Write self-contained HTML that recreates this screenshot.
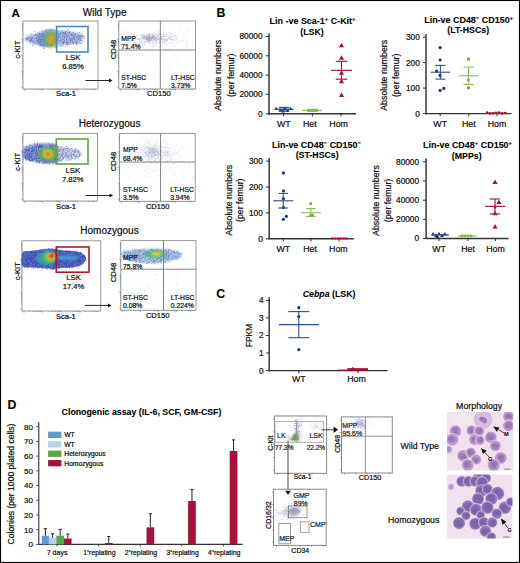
<!DOCTYPE html>
<html><head><meta charset="utf-8"><style>
html,body{margin:0;padding:0;background:#fff;width:520px;height:563px;overflow:hidden;}
svg{display:block;}
text{font-family:"Liberation Sans",sans-serif;}
</style></head><body>
<svg width="520" height="563" viewBox="0 0 520 563" font-family="Liberation Sans, sans-serif">
<defs>
<filter id="b4" x="-50%" y="-50%" width="200%" height="200%"><feGaussianBlur stdDeviation="0.4"/></filter>
<filter id="b6" x="-50%" y="-50%" width="200%" height="200%"><feGaussianBlur stdDeviation="0.6"/></filter>
<filter id="b8" x="-50%" y="-50%" width="200%" height="200%"><feGaussianBlur stdDeviation="0.8"/></filter>
<filter id="b10" x="-50%" y="-50%" width="200%" height="200%"><feGaussianBlur stdDeviation="1.0"/></filter>
<filter id="b12" x="-50%" y="-50%" width="200%" height="200%"><feGaussianBlur stdDeviation="1.2"/></filter>
<filter id="b13" x="-50%" y="-50%" width="200%" height="200%"><feGaussianBlur stdDeviation="1.3"/></filter>
<filter id="b15" x="-50%" y="-50%" width="200%" height="200%"><feGaussianBlur stdDeviation="1.5"/></filter>
<filter id="b18" x="-50%" y="-50%" width="200%" height="200%"><feGaussianBlur stdDeviation="1.8"/></filter>
<clipPath id="cwt"><rect x="447" y="412" width="66" height="58.5"/></clipPath>
<clipPath id="cho"><rect x="447" y="474.6" width="65.5" height="64"/></clipPath>
</defs>
<rect x="0" y="0" width="520" height="563" fill="#fff"/>
<rect x="23" y="21" width="75" height="68" fill="none" stroke="#999" stroke-width="1"/>
<path d="M21.2 87.0H23M25.0 89V90.8M22.1 82.2H23M30.3 89V89.9M22.1 79.4H23M33.5 89V89.9M22.1 77.4H23M35.7 89V89.9M22.1 75.8H23M37.4 89V89.9M22.1 74.5H23M38.8 89V89.9M22.1 73.5H23M40.0 89V89.9M22.1 72.6H23M41.0 89V89.9M22.1 71.7H23M41.9 89V89.9M21.2 71.0H23M42.8 89V90.8M22.1 66.2H23M48.1 89V89.9M22.1 63.4H23M51.2 89V89.9M22.1 61.4H23M53.4 89V89.9M22.1 59.8H23M55.2 89V89.9M22.1 58.5H23M56.6 89V89.9M22.1 57.5H23M57.8 89V89.9M22.1 56.6H23M58.8 89V89.9M22.1 55.7H23M59.7 89V89.9M21.2 55.0H23M60.5 89V90.8M22.1 50.2H23M65.8 89V89.9M22.1 47.4H23M69.0 89V89.9M22.1 45.4H23M71.2 89V89.9M22.1 43.8H23M72.9 89V89.9M22.1 42.5H23M74.3 89V89.9M22.1 41.5H23M75.5 89V89.9M22.1 40.6H23M76.5 89V89.9M22.1 39.7H23M77.4 89V89.9M21.2 39.0H23M78.2 89V90.8M22.1 34.2H23M83.6 89V89.9M22.1 31.4H23M86.7 89V89.9M22.1 29.4H23M88.9 89V89.9M22.1 27.8H23M90.7 89V89.9M22.1 26.5H23M92.1 89V89.9M22.1 25.5H23M93.3 89V89.9M22.1 24.6H23M94.3 89V89.9M22.1 23.7H23M95.2 89V89.9" stroke="#666" stroke-width="0.5" fill="none"/>
<path d="M25.5,37.5 C27.08,36.33 31.75,34.75 35,33.5 C38.25,32.25 42.17,30.75 45,30 C47.83,29.25 49.83,28.92 52,29 C54.17,29.08 55.00,30.08 58,30.5 C61.00,30.92 66.33,31.00 70,31.5 C73.67,32.00 77.67,32.50 80,33.5 C82.33,34.50 84.00,36.00 84,37.5 C84.00,39.00 82.33,41.42 80,42.5 C77.67,43.58 73.67,43.50 70,44 C66.33,44.50 61.33,44.92 58,45.5 C54.67,46.08 52.67,47.33 50,47.5 C47.33,47.67 44.83,47.17 42,46.5 C39.17,45.83 35.75,44.50 33,43.5 C30.25,42.50 26.75,41.50 25.5,40.5 C24.25,39.50 23.92,38.67 25.5,37.5Z" fill="#6a80c4" opacity="0.5" filter="url(#b12)"/>
<path d="M44.0 31.0h0.8v0.8h-0.8zM48.8 33.6h0.8v0.8h-0.8zM56.9 40.5h0.8v0.8h-0.8zM53.4 42.3h0.8v0.8h-0.8zM46.6 31.3h0.8v0.8h-0.8zM79.0 41.6h0.8v0.8h-0.8zM53.1 43.0h0.8v0.8h-0.8zM39.4 33.6h0.8v0.8h-0.8zM55.2 44.7h0.8v0.8h-0.8zM62.5 43.1h0.8v0.8h-0.8zM32.9 38.8h0.8v0.8h-0.8zM70.1 41.3h0.8v0.8h-0.8zM41.3 34.4h0.8v0.8h-0.8zM73.4 36.1h0.8v0.8h-0.8zM58.1 39.9h0.8v0.8h-0.8zM78.7 40.2h0.8v0.8h-0.8zM69.0 33.0h0.8v0.8h-0.8zM67.6 33.4h0.8v0.8h-0.8zM44.3 32.8h0.8v0.8h-0.8zM30.5 39.8h0.8v0.8h-0.8zM69.5 37.3h0.8v0.8h-0.8zM71.6 35.0h0.8v0.8h-0.8zM80.7 40.1h0.8v0.8h-0.8zM73.4 33.9h0.8v0.8h-0.8zM45.1 30.7h0.8v0.8h-0.8zM77.0 40.8h0.8v0.8h-0.8zM45.5 31.3h0.8v0.8h-0.8zM49.9 31.1h0.8v0.8h-0.8zM36.3 38.2h0.8v0.8h-0.8zM54.1 31.8h0.8v0.8h-0.8zM40.2 39.2h0.8v0.8h-0.8zM48.4 30.8h0.8v0.8h-0.8zM65.4 39.7h0.8v0.8h-0.8zM30.1 38.9h0.8v0.8h-0.8zM66.5 37.2h0.8v0.8h-0.8zM40.9 38.3h0.8v0.8h-0.8zM69.3 38.4h0.8v0.8h-0.8zM75.4 34.5h0.8v0.8h-0.8zM37.6 36.2h0.8v0.8h-0.8zM66.6 37.2h0.8v0.8h-0.8zM62.2 38.7h0.8v0.8h-0.8zM36.5 39.7h0.8v0.8h-0.8zM33.2 34.8h0.8v0.8h-0.8zM67.4 42.8h0.8v0.8h-0.8zM29.4 39.9h0.8v0.8h-0.8zM63.1 44.1h0.8v0.8h-0.8zM37.6 37.4h0.8v0.8h-0.8zM59.5 42.7h0.8v0.8h-0.8zM74.3 38.3h0.8v0.8h-0.8zM74.6 34.4h0.8v0.8h-0.8zM31.7 37.4h0.8v0.8h-0.8zM68.7 39.0h0.8v0.8h-0.8zM58.5 33.5h0.8v0.8h-0.8zM66.4 33.1h0.8v0.8h-0.8zM44.3 38.3h0.8v0.8h-0.8zM75.5 37.4h0.8v0.8h-0.8zM52.4 31.9h0.8v0.8h-0.8zM69.6 41.9h0.8v0.8h-0.8zM68.0 36.8h0.8v0.8h-0.8zM53.1 33.6h0.8v0.8h-0.8zM61.8 44.7h0.8v0.8h-0.8zM54.6 42.2h0.8v0.8h-0.8zM70.4 33.3h0.8v0.8h-0.8zM32.3 41.1h0.8v0.8h-0.8zM53.6 38.9h0.8v0.8h-0.8zM51.2 47.7h0.8v0.8h-0.8zM45.9 39.5h0.8v0.8h-0.8zM51.5 35.6h0.8v0.8h-0.8zM37.7 35.9h0.8v0.8h-0.8zM81.5 32.4h0.8v0.8h-0.8zM45.7 34.4h0.8v0.8h-0.8zM48.2 34.3h0.8v0.8h-0.8zM48.4 38.3h0.8v0.8h-0.8zM61.6 32.1h0.8v0.8h-0.8zM63.9 34.1h0.8v0.8h-0.8zM73.0 32.8h0.8v0.8h-0.8z" fill="#8a98d8" opacity="0.75"/><path d="M30.0 40.0h0.8v0.8h-0.8zM30.6 39.7h0.8v0.8h-0.8zM54.5 35.0h0.8v0.8h-0.8zM53.5 41.4h0.8v0.8h-0.8zM72.9 42.7h0.8v0.8h-0.8zM62.1 30.6h0.8v0.8h-0.8zM49.0 43.0h0.8v0.8h-0.8zM49.0 32.8h0.8v0.8h-0.8zM62.5 38.8h0.8v0.8h-0.8zM48.3 46.6h0.8v0.8h-0.8zM34.8 35.1h0.8v0.8h-0.8zM52.6 43.3h0.8v0.8h-0.8zM71.0 38.0h0.8v0.8h-0.8zM62.5 35.2h0.8v0.8h-0.8zM56.1 31.2h0.8v0.8h-0.8zM72.7 43.1h0.8v0.8h-0.8zM54.4 32.3h0.8v0.8h-0.8zM62.5 36.7h0.8v0.8h-0.8zM71.4 42.7h0.8v0.8h-0.8zM59.1 34.0h0.8v0.8h-0.8zM60.8 39.8h0.8v0.8h-0.8zM51.1 29.1h0.8v0.8h-0.8zM78.7 36.4h0.8v0.8h-0.8zM71.6 32.6h0.8v0.8h-0.8zM58.5 35.4h0.8v0.8h-0.8zM66.2 31.2h0.8v0.8h-0.8zM76.9 39.3h0.8v0.8h-0.8zM52.3 30.3h0.8v0.8h-0.8zM36.1 37.1h0.8v0.8h-0.8zM51.4 39.7h0.8v0.8h-0.8zM46.0 44.0h0.8v0.8h-0.8zM41.0 34.6h0.8v0.8h-0.8zM68.6 32.1h0.8v0.8h-0.8zM50.5 42.0h0.8v0.8h-0.8zM64.3 32.2h0.8v0.8h-0.8zM42.0 35.1h0.8v0.8h-0.8zM36.5 33.7h0.8v0.8h-0.8zM47.1 41.7h0.8v0.8h-0.8zM50.1 40.8h0.8v0.8h-0.8zM39.3 39.6h0.8v0.8h-0.8zM42.0 39.2h0.8v0.8h-0.8zM46.3 34.5h0.8v0.8h-0.8zM48.2 42.8h0.8v0.8h-0.8zM42.9 40.4h0.8v0.8h-0.8zM37.3 32.5h0.8v0.8h-0.8zM40.6 35.6h0.8v0.8h-0.8zM62.5 39.6h0.8v0.8h-0.8zM72.7 37.8h0.8v0.8h-0.8zM63.9 32.1h0.8v0.8h-0.8zM57.6 35.2h0.8v0.8h-0.8zM54.4 39.8h0.8v0.8h-0.8zM64.3 40.3h0.8v0.8h-0.8zM49.2 42.2h0.8v0.8h-0.8zM65.1 33.6h0.8v0.8h-0.8zM31.4 37.4h0.8v0.8h-0.8zM46.8 45.6h0.8v0.8h-0.8zM43.5 42.9h0.8v0.8h-0.8zM77.3 42.1h0.8v0.8h-0.8zM32.2 37.5h0.8v0.8h-0.8zM37.0 35.4h0.8v0.8h-0.8zM36.0 43.4h0.8v0.8h-0.8zM36.3 35.3h0.8v0.8h-0.8zM79.0 37.6h0.8v0.8h-0.8zM58.0 43.7h0.8v0.8h-0.8zM34.5 41.8h0.8v0.8h-0.8zM38.9 37.6h0.8v0.8h-0.8zM48.2 31.7h0.8v0.8h-0.8zM36.9 39.9h0.8v0.8h-0.8zM52.4 32.2h0.8v0.8h-0.8zM80.3 35.1h0.8v0.8h-0.8zM26.9 39.2h0.8v0.8h-0.8zM50.9 41.9h0.8v0.8h-0.8zM56.0 32.6h0.8v0.8h-0.8zM60.0 34.1h0.8v0.8h-0.8zM60.4 37.5h0.8v0.8h-0.8zM70.6 34.4h0.8v0.8h-0.8zM76.6 38.0h0.8v0.8h-0.8z" fill="#9098c8" opacity="0.75"/><path d="M50.7 29.3h0.8v0.8h-0.8zM53.2 41.7h0.8v0.8h-0.8zM64.8 35.8h0.8v0.8h-0.8zM38.5 40.0h0.8v0.8h-0.8zM48.0 34.6h0.8v0.8h-0.8zM70.1 39.7h0.8v0.8h-0.8zM42.0 35.6h0.8v0.8h-0.8zM51.1 31.7h0.8v0.8h-0.8zM36.5 40.5h0.8v0.8h-0.8zM62.9 42.4h0.8v0.8h-0.8zM63.4 42.4h0.8v0.8h-0.8zM75.8 41.8h0.8v0.8h-0.8zM61.4 41.6h0.8v0.8h-0.8zM44.5 40.5h0.8v0.8h-0.8zM78.2 39.1h0.8v0.8h-0.8zM51.1 38.5h0.8v0.8h-0.8zM50.0 36.2h0.8v0.8h-0.8zM45.8 31.3h0.8v0.8h-0.8zM43.5 46.6h0.8v0.8h-0.8zM76.2 43.2h0.8v0.8h-0.8zM54.6 38.7h0.8v0.8h-0.8zM35.0 42.9h0.8v0.8h-0.8zM37.8 43.3h0.8v0.8h-0.8zM47.0 39.9h0.8v0.8h-0.8zM52.2 39.1h0.8v0.8h-0.8zM28.9 34.7h0.8v0.8h-0.8zM59.6 34.8h0.8v0.8h-0.8zM63.4 34.0h0.8v0.8h-0.8zM34.1 42.1h0.8v0.8h-0.8zM63.0 32.8h0.8v0.8h-0.8zM40.8 39.1h0.8v0.8h-0.8zM26.6 38.8h0.8v0.8h-0.8zM82.6 35.4h0.8v0.8h-0.8zM67.5 42.2h0.8v0.8h-0.8zM40.1 43.9h0.8v0.8h-0.8zM76.2 41.8h0.8v0.8h-0.8zM67.7 43.9h0.8v0.8h-0.8zM56.7 41.5h0.8v0.8h-0.8zM66.4 37.7h0.8v0.8h-0.8zM67.8 36.8h0.8v0.8h-0.8zM72.5 32.6h0.8v0.8h-0.8zM76.9 39.8h0.8v0.8h-0.8zM43.7 46.2h0.8v0.8h-0.8zM53.3 35.7h0.8v0.8h-0.8zM67.2 45.4h0.8v0.8h-0.8zM55.3 42.7h0.8v0.8h-0.8zM62.5 42.0h0.8v0.8h-0.8zM43.6 35.7h0.8v0.8h-0.8zM33.4 43.7h0.8v0.8h-0.8zM43.4 39.7h0.8v0.8h-0.8zM60.2 45.5h0.8v0.8h-0.8zM41.0 34.1h0.8v0.8h-0.8zM63.5 36.9h0.8v0.8h-0.8zM39.7 44.8h0.8v0.8h-0.8zM75.7 41.8h0.8v0.8h-0.8zM43.0 32.7h0.8v0.8h-0.8zM73.0 41.6h0.8v0.8h-0.8z" fill="#4060b0" opacity="0.75"/><path d="M59.4 36.1h0.8v0.8h-0.8zM41.9 30.8h0.8v0.8h-0.8zM83.5 36.1h0.8v0.8h-0.8zM71.6 40.5h0.8v0.8h-0.8zM62.6 38.9h0.8v0.8h-0.8zM39.4 44.0h0.8v0.8h-0.8zM50.6 34.3h0.8v0.8h-0.8zM46.3 44.1h0.8v0.8h-0.8zM48.1 36.3h0.8v0.8h-0.8zM37.8 36.3h0.8v0.8h-0.8zM52.6 37.1h0.8v0.8h-0.8zM29.9 37.0h0.8v0.8h-0.8zM55.1 34.5h0.8v0.8h-0.8zM59.5 35.3h0.8v0.8h-0.8zM60.2 32.1h0.8v0.8h-0.8zM34.3 41.6h0.8v0.8h-0.8zM36.1 41.2h0.8v0.8h-0.8zM50.0 29.9h0.8v0.8h-0.8zM71.2 39.3h0.8v0.8h-0.8zM53.3 40.1h0.8v0.8h-0.8zM44.0 33.2h0.8v0.8h-0.8zM59.1 30.7h0.8v0.8h-0.8zM79.7 37.8h0.8v0.8h-0.8zM68.8 37.1h0.8v0.8h-0.8zM55.6 30.8h0.8v0.8h-0.8zM62.1 33.0h0.8v0.8h-0.8zM77.6 37.9h0.8v0.8h-0.8zM67.3 29.7h0.8v0.8h-0.8zM42.4 37.7h0.8v0.8h-0.8zM41.5 36.2h0.8v0.8h-0.8zM55.3 41.9h0.8v0.8h-0.8zM32.4 41.2h0.8v0.8h-0.8zM58.8 45.6h0.8v0.8h-0.8zM72.5 38.0h0.8v0.8h-0.8zM58.1 33.9h0.8v0.8h-0.8zM54.9 46.0h0.8v0.8h-0.8zM62.1 41.3h0.8v0.8h-0.8zM55.0 46.5h0.8v0.8h-0.8zM43.4 36.5h0.8v0.8h-0.8zM51.9 33.6h0.8v0.8h-0.8zM72.5 37.8h0.8v0.8h-0.8zM46.5 32.1h0.8v0.8h-0.8zM61.3 33.2h0.8v0.8h-0.8zM37.9 39.2h0.8v0.8h-0.8zM44.6 37.2h0.8v0.8h-0.8zM44.5 45.4h0.8v0.8h-0.8zM73.9 34.9h0.8v0.8h-0.8zM77.7 44.3h0.8v0.8h-0.8zM75.1 42.7h0.8v0.8h-0.8zM54.7 34.8h0.8v0.8h-0.8zM56.7 38.7h0.8v0.8h-0.8zM68.7 44.2h0.8v0.8h-0.8zM73.3 37.3h0.8v0.8h-0.8zM70.7 39.7h0.8v0.8h-0.8zM63.3 40.7h0.8v0.8h-0.8zM33.9 41.6h0.8v0.8h-0.8zM46.6 38.7h0.8v0.8h-0.8zM69.1 35.3h0.8v0.8h-0.8zM76.2 41.6h0.8v0.8h-0.8zM34.3 38.9h0.8v0.8h-0.8zM39.7 41.5h0.8v0.8h-0.8zM38.9 42.7h0.8v0.8h-0.8zM44.8 43.8h0.8v0.8h-0.8zM42.5 39.4h0.8v0.8h-0.8zM67.4 41.0h0.8v0.8h-0.8zM44.6 37.8h0.8v0.8h-0.8zM55.2 42.5h0.8v0.8h-0.8zM65.9 39.4h0.8v0.8h-0.8zM52.5 43.5h0.8v0.8h-0.8zM51.9 38.3h0.8v0.8h-0.8zM44.0 46.8h0.8v0.8h-0.8zM60.1 38.2h0.8v0.8h-0.8zM38.9 32.4h0.8v0.8h-0.8zM73.3 32.6h0.8v0.8h-0.8zM54.0 35.5h0.8v0.8h-0.8zM50.0 34.4h0.8v0.8h-0.8zM75.7 35.5h0.8v0.8h-0.8zM63.6 42.3h0.8v0.8h-0.8zM57.8 30.6h0.8v0.8h-0.8zM75.1 41.8h0.8v0.8h-0.8zM43.5 44.7h0.8v0.8h-0.8zM57.9 40.4h0.8v0.8h-0.8zM41.8 44.3h0.8v0.8h-0.8zM78.6 37.4h0.8v0.8h-0.8zM56.6 37.8h0.8v0.8h-0.8zM39.4 42.1h0.8v0.8h-0.8zM69.6 38.3h0.8v0.8h-0.8zM67.5 42.5h0.8v0.8h-0.8zM70.0 38.0h0.8v0.8h-0.8zM39.6 39.1h0.8v0.8h-0.8z" fill="#6f78b0" opacity="0.75"/><path d="M58.7 40.7h0.8v0.8h-0.8zM53.1 31.8h0.8v0.8h-0.8zM44.2 39.2h0.8v0.8h-0.8zM55.7 34.9h0.8v0.8h-0.8zM49.0 39.0h0.8v0.8h-0.8zM44.5 31.3h0.8v0.8h-0.8zM67.3 31.9h0.8v0.8h-0.8zM30.5 37.7h0.8v0.8h-0.8zM30.7 40.3h0.8v0.8h-0.8zM42.7 45.3h0.8v0.8h-0.8zM26.8 39.6h0.8v0.8h-0.8zM63.8 34.2h0.8v0.8h-0.8zM73.7 36.2h0.8v0.8h-0.8zM62.7 36.0h0.8v0.8h-0.8zM43.2 48.0h0.8v0.8h-0.8zM38.1 41.4h0.8v0.8h-0.8zM76.2 42.0h0.8v0.8h-0.8zM37.6 42.8h0.8v0.8h-0.8zM54.6 39.1h0.8v0.8h-0.8zM52.8 39.6h0.8v0.8h-0.8zM46.2 41.3h0.8v0.8h-0.8zM54.4 34.8h0.8v0.8h-0.8zM59.0 37.2h0.8v0.8h-0.8zM77.1 35.6h0.8v0.8h-0.8zM53.4 33.8h0.8v0.8h-0.8zM81.2 33.0h0.8v0.8h-0.8zM61.4 39.7h0.8v0.8h-0.8zM42.3 43.9h0.8v0.8h-0.8zM59.3 40.0h0.8v0.8h-0.8zM45.2 38.9h0.8v0.8h-0.8zM48.9 29.2h0.8v0.8h-0.8zM58.1 37.6h0.8v0.8h-0.8zM56.4 35.1h0.8v0.8h-0.8zM36.3 42.5h0.8v0.8h-0.8zM74.6 34.5h0.8v0.8h-0.8zM62.1 46.0h0.8v0.8h-0.8zM44.5 37.6h0.8v0.8h-0.8zM38.8 44.5h0.8v0.8h-0.8zM69.9 41.4h0.8v0.8h-0.8zM60.1 39.4h0.8v0.8h-0.8zM39.7 39.5h0.8v0.8h-0.8zM59.3 42.4h0.8v0.8h-0.8zM66.6 34.6h0.8v0.8h-0.8zM76.4 41.4h0.8v0.8h-0.8zM61.9 35.6h0.8v0.8h-0.8zM70.2 39.6h0.8v0.8h-0.8zM52.6 38.0h0.8v0.8h-0.8zM43.4 38.9h0.8v0.8h-0.8zM75.2 33.9h0.8v0.8h-0.8zM64.7 36.1h0.8v0.8h-0.8zM74.6 36.3h0.8v0.8h-0.8zM29.4 36.0h0.8v0.8h-0.8zM46.2 42.4h0.8v0.8h-0.8zM76.9 42.9h0.8v0.8h-0.8zM46.5 46.3h0.8v0.8h-0.8zM53.8 41.2h0.8v0.8h-0.8zM51.2 42.6h0.8v0.8h-0.8zM82.0 41.5h0.8v0.8h-0.8zM57.3 31.5h0.8v0.8h-0.8zM28.8 37.3h0.8v0.8h-0.8zM64.8 30.7h0.8v0.8h-0.8zM37.2 34.7h0.8v0.8h-0.8zM65.6 42.6h0.8v0.8h-0.8zM57.3 36.2h0.8v0.8h-0.8zM81.4 36.5h0.8v0.8h-0.8zM79.7 41.8h0.8v0.8h-0.8zM53.0 46.6h0.8v0.8h-0.8zM79.7 39.3h0.8v0.8h-0.8zM83.2 36.2h0.8v0.8h-0.8zM41.6 41.0h0.8v0.8h-0.8zM36.3 38.6h0.8v0.8h-0.8zM76.8 42.6h0.8v0.8h-0.8zM63.0 42.3h0.8v0.8h-0.8zM60.0 39.8h0.8v0.8h-0.8zM58.6 33.7h0.8v0.8h-0.8zM44.3 45.5h0.8v0.8h-0.8zM66.2 38.9h0.8v0.8h-0.8zM39.4 39.7h0.8v0.8h-0.8zM64.3 41.5h0.8v0.8h-0.8zM30.0 38.6h0.8v0.8h-0.8zM48.4 36.0h0.8v0.8h-0.8zM44.8 36.9h0.8v0.8h-0.8zM47.4 34.0h0.8v0.8h-0.8zM56.8 42.5h0.8v0.8h-0.8zM48.5 39.2h0.8v0.8h-0.8zM77.5 36.4h0.8v0.8h-0.8z" fill="#5a78c8" opacity="0.75"/><path d="M31.5 36.5h0.8v0.8h-0.8zM39.4 36.0h0.8v0.8h-0.8zM68.9 39.3h0.8v0.8h-0.8zM39.1 33.9h0.8v0.8h-0.8zM54.9 39.0h0.8v0.8h-0.8zM66.5 41.9h0.8v0.8h-0.8zM77.7 36.0h0.8v0.8h-0.8zM34.5 31.2h0.8v0.8h-0.8zM81.6 42.9h0.8v0.8h-0.8zM54.5 32.0h0.8v0.8h-0.8zM81.0 34.7h0.8v0.8h-0.8zM66.4 31.0h0.8v0.8h-0.8zM62.3 32.2h0.8v0.8h-0.8zM50.1 44.9h0.8v0.8h-0.8zM51.5 37.0h0.8v0.8h-0.8zM31.3 38.9h0.8v0.8h-0.8zM62.4 36.5h0.8v0.8h-0.8zM34.9 34.3h0.8v0.8h-0.8zM77.2 37.2h0.8v0.8h-0.8zM51.0 44.0h0.8v0.8h-0.8zM67.7 41.0h0.8v0.8h-0.8zM45.8 41.2h0.8v0.8h-0.8zM73.0 35.3h0.8v0.8h-0.8zM58.1 33.3h0.8v0.8h-0.8zM47.9 40.2h0.8v0.8h-0.8zM63.6 41.0h0.8v0.8h-0.8zM71.6 38.2h0.8v0.8h-0.8zM69.9 40.1h0.8v0.8h-0.8zM51.2 44.7h0.8v0.8h-0.8zM69.1 31.6h0.8v0.8h-0.8zM45.7 29.8h0.8v0.8h-0.8zM65.1 32.5h0.8v0.8h-0.8zM41.9 32.9h0.8v0.8h-0.8zM74.3 38.6h0.8v0.8h-0.8zM56.3 40.2h0.8v0.8h-0.8zM66.4 43.2h0.8v0.8h-0.8zM29.9 41.1h0.8v0.8h-0.8zM65.1 32.8h0.8v0.8h-0.8zM66.1 39.2h0.8v0.8h-0.8zM67.9 34.8h0.8v0.8h-0.8zM80.6 40.0h0.8v0.8h-0.8zM61.6 44.0h0.8v0.8h-0.8zM71.7 38.8h0.8v0.8h-0.8zM62.9 39.2h0.8v0.8h-0.8zM52.0 39.9h0.8v0.8h-0.8zM56.1 37.3h0.8v0.8h-0.8zM47.0 41.7h0.8v0.8h-0.8zM49.6 37.7h0.8v0.8h-0.8zM66.1 42.6h0.8v0.8h-0.8zM32.5 45.1h0.8v0.8h-0.8zM42.6 40.4h0.8v0.8h-0.8zM43.2 38.5h0.8v0.8h-0.8zM71.6 35.3h0.8v0.8h-0.8zM32.4 37.3h0.8v0.8h-0.8zM36.5 37.3h0.8v0.8h-0.8zM48.7 41.9h0.8v0.8h-0.8zM47.3 35.5h0.8v0.8h-0.8zM38.9 34.9h0.8v0.8h-0.8zM55.3 40.9h0.8v0.8h-0.8zM81.5 36.2h0.8v0.8h-0.8zM38.5 37.8h0.8v0.8h-0.8zM65.3 32.2h0.8v0.8h-0.8zM40.0 45.0h0.8v0.8h-0.8zM55.4 46.3h0.8v0.8h-0.8zM30.0 40.1h0.8v0.8h-0.8zM39.7 41.8h0.8v0.8h-0.8zM76.1 42.7h0.8v0.8h-0.8zM35.5 37.8h0.8v0.8h-0.8zM78.8 35.1h0.8v0.8h-0.8zM64.2 37.1h0.8v0.8h-0.8zM30.6 33.6h0.8v0.8h-0.8zM56.8 45.7h0.8v0.8h-0.8zM73.4 42.1h0.8v0.8h-0.8zM54.9 38.0h0.8v0.8h-0.8zM58.6 37.2h0.8v0.8h-0.8zM66.7 35.5h0.8v0.8h-0.8zM74.2 37.9h0.8v0.8h-0.8zM52.4 40.3h0.8v0.8h-0.8zM56.7 35.3h0.8v0.8h-0.8zM42.6 43.2h0.8v0.8h-0.8zM51.1 44.3h0.8v0.8h-0.8zM42.1 45.8h0.8v0.8h-0.8zM38.2 39.8h0.8v0.8h-0.8zM69.9 41.9h0.8v0.8h-0.8zM79.1 36.8h0.8v0.8h-0.8zM65.6 33.8h0.8v0.8h-0.8zM37.0 41.7h0.8v0.8h-0.8zM27.8 37.1h0.8v0.8h-0.8zM71.8 40.1h0.8v0.8h-0.8zM50.6 38.3h0.8v0.8h-0.8zM71.0 34.2h0.8v0.8h-0.8zM36.5 40.1h0.8v0.8h-0.8zM49.8 33.9h0.8v0.8h-0.8z" fill="#2c48a8" opacity="0.75"/><path d="M54.5 44.5h0.8v0.8h-0.8zM53.8 29.6h0.8v0.8h-0.8zM46.3 42.2h0.8v0.8h-0.8zM36.5 38.1h0.8v0.8h-0.8zM51.2 29.3h0.8v0.8h-0.8zM71.7 33.5h0.8v0.8h-0.8zM51.9 34.9h0.8v0.8h-0.8zM62.8 31.9h0.8v0.8h-0.8zM52.7 43.8h0.8v0.8h-0.8zM32.1 37.7h0.8v0.8h-0.8zM56.2 35.7h0.8v0.8h-0.8zM38.6 33.0h0.8v0.8h-0.8zM40.0 43.4h0.8v0.8h-0.8zM44.1 48.3h0.8v0.8h-0.8zM38.6 39.1h0.8v0.8h-0.8zM31.5 40.3h0.8v0.8h-0.8zM63.1 33.6h0.8v0.8h-0.8zM42.8 38.7h0.8v0.8h-0.8zM40.2 41.3h0.8v0.8h-0.8zM75.9 44.8h0.8v0.8h-0.8zM42.2 34.8h0.8v0.8h-0.8zM57.1 32.3h0.8v0.8h-0.8zM76.3 36.9h0.8v0.8h-0.8zM49.8 36.6h0.8v0.8h-0.8zM52.9 44.2h0.8v0.8h-0.8zM50.4 41.1h0.8v0.8h-0.8zM42.2 39.5h0.8v0.8h-0.8zM78.1 42.2h0.8v0.8h-0.8zM66.0 40.4h0.8v0.8h-0.8zM27.9 39.4h0.8v0.8h-0.8zM77.3 33.4h0.8v0.8h-0.8zM41.7 35.3h0.8v0.8h-0.8zM52.4 39.3h0.8v0.8h-0.8zM44.8 35.2h0.8v0.8h-0.8zM46.6 29.4h0.8v0.8h-0.8zM36.4 34.1h0.8v0.8h-0.8zM66.6 36.0h0.8v0.8h-0.8zM52.4 43.8h0.8v0.8h-0.8zM25.1 38.0h0.8v0.8h-0.8zM46.2 29.7h0.8v0.8h-0.8zM60.1 33.0h0.8v0.8h-0.8zM44.4 36.4h0.8v0.8h-0.8zM56.3 38.1h0.8v0.8h-0.8zM41.0 33.3h0.8v0.8h-0.8zM58.1 38.5h0.8v0.8h-0.8zM39.4 35.7h0.8v0.8h-0.8zM55.6 34.7h0.8v0.8h-0.8zM26.4 34.6h0.8v0.8h-0.8zM36.3 34.5h0.8v0.8h-0.8zM52.9 39.5h0.8v0.8h-0.8zM33.5 41.8h0.8v0.8h-0.8zM79.0 43.3h0.8v0.8h-0.8zM32.3 42.5h0.8v0.8h-0.8zM72.4 43.3h0.8v0.8h-0.8zM31.2 38.1h0.8v0.8h-0.8zM27.1 37.9h0.8v0.8h-0.8zM39.7 39.7h0.8v0.8h-0.8zM65.5 44.1h0.8v0.8h-0.8zM73.3 43.5h0.8v0.8h-0.8zM79.2 32.1h0.8v0.8h-0.8zM48.3 29.8h0.8v0.8h-0.8zM47.5 42.6h0.8v0.8h-0.8zM73.2 36.7h0.8v0.8h-0.8zM68.2 43.5h0.8v0.8h-0.8zM51.4 30.8h0.8v0.8h-0.8zM73.7 40.9h0.8v0.8h-0.8zM62.6 42.6h0.8v0.8h-0.8zM55.2 38.3h0.8v0.8h-0.8zM53.1 30.3h0.8v0.8h-0.8zM37.4 40.4h0.8v0.8h-0.8zM64.8 31.5h0.8v0.8h-0.8zM69.0 32.1h0.8v0.8h-0.8zM49.2 36.9h0.8v0.8h-0.8zM57.7 35.9h0.8v0.8h-0.8zM70.5 43.4h0.8v0.8h-0.8zM67.1 43.9h0.8v0.8h-0.8zM62.3 30.3h0.8v0.8h-0.8zM73.9 39.4h0.8v0.8h-0.8zM69.5 42.7h0.8v0.8h-0.8zM68.0 32.5h0.8v0.8h-0.8zM27.2 38.3h0.8v0.8h-0.8zM60.0 39.9h0.8v0.8h-0.8zM39.1 42.4h0.8v0.8h-0.8zM56.7 42.4h0.8v0.8h-0.8z" fill="#3b5bb8" opacity="0.75"/><path d="M41.3 36.5h0.8v0.8h-0.8zM48.5 36.0h0.8v0.8h-0.8zM76.2 44.6h0.8v0.8h-0.8zM82.5 35.4h0.8v0.8h-0.8zM44.5 40.8h0.8v0.8h-0.8zM75.1 36.0h0.8v0.8h-0.8zM35.4 34.8h0.8v0.8h-0.8zM75.2 39.5h0.8v0.8h-0.8zM70.7 36.2h0.8v0.8h-0.8zM59.3 35.3h0.8v0.8h-0.8zM28.6 38.8h0.8v0.8h-0.8zM36.4 44.5h0.8v0.8h-0.8zM60.6 44.6h0.8v0.8h-0.8zM42.2 39.6h0.8v0.8h-0.8zM49.7 45.9h0.8v0.8h-0.8zM30.9 38.1h0.8v0.8h-0.8zM46.2 30.9h0.8v0.8h-0.8zM73.7 44.4h0.8v0.8h-0.8zM29.5 38.4h0.8v0.8h-0.8zM75.0 33.2h0.8v0.8h-0.8zM79.2 38.3h0.8v0.8h-0.8zM52.5 30.8h0.8v0.8h-0.8zM65.0 46.5h0.8v0.8h-0.8zM58.2 37.9h0.8v0.8h-0.8zM38.6 40.5h0.8v0.8h-0.8zM68.0 31.9h0.8v0.8h-0.8zM54.5 33.5h0.8v0.8h-0.8zM82.3 34.6h0.8v0.8h-0.8zM63.9 42.1h0.8v0.8h-0.8zM45.8 42.9h0.8v0.8h-0.8zM42.5 35.0h0.8v0.8h-0.8zM51.2 33.3h0.8v0.8h-0.8zM38.7 35.6h0.8v0.8h-0.8zM74.4 33.7h0.8v0.8h-0.8zM72.5 42.2h0.8v0.8h-0.8zM33.4 42.0h0.8v0.8h-0.8zM32.5 43.5h0.8v0.8h-0.8zM54.6 41.9h0.8v0.8h-0.8zM36.6 37.6h0.8v0.8h-0.8zM54.0 44.3h0.8v0.8h-0.8zM33.5 35.0h0.8v0.8h-0.8zM49.8 40.4h0.8v0.8h-0.8zM34.9 40.1h0.8v0.8h-0.8zM62.6 34.9h0.8v0.8h-0.8zM59.9 36.2h0.8v0.8h-0.8zM35.9 40.7h0.8v0.8h-0.8zM56.0 37.3h0.8v0.8h-0.8zM41.0 33.0h0.8v0.8h-0.8zM57.4 35.3h0.8v0.8h-0.8zM39.4 33.2h0.8v0.8h-0.8zM41.7 35.8h0.8v0.8h-0.8zM52.0 39.5h0.8v0.8h-0.8zM72.1 32.7h0.8v0.8h-0.8zM75.2 41.2h0.8v0.8h-0.8zM60.9 45.6h0.8v0.8h-0.8zM56.8 42.9h0.8v0.8h-0.8zM55.5 32.2h0.8v0.8h-0.8zM42.2 34.6h0.8v0.8h-0.8zM47.9 44.7h0.8v0.8h-0.8zM52.6 42.8h0.8v0.8h-0.8zM80.1 38.1h0.8v0.8h-0.8zM55.9 37.9h0.8v0.8h-0.8zM72.0 39.1h0.8v0.8h-0.8zM77.2 35.3h0.8v0.8h-0.8zM83.9 36.9h0.8v0.8h-0.8zM44.8 31.2h0.8v0.8h-0.8zM56.7 31.6h0.8v0.8h-0.8zM70.7 34.8h0.8v0.8h-0.8zM55.4 38.1h0.8v0.8h-0.8zM66.9 37.5h0.8v0.8h-0.8zM39.4 42.3h0.8v0.8h-0.8zM63.0 37.9h0.8v0.8h-0.8zM63.6 38.0h0.8v0.8h-0.8zM30.9 42.4h0.8v0.8h-0.8zM41.0 45.1h0.8v0.8h-0.8zM64.5 39.5h0.8v0.8h-0.8zM52.6 38.0h0.8v0.8h-0.8zM79.9 38.5h0.8v0.8h-0.8zM33.7 39.1h0.8v0.8h-0.8z" fill="#a0a8d0" opacity="0.75"/><path d="M53.8 40.1h0.8v0.8h-0.8zM45.2 45.2h0.8v0.8h-0.8zM36.8 43.3h0.8v0.8h-0.8zM57.8 37.3h0.8v0.8h-0.8zM54.3 42.3h0.8v0.8h-0.8zM49.9 46.3h0.8v0.8h-0.8zM46.5 46.5h0.8v0.8h-0.8zM72.7 39.3h0.8v0.8h-0.8zM48.5 33.5h0.8v0.8h-0.8zM30.7 40.6h0.8v0.8h-0.8zM52.9 45.3h0.8v0.8h-0.8zM64.7 46.2h0.8v0.8h-0.8zM61.0 37.8h0.8v0.8h-0.8zM50.0 41.3h0.8v0.8h-0.8zM79.6 36.8h0.8v0.8h-0.8zM40.1 42.4h0.8v0.8h-0.8zM48.6 39.4h0.8v0.8h-0.8zM72.2 39.5h0.8v0.8h-0.8zM80.0 38.2h0.8v0.8h-0.8zM75.0 40.0h0.8v0.8h-0.8zM50.6 33.3h0.8v0.8h-0.8zM59.8 32.0h0.8v0.8h-0.8zM41.5 41.2h0.8v0.8h-0.8zM54.4 38.3h0.8v0.8h-0.8zM52.4 36.1h0.8v0.8h-0.8zM71.6 34.9h0.8v0.8h-0.8zM75.6 39.6h0.8v0.8h-0.8zM56.0 48.5h0.8v0.8h-0.8zM40.7 41.0h0.8v0.8h-0.8zM51.8 37.4h0.8v0.8h-0.8zM47.5 34.1h0.8v0.8h-0.8zM43.3 40.8h0.8v0.8h-0.8zM65.5 38.8h0.8v0.8h-0.8zM65.5 41.9h0.8v0.8h-0.8zM34.6 35.7h0.8v0.8h-0.8zM58.0 35.9h0.8v0.8h-0.8zM68.1 29.6h0.8v0.8h-0.8zM37.6 42.0h0.8v0.8h-0.8zM60.1 32.8h0.8v0.8h-0.8zM75.3 33.1h0.8v0.8h-0.8zM55.4 30.8h0.8v0.8h-0.8zM84.1 38.2h0.8v0.8h-0.8zM40.3 36.9h0.8v0.8h-0.8zM54.9 35.2h0.8v0.8h-0.8zM48.6 34.5h0.8v0.8h-0.8zM29.6 40.8h0.8v0.8h-0.8zM55.4 40.2h0.8v0.8h-0.8zM30.9 39.6h0.8v0.8h-0.8zM49.6 41.6h0.8v0.8h-0.8zM52.0 43.4h0.8v0.8h-0.8zM56.9 38.4h0.8v0.8h-0.8zM54.3 46.8h0.8v0.8h-0.8zM33.1 40.1h0.8v0.8h-0.8zM56.0 42.0h0.8v0.8h-0.8zM83.2 41.0h0.8v0.8h-0.8zM55.9 44.0h0.8v0.8h-0.8zM34.2 38.5h0.8v0.8h-0.8zM51.0 42.2h0.8v0.8h-0.8zM80.4 37.2h0.8v0.8h-0.8zM76.8 37.4h0.8v0.8h-0.8zM69.6 39.6h0.8v0.8h-0.8zM70.2 31.5h0.8v0.8h-0.8zM67.2 42.0h0.8v0.8h-0.8zM52.2 39.3h0.8v0.8h-0.8zM45.8 35.7h0.8v0.8h-0.8zM51.3 29.6h0.8v0.8h-0.8zM65.5 34.9h0.8v0.8h-0.8zM72.9 36.5h0.8v0.8h-0.8zM34.0 38.3h0.8v0.8h-0.8zM71.7 37.1h0.8v0.8h-0.8zM27.2 38.7h0.8v0.8h-0.8zM44.7 33.4h0.8v0.8h-0.8zM71.6 37.8h0.8v0.8h-0.8zM64.6 37.9h0.8v0.8h-0.8zM46.0 32.2h0.8v0.8h-0.8zM51.4 46.4h0.8v0.8h-0.8zM42.6 37.4h0.8v0.8h-0.8zM42.6 42.7h0.8v0.8h-0.8zM47.4 32.0h0.8v0.8h-0.8zM64.0 33.3h0.8v0.8h-0.8zM70.8 33.6h0.8v0.8h-0.8zM55.3 38.3h0.8v0.8h-0.8zM66.2 28.7h0.8v0.8h-0.8zM42.7 33.4h0.8v0.8h-0.8zM67.6 44.7h0.8v0.8h-0.8zM73.4 39.1h0.8v0.8h-0.8zM41.5 45.9h0.8v0.8h-0.8z" fill="#7088d0" opacity="0.75"/><path d="M44.9 37.9h0.8v0.8h-0.8zM64.3 35.1h0.8v0.8h-0.8zM56.6 37.9h0.8v0.8h-0.8zM40.8 44.6h0.8v0.8h-0.8zM54.5 31.7h0.8v0.8h-0.8zM46.0 45.0h0.8v0.8h-0.8zM56.4 41.4h0.8v0.8h-0.8zM77.0 37.2h0.8v0.8h-0.8zM49.2 35.6h0.8v0.8h-0.8zM29.3 43.1h0.8v0.8h-0.8zM48.1 40.0h0.8v0.8h-0.8zM26.2 38.6h0.8v0.8h-0.8zM43.6 34.1h0.8v0.8h-0.8zM66.2 34.5h0.8v0.8h-0.8zM60.7 35.0h0.8v0.8h-0.8zM51.5 40.2h0.8v0.8h-0.8zM72.2 42.6h0.8v0.8h-0.8zM66.6 40.3h0.8v0.8h-0.8zM62.9 44.7h0.8v0.8h-0.8zM48.0 35.3h0.8v0.8h-0.8zM49.4 44.3h0.8v0.8h-0.8zM80.1 36.1h0.8v0.8h-0.8zM34.7 38.7h0.8v0.8h-0.8zM37.7 36.1h0.8v0.8h-0.8zM51.4 39.7h0.8v0.8h-0.8zM54.1 36.9h0.8v0.8h-0.8zM45.1 30.7h0.8v0.8h-0.8zM38.3 40.7h0.8v0.8h-0.8zM52.3 34.6h0.8v0.8h-0.8zM47.4 38.8h0.8v0.8h-0.8zM55.7 37.5h0.8v0.8h-0.8zM59.5 34.1h0.8v0.8h-0.8zM56.9 32.8h0.8v0.8h-0.8zM64.6 41.0h0.8v0.8h-0.8zM79.5 38.2h0.8v0.8h-0.8zM37.3 42.1h0.8v0.8h-0.8zM56.5 33.1h0.8v0.8h-0.8zM47.5 42.4h0.8v0.8h-0.8zM48.2 44.3h0.8v0.8h-0.8zM52.7 36.2h0.8v0.8h-0.8zM80.1 43.1h0.8v0.8h-0.8zM71.6 41.0h0.8v0.8h-0.8zM64.0 39.7h0.8v0.8h-0.8zM67.2 36.9h0.8v0.8h-0.8zM78.9 40.2h0.8v0.8h-0.8zM43.8 36.5h0.8v0.8h-0.8zM76.0 42.1h0.8v0.8h-0.8zM70.4 43.9h0.8v0.8h-0.8zM64.2 39.7h0.8v0.8h-0.8zM72.3 35.3h0.8v0.8h-0.8zM47.3 45.2h0.8v0.8h-0.8zM75.2 36.7h0.8v0.8h-0.8zM63.9 33.8h0.8v0.8h-0.8zM54.1 33.5h0.8v0.8h-0.8zM26.3 37.8h0.8v0.8h-0.8zM55.7 34.6h0.8v0.8h-0.8zM69.7 33.5h0.8v0.8h-0.8zM44.7 43.8h0.8v0.8h-0.8zM49.7 45.5h0.8v0.8h-0.8zM68.0 30.2h0.8v0.8h-0.8zM57.3 39.2h0.8v0.8h-0.8zM40.8 38.5h0.8v0.8h-0.8zM38.8 37.0h0.8v0.8h-0.8zM70.2 35.4h0.8v0.8h-0.8zM61.0 30.6h0.8v0.8h-0.8zM48.2 43.6h0.8v0.8h-0.8zM74.3 36.5h0.8v0.8h-0.8zM37.7 37.5h0.8v0.8h-0.8zM39.3 33.8h0.8v0.8h-0.8zM56.4 44.4h0.8v0.8h-0.8zM29.9 41.8h0.8v0.8h-0.8z" fill="#8088c0" opacity="0.75"/>
<ellipse cx="46" cy="39" rx="9" ry="7" fill="#4a84a8" opacity="0.5" filter="url(#b12)"/>
<ellipse cx="50.5" cy="39" rx="6.2" ry="7.8" fill="#7cb040" opacity="0.9" filter="url(#b12)"/>
<ellipse cx="51" cy="39.5" rx="3.2" ry="4.6" fill="#d4a230" opacity="0.95" filter="url(#b8)"/>
<rect x="56.6" y="26.5" width="31.4" height="25.5" fill="none" stroke="#4a88c8" stroke-width="1.6"/>
<rect x="23" y="133.4" width="74.5" height="67.6" fill="none" stroke="#999" stroke-width="1"/>
<path d="M21.2 199.0H23M25.0 201V202.8M22.1 194.2H23M30.3 201V201.9M22.1 191.4H23M33.4 201V201.9M22.1 189.4H23M35.6 201V201.9M22.1 187.9H23M37.3 201V201.9M22.1 186.6H23M38.7 201V201.9M22.1 185.6H23M39.9 201V201.9M22.1 184.6H23M40.9 201V201.9M22.1 183.8H23M41.8 201V201.9M21.2 183.1H23M42.6 201V202.8M22.1 178.3H23M47.9 201V201.9M22.1 175.5H23M51.0 201V201.9M22.1 173.5H23M53.2 201V201.9M22.1 172.0H23M54.9 201V201.9M22.1 170.7H23M56.3 201V201.9M22.1 169.7H23M57.5 201V201.9M22.1 168.7H23M58.5 201V201.9M22.1 167.9H23M59.4 201V201.9M21.2 167.2H23M60.2 201V202.8M22.1 162.4H23M65.6 201V201.9M22.1 159.6H23M68.7 201V201.9M22.1 157.6H23M70.9 201V201.9M22.1 156.1H23M72.6 201V201.9M22.1 154.8H23M74.0 201V201.9M22.1 153.8H23M75.1 201V201.9M22.1 152.8H23M76.2 201V201.9M22.1 152.0H23M77.1 201V201.9M21.2 151.3H23M77.9 201V202.8M22.1 146.5H23M83.2 201V201.9M22.1 143.7H23M86.3 201V201.9M22.1 141.7H23M88.5 201V201.9M22.1 140.2H23M90.2 201V201.9M22.1 138.9H23M91.6 201V201.9M22.1 137.9H23M92.8 201V201.9M22.1 136.9H23M93.8 201V201.9M22.1 136.1H23M94.7 201V201.9" stroke="#666" stroke-width="0.5" fill="none"/>
<path d="M23.5,148 C24.58,145.83 27.25,145.75 30,145 C32.75,144.25 36.67,143.75 40,143.5 C43.33,143.25 47.17,143.17 50,143.5 C52.83,143.83 55.83,142.42 57,145.5 C58.17,148.58 58.50,159.00 57,162 C55.50,165.00 51.17,163.42 48,163.5 C44.83,163.58 41.00,163.00 38,162.5 C35.00,162.00 32.42,161.25 30,160.5 C27.58,159.75 24.58,160.08 23.5,158 C22.42,155.92 22.42,150.17 23.5,148Z" fill="#3850b8" opacity="0.55" filter="url(#b10)"/>
<path d="M57,146.5 C58.50,144.25 62.83,147.08 66,147.5 C69.17,147.92 73.50,148.08 76,149 C78.50,149.92 80.83,151.42 81,153 C81.17,154.58 79.50,157.42 77,158.5 C74.50,159.58 69.33,159.08 66,159.5 C62.67,159.92 58.50,163.17 57,161 C55.50,158.83 55.50,148.75 57,146.5Z" fill="#8090cc" opacity="0.35" filter="url(#b10)"/>
<path d="M44.5 144.6h0.8v0.8h-0.8zM45.9 149.3h0.8v0.8h-0.8zM33.6 147.1h0.8v0.8h-0.8zM41.8 151.9h0.8v0.8h-0.8zM43.4 157.7h0.8v0.8h-0.8zM30.0 159.6h0.8v0.8h-0.8zM24.3 150.1h0.8v0.8h-0.8zM30.0 159.4h0.8v0.8h-0.8zM29.7 154.5h0.8v0.8h-0.8zM52.2 158.5h0.8v0.8h-0.8zM49.0 156.4h0.8v0.8h-0.8zM38.4 160.5h0.8v0.8h-0.8zM26.7 155.5h0.8v0.8h-0.8zM25.4 156.3h0.8v0.8h-0.8zM36.9 160.0h0.8v0.8h-0.8zM47.0 150.7h0.8v0.8h-0.8zM41.6 145.6h0.8v0.8h-0.8zM43.7 157.0h0.8v0.8h-0.8zM55.4 155.2h0.8v0.8h-0.8zM34.9 145.8h0.8v0.8h-0.8zM41.7 161.2h0.8v0.8h-0.8zM35.9 145.7h0.8v0.8h-0.8zM31.4 157.6h0.8v0.8h-0.8zM34.7 150.2h0.8v0.8h-0.8zM41.0 159.3h0.8v0.8h-0.8zM27.7 159.5h0.8v0.8h-0.8zM56.8 159.1h0.8v0.8h-0.8zM40.9 148.8h0.8v0.8h-0.8zM32.1 159.4h0.8v0.8h-0.8zM36.3 161.2h0.8v0.8h-0.8zM41.9 160.4h0.8v0.8h-0.8zM49.6 154.4h0.8v0.8h-0.8zM45.0 143.4h0.8v0.8h-0.8zM56.3 153.3h0.8v0.8h-0.8zM39.0 143.6h0.8v0.8h-0.8zM50.1 152.3h0.8v0.8h-0.8zM29.1 158.9h0.8v0.8h-0.8zM29.3 149.9h0.8v0.8h-0.8zM30.5 153.1h0.8v0.8h-0.8zM49.5 148.7h0.8v0.8h-0.8zM44.9 154.5h0.8v0.8h-0.8zM40.5 154.7h0.8v0.8h-0.8zM42.8 158.6h0.8v0.8h-0.8zM51.0 152.2h0.8v0.8h-0.8zM34.1 145.5h0.8v0.8h-0.8zM31.5 153.6h0.8v0.8h-0.8zM26.0 156.7h0.8v0.8h-0.8zM30.0 153.7h0.8v0.8h-0.8zM37.1 148.9h0.8v0.8h-0.8zM24.7 149.5h0.8v0.8h-0.8zM32.0 159.5h0.8v0.8h-0.8zM31.6 160.4h0.8v0.8h-0.8zM53.4 154.9h0.8v0.8h-0.8zM41.3 145.9h0.8v0.8h-0.8zM43.2 144.7h0.8v0.8h-0.8zM35.2 146.0h0.8v0.8h-0.8zM44.4 158.9h0.8v0.8h-0.8zM31.5 148.6h0.8v0.8h-0.8zM50.5 147.0h0.8v0.8h-0.8zM39.5 154.8h0.8v0.8h-0.8zM30.2 150.5h0.8v0.8h-0.8zM44.0 152.7h0.8v0.8h-0.8zM45.5 149.8h0.8v0.8h-0.8zM33.3 149.5h0.8v0.8h-0.8zM55.4 161.5h0.8v0.8h-0.8zM36.5 152.6h0.8v0.8h-0.8zM44.6 162.7h0.8v0.8h-0.8zM26.8 149.8h0.8v0.8h-0.8zM37.0 155.5h0.8v0.8h-0.8zM40.5 151.5h0.8v0.8h-0.8zM40.7 152.0h0.8v0.8h-0.8zM34.0 158.3h0.8v0.8h-0.8zM53.3 151.9h0.8v0.8h-0.8zM45.2 157.2h0.8v0.8h-0.8zM43.5 151.5h0.8v0.8h-0.8zM31.1 149.3h0.8v0.8h-0.8zM40.5 152.5h0.8v0.8h-0.8zM37.1 145.2h0.8v0.8h-0.8zM44.8 149.0h0.8v0.8h-0.8zM51.9 157.3h0.8v0.8h-0.8zM51.3 159.9h0.8v0.8h-0.8zM52.0 156.8h0.8v0.8h-0.8zM28.6 144.7h0.8v0.8h-0.8zM40.4 153.9h0.8v0.8h-0.8zM27.9 150.6h0.8v0.8h-0.8zM29.2 160.0h0.8v0.8h-0.8z" fill="#7088d0" opacity="0.85"/><path d="M53.0 148.2h0.8v0.8h-0.8zM44.9 150.6h0.8v0.8h-0.8zM42.7 156.4h0.8v0.8h-0.8zM31.0 159.6h0.8v0.8h-0.8zM51.0 152.7h0.8v0.8h-0.8zM41.3 161.0h0.8v0.8h-0.8zM48.1 158.8h0.8v0.8h-0.8zM34.3 156.3h0.8v0.8h-0.8zM27.3 157.7h0.8v0.8h-0.8zM42.4 146.4h0.8v0.8h-0.8zM45.8 155.1h0.8v0.8h-0.8zM55.4 148.1h0.8v0.8h-0.8zM40.5 146.1h0.8v0.8h-0.8zM38.9 160.2h0.8v0.8h-0.8zM26.3 149.5h0.8v0.8h-0.8zM47.1 156.9h0.8v0.8h-0.8zM31.9 152.4h0.8v0.8h-0.8zM36.8 144.8h0.8v0.8h-0.8zM31.6 150.6h0.8v0.8h-0.8zM39.2 146.1h0.8v0.8h-0.8zM36.9 155.2h0.8v0.8h-0.8zM32.1 151.1h0.8v0.8h-0.8zM43.2 159.7h0.8v0.8h-0.8zM29.9 160.4h0.8v0.8h-0.8zM41.7 146.8h0.8v0.8h-0.8zM38.4 150.4h0.8v0.8h-0.8zM35.2 158.2h0.8v0.8h-0.8zM54.5 159.3h0.8v0.8h-0.8zM50.4 160.7h0.8v0.8h-0.8zM55.6 162.2h0.8v0.8h-0.8zM51.7 159.8h0.8v0.8h-0.8zM39.1 161.5h0.8v0.8h-0.8zM26.5 152.7h0.8v0.8h-0.8zM52.7 144.0h0.8v0.8h-0.8zM35.3 153.8h0.8v0.8h-0.8zM38.7 151.2h0.8v0.8h-0.8zM37.1 155.6h0.8v0.8h-0.8zM55.2 144.7h0.8v0.8h-0.8zM34.1 157.0h0.8v0.8h-0.8zM39.2 150.2h0.8v0.8h-0.8zM48.1 151.6h0.8v0.8h-0.8zM55.0 145.4h0.8v0.8h-0.8zM36.1 160.1h0.8v0.8h-0.8zM35.4 153.9h0.8v0.8h-0.8zM50.7 147.4h0.8v0.8h-0.8zM54.2 155.5h0.8v0.8h-0.8zM42.7 159.6h0.8v0.8h-0.8zM52.8 151.4h0.8v0.8h-0.8zM39.8 151.8h0.8v0.8h-0.8zM37.9 148.6h0.8v0.8h-0.8zM47.4 160.6h0.8v0.8h-0.8zM29.9 157.1h0.8v0.8h-0.8zM54.4 159.7h0.8v0.8h-0.8zM49.0 150.8h0.8v0.8h-0.8zM32.8 150.8h0.8v0.8h-0.8zM55.3 159.8h0.8v0.8h-0.8zM32.7 159.1h0.8v0.8h-0.8zM49.4 146.9h0.8v0.8h-0.8zM42.7 163.1h0.8v0.8h-0.8zM51.1 151.1h0.8v0.8h-0.8zM35.1 153.2h0.8v0.8h-0.8zM44.9 155.7h0.8v0.8h-0.8zM47.8 154.5h0.8v0.8h-0.8zM31.3 154.9h0.8v0.8h-0.8zM55.2 146.1h0.8v0.8h-0.8zM51.1 154.1h0.8v0.8h-0.8zM49.0 145.6h0.8v0.8h-0.8zM30.8 152.5h0.8v0.8h-0.8zM31.0 157.1h0.8v0.8h-0.8zM29.0 159.1h0.8v0.8h-0.8zM39.9 157.9h0.8v0.8h-0.8z" fill="#2c48a8" opacity="0.85"/><path d="M47.3 156.5h0.8v0.8h-0.8zM45.2 161.5h0.8v0.8h-0.8zM48.4 143.5h0.8v0.8h-0.8zM42.2 151.0h0.8v0.8h-0.8zM49.0 157.7h0.8v0.8h-0.8zM41.5 160.7h0.8v0.8h-0.8zM38.5 155.5h0.8v0.8h-0.8zM28.9 150.0h0.8v0.8h-0.8zM32.6 148.6h0.8v0.8h-0.8zM45.2 160.1h0.8v0.8h-0.8zM46.6 149.3h0.8v0.8h-0.8zM37.1 154.8h0.8v0.8h-0.8zM48.8 156.3h0.8v0.8h-0.8zM48.8 161.0h0.8v0.8h-0.8zM56.9 160.7h0.8v0.8h-0.8zM54.9 158.6h0.8v0.8h-0.8zM50.8 155.2h0.8v0.8h-0.8zM49.7 154.3h0.8v0.8h-0.8zM50.8 148.4h0.8v0.8h-0.8zM44.3 162.5h0.8v0.8h-0.8zM27.6 158.2h0.8v0.8h-0.8zM51.8 157.6h0.8v0.8h-0.8zM48.4 150.9h0.8v0.8h-0.8zM39.9 153.2h0.8v0.8h-0.8zM36.5 149.6h0.8v0.8h-0.8zM39.7 156.9h0.8v0.8h-0.8zM46.2 160.9h0.8v0.8h-0.8zM56.3 159.2h0.8v0.8h-0.8zM37.0 143.6h0.8v0.8h-0.8zM44.4 158.1h0.8v0.8h-0.8zM57.1 159.2h0.8v0.8h-0.8zM53.7 149.3h0.8v0.8h-0.8zM56.1 154.5h0.8v0.8h-0.8zM32.6 148.6h0.8v0.8h-0.8zM54.9 159.3h0.8v0.8h-0.8zM27.3 156.8h0.8v0.8h-0.8zM37.7 156.9h0.8v0.8h-0.8zM39.1 158.0h0.8v0.8h-0.8zM51.4 155.1h0.8v0.8h-0.8zM36.1 158.1h0.8v0.8h-0.8zM34.4 159.0h0.8v0.8h-0.8zM41.3 149.5h0.8v0.8h-0.8zM53.7 145.0h0.8v0.8h-0.8zM32.3 150.1h0.8v0.8h-0.8zM36.6 161.2h0.8v0.8h-0.8zM47.5 149.6h0.8v0.8h-0.8zM57.0 153.6h0.8v0.8h-0.8zM43.2 154.1h0.8v0.8h-0.8zM56.4 146.6h0.8v0.8h-0.8zM36.1 150.3h0.8v0.8h-0.8zM45.2 152.4h0.8v0.8h-0.8zM49.3 157.9h0.8v0.8h-0.8zM55.2 157.6h0.8v0.8h-0.8zM56.1 154.6h0.8v0.8h-0.8zM31.7 145.8h0.8v0.8h-0.8zM38.2 158.1h0.8v0.8h-0.8zM31.7 158.2h0.8v0.8h-0.8zM57.5 159.4h0.8v0.8h-0.8zM24.2 149.0h0.8v0.8h-0.8zM35.5 147.4h0.8v0.8h-0.8zM31.6 158.1h0.8v0.8h-0.8zM39.9 145.8h0.8v0.8h-0.8zM27.3 156.8h0.8v0.8h-0.8zM24.7 155.6h0.8v0.8h-0.8z" fill="#2838a8" opacity="0.85"/><path d="M39.6 151.0h0.8v0.8h-0.8zM45.2 154.7h0.8v0.8h-0.8zM42.4 153.0h0.8v0.8h-0.8zM49.5 152.9h0.8v0.8h-0.8zM37.1 158.9h0.8v0.8h-0.8zM27.3 151.6h0.8v0.8h-0.8zM45.8 149.6h0.8v0.8h-0.8zM34.0 151.5h0.8v0.8h-0.8zM30.6 158.3h0.8v0.8h-0.8zM42.1 154.6h0.8v0.8h-0.8zM44.1 160.2h0.8v0.8h-0.8zM47.4 161.9h0.8v0.8h-0.8zM34.9 147.0h0.8v0.8h-0.8zM32.5 147.0h0.8v0.8h-0.8zM39.9 151.9h0.8v0.8h-0.8zM56.8 148.8h0.8v0.8h-0.8zM46.5 152.7h0.8v0.8h-0.8zM42.6 153.7h0.8v0.8h-0.8zM32.9 152.6h0.8v0.8h-0.8zM46.1 153.4h0.8v0.8h-0.8zM47.6 161.6h0.8v0.8h-0.8zM26.7 154.8h0.8v0.8h-0.8zM37.3 160.6h0.8v0.8h-0.8zM29.0 153.9h0.8v0.8h-0.8zM33.8 154.4h0.8v0.8h-0.8zM40.7 155.7h0.8v0.8h-0.8zM50.9 149.6h0.8v0.8h-0.8zM38.1 150.5h0.8v0.8h-0.8zM27.1 153.8h0.8v0.8h-0.8zM34.7 147.2h0.8v0.8h-0.8zM27.7 150.3h0.8v0.8h-0.8zM42.5 144.6h0.8v0.8h-0.8zM47.6 147.7h0.8v0.8h-0.8zM32.1 151.7h0.8v0.8h-0.8zM37.4 158.0h0.8v0.8h-0.8zM54.1 154.0h0.8v0.8h-0.8zM35.4 151.8h0.8v0.8h-0.8zM40.5 154.7h0.8v0.8h-0.8zM47.2 151.7h0.8v0.8h-0.8zM43.2 153.7h0.8v0.8h-0.8zM41.1 155.2h0.8v0.8h-0.8zM50.4 155.6h0.8v0.8h-0.8zM26.8 149.7h0.8v0.8h-0.8zM42.2 145.2h0.8v0.8h-0.8zM52.2 149.5h0.8v0.8h-0.8zM47.7 151.4h0.8v0.8h-0.8zM32.7 150.4h0.8v0.8h-0.8zM47.0 149.1h0.8v0.8h-0.8zM25.1 150.4h0.8v0.8h-0.8zM43.6 152.8h0.8v0.8h-0.8zM56.9 152.0h0.8v0.8h-0.8zM42.8 147.5h0.8v0.8h-0.8zM49.0 161.5h0.8v0.8h-0.8zM42.6 154.3h0.8v0.8h-0.8zM56.6 161.3h0.8v0.8h-0.8zM37.8 147.3h0.8v0.8h-0.8zM42.5 150.6h0.8v0.8h-0.8zM29.2 158.2h0.8v0.8h-0.8zM54.3 160.7h0.8v0.8h-0.8z" fill="#5a78c8" opacity="0.85"/><path d="M51.8 148.9h0.8v0.8h-0.8zM43.0 146.4h0.8v0.8h-0.8zM40.9 160.4h0.8v0.8h-0.8zM40.8 145.9h0.8v0.8h-0.8zM47.2 153.6h0.8v0.8h-0.8zM35.4 151.1h0.8v0.8h-0.8zM48.1 152.3h0.8v0.8h-0.8zM34.2 155.8h0.8v0.8h-0.8zM48.2 149.0h0.8v0.8h-0.8zM53.0 162.6h0.8v0.8h-0.8zM41.3 159.3h0.8v0.8h-0.8zM35.5 161.7h0.8v0.8h-0.8zM50.4 151.1h0.8v0.8h-0.8zM34.3 149.3h0.8v0.8h-0.8zM35.4 155.2h0.8v0.8h-0.8zM56.3 151.2h0.8v0.8h-0.8zM48.4 156.0h0.8v0.8h-0.8zM30.4 147.6h0.8v0.8h-0.8zM54.5 147.6h0.8v0.8h-0.8zM38.1 155.1h0.8v0.8h-0.8zM40.6 155.9h0.8v0.8h-0.8zM29.2 148.7h0.8v0.8h-0.8zM54.2 154.8h0.8v0.8h-0.8zM26.8 153.8h0.8v0.8h-0.8zM36.4 150.8h0.8v0.8h-0.8zM40.3 143.5h0.8v0.8h-0.8zM56.1 152.0h0.8v0.8h-0.8zM52.7 148.8h0.8v0.8h-0.8zM31.6 151.6h0.8v0.8h-0.8zM54.1 149.8h0.8v0.8h-0.8zM37.5 149.1h0.8v0.8h-0.8zM50.8 160.7h0.8v0.8h-0.8zM49.2 144.5h0.8v0.8h-0.8zM36.6 162.0h0.8v0.8h-0.8zM34.6 160.5h0.8v0.8h-0.8zM44.5 147.4h0.8v0.8h-0.8zM35.1 144.8h0.8v0.8h-0.8zM30.9 155.6h0.8v0.8h-0.8zM25.8 154.5h0.8v0.8h-0.8zM52.3 146.4h0.8v0.8h-0.8zM44.9 147.9h0.8v0.8h-0.8zM52.4 157.8h0.8v0.8h-0.8zM27.5 157.8h0.8v0.8h-0.8zM30.8 153.0h0.8v0.8h-0.8zM24.2 156.5h0.8v0.8h-0.8zM50.7 159.9h0.8v0.8h-0.8zM41.6 150.4h0.8v0.8h-0.8zM50.0 145.9h0.8v0.8h-0.8zM37.4 160.4h0.8v0.8h-0.8zM39.7 147.4h0.8v0.8h-0.8zM52.1 157.2h0.8v0.8h-0.8zM45.9 163.2h0.8v0.8h-0.8zM55.8 145.9h0.8v0.8h-0.8zM42.7 157.4h0.8v0.8h-0.8zM49.2 148.8h0.8v0.8h-0.8zM54.5 162.0h0.8v0.8h-0.8zM45.3 147.0h0.8v0.8h-0.8zM37.3 146.0h0.8v0.8h-0.8zM51.0 148.4h0.8v0.8h-0.8zM31.9 158.0h0.8v0.8h-0.8zM53.7 149.6h0.8v0.8h-0.8zM45.8 150.2h0.8v0.8h-0.8zM34.8 154.6h0.8v0.8h-0.8zM55.4 157.7h0.8v0.8h-0.8zM35.4 158.2h0.8v0.8h-0.8zM49.0 153.8h0.8v0.8h-0.8z" fill="#8a98d8" opacity="0.85"/><path d="M32.3 154.3h0.8v0.8h-0.8zM47.2 157.4h0.8v0.8h-0.8zM51.2 143.9h0.8v0.8h-0.8zM43.6 156.8h0.8v0.8h-0.8zM45.0 152.3h0.8v0.8h-0.8zM36.7 143.2h0.8v0.8h-0.8zM31.3 148.3h0.8v0.8h-0.8zM29.5 156.2h0.8v0.8h-0.8zM46.3 162.4h0.8v0.8h-0.8zM30.1 160.5h0.8v0.8h-0.8zM29.0 149.2h0.8v0.8h-0.8zM36.7 153.0h0.8v0.8h-0.8zM37.2 153.7h0.8v0.8h-0.8zM34.8 151.5h0.8v0.8h-0.8zM28.3 150.7h0.8v0.8h-0.8zM36.1 147.1h0.8v0.8h-0.8zM39.2 157.7h0.8v0.8h-0.8zM40.0 159.9h0.8v0.8h-0.8zM37.3 153.3h0.8v0.8h-0.8zM50.5 145.2h0.8v0.8h-0.8zM39.1 145.0h0.8v0.8h-0.8zM49.1 162.4h0.8v0.8h-0.8zM57.2 156.8h0.8v0.8h-0.8zM48.0 155.7h0.8v0.8h-0.8zM29.0 150.0h0.8v0.8h-0.8zM29.1 157.0h0.8v0.8h-0.8zM49.7 143.9h0.8v0.8h-0.8zM35.9 153.8h0.8v0.8h-0.8zM46.1 146.1h0.8v0.8h-0.8zM31.8 155.4h0.8v0.8h-0.8zM28.7 150.0h0.8v0.8h-0.8zM42.9 149.7h0.8v0.8h-0.8zM41.1 151.7h0.8v0.8h-0.8zM40.9 146.3h0.8v0.8h-0.8zM57.0 149.2h0.8v0.8h-0.8zM32.1 156.5h0.8v0.8h-0.8zM37.5 145.2h0.8v0.8h-0.8zM39.8 151.1h0.8v0.8h-0.8zM34.1 148.4h0.8v0.8h-0.8zM56.5 150.1h0.8v0.8h-0.8zM44.6 156.6h0.8v0.8h-0.8zM32.7 158.6h0.8v0.8h-0.8zM24.5 157.2h0.8v0.8h-0.8zM52.5 150.9h0.8v0.8h-0.8zM49.4 156.1h0.8v0.8h-0.8zM26.9 157.9h0.8v0.8h-0.8zM26.0 154.7h0.8v0.8h-0.8zM26.0 149.1h0.8v0.8h-0.8zM39.9 151.1h0.8v0.8h-0.8zM36.1 158.7h0.8v0.8h-0.8zM41.1 158.4h0.8v0.8h-0.8zM28.3 153.5h0.8v0.8h-0.8zM44.3 150.9h0.8v0.8h-0.8zM47.8 159.7h0.8v0.8h-0.8zM32.3 151.7h0.8v0.8h-0.8zM37.9 146.0h0.8v0.8h-0.8z" fill="#4058b8" opacity="0.85"/><path d="M26.7 158.9h0.8v0.8h-0.8zM40.2 155.1h0.8v0.8h-0.8zM51.9 146.8h0.8v0.8h-0.8zM49.9 146.3h0.8v0.8h-0.8zM36.3 147.7h0.8v0.8h-0.8zM55.3 158.5h0.8v0.8h-0.8zM28.8 153.5h0.8v0.8h-0.8zM28.5 146.9h0.8v0.8h-0.8zM48.9 163.3h0.8v0.8h-0.8zM25.7 150.9h0.8v0.8h-0.8zM56.1 151.8h0.8v0.8h-0.8zM53.2 155.0h0.8v0.8h-0.8zM36.9 161.3h0.8v0.8h-0.8zM30.8 150.7h0.8v0.8h-0.8zM52.5 161.3h0.8v0.8h-0.8zM26.5 147.5h0.8v0.8h-0.8zM38.0 156.8h0.8v0.8h-0.8zM41.3 156.1h0.8v0.8h-0.8zM52.4 146.2h0.8v0.8h-0.8zM41.5 155.3h0.8v0.8h-0.8zM31.0 155.5h0.8v0.8h-0.8zM31.9 148.4h0.8v0.8h-0.8zM43.1 147.9h0.8v0.8h-0.8zM34.5 152.2h0.8v0.8h-0.8zM37.2 157.3h0.8v0.8h-0.8zM36.4 151.9h0.8v0.8h-0.8zM24.9 154.8h0.8v0.8h-0.8zM55.1 146.9h0.8v0.8h-0.8zM41.5 145.3h0.8v0.8h-0.8zM55.6 150.5h0.8v0.8h-0.8zM46.8 152.8h0.8v0.8h-0.8zM56.3 157.4h0.8v0.8h-0.8zM43.1 157.6h0.8v0.8h-0.8zM33.2 160.4h0.8v0.8h-0.8zM57.7 158.6h0.8v0.8h-0.8zM46.5 151.4h0.8v0.8h-0.8zM43.9 160.9h0.8v0.8h-0.8zM55.2 162.8h0.8v0.8h-0.8zM24.8 155.8h0.8v0.8h-0.8zM55.4 151.5h0.8v0.8h-0.8zM32.3 150.6h0.8v0.8h-0.8zM27.1 154.8h0.8v0.8h-0.8zM49.9 149.8h0.8v0.8h-0.8zM46.6 162.5h0.8v0.8h-0.8zM49.1 151.2h0.8v0.8h-0.8zM43.3 152.6h0.8v0.8h-0.8zM40.2 150.7h0.8v0.8h-0.8zM26.6 149.4h0.8v0.8h-0.8zM48.7 149.1h0.8v0.8h-0.8zM35.5 149.8h0.8v0.8h-0.8zM36.8 151.8h0.8v0.8h-0.8zM47.5 159.8h0.8v0.8h-0.8zM50.5 151.6h0.8v0.8h-0.8zM48.7 156.2h0.8v0.8h-0.8zM28.6 152.7h0.8v0.8h-0.8zM45.8 147.7h0.8v0.8h-0.8zM49.4 147.0h0.8v0.8h-0.8zM30.1 157.1h0.8v0.8h-0.8zM28.9 154.4h0.8v0.8h-0.8zM24.3 152.1h0.8v0.8h-0.8zM38.0 153.5h0.8v0.8h-0.8zM27.3 153.6h0.8v0.8h-0.8zM40.5 150.4h0.8v0.8h-0.8zM36.8 144.1h0.8v0.8h-0.8zM30.8 156.4h0.8v0.8h-0.8zM39.5 147.3h0.8v0.8h-0.8z" fill="#3b5bb8" opacity="0.85"/><path d="M35.4 145.8h0.8v0.8h-0.8zM33.4 150.5h0.8v0.8h-0.8zM27.9 154.1h0.8v0.8h-0.8zM26.3 159.6h0.8v0.8h-0.8zM46.5 151.9h0.8v0.8h-0.8zM52.4 158.4h0.8v0.8h-0.8zM46.3 158.8h0.8v0.8h-0.8zM45.6 150.4h0.8v0.8h-0.8zM43.8 159.6h0.8v0.8h-0.8zM38.5 145.7h0.8v0.8h-0.8zM56.9 163.4h0.8v0.8h-0.8zM33.9 144.0h0.8v0.8h-0.8zM26.3 156.2h0.8v0.8h-0.8zM48.2 160.2h0.8v0.8h-0.8zM42.8 151.5h0.8v0.8h-0.8zM26.4 154.4h0.8v0.8h-0.8zM41.5 146.4h0.8v0.8h-0.8zM54.6 152.0h0.8v0.8h-0.8zM34.6 156.1h0.8v0.8h-0.8zM40.5 152.9h0.8v0.8h-0.8zM29.6 151.8h0.8v0.8h-0.8zM40.6 153.0h0.8v0.8h-0.8zM29.1 157.7h0.8v0.8h-0.8zM46.8 153.3h0.8v0.8h-0.8zM29.8 144.8h0.8v0.8h-0.8zM55.9 150.8h0.8v0.8h-0.8zM26.6 151.7h0.8v0.8h-0.8zM29.1 159.5h0.8v0.8h-0.8zM54.7 154.8h0.8v0.8h-0.8zM32.1 159.0h0.8v0.8h-0.8zM52.0 162.2h0.8v0.8h-0.8zM26.9 157.5h0.8v0.8h-0.8zM32.8 150.7h0.8v0.8h-0.8zM42.5 159.2h0.8v0.8h-0.8zM28.3 156.3h0.8v0.8h-0.8zM29.0 147.9h0.8v0.8h-0.8zM25.8 146.0h0.8v0.8h-0.8zM35.9 157.6h0.8v0.8h-0.8zM38.6 162.5h0.8v0.8h-0.8zM51.2 145.8h0.8v0.8h-0.8zM25.3 151.7h0.8v0.8h-0.8zM51.2 159.9h0.8v0.8h-0.8zM41.0 144.9h0.8v0.8h-0.8zM34.0 149.6h0.8v0.8h-0.8zM33.6 158.4h0.8v0.8h-0.8zM50.0 150.8h0.8v0.8h-0.8zM39.6 147.3h0.8v0.8h-0.8zM40.0 150.5h0.8v0.8h-0.8zM38.4 146.1h0.8v0.8h-0.8zM55.0 157.5h0.8v0.8h-0.8zM36.7 160.7h0.8v0.8h-0.8zM39.3 160.5h0.8v0.8h-0.8zM57.7 151.5h0.8v0.8h-0.8zM35.6 155.4h0.8v0.8h-0.8zM41.6 149.4h0.8v0.8h-0.8zM34.5 149.2h0.8v0.8h-0.8zM52.4 152.2h0.8v0.8h-0.8zM48.4 144.9h0.8v0.8h-0.8zM40.6 146.3h0.8v0.8h-0.8zM25.3 149.8h0.8v0.8h-0.8zM38.1 146.8h0.8v0.8h-0.8zM36.6 152.7h0.8v0.8h-0.8z" fill="#3048b0" opacity="0.85"/><path d="M24.2 153.2h0.8v0.8h-0.8zM38.3 161.5h0.8v0.8h-0.8zM32.7 153.3h0.8v0.8h-0.8zM30.5 147.7h0.8v0.8h-0.8zM26.8 150.6h0.8v0.8h-0.8zM55.1 152.2h0.8v0.8h-0.8zM54.9 151.6h0.8v0.8h-0.8zM53.5 157.8h0.8v0.8h-0.8zM43.0 145.9h0.8v0.8h-0.8zM57.1 146.0h0.8v0.8h-0.8zM50.6 161.7h0.8v0.8h-0.8zM56.4 147.5h0.8v0.8h-0.8zM46.9 158.1h0.8v0.8h-0.8zM31.7 160.4h0.8v0.8h-0.8zM45.6 144.8h0.8v0.8h-0.8zM38.5 147.8h0.8v0.8h-0.8zM55.5 150.0h0.8v0.8h-0.8zM34.1 147.2h0.8v0.8h-0.8zM42.7 159.2h0.8v0.8h-0.8zM28.7 148.4h0.8v0.8h-0.8zM50.6 144.3h0.8v0.8h-0.8zM29.8 153.4h0.8v0.8h-0.8zM30.5 156.8h0.8v0.8h-0.8zM51.5 152.8h0.8v0.8h-0.8zM51.2 147.9h0.8v0.8h-0.8zM34.2 157.0h0.8v0.8h-0.8zM54.9 149.3h0.8v0.8h-0.8zM56.0 156.9h0.8v0.8h-0.8zM53.0 150.8h0.8v0.8h-0.8zM52.1 143.2h0.8v0.8h-0.8zM42.9 161.6h0.8v0.8h-0.8zM49.8 147.3h0.8v0.8h-0.8zM47.4 160.2h0.8v0.8h-0.8zM39.1 156.1h0.8v0.8h-0.8zM25.5 154.7h0.8v0.8h-0.8zM43.4 153.3h0.8v0.8h-0.8zM28.1 158.4h0.8v0.8h-0.8zM28.3 154.3h0.8v0.8h-0.8zM40.1 147.2h0.8v0.8h-0.8zM34.8 145.1h0.8v0.8h-0.8zM57.8 149.3h0.8v0.8h-0.8zM33.2 158.1h0.8v0.8h-0.8zM35.7 154.1h0.8v0.8h-0.8zM24.6 148.5h0.8v0.8h-0.8zM36.6 150.6h0.8v0.8h-0.8zM33.8 149.0h0.8v0.8h-0.8zM43.3 158.8h0.8v0.8h-0.8zM39.7 154.8h0.8v0.8h-0.8zM25.9 151.2h0.8v0.8h-0.8zM50.8 158.3h0.8v0.8h-0.8zM34.9 155.7h0.8v0.8h-0.8zM46.8 156.7h0.8v0.8h-0.8zM28.6 156.6h0.8v0.8h-0.8zM29.6 159.0h0.8v0.8h-0.8zM25.7 158.6h0.8v0.8h-0.8zM30.3 153.9h0.8v0.8h-0.8zM57.7 161.5h0.8v0.8h-0.8zM25.1 150.8h0.8v0.8h-0.8zM26.5 150.1h0.8v0.8h-0.8zM30.0 151.8h0.8v0.8h-0.8zM46.9 146.7h0.8v0.8h-0.8zM34.4 146.4h0.8v0.8h-0.8zM41.4 154.6h0.8v0.8h-0.8z" fill="#5068c0" opacity="0.85"/><path d="M28.3 159.2h0.8v0.8h-0.8zM50.0 157.7h0.8v0.8h-0.8zM50.5 154.8h0.8v0.8h-0.8zM49.9 158.9h0.8v0.8h-0.8zM49.8 146.5h0.8v0.8h-0.8zM52.6 154.3h0.8v0.8h-0.8zM43.4 153.4h0.8v0.8h-0.8zM57.7 160.4h0.8v0.8h-0.8zM40.6 146.6h0.8v0.8h-0.8zM53.6 161.1h0.8v0.8h-0.8zM31.7 160.1h0.8v0.8h-0.8zM52.0 149.9h0.8v0.8h-0.8zM50.5 145.4h0.8v0.8h-0.8zM52.8 145.6h0.8v0.8h-0.8zM30.9 150.9h0.8v0.8h-0.8zM35.8 158.5h0.8v0.8h-0.8zM52.0 149.2h0.8v0.8h-0.8zM52.0 147.8h0.8v0.8h-0.8zM39.3 162.0h0.8v0.8h-0.8zM52.6 148.1h0.8v0.8h-0.8zM38.5 148.2h0.8v0.8h-0.8zM28.6 149.5h0.8v0.8h-0.8zM39.7 144.1h0.8v0.8h-0.8zM29.1 155.3h0.8v0.8h-0.8zM27.9 150.1h0.8v0.8h-0.8zM44.4 161.6h0.8v0.8h-0.8zM36.0 150.5h0.8v0.8h-0.8zM31.0 150.8h0.8v0.8h-0.8zM44.3 156.1h0.8v0.8h-0.8zM31.1 153.4h0.8v0.8h-0.8zM56.4 147.2h0.8v0.8h-0.8zM25.3 158.0h0.8v0.8h-0.8zM31.9 147.6h0.8v0.8h-0.8zM40.8 154.8h0.8v0.8h-0.8zM40.9 154.3h0.8v0.8h-0.8zM29.9 152.8h0.8v0.8h-0.8zM30.3 160.1h0.8v0.8h-0.8zM53.5 149.0h0.8v0.8h-0.8zM44.4 156.6h0.8v0.8h-0.8zM46.0 159.0h0.8v0.8h-0.8zM42.0 145.5h0.8v0.8h-0.8zM39.9 146.9h0.8v0.8h-0.8zM45.5 158.3h0.8v0.8h-0.8zM25.1 156.9h0.8v0.8h-0.8zM39.0 158.0h0.8v0.8h-0.8zM39.3 146.0h0.8v0.8h-0.8zM37.8 153.2h0.8v0.8h-0.8zM28.3 155.7h0.8v0.8h-0.8zM38.8 155.4h0.8v0.8h-0.8zM34.3 143.2h0.8v0.8h-0.8zM49.0 148.2h0.8v0.8h-0.8zM47.7 162.4h0.8v0.8h-0.8zM36.8 154.2h0.8v0.8h-0.8zM41.1 153.1h0.8v0.8h-0.8zM51.6 146.7h0.8v0.8h-0.8zM30.4 155.8h0.8v0.8h-0.8zM28.8 159.7h0.8v0.8h-0.8z" fill="#2030a0" opacity="0.85"/>
<path d="M65.2 155.1h0.8v0.8h-0.8zM61.1 159.4h0.8v0.8h-0.8zM74.3 151.2h0.8v0.8h-0.8zM61.1 146.8h0.8v0.8h-0.8zM57.8 154.3h0.8v0.8h-0.8zM58.5 150.3h0.8v0.8h-0.8zM75.4 149.3h0.8v0.8h-0.8zM74.7 158.8h0.8v0.8h-0.8zM68.3 156.6h0.8v0.8h-0.8zM65.2 154.9h0.8v0.8h-0.8zM57.0 154.9h0.8v0.8h-0.8zM65.8 148.3h0.8v0.8h-0.8zM61.8 153.9h0.8v0.8h-0.8zM59.2 153.3h0.8v0.8h-0.8zM73.3 154.0h0.8v0.8h-0.8zM58.4 159.7h0.8v0.8h-0.8zM57.6 147.1h0.8v0.8h-0.8zM67.6 150.0h0.8v0.8h-0.8zM67.3 155.1h0.8v0.8h-0.8zM60.4 161.0h0.8v0.8h-0.8zM62.5 156.8h0.8v0.8h-0.8zM61.7 154.2h0.8v0.8h-0.8zM69.3 154.0h0.8v0.8h-0.8zM59.9 156.6h0.8v0.8h-0.8zM65.3 155.2h0.8v0.8h-0.8zM70.7 153.9h0.8v0.8h-0.8zM75.0 156.1h0.8v0.8h-0.8zM71.6 154.7h0.8v0.8h-0.8zM78.2 151.7h0.8v0.8h-0.8zM63.5 153.9h0.8v0.8h-0.8zM67.7 159.2h0.8v0.8h-0.8zM59.1 158.3h0.8v0.8h-0.8zM62.6 147.7h0.8v0.8h-0.8zM75.9 149.0h0.8v0.8h-0.8zM73.0 154.7h0.8v0.8h-0.8zM77.8 151.0h0.8v0.8h-0.8zM67.8 158.1h0.8v0.8h-0.8zM60.4 156.0h0.8v0.8h-0.8zM59.9 149.0h0.8v0.8h-0.8zM62.6 149.3h0.8v0.8h-0.8zM73.9 151.9h0.8v0.8h-0.8zM77.4 152.8h0.8v0.8h-0.8zM65.5 149.4h0.8v0.8h-0.8zM66.5 156.5h0.8v0.8h-0.8zM64.8 149.6h0.8v0.8h-0.8zM56.9 152.6h0.8v0.8h-0.8zM69.0 159.5h0.8v0.8h-0.8zM57.6 150.9h0.8v0.8h-0.8zM78.1 150.1h0.8v0.8h-0.8zM74.4 152.0h0.8v0.8h-0.8zM67.7 151.8h0.8v0.8h-0.8zM70.8 155.3h0.8v0.8h-0.8zM63.9 156.5h0.8v0.8h-0.8zM56.5 158.0h0.8v0.8h-0.8zM65.2 153.3h0.8v0.8h-0.8zM67.5 147.6h0.8v0.8h-0.8zM61.8 158.7h0.8v0.8h-0.8zM78.9 153.6h0.8v0.8h-0.8zM67.3 148.4h0.8v0.8h-0.8z" fill="#5a70c0" opacity="0.75"/><path d="M57.2 156.7h0.8v0.8h-0.8zM63.7 150.9h0.8v0.8h-0.8zM77.5 150.7h0.8v0.8h-0.8zM79.0 155.2h0.8v0.8h-0.8zM58.5 149.7h0.8v0.8h-0.8zM64.2 148.3h0.8v0.8h-0.8zM80.1 154.9h0.8v0.8h-0.8zM70.7 150.3h0.8v0.8h-0.8zM67.6 155.6h0.8v0.8h-0.8zM65.9 156.9h0.8v0.8h-0.8zM58.4 149.5h0.8v0.8h-0.8zM74.5 148.5h0.8v0.8h-0.8zM74.5 150.1h0.8v0.8h-0.8zM62.6 153.5h0.8v0.8h-0.8zM57.9 147.4h0.8v0.8h-0.8zM68.6 156.2h0.8v0.8h-0.8zM66.2 148.2h0.8v0.8h-0.8zM71.1 158.6h0.8v0.8h-0.8zM63.0 153.6h0.8v0.8h-0.8zM61.3 155.3h0.8v0.8h-0.8zM70.5 152.8h0.8v0.8h-0.8zM59.6 157.5h0.8v0.8h-0.8zM65.1 150.5h0.8v0.8h-0.8zM57.5 147.2h0.8v0.8h-0.8zM75.2 158.3h0.8v0.8h-0.8zM62.8 158.6h0.8v0.8h-0.8zM68.9 154.8h0.8v0.8h-0.8zM61.6 148.3h0.8v0.8h-0.8zM72.0 149.9h0.8v0.8h-0.8zM63.0 157.0h0.8v0.8h-0.8zM71.5 148.1h0.8v0.8h-0.8zM61.4 156.0h0.8v0.8h-0.8zM58.0 160.2h0.8v0.8h-0.8zM60.4 156.9h0.8v0.8h-0.8zM70.5 156.0h0.8v0.8h-0.8zM74.1 150.0h0.8v0.8h-0.8zM76.6 150.9h0.8v0.8h-0.8zM74.2 154.2h0.8v0.8h-0.8zM61.4 150.8h0.8v0.8h-0.8z" fill="#8088c0" opacity="0.75"/><path d="M65.9 159.4h0.8v0.8h-0.8zM70.3 152.7h0.8v0.8h-0.8zM62.7 150.5h0.8v0.8h-0.8zM56.6 156.0h0.8v0.8h-0.8zM64.9 156.2h0.8v0.8h-0.8zM71.2 156.4h0.8v0.8h-0.8zM62.8 153.4h0.8v0.8h-0.8zM66.2 146.1h0.8v0.8h-0.8zM59.4 150.2h0.8v0.8h-0.8zM75.4 151.0h0.8v0.8h-0.8zM77.6 160.4h0.8v0.8h-0.8zM66.4 152.7h0.8v0.8h-0.8zM78.6 151.8h0.8v0.8h-0.8zM57.5 155.0h0.8v0.8h-0.8zM67.7 160.0h0.8v0.8h-0.8zM68.0 155.8h0.8v0.8h-0.8zM79.4 155.6h0.8v0.8h-0.8zM62.1 151.7h0.8v0.8h-0.8zM77.9 156.3h0.8v0.8h-0.8zM72.6 151.0h0.8v0.8h-0.8zM62.8 151.4h0.8v0.8h-0.8zM62.2 154.8h0.8v0.8h-0.8zM57.7 157.7h0.8v0.8h-0.8zM70.5 148.3h0.8v0.8h-0.8zM76.2 155.4h0.8v0.8h-0.8zM60.6 149.1h0.8v0.8h-0.8zM61.6 152.8h0.8v0.8h-0.8zM60.1 159.9h0.8v0.8h-0.8zM78.8 154.5h0.8v0.8h-0.8zM63.2 149.5h0.8v0.8h-0.8zM62.6 158.3h0.8v0.8h-0.8zM60.4 147.2h0.8v0.8h-0.8zM70.8 158.5h0.8v0.8h-0.8zM66.0 153.6h0.8v0.8h-0.8zM66.4 154.7h0.8v0.8h-0.8zM57.1 158.4h0.8v0.8h-0.8zM58.8 151.1h0.8v0.8h-0.8zM70.3 148.4h0.8v0.8h-0.8zM59.0 159.3h0.8v0.8h-0.8zM61.1 154.7h0.8v0.8h-0.8zM74.6 152.1h0.8v0.8h-0.8zM68.9 149.8h0.8v0.8h-0.8zM67.7 148.1h0.8v0.8h-0.8zM73.3 154.5h0.8v0.8h-0.8zM61.0 154.2h0.8v0.8h-0.8zM63.4 156.7h0.8v0.8h-0.8zM59.3 156.9h0.8v0.8h-0.8zM71.2 155.4h0.8v0.8h-0.8zM57.5 155.3h0.8v0.8h-0.8zM65.8 157.2h0.8v0.8h-0.8zM65.5 154.1h0.8v0.8h-0.8zM78.5 151.0h0.8v0.8h-0.8zM67.7 155.9h0.8v0.8h-0.8z" fill="#4a60b8" opacity="0.75"/><path d="M79.9 152.5h0.8v0.8h-0.8zM65.2 152.1h0.8v0.8h-0.8zM70.3 156.3h0.8v0.8h-0.8zM57.7 155.4h0.8v0.8h-0.8zM65.6 160.3h0.8v0.8h-0.8zM58.8 154.6h0.8v0.8h-0.8zM75.5 156.4h0.8v0.8h-0.8zM67.3 156.7h0.8v0.8h-0.8zM71.8 157.5h0.8v0.8h-0.8zM72.7 158.0h0.8v0.8h-0.8zM61.9 152.5h0.8v0.8h-0.8zM62.1 152.2h0.8v0.8h-0.8zM71.1 152.4h0.8v0.8h-0.8zM73.3 152.9h0.8v0.8h-0.8zM76.6 154.3h0.8v0.8h-0.8zM64.6 155.6h0.8v0.8h-0.8zM65.6 154.4h0.8v0.8h-0.8zM70.8 156.9h0.8v0.8h-0.8zM62.0 157.1h0.8v0.8h-0.8zM75.7 151.6h0.8v0.8h-0.8zM81.1 153.0h0.8v0.8h-0.8zM74.6 149.6h0.8v0.8h-0.8zM71.0 155.0h0.8v0.8h-0.8zM67.2 148.5h0.8v0.8h-0.8zM71.6 153.7h0.8v0.8h-0.8zM74.4 155.0h0.8v0.8h-0.8zM60.8 160.2h0.8v0.8h-0.8zM63.2 157.9h0.8v0.8h-0.8zM64.8 155.8h0.8v0.8h-0.8zM74.8 154.8h0.8v0.8h-0.8zM77.3 156.6h0.8v0.8h-0.8zM67.2 150.6h0.8v0.8h-0.8zM77.0 156.2h0.8v0.8h-0.8zM74.9 149.8h0.8v0.8h-0.8zM59.6 154.0h0.8v0.8h-0.8zM60.2 153.4h0.8v0.8h-0.8zM63.2 148.6h0.8v0.8h-0.8zM71.3 148.0h0.8v0.8h-0.8zM79.1 155.9h0.8v0.8h-0.8zM59.2 151.2h0.8v0.8h-0.8zM69.4 151.1h0.8v0.8h-0.8zM77.9 158.4h0.8v0.8h-0.8zM58.5 149.3h0.8v0.8h-0.8zM59.8 149.0h0.8v0.8h-0.8zM68.3 157.9h0.8v0.8h-0.8zM65.0 147.6h0.8v0.8h-0.8zM72.4 149.9h0.8v0.8h-0.8zM62.3 150.5h0.8v0.8h-0.8zM59.1 155.2h0.8v0.8h-0.8zM62.9 149.5h0.8v0.8h-0.8zM80.3 154.8h0.8v0.8h-0.8z" fill="#6f78b0" opacity="0.75"/><path d="M66.9 149.7h0.8v0.8h-0.8zM63.1 151.7h0.8v0.8h-0.8zM70.1 158.7h0.8v0.8h-0.8zM70.1 152.4h0.8v0.8h-0.8zM72.9 155.5h0.8v0.8h-0.8zM63.8 156.1h0.8v0.8h-0.8zM76.4 158.0h0.8v0.8h-0.8zM73.3 150.5h0.8v0.8h-0.8zM72.8 150.4h0.8v0.8h-0.8zM75.3 156.8h0.8v0.8h-0.8zM76.9 156.0h0.8v0.8h-0.8zM72.2 151.2h0.8v0.8h-0.8zM72.9 155.1h0.8v0.8h-0.8zM63.2 150.4h0.8v0.8h-0.8zM61.8 155.3h0.8v0.8h-0.8zM62.0 149.8h0.8v0.8h-0.8zM79.2 153.5h0.8v0.8h-0.8zM60.6 150.1h0.8v0.8h-0.8zM68.1 150.7h0.8v0.8h-0.8zM58.4 153.8h0.8v0.8h-0.8zM69.8 148.6h0.8v0.8h-0.8zM69.2 158.0h0.8v0.8h-0.8zM68.6 153.8h0.8v0.8h-0.8zM79.0 155.3h0.8v0.8h-0.8zM66.7 153.7h0.8v0.8h-0.8zM77.7 155.3h0.8v0.8h-0.8zM61.1 155.2h0.8v0.8h-0.8zM58.5 146.3h0.8v0.8h-0.8zM61.9 153.8h0.8v0.8h-0.8zM59.7 148.6h0.8v0.8h-0.8zM67.3 152.4h0.8v0.8h-0.8zM57.5 151.8h0.8v0.8h-0.8zM59.2 160.1h0.8v0.8h-0.8zM70.1 155.2h0.8v0.8h-0.8zM60.3 151.5h0.8v0.8h-0.8zM68.0 157.5h0.8v0.8h-0.8zM75.2 148.6h0.8v0.8h-0.8zM61.4 156.2h0.8v0.8h-0.8zM59.9 149.8h0.8v0.8h-0.8zM73.8 152.8h0.8v0.8h-0.8zM70.4 159.8h0.8v0.8h-0.8zM63.6 153.0h0.8v0.8h-0.8zM62.7 158.8h0.8v0.8h-0.8zM76.6 149.6h0.8v0.8h-0.8zM76.2 155.9h0.8v0.8h-0.8zM67.6 151.0h0.8v0.8h-0.8zM57.0 147.8h0.8v0.8h-0.8zM64.9 149.4h0.8v0.8h-0.8zM63.7 151.6h0.8v0.8h-0.8zM60.5 159.8h0.8v0.8h-0.8z" fill="#9098c8" opacity="0.75"/><path d="M71.0 155.2h0.8v0.8h-0.8zM75.9 154.9h0.8v0.8h-0.8zM69.9 151.8h0.8v0.8h-0.8zM59.1 150.7h0.8v0.8h-0.8zM79.5 153.6h0.8v0.8h-0.8zM74.3 156.2h0.8v0.8h-0.8zM68.3 149.5h0.8v0.8h-0.8zM64.2 147.4h0.8v0.8h-0.8zM66.1 152.2h0.8v0.8h-0.8zM71.6 151.2h0.8v0.8h-0.8zM80.7 153.1h0.8v0.8h-0.8zM56.3 158.6h0.8v0.8h-0.8zM69.9 156.4h0.8v0.8h-0.8zM78.8 152.4h0.8v0.8h-0.8zM64.5 155.3h0.8v0.8h-0.8zM75.1 155.4h0.8v0.8h-0.8zM62.3 156.0h0.8v0.8h-0.8zM62.3 151.9h0.8v0.8h-0.8zM61.5 157.7h0.8v0.8h-0.8zM74.6 157.0h0.8v0.8h-0.8zM67.8 154.1h0.8v0.8h-0.8zM62.7 155.5h0.8v0.8h-0.8zM62.6 149.8h0.8v0.8h-0.8zM67.5 156.6h0.8v0.8h-0.8zM64.4 152.4h0.8v0.8h-0.8zM64.1 148.9h0.8v0.8h-0.8zM60.8 160.1h0.8v0.8h-0.8zM61.8 151.8h0.8v0.8h-0.8zM63.1 151.3h0.8v0.8h-0.8zM63.7 148.0h0.8v0.8h-0.8zM61.9 157.0h0.8v0.8h-0.8zM68.7 151.7h0.8v0.8h-0.8zM61.4 148.9h0.8v0.8h-0.8zM58.0 148.7h0.8v0.8h-0.8zM65.5 152.4h0.8v0.8h-0.8zM68.8 150.4h0.8v0.8h-0.8zM59.5 148.8h0.8v0.8h-0.8zM65.3 154.4h0.8v0.8h-0.8zM57.4 155.9h0.8v0.8h-0.8zM67.9 154.9h0.8v0.8h-0.8zM59.2 157.7h0.8v0.8h-0.8zM59.4 159.6h0.8v0.8h-0.8zM62.7 151.0h0.8v0.8h-0.8zM60.6 159.4h0.8v0.8h-0.8zM68.8 154.2h0.8v0.8h-0.8zM62.5 159.8h0.8v0.8h-0.8zM77.6 152.6h0.8v0.8h-0.8zM79.0 155.6h0.8v0.8h-0.8z" fill="#a0a8d0" opacity="0.75"/>
<ellipse cx="47.5" cy="154" rx="10" ry="7" fill="#60b050" opacity="0.9" filter="url(#b15)"/>
<ellipse cx="48" cy="154" rx="5.5" ry="4.8" fill="#b8cc38" opacity="0.95" filter="url(#b12)"/>
<ellipse cx="48" cy="154.2" rx="2.4" ry="2.4" fill="#e87830" opacity="0.95" filter="url(#b8)"/>
<rect x="56.3" y="139" width="31.700000000000003" height="25" fill="none" stroke="#6a9e40" stroke-width="1.6"/>
<rect x="22" y="240.8" width="78.7" height="70.19999999999999" fill="none" stroke="#999" stroke-width="1"/>
<path d="M20.2 309.0H22M24.0 311V312.8M21.1 304.0H22M29.6 311V311.9M21.1 301.1H22M32.9 311V311.9M21.1 299.0H22M35.2 311V311.9M21.1 297.4H22M37.1 311V311.9M21.1 296.1H22M38.5 311V311.9M21.1 295.0H22M39.8 311V311.9M21.1 294.1H22M40.9 311V311.9M21.1 293.2H22M41.8 311V311.9M20.2 292.4H22M42.7 311V312.8M21.1 287.5H22M48.3 311V311.9M21.1 284.6H22M51.6 311V311.9M21.1 282.5H22M53.9 311V311.9M21.1 280.9H22M55.7 311V311.9M21.1 279.6H22M57.2 311V311.9M21.1 278.5H22M58.5 311V311.9M21.1 277.5H22M59.5 311V311.9M21.1 276.7H22M60.5 311V311.9M20.2 275.9H22M61.4 311V312.8M21.1 270.9H22M67.0 311V311.9M21.1 268.0H22M70.3 311V311.9M21.1 265.9H22M72.6 311V311.9M21.1 264.3H22M74.4 311V311.9M21.1 263.0H22M75.9 311V311.9M21.1 261.9H22M77.1 311V311.9M21.1 261.0H22M78.2 311V311.9M21.1 260.1H22M79.2 311V311.9M20.2 259.4H22M80.0 311V312.8M21.1 254.4H22M85.6 311V311.9M21.1 251.5H22M88.9 311V311.9M21.1 249.4H22M91.3 311V311.9M21.1 247.8H22M93.1 311V311.9M21.1 246.5H22M94.6 311V311.9M21.1 245.4H22M95.8 311V311.9M21.1 244.4H22M96.9 311V311.9M21.1 243.6H22M97.8 311V311.9" stroke="#666" stroke-width="0.5" fill="none"/>
<path d="M22.5,252.5 C23.75,249.95 27.08,251.45 30,251 C32.92,250.55 36.67,250.20 40,249.8 C43.33,249.40 47.33,248.73 50,248.6 C52.67,248.47 54.00,248.72 56,249 C58.00,249.28 59.33,249.97 62,250.3 C64.67,250.63 69.00,250.67 72,251 C75.00,251.33 77.92,251.63 80,252.3 C82.08,252.97 83.50,253.97 84.5,255 C85.50,256.03 86.08,257.25 86,258.5 C85.92,259.75 85.17,261.25 84,262.5 C82.83,263.75 81.33,265.17 79,266 C76.67,266.83 73.17,267.17 70,267.5 C66.83,267.83 63.00,267.78 60,268 C57.00,268.22 55.00,268.80 52,268.8 C49.00,268.80 45.33,268.30 42,268 C38.67,267.70 35.25,267.28 32,267 C28.75,266.72 24.08,268.72 22.5,266.3 C20.92,263.88 21.25,255.05 22.5,252.5Z" fill="#2a3cb0" opacity="0.75" filter="url(#b6)"/>
<path d="M27.9 256.3h0.8v0.8h-0.8zM65.3 255.1h0.8v0.8h-0.8zM84.4 255.2h0.8v0.8h-0.8zM53.9 250.6h0.8v0.8h-0.8zM54.2 258.7h0.8v0.8h-0.8zM43.7 257.3h0.8v0.8h-0.8zM25.4 261.4h0.8v0.8h-0.8zM42.0 256.8h0.8v0.8h-0.8zM49.2 261.5h0.8v0.8h-0.8zM33.4 264.6h0.8v0.8h-0.8zM70.0 255.0h0.8v0.8h-0.8zM39.5 252.2h0.8v0.8h-0.8zM57.8 260.2h0.8v0.8h-0.8zM31.0 260.0h0.8v0.8h-0.8zM55.1 252.1h0.8v0.8h-0.8zM49.5 250.3h0.8v0.8h-0.8zM63.1 257.5h0.8v0.8h-0.8zM41.6 249.6h0.8v0.8h-0.8zM76.0 252.2h0.8v0.8h-0.8zM66.0 262.0h0.8v0.8h-0.8zM68.5 263.4h0.8v0.8h-0.8zM32.8 258.9h0.8v0.8h-0.8zM63.0 251.2h0.8v0.8h-0.8zM23.7 262.7h0.8v0.8h-0.8zM37.6 258.9h0.8v0.8h-0.8zM58.5 250.6h0.8v0.8h-0.8zM42.8 263.8h0.8v0.8h-0.8zM65.7 262.9h0.8v0.8h-0.8zM80.6 257.8h0.8v0.8h-0.8zM55.8 258.5h0.8v0.8h-0.8zM62.6 255.7h0.8v0.8h-0.8zM38.8 266.8h0.8v0.8h-0.8zM60.9 268.0h0.8v0.8h-0.8zM36.1 265.6h0.8v0.8h-0.8zM25.3 263.9h0.8v0.8h-0.8zM65.8 257.3h0.8v0.8h-0.8zM52.1 263.5h0.8v0.8h-0.8zM34.7 255.3h0.8v0.8h-0.8zM72.1 257.3h0.8v0.8h-0.8zM48.7 256.8h0.8v0.8h-0.8zM63.7 257.4h0.8v0.8h-0.8zM52.7 252.7h0.8v0.8h-0.8zM26.9 266.0h0.8v0.8h-0.8zM42.0 259.2h0.8v0.8h-0.8zM51.7 263.5h0.8v0.8h-0.8zM60.3 261.3h0.8v0.8h-0.8zM46.8 250.7h0.8v0.8h-0.8zM60.8 252.4h0.8v0.8h-0.8zM42.3 251.2h0.8v0.8h-0.8zM75.5 257.9h0.8v0.8h-0.8zM60.1 257.6h0.8v0.8h-0.8zM24.0 262.7h0.8v0.8h-0.8zM66.9 255.8h0.8v0.8h-0.8zM27.7 266.9h0.8v0.8h-0.8zM27.5 257.4h0.8v0.8h-0.8zM45.4 266.6h0.8v0.8h-0.8zM30.0 258.5h0.8v0.8h-0.8zM40.0 253.4h0.8v0.8h-0.8zM51.3 262.9h0.8v0.8h-0.8zM40.0 251.5h0.8v0.8h-0.8zM63.3 266.1h0.8v0.8h-0.8zM27.0 253.0h0.8v0.8h-0.8zM37.4 261.6h0.8v0.8h-0.8zM43.8 255.6h0.8v0.8h-0.8zM37.2 252.8h0.8v0.8h-0.8zM82.3 261.8h0.8v0.8h-0.8zM49.4 250.9h0.8v0.8h-0.8zM31.4 259.6h0.8v0.8h-0.8zM75.2 258.6h0.8v0.8h-0.8zM83.8 256.0h0.8v0.8h-0.8zM33.4 254.6h0.8v0.8h-0.8zM50.4 249.5h0.8v0.8h-0.8zM68.3 262.5h0.8v0.8h-0.8zM47.5 266.8h0.8v0.8h-0.8zM58.0 252.5h0.8v0.8h-0.8zM57.4 261.8h0.8v0.8h-0.8zM59.8 256.9h0.8v0.8h-0.8zM38.9 266.1h0.8v0.8h-0.8zM75.9 251.5h0.8v0.8h-0.8zM67.3 265.2h0.8v0.8h-0.8zM68.2 262.8h0.8v0.8h-0.8zM26.7 253.6h0.8v0.8h-0.8zM34.4 261.4h0.8v0.8h-0.8zM42.7 267.6h0.8v0.8h-0.8zM64.5 252.8h0.8v0.8h-0.8zM64.0 265.2h0.8v0.8h-0.8zM44.3 254.6h0.8v0.8h-0.8zM31.1 256.4h0.8v0.8h-0.8zM61.3 255.1h0.8v0.8h-0.8zM25.0 265.8h0.8v0.8h-0.8zM26.4 252.1h0.8v0.8h-0.8zM63.3 262.4h0.8v0.8h-0.8zM55.0 251.3h0.8v0.8h-0.8zM33.1 253.2h0.8v0.8h-0.8zM75.7 257.8h0.8v0.8h-0.8zM35.8 257.2h0.8v0.8h-0.8zM65.3 251.3h0.8v0.8h-0.8zM55.0 260.1h0.8v0.8h-0.8zM66.2 255.4h0.8v0.8h-0.8zM51.7 250.8h0.8v0.8h-0.8zM33.8 261.4h0.8v0.8h-0.8zM29.7 266.7h0.8v0.8h-0.8zM63.4 252.7h0.8v0.8h-0.8zM72.3 251.8h0.8v0.8h-0.8zM50.4 265.8h0.8v0.8h-0.8zM64.8 253.1h0.8v0.8h-0.8zM33.2 265.2h0.8v0.8h-0.8zM35.7 254.8h0.8v0.8h-0.8zM53.3 267.8h0.8v0.8h-0.8zM39.2 256.8h0.8v0.8h-0.8zM74.7 256.0h0.8v0.8h-0.8zM72.7 256.8h0.8v0.8h-0.8zM50.0 254.4h0.8v0.8h-0.8zM35.6 253.8h0.8v0.8h-0.8zM56.3 256.9h0.8v0.8h-0.8zM64.8 261.8h0.8v0.8h-0.8zM71.9 260.2h0.8v0.8h-0.8zM54.1 261.1h0.8v0.8h-0.8zM31.8 260.3h0.8v0.8h-0.8zM36.2 263.2h0.8v0.8h-0.8zM26.8 253.2h0.8v0.8h-0.8zM69.4 260.9h0.8v0.8h-0.8zM27.3 255.5h0.8v0.8h-0.8zM61.5 255.0h0.8v0.8h-0.8zM40.1 263.6h0.8v0.8h-0.8zM73.0 250.7h0.8v0.8h-0.8zM46.1 266.5h0.8v0.8h-0.8zM37.3 265.6h0.8v0.8h-0.8zM52.8 260.7h0.8v0.8h-0.8zM33.9 259.1h0.8v0.8h-0.8zM39.1 256.2h0.8v0.8h-0.8zM27.5 257.8h0.8v0.8h-0.8zM56.6 263.6h0.8v0.8h-0.8zM71.1 260.6h0.8v0.8h-0.8zM73.8 259.4h0.8v0.8h-0.8zM63.0 266.8h0.8v0.8h-0.8zM63.8 261.9h0.8v0.8h-0.8zM76.3 251.5h0.8v0.8h-0.8zM63.3 253.8h0.8v0.8h-0.8zM24.8 253.5h0.8v0.8h-0.8zM63.4 255.4h0.8v0.8h-0.8zM45.8 251.5h0.8v0.8h-0.8zM31.8 265.5h0.8v0.8h-0.8zM76.6 257.5h0.8v0.8h-0.8zM74.2 252.0h0.8v0.8h-0.8zM66.4 262.7h0.8v0.8h-0.8zM33.0 252.2h0.8v0.8h-0.8zM33.0 250.8h0.8v0.8h-0.8zM54.6 264.4h0.8v0.8h-0.8zM74.5 264.1h0.8v0.8h-0.8zM24.0 256.7h0.8v0.8h-0.8zM54.2 254.2h0.8v0.8h-0.8zM65.3 255.6h0.8v0.8h-0.8zM63.1 256.3h0.8v0.8h-0.8zM48.7 262.0h0.8v0.8h-0.8zM59.7 265.9h0.8v0.8h-0.8zM62.4 257.7h0.8v0.8h-0.8zM78.1 259.1h0.8v0.8h-0.8zM31.5 252.0h0.8v0.8h-0.8zM44.5 254.4h0.8v0.8h-0.8zM74.1 253.3h0.8v0.8h-0.8zM58.9 263.6h0.8v0.8h-0.8zM65.4 259.4h0.8v0.8h-0.8zM81.4 261.1h0.8v0.8h-0.8zM59.6 261.2h0.8v0.8h-0.8zM45.9 263.1h0.8v0.8h-0.8zM79.1 258.6h0.8v0.8h-0.8zM43.1 267.0h0.8v0.8h-0.8zM55.3 255.9h0.8v0.8h-0.8zM29.1 255.8h0.8v0.8h-0.8zM38.5 258.9h0.8v0.8h-0.8zM42.6 249.6h0.8v0.8h-0.8zM63.4 262.9h0.8v0.8h-0.8zM69.1 251.1h0.8v0.8h-0.8zM68.3 266.8h0.8v0.8h-0.8zM66.3 263.2h0.8v0.8h-0.8zM39.7 265.9h0.8v0.8h-0.8zM53.3 260.8h0.8v0.8h-0.8zM69.7 264.3h0.8v0.8h-0.8zM69.0 256.1h0.8v0.8h-0.8zM31.4 252.4h0.8v0.8h-0.8zM45.9 257.5h0.8v0.8h-0.8zM43.0 260.1h0.8v0.8h-0.8zM24.2 257.2h0.8v0.8h-0.8zM60.5 250.3h0.8v0.8h-0.8zM70.5 257.6h0.8v0.8h-0.8zM33.8 255.8h0.8v0.8h-0.8zM33.9 259.1h0.8v0.8h-0.8zM77.7 264.5h0.8v0.8h-0.8zM27.8 264.4h0.8v0.8h-0.8zM31.5 256.1h0.8v0.8h-0.8zM71.9 266.5h0.8v0.8h-0.8zM43.6 251.0h0.8v0.8h-0.8zM28.8 256.2h0.8v0.8h-0.8zM59.8 258.3h0.8v0.8h-0.8zM35.7 256.8h0.8v0.8h-0.8zM57.9 257.9h0.8v0.8h-0.8zM45.0 256.9h0.8v0.8h-0.8zM44.7 251.4h0.8v0.8h-0.8zM23.8 256.9h0.8v0.8h-0.8zM74.0 254.1h0.8v0.8h-0.8zM79.7 263.1h0.8v0.8h-0.8zM74.9 262.0h0.8v0.8h-0.8zM41.3 261.3h0.8v0.8h-0.8zM62.8 253.1h0.8v0.8h-0.8zM24.0 255.4h0.8v0.8h-0.8zM51.8 257.8h0.8v0.8h-0.8zM61.0 262.2h0.8v0.8h-0.8zM43.6 265.8h0.8v0.8h-0.8zM30.0 265.5h0.8v0.8h-0.8zM53.3 250.9h0.8v0.8h-0.8zM76.2 255.2h0.8v0.8h-0.8zM61.2 264.9h0.8v0.8h-0.8zM66.9 266.9h0.8v0.8h-0.8zM74.1 260.3h0.8v0.8h-0.8zM52.9 265.1h0.8v0.8h-0.8zM40.2 262.5h0.8v0.8h-0.8zM30.0 265.4h0.8v0.8h-0.8zM30.5 266.0h0.8v0.8h-0.8zM47.6 249.4h0.8v0.8h-0.8zM28.4 254.9h0.8v0.8h-0.8zM65.7 266.2h0.8v0.8h-0.8zM37.7 250.5h0.8v0.8h-0.8zM56.2 266.7h0.8v0.8h-0.8zM25.7 261.1h0.8v0.8h-0.8zM56.8 267.2h0.8v0.8h-0.8zM47.8 261.1h0.8v0.8h-0.8zM70.2 259.7h0.8v0.8h-0.8zM71.3 259.4h0.8v0.8h-0.8zM27.4 262.7h0.8v0.8h-0.8zM32.5 258.0h0.8v0.8h-0.8z" fill="#5068c0" opacity="0.85"/><path d="M61.7 261.9h0.8v0.8h-0.8zM31.6 264.4h0.8v0.8h-0.8zM70.1 263.5h0.8v0.8h-0.8zM40.9 249.2h0.8v0.8h-0.8zM64.5 259.4h0.8v0.8h-0.8zM66.8 255.9h0.8v0.8h-0.8zM31.7 258.5h0.8v0.8h-0.8zM55.4 257.2h0.8v0.8h-0.8zM34.9 265.0h0.8v0.8h-0.8zM68.4 264.1h0.8v0.8h-0.8zM43.4 256.2h0.8v0.8h-0.8zM52.0 256.9h0.8v0.8h-0.8zM81.3 259.2h0.8v0.8h-0.8zM52.7 257.2h0.8v0.8h-0.8zM85.5 259.0h0.8v0.8h-0.8zM44.8 257.7h0.8v0.8h-0.8zM75.7 256.2h0.8v0.8h-0.8zM49.0 262.8h0.8v0.8h-0.8zM50.5 262.1h0.8v0.8h-0.8zM56.5 266.5h0.8v0.8h-0.8zM26.9 264.4h0.8v0.8h-0.8zM42.8 254.9h0.8v0.8h-0.8zM25.6 253.1h0.8v0.8h-0.8zM45.6 258.4h0.8v0.8h-0.8zM36.9 263.0h0.8v0.8h-0.8zM76.9 256.0h0.8v0.8h-0.8zM41.9 265.1h0.8v0.8h-0.8zM77.3 260.6h0.8v0.8h-0.8zM73.4 252.8h0.8v0.8h-0.8zM43.5 262.9h0.8v0.8h-0.8zM26.2 257.8h0.8v0.8h-0.8zM62.1 264.9h0.8v0.8h-0.8zM46.1 266.2h0.8v0.8h-0.8zM41.3 267.4h0.8v0.8h-0.8zM30.3 258.0h0.8v0.8h-0.8zM69.8 254.6h0.8v0.8h-0.8zM49.4 250.6h0.8v0.8h-0.8zM49.9 253.5h0.8v0.8h-0.8zM29.8 251.1h0.8v0.8h-0.8zM43.1 250.8h0.8v0.8h-0.8zM40.9 267.1h0.8v0.8h-0.8zM47.3 260.2h0.8v0.8h-0.8zM63.4 257.6h0.8v0.8h-0.8zM62.9 262.9h0.8v0.8h-0.8zM26.6 263.0h0.8v0.8h-0.8zM49.1 267.1h0.8v0.8h-0.8zM48.7 260.4h0.8v0.8h-0.8zM85.3 257.9h0.8v0.8h-0.8zM42.7 257.8h0.8v0.8h-0.8zM58.1 268.3h0.8v0.8h-0.8zM61.9 262.0h0.8v0.8h-0.8zM72.0 256.0h0.8v0.8h-0.8zM66.0 261.1h0.8v0.8h-0.8zM56.5 257.2h0.8v0.8h-0.8zM30.8 259.4h0.8v0.8h-0.8zM53.9 264.4h0.8v0.8h-0.8zM68.4 251.4h0.8v0.8h-0.8zM65.6 253.2h0.8v0.8h-0.8zM74.3 252.3h0.8v0.8h-0.8zM27.4 257.9h0.8v0.8h-0.8zM46.7 268.6h0.8v0.8h-0.8zM50.7 264.2h0.8v0.8h-0.8zM59.4 266.4h0.8v0.8h-0.8zM71.1 258.3h0.8v0.8h-0.8zM73.4 257.2h0.8v0.8h-0.8zM52.4 265.7h0.8v0.8h-0.8zM60.2 251.4h0.8v0.8h-0.8zM47.6 264.9h0.8v0.8h-0.8zM69.0 254.8h0.8v0.8h-0.8zM59.9 258.4h0.8v0.8h-0.8zM38.3 256.7h0.8v0.8h-0.8zM54.7 260.4h0.8v0.8h-0.8zM42.9 262.1h0.8v0.8h-0.8zM33.6 259.7h0.8v0.8h-0.8zM30.3 251.1h0.8v0.8h-0.8zM49.0 259.1h0.8v0.8h-0.8zM45.3 253.6h0.8v0.8h-0.8zM38.8 267.4h0.8v0.8h-0.8zM75.2 265.2h0.8v0.8h-0.8zM46.7 258.7h0.8v0.8h-0.8zM58.5 267.8h0.8v0.8h-0.8zM73.2 257.1h0.8v0.8h-0.8zM81.5 256.9h0.8v0.8h-0.8zM61.3 260.4h0.8v0.8h-0.8zM39.1 261.1h0.8v0.8h-0.8zM79.8 253.9h0.8v0.8h-0.8zM41.6 258.0h0.8v0.8h-0.8zM76.6 260.7h0.8v0.8h-0.8zM39.5 258.8h0.8v0.8h-0.8zM74.5 254.6h0.8v0.8h-0.8zM67.1 252.9h0.8v0.8h-0.8zM59.4 252.3h0.8v0.8h-0.8zM54.9 252.3h0.8v0.8h-0.8zM38.8 257.3h0.8v0.8h-0.8zM39.1 259.9h0.8v0.8h-0.8zM79.7 260.5h0.8v0.8h-0.8zM56.4 259.8h0.8v0.8h-0.8zM38.6 256.2h0.8v0.8h-0.8zM82.6 257.4h0.8v0.8h-0.8zM26.4 259.6h0.8v0.8h-0.8zM61.6 259.7h0.8v0.8h-0.8zM23.1 263.0h0.8v0.8h-0.8zM34.4 252.8h0.8v0.8h-0.8zM65.7 265.0h0.8v0.8h-0.8zM42.7 261.9h0.8v0.8h-0.8zM48.8 264.7h0.8v0.8h-0.8zM49.8 261.3h0.8v0.8h-0.8zM49.1 266.9h0.8v0.8h-0.8zM38.6 259.3h0.8v0.8h-0.8zM53.5 259.4h0.8v0.8h-0.8zM50.0 251.4h0.8v0.8h-0.8zM40.5 264.7h0.8v0.8h-0.8zM75.0 254.5h0.8v0.8h-0.8zM71.8 263.0h0.8v0.8h-0.8zM55.4 262.2h0.8v0.8h-0.8zM73.1 261.6h0.8v0.8h-0.8zM28.5 254.9h0.8v0.8h-0.8zM76.1 258.3h0.8v0.8h-0.8zM68.3 256.6h0.8v0.8h-0.8zM43.6 258.9h0.8v0.8h-0.8zM55.9 261.9h0.8v0.8h-0.8zM24.8 262.2h0.8v0.8h-0.8zM45.2 261.7h0.8v0.8h-0.8zM46.4 256.9h0.8v0.8h-0.8zM36.8 254.3h0.8v0.8h-0.8zM75.2 253.5h0.8v0.8h-0.8zM57.9 260.3h0.8v0.8h-0.8zM42.4 253.1h0.8v0.8h-0.8zM57.2 261.2h0.8v0.8h-0.8zM70.1 257.0h0.8v0.8h-0.8zM78.6 256.8h0.8v0.8h-0.8zM34.6 265.9h0.8v0.8h-0.8zM56.9 259.5h0.8v0.8h-0.8zM74.7 252.0h0.8v0.8h-0.8zM51.6 255.4h0.8v0.8h-0.8zM69.1 256.6h0.8v0.8h-0.8zM36.0 260.0h0.8v0.8h-0.8zM30.9 252.0h0.8v0.8h-0.8zM33.0 262.9h0.8v0.8h-0.8zM39.6 258.7h0.8v0.8h-0.8zM55.3 257.1h0.8v0.8h-0.8zM35.5 251.9h0.8v0.8h-0.8zM64.8 263.6h0.8v0.8h-0.8zM76.9 253.2h0.8v0.8h-0.8zM62.4 250.4h0.8v0.8h-0.8zM74.4 253.7h0.8v0.8h-0.8zM55.3 262.5h0.8v0.8h-0.8zM76.3 261.1h0.8v0.8h-0.8zM66.9 255.4h0.8v0.8h-0.8zM72.3 252.6h0.8v0.8h-0.8zM67.3 252.3h0.8v0.8h-0.8zM70.0 251.8h0.8v0.8h-0.8zM69.1 267.3h0.8v0.8h-0.8zM82.1 256.0h0.8v0.8h-0.8zM52.8 268.6h0.8v0.8h-0.8zM34.8 266.6h0.8v0.8h-0.8zM35.3 255.2h0.8v0.8h-0.8zM39.6 262.9h0.8v0.8h-0.8zM32.4 255.3h0.8v0.8h-0.8zM27.4 255.8h0.8v0.8h-0.8zM47.1 266.5h0.8v0.8h-0.8zM59.4 261.4h0.8v0.8h-0.8zM32.5 260.8h0.8v0.8h-0.8zM82.7 257.9h0.8v0.8h-0.8zM48.4 258.1h0.8v0.8h-0.8zM65.4 266.9h0.8v0.8h-0.8zM31.5 256.8h0.8v0.8h-0.8zM60.2 251.4h0.8v0.8h-0.8zM27.4 261.7h0.8v0.8h-0.8zM35.7 264.1h0.8v0.8h-0.8zM70.3 265.8h0.8v0.8h-0.8zM38.8 252.8h0.8v0.8h-0.8zM72.4 262.5h0.8v0.8h-0.8zM81.4 263.0h0.8v0.8h-0.8zM43.3 263.3h0.8v0.8h-0.8zM24.2 264.0h0.8v0.8h-0.8zM79.6 266.3h0.8v0.8h-0.8zM49.9 250.8h0.8v0.8h-0.8zM71.3 256.1h0.8v0.8h-0.8zM79.7 261.1h0.8v0.8h-0.8zM49.8 261.6h0.8v0.8h-0.8zM29.3 264.0h0.8v0.8h-0.8zM79.7 262.6h0.8v0.8h-0.8zM46.6 265.4h0.8v0.8h-0.8zM73.9 255.4h0.8v0.8h-0.8zM63.3 257.9h0.8v0.8h-0.8zM42.5 264.7h0.8v0.8h-0.8zM53.8 262.6h0.8v0.8h-0.8zM22.4 254.7h0.8v0.8h-0.8zM56.9 262.4h0.8v0.8h-0.8zM73.2 263.1h0.8v0.8h-0.8zM55.6 264.4h0.8v0.8h-0.8zM66.2 255.4h0.8v0.8h-0.8zM57.5 266.7h0.8v0.8h-0.8zM25.3 260.8h0.8v0.8h-0.8zM66.8 258.8h0.8v0.8h-0.8zM58.5 259.5h0.8v0.8h-0.8zM41.2 262.6h0.8v0.8h-0.8zM43.4 259.0h0.8v0.8h-0.8zM32.6 260.7h0.8v0.8h-0.8zM30.5 253.7h0.8v0.8h-0.8zM43.8 253.9h0.8v0.8h-0.8zM66.1 264.6h0.8v0.8h-0.8zM26.6 261.1h0.8v0.8h-0.8zM29.9 251.8h0.8v0.8h-0.8zM35.3 260.1h0.8v0.8h-0.8zM39.3 264.4h0.8v0.8h-0.8z" fill="#3048b0" opacity="0.85"/><path d="M27.0 260.8h0.8v0.8h-0.8zM52.3 259.7h0.8v0.8h-0.8zM58.3 264.5h0.8v0.8h-0.8zM43.6 250.6h0.8v0.8h-0.8zM49.2 257.9h0.8v0.8h-0.8zM56.9 250.0h0.8v0.8h-0.8zM68.0 260.7h0.8v0.8h-0.8zM64.9 262.0h0.8v0.8h-0.8zM47.6 256.1h0.8v0.8h-0.8zM51.3 254.6h0.8v0.8h-0.8zM75.1 260.6h0.8v0.8h-0.8zM67.8 260.7h0.8v0.8h-0.8zM57.4 264.5h0.8v0.8h-0.8zM41.5 252.7h0.8v0.8h-0.8zM53.3 258.0h0.8v0.8h-0.8zM26.4 265.8h0.8v0.8h-0.8zM30.6 256.0h0.8v0.8h-0.8zM61.7 265.8h0.8v0.8h-0.8zM80.0 263.0h0.8v0.8h-0.8zM28.2 254.9h0.8v0.8h-0.8zM59.8 261.2h0.8v0.8h-0.8zM49.8 250.0h0.8v0.8h-0.8zM36.2 255.0h0.8v0.8h-0.8zM83.2 262.6h0.8v0.8h-0.8zM40.4 259.9h0.8v0.8h-0.8zM76.7 257.8h0.8v0.8h-0.8zM40.8 252.5h0.8v0.8h-0.8zM28.9 266.6h0.8v0.8h-0.8zM56.5 262.3h0.8v0.8h-0.8zM85.3 257.6h0.8v0.8h-0.8zM46.6 261.4h0.8v0.8h-0.8zM74.9 255.3h0.8v0.8h-0.8zM69.4 255.8h0.8v0.8h-0.8zM41.9 263.0h0.8v0.8h-0.8zM23.7 256.4h0.8v0.8h-0.8zM80.9 261.8h0.8v0.8h-0.8zM53.6 252.0h0.8v0.8h-0.8zM75.2 256.2h0.8v0.8h-0.8zM37.2 255.1h0.8v0.8h-0.8zM58.7 262.3h0.8v0.8h-0.8zM59.2 252.5h0.8v0.8h-0.8zM49.5 255.1h0.8v0.8h-0.8zM69.4 251.4h0.8v0.8h-0.8zM30.0 261.7h0.8v0.8h-0.8zM34.0 255.4h0.8v0.8h-0.8zM81.4 256.3h0.8v0.8h-0.8zM51.1 252.3h0.8v0.8h-0.8zM22.5 253.0h0.8v0.8h-0.8zM78.1 259.5h0.8v0.8h-0.8zM41.0 260.6h0.8v0.8h-0.8zM47.9 255.8h0.8v0.8h-0.8zM51.7 259.4h0.8v0.8h-0.8zM54.1 266.1h0.8v0.8h-0.8zM56.9 254.4h0.8v0.8h-0.8zM43.2 251.2h0.8v0.8h-0.8zM52.8 253.8h0.8v0.8h-0.8zM48.3 266.0h0.8v0.8h-0.8zM45.5 258.9h0.8v0.8h-0.8zM72.7 256.5h0.8v0.8h-0.8zM37.4 264.5h0.8v0.8h-0.8zM32.7 263.5h0.8v0.8h-0.8zM26.3 259.4h0.8v0.8h-0.8zM66.5 251.2h0.8v0.8h-0.8zM27.5 266.4h0.8v0.8h-0.8zM61.3 261.2h0.8v0.8h-0.8zM59.7 255.3h0.8v0.8h-0.8zM31.1 266.9h0.8v0.8h-0.8zM70.5 257.3h0.8v0.8h-0.8zM47.1 264.6h0.8v0.8h-0.8zM34.8 255.8h0.8v0.8h-0.8zM72.6 266.2h0.8v0.8h-0.8zM50.5 252.0h0.8v0.8h-0.8zM61.7 253.0h0.8v0.8h-0.8zM60.1 264.3h0.8v0.8h-0.8zM43.0 256.6h0.8v0.8h-0.8zM56.1 258.2h0.8v0.8h-0.8zM55.3 254.9h0.8v0.8h-0.8zM83.6 259.9h0.8v0.8h-0.8zM63.0 264.3h0.8v0.8h-0.8zM54.5 265.7h0.8v0.8h-0.8zM46.6 253.0h0.8v0.8h-0.8zM36.3 253.6h0.8v0.8h-0.8zM61.4 265.8h0.8v0.8h-0.8zM54.5 258.8h0.8v0.8h-0.8zM65.8 264.3h0.8v0.8h-0.8zM71.0 264.6h0.8v0.8h-0.8zM67.6 256.9h0.8v0.8h-0.8zM66.1 250.9h0.8v0.8h-0.8zM69.7 257.2h0.8v0.8h-0.8zM57.8 257.2h0.8v0.8h-0.8zM72.1 261.3h0.8v0.8h-0.8zM73.2 262.9h0.8v0.8h-0.8zM44.4 259.5h0.8v0.8h-0.8zM80.1 252.1h0.8v0.8h-0.8zM54.1 267.9h0.8v0.8h-0.8zM30.6 252.2h0.8v0.8h-0.8zM28.2 262.9h0.8v0.8h-0.8zM65.6 266.8h0.8v0.8h-0.8zM28.6 252.5h0.8v0.8h-0.8zM52.5 267.6h0.8v0.8h-0.8zM73.0 263.4h0.8v0.8h-0.8zM69.5 263.2h0.8v0.8h-0.8zM34.5 261.5h0.8v0.8h-0.8zM76.3 264.5h0.8v0.8h-0.8zM43.1 254.5h0.8v0.8h-0.8zM57.5 262.2h0.8v0.8h-0.8zM28.9 256.9h0.8v0.8h-0.8zM58.2 257.4h0.8v0.8h-0.8zM55.3 260.3h0.8v0.8h-0.8zM59.9 251.7h0.8v0.8h-0.8zM35.0 264.9h0.8v0.8h-0.8zM66.1 264.5h0.8v0.8h-0.8zM67.2 261.2h0.8v0.8h-0.8zM61.9 253.5h0.8v0.8h-0.8zM24.8 261.3h0.8v0.8h-0.8zM71.4 263.0h0.8v0.8h-0.8zM36.9 263.0h0.8v0.8h-0.8zM26.8 263.8h0.8v0.8h-0.8zM39.3 266.4h0.8v0.8h-0.8zM77.2 266.5h0.8v0.8h-0.8zM38.6 262.5h0.8v0.8h-0.8zM35.0 266.6h0.8v0.8h-0.8zM41.5 264.0h0.8v0.8h-0.8zM72.8 260.2h0.8v0.8h-0.8zM78.4 259.4h0.8v0.8h-0.8zM40.8 252.6h0.8v0.8h-0.8zM71.9 255.3h0.8v0.8h-0.8zM41.2 254.9h0.8v0.8h-0.8zM32.0 263.6h0.8v0.8h-0.8zM55.8 265.4h0.8v0.8h-0.8zM47.2 260.4h0.8v0.8h-0.8zM34.2 255.3h0.8v0.8h-0.8zM28.3 262.5h0.8v0.8h-0.8zM75.1 260.9h0.8v0.8h-0.8zM77.8 257.8h0.8v0.8h-0.8zM58.3 258.8h0.8v0.8h-0.8zM27.1 262.7h0.8v0.8h-0.8zM69.0 255.5h0.8v0.8h-0.8zM51.4 260.3h0.8v0.8h-0.8zM41.5 250.7h0.8v0.8h-0.8zM78.4 260.4h0.8v0.8h-0.8zM65.1 253.0h0.8v0.8h-0.8zM66.1 257.0h0.8v0.8h-0.8zM48.1 256.3h0.8v0.8h-0.8zM35.5 252.2h0.8v0.8h-0.8zM39.2 266.3h0.8v0.8h-0.8zM31.7 263.8h0.8v0.8h-0.8zM78.5 255.3h0.8v0.8h-0.8zM72.7 252.8h0.8v0.8h-0.8zM79.9 260.0h0.8v0.8h-0.8zM42.1 261.5h0.8v0.8h-0.8zM38.2 262.6h0.8v0.8h-0.8zM61.9 266.4h0.8v0.8h-0.8zM50.0 263.7h0.8v0.8h-0.8zM62.0 265.9h0.8v0.8h-0.8zM39.8 252.1h0.8v0.8h-0.8zM71.6 254.8h0.8v0.8h-0.8zM77.2 255.2h0.8v0.8h-0.8zM48.1 248.3h0.8v0.8h-0.8zM57.0 255.4h0.8v0.8h-0.8zM22.1 260.4h0.8v0.8h-0.8zM23.8 266.7h0.8v0.8h-0.8zM64.0 263.4h0.8v0.8h-0.8zM33.5 258.4h0.8v0.8h-0.8zM29.1 258.6h0.8v0.8h-0.8zM56.6 257.4h0.8v0.8h-0.8zM31.8 257.0h0.8v0.8h-0.8zM41.7 255.9h0.8v0.8h-0.8zM68.1 259.4h0.8v0.8h-0.8zM35.8 261.8h0.8v0.8h-0.8zM45.0 264.8h0.8v0.8h-0.8zM38.5 265.8h0.8v0.8h-0.8zM59.2 264.6h0.8v0.8h-0.8zM59.1 267.6h0.8v0.8h-0.8zM58.9 251.6h0.8v0.8h-0.8zM47.4 266.1h0.8v0.8h-0.8zM81.5 261.2h0.8v0.8h-0.8zM65.8 266.5h0.8v0.8h-0.8zM46.6 258.0h0.8v0.8h-0.8zM32.7 262.5h0.8v0.8h-0.8zM26.5 264.2h0.8v0.8h-0.8zM35.1 253.3h0.8v0.8h-0.8zM68.5 265.8h0.8v0.8h-0.8zM27.1 256.6h0.8v0.8h-0.8zM53.7 264.1h0.8v0.8h-0.8zM57.1 260.4h0.8v0.8h-0.8zM85.5 260.1h0.8v0.8h-0.8zM45.7 256.4h0.8v0.8h-0.8zM38.7 264.5h0.8v0.8h-0.8zM45.3 259.9h0.8v0.8h-0.8zM33.5 265.2h0.8v0.8h-0.8zM51.2 261.2h0.8v0.8h-0.8zM29.0 264.3h0.8v0.8h-0.8zM82.3 258.7h0.8v0.8h-0.8zM81.5 263.9h0.8v0.8h-0.8zM79.6 256.6h0.8v0.8h-0.8zM61.9 265.5h0.8v0.8h-0.8zM28.8 258.2h0.8v0.8h-0.8zM66.1 253.8h0.8v0.8h-0.8zM39.1 250.8h0.8v0.8h-0.8zM38.3 261.1h0.8v0.8h-0.8zM34.0 266.6h0.8v0.8h-0.8zM40.2 251.8h0.8v0.8h-0.8zM70.3 251.4h0.8v0.8h-0.8zM40.3 255.6h0.8v0.8h-0.8zM65.2 263.5h0.8v0.8h-0.8zM51.6 257.3h0.8v0.8h-0.8zM82.4 259.8h0.8v0.8h-0.8zM56.1 261.5h0.8v0.8h-0.8zM40.5 250.3h0.8v0.8h-0.8zM83.3 256.0h0.8v0.8h-0.8zM40.5 254.7h0.8v0.8h-0.8zM30.7 258.3h0.8v0.8h-0.8zM46.6 255.4h0.8v0.8h-0.8zM25.6 256.4h0.8v0.8h-0.8zM54.1 254.4h0.8v0.8h-0.8zM72.2 266.7h0.8v0.8h-0.8z" fill="#2030a0" opacity="0.85"/><path d="M67.4 250.7h0.8v0.8h-0.8zM48.8 255.9h0.8v0.8h-0.8zM69.3 267.5h0.8v0.8h-0.8zM55.2 251.2h0.8v0.8h-0.8zM54.5 267.9h0.8v0.8h-0.8zM49.7 251.7h0.8v0.8h-0.8zM54.1 265.4h0.8v0.8h-0.8zM78.7 260.0h0.8v0.8h-0.8zM68.6 251.7h0.8v0.8h-0.8zM74.5 251.7h0.8v0.8h-0.8zM63.8 266.1h0.8v0.8h-0.8zM54.5 257.3h0.8v0.8h-0.8zM60.3 259.7h0.8v0.8h-0.8zM49.6 260.6h0.8v0.8h-0.8zM78.2 263.7h0.8v0.8h-0.8zM34.0 261.0h0.8v0.8h-0.8zM25.4 259.2h0.8v0.8h-0.8zM69.1 267.3h0.8v0.8h-0.8zM52.6 268.9h0.8v0.8h-0.8zM60.1 253.8h0.8v0.8h-0.8zM78.3 260.3h0.8v0.8h-0.8zM28.8 258.1h0.8v0.8h-0.8zM51.0 251.1h0.8v0.8h-0.8zM69.1 265.8h0.8v0.8h-0.8zM32.2 255.3h0.8v0.8h-0.8zM50.7 269.0h0.8v0.8h-0.8zM53.2 256.5h0.8v0.8h-0.8zM48.1 266.5h0.8v0.8h-0.8zM50.5 268.0h0.8v0.8h-0.8zM84.0 260.3h0.8v0.8h-0.8zM55.2 266.8h0.8v0.8h-0.8zM56.5 254.8h0.8v0.8h-0.8zM42.4 257.9h0.8v0.8h-0.8zM31.4 251.4h0.8v0.8h-0.8zM27.1 266.3h0.8v0.8h-0.8zM42.0 266.3h0.8v0.8h-0.8zM59.0 256.8h0.8v0.8h-0.8zM41.1 251.2h0.8v0.8h-0.8zM54.0 259.9h0.8v0.8h-0.8zM55.2 260.6h0.8v0.8h-0.8zM57.7 262.3h0.8v0.8h-0.8zM84.4 258.3h0.8v0.8h-0.8zM55.7 256.6h0.8v0.8h-0.8zM42.6 259.2h0.8v0.8h-0.8zM79.7 261.3h0.8v0.8h-0.8zM31.4 261.1h0.8v0.8h-0.8zM74.4 258.2h0.8v0.8h-0.8zM55.9 267.0h0.8v0.8h-0.8zM58.9 255.5h0.8v0.8h-0.8zM78.0 261.7h0.8v0.8h-0.8zM35.5 254.2h0.8v0.8h-0.8zM54.5 268.4h0.8v0.8h-0.8zM47.9 251.7h0.8v0.8h-0.8zM26.0 252.1h0.8v0.8h-0.8zM23.2 255.0h0.8v0.8h-0.8zM46.5 262.7h0.8v0.8h-0.8zM49.2 256.1h0.8v0.8h-0.8zM78.5 253.2h0.8v0.8h-0.8zM27.9 252.3h0.8v0.8h-0.8zM36.7 265.6h0.8v0.8h-0.8zM46.5 263.2h0.8v0.8h-0.8zM56.2 262.7h0.8v0.8h-0.8zM66.2 264.5h0.8v0.8h-0.8zM72.7 263.5h0.8v0.8h-0.8zM77.3 261.9h0.8v0.8h-0.8zM62.0 257.1h0.8v0.8h-0.8zM66.1 263.0h0.8v0.8h-0.8zM49.6 251.1h0.8v0.8h-0.8zM54.7 255.5h0.8v0.8h-0.8zM35.1 263.9h0.8v0.8h-0.8zM77.5 252.6h0.8v0.8h-0.8zM42.1 265.4h0.8v0.8h-0.8zM82.7 256.7h0.8v0.8h-0.8zM60.0 250.6h0.8v0.8h-0.8zM59.6 263.8h0.8v0.8h-0.8zM28.2 255.8h0.8v0.8h-0.8zM60.1 260.0h0.8v0.8h-0.8zM77.8 264.2h0.8v0.8h-0.8zM46.5 265.7h0.8v0.8h-0.8zM48.3 254.9h0.8v0.8h-0.8zM30.2 258.7h0.8v0.8h-0.8zM43.1 264.3h0.8v0.8h-0.8zM62.6 259.8h0.8v0.8h-0.8zM48.8 254.7h0.8v0.8h-0.8zM42.5 264.4h0.8v0.8h-0.8zM34.0 252.8h0.8v0.8h-0.8zM58.3 255.1h0.8v0.8h-0.8zM37.1 263.1h0.8v0.8h-0.8zM31.6 259.0h0.8v0.8h-0.8zM56.0 250.2h0.8v0.8h-0.8zM46.3 255.9h0.8v0.8h-0.8zM79.0 265.2h0.8v0.8h-0.8zM79.4 259.0h0.8v0.8h-0.8zM55.5 254.0h0.8v0.8h-0.8zM44.5 252.6h0.8v0.8h-0.8zM65.4 253.6h0.8v0.8h-0.8zM45.4 266.4h0.8v0.8h-0.8zM56.9 264.1h0.8v0.8h-0.8zM31.2 251.3h0.8v0.8h-0.8zM27.5 258.7h0.8v0.8h-0.8zM54.2 250.5h0.8v0.8h-0.8zM23.0 253.0h0.8v0.8h-0.8zM32.0 262.7h0.8v0.8h-0.8zM45.4 256.1h0.8v0.8h-0.8zM36.4 263.0h0.8v0.8h-0.8zM57.6 249.8h0.8v0.8h-0.8zM26.9 265.4h0.8v0.8h-0.8zM36.7 260.6h0.8v0.8h-0.8zM58.9 253.2h0.8v0.8h-0.8zM81.4 260.7h0.8v0.8h-0.8zM55.5 254.6h0.8v0.8h-0.8zM64.5 256.7h0.8v0.8h-0.8zM25.3 258.7h0.8v0.8h-0.8zM23.6 264.2h0.8v0.8h-0.8zM53.2 258.7h0.8v0.8h-0.8zM43.2 259.0h0.8v0.8h-0.8zM32.6 257.0h0.8v0.8h-0.8zM69.4 265.1h0.8v0.8h-0.8zM39.0 263.2h0.8v0.8h-0.8zM55.0 259.3h0.8v0.8h-0.8zM54.9 250.7h0.8v0.8h-0.8zM24.2 258.4h0.8v0.8h-0.8zM31.2 260.6h0.8v0.8h-0.8zM25.4 264.2h0.8v0.8h-0.8zM39.8 257.6h0.8v0.8h-0.8zM46.5 267.8h0.8v0.8h-0.8zM67.9 253.1h0.8v0.8h-0.8zM71.5 259.0h0.8v0.8h-0.8zM83.0 255.4h0.8v0.8h-0.8zM65.7 267.5h0.8v0.8h-0.8zM67.4 265.5h0.8v0.8h-0.8zM77.8 262.7h0.8v0.8h-0.8zM64.7 260.2h0.8v0.8h-0.8zM46.9 266.2h0.8v0.8h-0.8zM64.9 262.3h0.8v0.8h-0.8zM45.7 262.4h0.8v0.8h-0.8zM73.1 256.6h0.8v0.8h-0.8zM69.5 250.6h0.8v0.8h-0.8zM84.2 256.3h0.8v0.8h-0.8zM41.6 256.2h0.8v0.8h-0.8zM56.4 267.6h0.8v0.8h-0.8zM34.2 255.5h0.8v0.8h-0.8zM38.7 252.9h0.8v0.8h-0.8zM46.8 261.2h0.8v0.8h-0.8zM65.5 262.5h0.8v0.8h-0.8zM70.9 258.1h0.8v0.8h-0.8zM43.4 259.8h0.8v0.8h-0.8zM48.1 264.3h0.8v0.8h-0.8zM53.7 249.7h0.8v0.8h-0.8zM46.1 255.5h0.8v0.8h-0.8zM37.5 267.8h0.8v0.8h-0.8zM68.8 267.1h0.8v0.8h-0.8zM71.9 264.5h0.8v0.8h-0.8zM47.3 264.3h0.8v0.8h-0.8zM31.2 251.8h0.8v0.8h-0.8zM57.8 259.3h0.8v0.8h-0.8zM77.1 256.3h0.8v0.8h-0.8zM48.7 255.9h0.8v0.8h-0.8zM72.7 263.5h0.8v0.8h-0.8zM51.1 254.7h0.8v0.8h-0.8zM52.0 250.1h0.8v0.8h-0.8zM22.5 263.1h0.8v0.8h-0.8zM39.3 262.6h0.8v0.8h-0.8zM34.1 262.2h0.8v0.8h-0.8zM42.7 252.8h0.8v0.8h-0.8zM76.8 253.6h0.8v0.8h-0.8zM29.5 256.4h0.8v0.8h-0.8zM33.7 255.1h0.8v0.8h-0.8zM37.3 266.8h0.8v0.8h-0.8zM40.8 264.8h0.8v0.8h-0.8zM53.4 262.8h0.8v0.8h-0.8zM45.5 257.8h0.8v0.8h-0.8zM40.6 255.5h0.8v0.8h-0.8zM56.2 259.6h0.8v0.8h-0.8zM76.4 261.5h0.8v0.8h-0.8zM41.8 261.2h0.8v0.8h-0.8zM53.2 267.6h0.8v0.8h-0.8zM47.8 251.5h0.8v0.8h-0.8zM35.9 259.4h0.8v0.8h-0.8zM32.9 252.5h0.8v0.8h-0.8zM29.8 259.6h0.8v0.8h-0.8zM71.4 255.8h0.8v0.8h-0.8zM47.8 262.6h0.8v0.8h-0.8zM25.0 259.6h0.8v0.8h-0.8zM67.0 257.5h0.8v0.8h-0.8zM37.7 254.8h0.8v0.8h-0.8zM58.7 263.0h0.8v0.8h-0.8zM26.6 257.2h0.8v0.8h-0.8zM44.2 258.4h0.8v0.8h-0.8zM29.8 254.6h0.8v0.8h-0.8zM63.1 255.4h0.8v0.8h-0.8zM54.8 262.0h0.8v0.8h-0.8zM74.4 263.2h0.8v0.8h-0.8zM52.0 266.2h0.8v0.8h-0.8zM58.4 264.6h0.8v0.8h-0.8zM73.7 266.0h0.8v0.8h-0.8zM63.8 250.9h0.8v0.8h-0.8zM72.9 257.6h0.8v0.8h-0.8zM30.5 257.2h0.8v0.8h-0.8zM31.6 254.2h0.8v0.8h-0.8zM67.2 262.8h0.8v0.8h-0.8zM31.8 267.4h0.8v0.8h-0.8zM32.9 266.7h0.8v0.8h-0.8zM62.8 253.1h0.8v0.8h-0.8zM27.8 264.3h0.8v0.8h-0.8zM26.7 259.4h0.8v0.8h-0.8zM59.2 261.0h0.8v0.8h-0.8zM75.6 253.6h0.8v0.8h-0.8zM48.6 259.3h0.8v0.8h-0.8zM39.6 252.1h0.8v0.8h-0.8zM32.2 255.3h0.8v0.8h-0.8zM62.6 253.4h0.8v0.8h-0.8zM32.9 266.0h0.8v0.8h-0.8zM51.6 251.7h0.8v0.8h-0.8zM32.3 250.6h0.8v0.8h-0.8zM77.4 254.6h0.8v0.8h-0.8zM26.5 264.1h0.8v0.8h-0.8zM30.5 258.2h0.8v0.8h-0.8zM79.1 261.0h0.8v0.8h-0.8zM35.0 262.1h0.8v0.8h-0.8zM42.6 256.3h0.8v0.8h-0.8zM42.6 260.6h0.8v0.8h-0.8zM62.7 267.5h0.8v0.8h-0.8zM42.4 268.1h0.8v0.8h-0.8zM55.0 263.7h0.8v0.8h-0.8zM48.9 257.2h0.8v0.8h-0.8zM37.0 267.0h0.8v0.8h-0.8zM75.0 258.5h0.8v0.8h-0.8zM65.4 257.0h0.8v0.8h-0.8zM59.4 261.7h0.8v0.8h-0.8zM43.8 260.5h0.8v0.8h-0.8zM46.0 258.9h0.8v0.8h-0.8zM59.9 250.8h0.8v0.8h-0.8zM25.3 263.6h0.8v0.8h-0.8z" fill="#2838a8" opacity="0.85"/><path d="M35.0 262.8h0.8v0.8h-0.8zM57.8 259.7h0.8v0.8h-0.8zM56.2 259.4h0.8v0.8h-0.8zM50.7 262.1h0.8v0.8h-0.8zM25.6 264.3h0.8v0.8h-0.8zM72.4 263.8h0.8v0.8h-0.8zM60.4 256.2h0.8v0.8h-0.8zM64.1 257.0h0.8v0.8h-0.8zM30.5 253.1h0.8v0.8h-0.8zM54.5 248.9h0.8v0.8h-0.8zM74.7 252.4h0.8v0.8h-0.8zM62.9 252.3h0.8v0.8h-0.8zM79.8 258.2h0.8v0.8h-0.8zM33.1 267.9h0.8v0.8h-0.8zM52.0 263.2h0.8v0.8h-0.8zM66.7 252.4h0.8v0.8h-0.8zM69.9 251.5h0.8v0.8h-0.8zM38.7 256.1h0.8v0.8h-0.8zM42.7 255.7h0.8v0.8h-0.8zM73.0 262.9h0.8v0.8h-0.8zM31.4 258.4h0.8v0.8h-0.8zM51.9 258.6h0.8v0.8h-0.8zM78.8 257.6h0.8v0.8h-0.8zM47.2 260.9h0.8v0.8h-0.8zM57.9 254.7h0.8v0.8h-0.8zM25.3 263.2h0.8v0.8h-0.8zM31.9 255.1h0.8v0.8h-0.8zM30.6 259.5h0.8v0.8h-0.8zM47.9 265.1h0.8v0.8h-0.8zM78.9 255.1h0.8v0.8h-0.8zM67.0 252.2h0.8v0.8h-0.8zM33.1 262.7h0.8v0.8h-0.8zM56.6 265.9h0.8v0.8h-0.8zM70.3 253.1h0.8v0.8h-0.8zM28.3 252.0h0.8v0.8h-0.8zM56.3 261.7h0.8v0.8h-0.8zM65.6 258.6h0.8v0.8h-0.8zM35.9 250.8h0.8v0.8h-0.8zM35.0 260.7h0.8v0.8h-0.8zM60.0 265.8h0.8v0.8h-0.8zM45.3 248.6h0.8v0.8h-0.8zM63.8 255.4h0.8v0.8h-0.8zM49.7 263.3h0.8v0.8h-0.8zM31.8 262.9h0.8v0.8h-0.8zM57.2 262.9h0.8v0.8h-0.8zM23.4 266.1h0.8v0.8h-0.8zM56.0 256.7h0.8v0.8h-0.8zM37.7 255.6h0.8v0.8h-0.8zM34.6 252.6h0.8v0.8h-0.8zM43.7 254.5h0.8v0.8h-0.8zM56.4 251.0h0.8v0.8h-0.8zM72.0 265.3h0.8v0.8h-0.8zM54.2 264.9h0.8v0.8h-0.8zM23.3 262.7h0.8v0.8h-0.8zM77.2 251.9h0.8v0.8h-0.8zM44.1 253.8h0.8v0.8h-0.8zM82.4 257.8h0.8v0.8h-0.8zM26.2 261.1h0.8v0.8h-0.8zM73.7 251.1h0.8v0.8h-0.8zM49.9 261.4h0.8v0.8h-0.8zM53.2 251.2h0.8v0.8h-0.8zM34.6 252.7h0.8v0.8h-0.8zM55.0 262.3h0.8v0.8h-0.8zM33.5 262.9h0.8v0.8h-0.8zM65.3 251.0h0.8v0.8h-0.8zM58.7 258.2h0.8v0.8h-0.8zM36.4 254.7h0.8v0.8h-0.8zM58.8 258.7h0.8v0.8h-0.8zM65.4 253.6h0.8v0.8h-0.8zM31.9 266.9h0.8v0.8h-0.8zM67.0 259.7h0.8v0.8h-0.8zM59.7 256.1h0.8v0.8h-0.8zM78.8 265.4h0.8v0.8h-0.8zM74.0 257.6h0.8v0.8h-0.8zM78.9 260.8h0.8v0.8h-0.8zM55.9 250.1h0.8v0.8h-0.8zM53.2 253.3h0.8v0.8h-0.8zM76.3 262.6h0.8v0.8h-0.8zM32.3 264.9h0.8v0.8h-0.8zM62.1 254.6h0.8v0.8h-0.8zM73.7 256.9h0.8v0.8h-0.8zM51.8 267.6h0.8v0.8h-0.8zM29.2 260.0h0.8v0.8h-0.8zM53.9 262.9h0.8v0.8h-0.8zM73.1 265.4h0.8v0.8h-0.8zM80.3 252.4h0.8v0.8h-0.8zM34.3 251.7h0.8v0.8h-0.8zM67.5 257.8h0.8v0.8h-0.8zM33.7 262.1h0.8v0.8h-0.8zM76.5 257.6h0.8v0.8h-0.8zM66.7 260.1h0.8v0.8h-0.8zM57.6 263.2h0.8v0.8h-0.8zM65.5 263.6h0.8v0.8h-0.8zM34.7 265.9h0.8v0.8h-0.8zM47.5 260.9h0.8v0.8h-0.8zM74.5 254.6h0.8v0.8h-0.8zM23.5 261.5h0.8v0.8h-0.8zM78.8 255.0h0.8v0.8h-0.8zM59.5 264.2h0.8v0.8h-0.8zM70.3 257.9h0.8v0.8h-0.8zM36.1 266.6h0.8v0.8h-0.8zM51.6 268.1h0.8v0.8h-0.8zM67.4 255.1h0.8v0.8h-0.8zM59.1 264.8h0.8v0.8h-0.8zM66.4 256.8h0.8v0.8h-0.8zM57.0 264.3h0.8v0.8h-0.8zM75.1 260.7h0.8v0.8h-0.8zM22.6 257.2h0.8v0.8h-0.8zM70.4 262.5h0.8v0.8h-0.8zM83.5 255.0h0.8v0.8h-0.8zM78.6 262.0h0.8v0.8h-0.8zM84.1 260.5h0.8v0.8h-0.8zM45.0 256.4h0.8v0.8h-0.8zM73.6 255.0h0.8v0.8h-0.8zM57.9 254.9h0.8v0.8h-0.8zM84.8 257.5h0.8v0.8h-0.8zM38.9 259.4h0.8v0.8h-0.8zM24.2 254.4h0.8v0.8h-0.8zM63.1 259.3h0.8v0.8h-0.8zM29.0 254.7h0.8v0.8h-0.8zM35.8 252.1h0.8v0.8h-0.8zM27.0 255.8h0.8v0.8h-0.8zM56.2 266.8h0.8v0.8h-0.8zM63.3 261.7h0.8v0.8h-0.8zM63.2 259.9h0.8v0.8h-0.8zM82.8 257.5h0.8v0.8h-0.8zM57.4 251.0h0.8v0.8h-0.8zM34.4 253.1h0.8v0.8h-0.8zM40.8 262.8h0.8v0.8h-0.8zM79.3 262.5h0.8v0.8h-0.8zM57.4 261.6h0.8v0.8h-0.8zM75.7 250.6h0.8v0.8h-0.8zM41.4 251.9h0.8v0.8h-0.8zM49.9 264.0h0.8v0.8h-0.8zM35.9 252.2h0.8v0.8h-0.8zM64.2 254.6h0.8v0.8h-0.8zM32.2 253.9h0.8v0.8h-0.8zM30.4 256.1h0.8v0.8h-0.8zM44.5 264.4h0.8v0.8h-0.8zM32.4 253.7h0.8v0.8h-0.8zM60.5 252.7h0.8v0.8h-0.8zM55.9 250.3h0.8v0.8h-0.8zM26.0 266.5h0.8v0.8h-0.8zM25.0 265.3h0.8v0.8h-0.8zM52.9 269.3h0.8v0.8h-0.8zM44.5 262.7h0.8v0.8h-0.8zM53.1 255.0h0.8v0.8h-0.8zM66.6 251.9h0.8v0.8h-0.8zM58.7 255.0h0.8v0.8h-0.8zM33.9 253.5h0.8v0.8h-0.8zM22.9 265.1h0.8v0.8h-0.8zM27.4 258.9h0.8v0.8h-0.8zM52.4 254.2h0.8v0.8h-0.8zM39.5 257.4h0.8v0.8h-0.8zM22.3 257.1h0.8v0.8h-0.8zM81.2 260.6h0.8v0.8h-0.8zM35.6 255.4h0.8v0.8h-0.8zM29.3 261.9h0.8v0.8h-0.8zM70.2 255.8h0.8v0.8h-0.8zM29.8 261.1h0.8v0.8h-0.8zM75.6 254.6h0.8v0.8h-0.8zM37.0 254.1h0.8v0.8h-0.8zM53.8 265.1h0.8v0.8h-0.8zM69.2 257.7h0.8v0.8h-0.8zM61.0 263.3h0.8v0.8h-0.8zM22.4 263.1h0.8v0.8h-0.8zM59.8 254.5h0.8v0.8h-0.8zM44.3 253.4h0.8v0.8h-0.8zM55.7 260.8h0.8v0.8h-0.8zM75.9 265.5h0.8v0.8h-0.8zM54.3 256.3h0.8v0.8h-0.8zM70.3 266.1h0.8v0.8h-0.8zM67.3 260.9h0.8v0.8h-0.8zM35.1 266.9h0.8v0.8h-0.8zM26.3 256.6h0.8v0.8h-0.8zM67.1 253.3h0.8v0.8h-0.8zM35.7 253.0h0.8v0.8h-0.8zM46.8 255.1h0.8v0.8h-0.8zM56.5 267.6h0.8v0.8h-0.8zM63.3 254.2h0.8v0.8h-0.8zM83.7 256.0h0.8v0.8h-0.8zM53.9 268.1h0.8v0.8h-0.8zM33.3 253.5h0.8v0.8h-0.8zM31.6 261.0h0.8v0.8h-0.8zM61.3 260.7h0.8v0.8h-0.8zM23.7 258.7h0.8v0.8h-0.8zM51.1 254.2h0.8v0.8h-0.8zM41.3 263.2h0.8v0.8h-0.8zM60.9 251.2h0.8v0.8h-0.8zM79.5 257.7h0.8v0.8h-0.8zM35.3 257.5h0.8v0.8h-0.8zM48.1 255.3h0.8v0.8h-0.8zM50.5 251.8h0.8v0.8h-0.8zM39.9 259.4h0.8v0.8h-0.8zM38.2 262.5h0.8v0.8h-0.8zM47.0 262.6h0.8v0.8h-0.8zM60.2 255.9h0.8v0.8h-0.8zM80.4 253.8h0.8v0.8h-0.8zM74.6 262.2h0.8v0.8h-0.8zM29.6 266.0h0.8v0.8h-0.8zM45.7 267.9h0.8v0.8h-0.8zM78.6 264.2h0.8v0.8h-0.8zM33.9 251.9h0.8v0.8h-0.8zM39.5 250.7h0.8v0.8h-0.8zM24.5 255.6h0.8v0.8h-0.8zM72.4 267.0h0.8v0.8h-0.8zM71.0 267.0h0.8v0.8h-0.8zM26.6 254.9h0.8v0.8h-0.8zM33.6 265.5h0.8v0.8h-0.8zM70.9 252.2h0.8v0.8h-0.8zM64.6 263.8h0.8v0.8h-0.8z" fill="#4058b8" opacity="0.85"/>
<ellipse cx="68" cy="257.5" rx="11" ry="2" fill="#40b0d8" opacity="0.8" filter="url(#b8)"/>
<ellipse cx="46" cy="258.5" rx="10" ry="7" fill="#30a0a8" opacity="0.9" filter="url(#b13)"/>
<ellipse cx="49" cy="257.5" rx="6.5" ry="5.5" fill="#60c050" opacity="0.95" filter="url(#b12)"/>
<ellipse cx="51" cy="256.5" rx="4" ry="4" fill="#e8d030" opacity="0.95" filter="url(#b8)"/>
<ellipse cx="51.5" cy="255.8" rx="2.6" ry="2.6" fill="#e83020" opacity="1" filter="url(#b8)"/>
<rect x="56.3" y="247" width="32.7" height="25.19999999999999" fill="none" stroke="#a81830" stroke-width="1.6"/>
<rect x="118.8" y="21" width="76.7" height="68" fill="none" stroke="#999" stroke-width="1"/>
<path d="M117.0 87.0H118.8M120.8 89V90.8M117.9 82.2H118.8M126.3 89V89.9M117.9 79.4H118.8M129.5 89V89.9M117.9 77.4H118.8M131.7 89V89.9M117.9 75.8H118.8M133.5 89V89.9M117.9 74.5H118.8M134.9 89V89.9M117.9 73.5H118.8M136.2 89V89.9M117.9 72.6H118.8M137.2 89V89.9M117.9 71.7H118.8M138.1 89V89.9M117.0 71.0H118.8M139.0 89V90.8M117.9 66.2H118.8M144.4 89V89.9M117.9 63.4H118.8M147.6 89V89.9M117.9 61.4H118.8M149.9 89V89.9M117.9 59.8H118.8M151.7 89V89.9M117.9 58.5H118.8M153.1 89V89.9M117.9 57.5H118.8M154.3 89V89.9M117.9 56.6H118.8M155.4 89V89.9M117.9 55.7H118.8M156.3 89V89.9M117.0 55.0H118.8M157.2 89V90.8M117.9 50.2H118.8M162.6 89V89.9M117.9 47.4H118.8M165.8 89V89.9M117.9 45.4H118.8M168.1 89V89.9M117.9 43.8H118.8M169.9 89V89.9M117.9 42.5H118.8M171.3 89V89.9M117.9 41.5H118.8M172.5 89V89.9M117.9 40.6H118.8M173.6 89V89.9M117.9 39.7H118.8M174.5 89V89.9M117.0 39.0H118.8M175.3 89V90.8M117.9 34.2H118.8M180.8 89V89.9M117.9 31.4H118.8M184.0 89V89.9M117.9 29.4H118.8M186.3 89V89.9M117.9 27.8H118.8M188.0 89V89.9M117.9 26.5H118.8M189.5 89V89.9M117.9 25.5H118.8M190.7 89V89.9M117.9 24.6H118.8M191.7 89V89.9M117.9 23.7H118.8M192.7 89V89.9" stroke="#666" stroke-width="0.5" fill="none"/>
<path d="M144.8 35.0h0.8v0.8h-0.8zM157.5 36.6h0.8v0.8h-0.8zM169.5 38.4h0.8v0.8h-0.8zM173.3 39.2h0.8v0.8h-0.8zM150.0 39.9h0.8v0.8h-0.8zM159.3 41.7h0.8v0.8h-0.8zM148.2 37.7h0.8v0.8h-0.8zM141.7 36.7h0.8v0.8h-0.8zM162.5 37.6h0.8v0.8h-0.8zM147.1 34.9h0.8v0.8h-0.8zM163.0 42.1h0.8v0.8h-0.8zM152.9 35.8h0.8v0.8h-0.8zM173.6 35.0h0.8v0.8h-0.8zM142.5 39.9h0.8v0.8h-0.8zM169.1 32.5h0.8v0.8h-0.8zM143.5 36.5h0.8v0.8h-0.8zM134.1 35.6h0.8v0.8h-0.8zM149.2 40.4h0.8v0.8h-0.8zM145.0 37.2h0.8v0.8h-0.8zM162.6 39.5h0.8v0.8h-0.8zM162.7 36.3h0.8v0.8h-0.8zM155.7 37.9h0.8v0.8h-0.8zM156.6 40.0h0.8v0.8h-0.8zM149.3 33.8h0.8v0.8h-0.8zM163.1 34.5h0.8v0.8h-0.8zM155.2 34.2h0.8v0.8h-0.8zM149.3 31.3h0.8v0.8h-0.8zM149.0 45.5h0.8v0.8h-0.8zM141.7 36.9h0.8v0.8h-0.8zM161.1 39.1h0.8v0.8h-0.8zM144.2 43.4h0.8v0.8h-0.8zM158.4 37.4h0.8v0.8h-0.8zM133.6 38.3h0.8v0.8h-0.8zM140.4 35.4h0.8v0.8h-0.8zM163.9 36.0h0.8v0.8h-0.8zM158.0 36.3h0.8v0.8h-0.8zM152.0 37.8h0.8v0.8h-0.8zM148.1 40.6h0.8v0.8h-0.8zM141.3 36.8h0.8v0.8h-0.8zM169.8 32.0h0.8v0.8h-0.8zM131.0 40.1h0.8v0.8h-0.8zM160.9 30.2h0.8v0.8h-0.8zM146.8 37.0h0.8v0.8h-0.8zM139.6 39.5h0.8v0.8h-0.8zM156.6 35.6h0.8v0.8h-0.8zM156.4 38.4h0.8v0.8h-0.8zM154.7 43.6h0.8v0.8h-0.8zM149.4 31.9h0.8v0.8h-0.8zM147.3 40.9h0.8v0.8h-0.8zM143.9 38.4h0.8v0.8h-0.8zM146.0 39.4h0.8v0.8h-0.8zM150.3 37.8h0.8v0.8h-0.8zM146.8 38.6h0.8v0.8h-0.8zM146.0 40.3h0.8v0.8h-0.8zM135.1 42.2h0.8v0.8h-0.8zM158.9 39.4h0.8v0.8h-0.8zM145.7 35.2h0.8v0.8h-0.8zM151.0 38.2h0.8v0.8h-0.8zM147.0 34.3h0.8v0.8h-0.8zM144.2 42.9h0.8v0.8h-0.8zM133.3 39.2h0.8v0.8h-0.8zM159.4 33.6h0.8v0.8h-0.8zM150.4 43.0h0.8v0.8h-0.8zM176.7 37.6h0.8v0.8h-0.8zM159.0 40.9h0.8v0.8h-0.8zM147.0 36.7h0.8v0.8h-0.8zM161.2 38.8h0.8v0.8h-0.8zM129.4 40.6h0.8v0.8h-0.8zM140.3 34.0h0.8v0.8h-0.8zM157.4 45.7h0.8v0.8h-0.8zM164.5 43.9h0.8v0.8h-0.8zM167.7 37.6h0.8v0.8h-0.8zM157.7 34.1h0.8v0.8h-0.8zM168.8 34.6h0.8v0.8h-0.8zM148.9 40.3h0.8v0.8h-0.8zM149.5 37.0h0.8v0.8h-0.8zM178.1 35.2h0.8v0.8h-0.8zM142.1 38.1h0.8v0.8h-0.8zM144.3 38.8h0.8v0.8h-0.8zM166.0 38.4h0.8v0.8h-0.8zM169.4 38.7h0.8v0.8h-0.8zM150.0 43.3h0.8v0.8h-0.8zM133.3 36.8h0.8v0.8h-0.8zM165.3 39.7h0.8v0.8h-0.8zM146.0 40.7h0.8v0.8h-0.8zM141.8 40.4h0.8v0.8h-0.8zM159.0 38.6h0.8v0.8h-0.8zM170.0 43.0h0.8v0.8h-0.8zM142.1 37.5h0.8v0.8h-0.8zM145.9 33.8h0.8v0.8h-0.8zM158.3 39.5h0.8v0.8h-0.8zM142.5 34.8h0.8v0.8h-0.8zM165.8 40.1h0.8v0.8h-0.8zM139.9 41.5h0.8v0.8h-0.8zM150.8 37.8h0.8v0.8h-0.8zM144.9 40.7h0.8v0.8h-0.8zM160.7 40.4h0.8v0.8h-0.8zM142.1 37.8h0.8v0.8h-0.8zM143.0 37.7h0.8v0.8h-0.8z" fill="#9a9ac4" opacity="0.5"/><path d="M155.2 37.5h0.8v0.8h-0.8zM143.2 42.3h0.8v0.8h-0.8zM164.4 36.2h0.8v0.8h-0.8zM161.9 36.2h0.8v0.8h-0.8zM149.1 34.4h0.8v0.8h-0.8zM166.8 39.1h0.8v0.8h-0.8zM148.5 39.0h0.8v0.8h-0.8zM147.5 33.6h0.8v0.8h-0.8zM148.7 40.4h0.8v0.8h-0.8zM134.0 39.7h0.8v0.8h-0.8zM149.1 41.6h0.8v0.8h-0.8zM137.9 38.5h0.8v0.8h-0.8zM149.8 39.7h0.8v0.8h-0.8zM142.3 35.1h0.8v0.8h-0.8zM152.2 37.5h0.8v0.8h-0.8zM175.5 36.5h0.8v0.8h-0.8zM147.7 39.5h0.8v0.8h-0.8zM146.4 39.0h0.8v0.8h-0.8zM148.5 43.3h0.8v0.8h-0.8zM160.8 36.1h0.8v0.8h-0.8zM162.3 41.3h0.8v0.8h-0.8zM161.3 34.2h0.8v0.8h-0.8zM141.8 34.3h0.8v0.8h-0.8zM157.5 38.0h0.8v0.8h-0.8zM143.5 42.2h0.8v0.8h-0.8zM144.8 37.5h0.8v0.8h-0.8zM153.2 35.1h0.8v0.8h-0.8zM144.2 36.1h0.8v0.8h-0.8zM148.5 35.6h0.8v0.8h-0.8zM148.0 39.8h0.8v0.8h-0.8zM160.1 38.4h0.8v0.8h-0.8zM147.9 39.6h0.8v0.8h-0.8zM146.4 38.6h0.8v0.8h-0.8zM125.4 31.0h0.8v0.8h-0.8zM133.0 38.9h0.8v0.8h-0.8zM157.9 33.0h0.8v0.8h-0.8zM148.9 36.4h0.8v0.8h-0.8zM153.9 35.9h0.8v0.8h-0.8zM148.4 37.1h0.8v0.8h-0.8zM172.0 33.8h0.8v0.8h-0.8zM171.3 36.8h0.8v0.8h-0.8zM147.2 36.5h0.8v0.8h-0.8zM158.8 34.8h0.8v0.8h-0.8zM132.9 34.6h0.8v0.8h-0.8zM137.8 39.2h0.8v0.8h-0.8zM152.3 37.4h0.8v0.8h-0.8zM143.9 39.2h0.8v0.8h-0.8zM124.9 38.3h0.8v0.8h-0.8zM138.5 43.0h0.8v0.8h-0.8zM147.7 40.5h0.8v0.8h-0.8zM158.3 30.9h0.8v0.8h-0.8zM131.8 41.1h0.8v0.8h-0.8zM161.3 34.1h0.8v0.8h-0.8zM167.0 39.6h0.8v0.8h-0.8zM163.0 39.2h0.8v0.8h-0.8zM161.4 41.9h0.8v0.8h-0.8zM154.4 38.5h0.8v0.8h-0.8zM147.4 38.8h0.8v0.8h-0.8zM148.6 34.5h0.8v0.8h-0.8zM163.0 39.2h0.8v0.8h-0.8zM123.3 34.4h0.8v0.8h-0.8zM161.1 37.2h0.8v0.8h-0.8zM160.2 39.5h0.8v0.8h-0.8zM139.2 41.2h0.8v0.8h-0.8zM148.9 37.5h0.8v0.8h-0.8zM143.7 36.2h0.8v0.8h-0.8zM169.8 39.4h0.8v0.8h-0.8zM161.0 36.6h0.8v0.8h-0.8zM182.5 39.7h0.8v0.8h-0.8zM150.8 36.2h0.8v0.8h-0.8zM153.6 40.2h0.8v0.8h-0.8zM155.6 37.7h0.8v0.8h-0.8zM151.0 34.2h0.8v0.8h-0.8zM168.7 38.7h0.8v0.8h-0.8zM164.2 42.8h0.8v0.8h-0.8zM137.3 39.2h0.8v0.8h-0.8zM149.2 41.8h0.8v0.8h-0.8zM144.5 35.5h0.8v0.8h-0.8zM161.7 41.5h0.8v0.8h-0.8zM164.8 39.0h0.8v0.8h-0.8zM160.4 36.1h0.8v0.8h-0.8zM130.6 33.2h0.8v0.8h-0.8zM154.0 32.5h0.8v0.8h-0.8zM133.4 39.6h0.8v0.8h-0.8zM151.5 45.7h0.8v0.8h-0.8zM165.7 38.9h0.8v0.8h-0.8zM156.4 39.0h0.8v0.8h-0.8zM179.7 39.8h0.8v0.8h-0.8zM156.1 42.4h0.8v0.8h-0.8zM169.9 34.7h0.8v0.8h-0.8zM151.3 38.4h0.8v0.8h-0.8zM149.0 38.3h0.8v0.8h-0.8zM151.2 36.3h0.8v0.8h-0.8zM152.4 36.5h0.8v0.8h-0.8zM151.7 37.4h0.8v0.8h-0.8zM157.6 37.5h0.8v0.8h-0.8zM158.5 38.8h0.8v0.8h-0.8z" fill="#8a8ab8" opacity="0.5"/><path d="M145.3 37.1h0.8v0.8h-0.8zM152.0 36.7h0.8v0.8h-0.8zM159.9 37.7h0.8v0.8h-0.8zM132.7 34.5h0.8v0.8h-0.8zM154.6 33.9h0.8v0.8h-0.8zM149.0 34.5h0.8v0.8h-0.8zM166.1 40.2h0.8v0.8h-0.8zM165.2 39.4h0.8v0.8h-0.8zM147.0 39.1h0.8v0.8h-0.8zM170.6 37.8h0.8v0.8h-0.8zM170.8 38.9h0.8v0.8h-0.8zM151.0 38.9h0.8v0.8h-0.8zM140.3 37.2h0.8v0.8h-0.8zM142.8 38.3h0.8v0.8h-0.8zM149.5 39.9h0.8v0.8h-0.8zM152.8 43.0h0.8v0.8h-0.8zM166.3 33.9h0.8v0.8h-0.8zM170.1 35.7h0.8v0.8h-0.8zM152.2 41.9h0.8v0.8h-0.8zM147.7 38.1h0.8v0.8h-0.8zM163.7 35.8h0.8v0.8h-0.8zM188.1 30.2h0.8v0.8h-0.8zM155.5 42.3h0.8v0.8h-0.8zM149.7 38.4h0.8v0.8h-0.8zM120.5 34.2h0.8v0.8h-0.8zM151.1 39.5h0.8v0.8h-0.8zM151.9 34.2h0.8v0.8h-0.8zM159.1 42.8h0.8v0.8h-0.8zM145.6 41.1h0.8v0.8h-0.8zM164.7 36.3h0.8v0.8h-0.8zM146.3 38.6h0.8v0.8h-0.8zM143.5 34.9h0.8v0.8h-0.8zM139.8 37.8h0.8v0.8h-0.8zM154.1 39.3h0.8v0.8h-0.8zM159.8 38.7h0.8v0.8h-0.8zM152.4 37.1h0.8v0.8h-0.8zM172.4 33.2h0.8v0.8h-0.8zM148.4 41.5h0.8v0.8h-0.8zM135.9 45.6h0.8v0.8h-0.8zM160.8 37.4h0.8v0.8h-0.8zM150.5 38.7h0.8v0.8h-0.8zM139.4 38.9h0.8v0.8h-0.8zM156.9 33.4h0.8v0.8h-0.8zM152.1 35.3h0.8v0.8h-0.8zM167.0 39.7h0.8v0.8h-0.8zM142.8 37.8h0.8v0.8h-0.8zM140.3 37.4h0.8v0.8h-0.8zM160.3 42.4h0.8v0.8h-0.8zM155.8 41.7h0.8v0.8h-0.8zM148.2 35.6h0.8v0.8h-0.8zM147.5 40.9h0.8v0.8h-0.8zM141.7 43.0h0.8v0.8h-0.8zM142.3 44.0h0.8v0.8h-0.8zM156.1 37.2h0.8v0.8h-0.8zM143.9 41.1h0.8v0.8h-0.8zM136.1 35.2h0.8v0.8h-0.8zM172.0 38.8h0.8v0.8h-0.8zM144.2 36.9h0.8v0.8h-0.8zM153.9 41.5h0.8v0.8h-0.8zM161.4 39.3h0.8v0.8h-0.8zM163.5 33.9h0.8v0.8h-0.8zM148.9 37.0h0.8v0.8h-0.8zM143.8 42.7h0.8v0.8h-0.8zM137.7 33.2h0.8v0.8h-0.8zM149.1 36.2h0.8v0.8h-0.8zM149.2 33.5h0.8v0.8h-0.8zM136.8 38.1h0.8v0.8h-0.8zM146.3 36.5h0.8v0.8h-0.8zM158.7 37.8h0.8v0.8h-0.8zM141.3 40.5h0.8v0.8h-0.8zM154.6 37.4h0.8v0.8h-0.8zM157.6 38.4h0.8v0.8h-0.8zM162.3 35.3h0.8v0.8h-0.8zM162.5 39.6h0.8v0.8h-0.8zM156.6 43.5h0.8v0.8h-0.8zM143.5 36.0h0.8v0.8h-0.8zM160.7 38.0h0.8v0.8h-0.8zM164.1 41.2h0.8v0.8h-0.8zM178.8 30.8h0.8v0.8h-0.8zM142.8 35.6h0.8v0.8h-0.8zM151.8 40.2h0.8v0.8h-0.8zM145.8 37.4h0.8v0.8h-0.8zM154.1 35.5h0.8v0.8h-0.8zM129.9 37.6h0.8v0.8h-0.8zM176.6 39.2h0.8v0.8h-0.8zM160.2 33.6h0.8v0.8h-0.8zM143.3 33.0h0.8v0.8h-0.8zM155.6 40.5h0.8v0.8h-0.8zM149.3 34.0h0.8v0.8h-0.8zM156.2 40.1h0.8v0.8h-0.8zM148.8 38.8h0.8v0.8h-0.8zM163.2 32.5h0.8v0.8h-0.8zM148.1 39.4h0.8v0.8h-0.8zM140.9 42.0h0.8v0.8h-0.8zM145.2 37.6h0.8v0.8h-0.8zM155.7 39.4h0.8v0.8h-0.8zM142.5 44.0h0.8v0.8h-0.8zM165.9 34.3h0.8v0.8h-0.8zM156.5 37.0h0.8v0.8h-0.8zM153.0 34.9h0.8v0.8h-0.8zM157.0 36.5h0.8v0.8h-0.8zM168.7 36.5h0.8v0.8h-0.8z" fill="#7a7aac" opacity="0.5"/><path d="M175.1 35.5h0.8v0.8h-0.8zM163.6 38.1h0.8v0.8h-0.8zM175.6 39.6h0.8v0.8h-0.8zM159.2 43.5h0.8v0.8h-0.8zM147.7 38.2h0.8v0.8h-0.8zM152.2 32.9h0.8v0.8h-0.8zM162.9 39.5h0.8v0.8h-0.8zM152.1 38.0h0.8v0.8h-0.8zM175.4 37.4h0.8v0.8h-0.8zM170.2 33.1h0.8v0.8h-0.8zM160.6 35.1h0.8v0.8h-0.8zM168.9 37.2h0.8v0.8h-0.8zM162.8 38.0h0.8v0.8h-0.8zM149.9 37.7h0.8v0.8h-0.8zM149.0 36.6h0.8v0.8h-0.8zM159.5 39.8h0.8v0.8h-0.8zM149.7 36.2h0.8v0.8h-0.8zM154.9 45.4h0.8v0.8h-0.8zM141.6 38.3h0.8v0.8h-0.8zM152.5 36.2h0.8v0.8h-0.8zM147.2 39.0h0.8v0.8h-0.8zM139.1 42.0h0.8v0.8h-0.8zM156.7 34.3h0.8v0.8h-0.8zM147.7 37.7h0.8v0.8h-0.8zM156.1 38.7h0.8v0.8h-0.8zM146.3 36.7h0.8v0.8h-0.8zM159.1 41.9h0.8v0.8h-0.8zM156.4 33.0h0.8v0.8h-0.8zM174.7 35.3h0.8v0.8h-0.8zM138.1 39.0h0.8v0.8h-0.8zM152.5 35.7h0.8v0.8h-0.8zM155.8 37.6h0.8v0.8h-0.8zM147.7 42.0h0.8v0.8h-0.8zM154.8 34.5h0.8v0.8h-0.8zM167.6 36.8h0.8v0.8h-0.8zM146.6 34.3h0.8v0.8h-0.8zM160.3 40.7h0.8v0.8h-0.8zM154.2 31.7h0.8v0.8h-0.8zM141.9 35.4h0.8v0.8h-0.8zM137.5 42.0h0.8v0.8h-0.8zM150.2 38.7h0.8v0.8h-0.8zM152.6 37.9h0.8v0.8h-0.8zM174.9 37.4h0.8v0.8h-0.8zM155.6 41.1h0.8v0.8h-0.8zM151.8 43.5h0.8v0.8h-0.8zM131.9 39.4h0.8v0.8h-0.8zM146.4 37.7h0.8v0.8h-0.8zM153.7 37.5h0.8v0.8h-0.8zM134.3 40.2h0.8v0.8h-0.8zM173.9 38.7h0.8v0.8h-0.8zM156.7 39.2h0.8v0.8h-0.8zM154.4 38.2h0.8v0.8h-0.8zM145.0 36.6h0.8v0.8h-0.8zM148.5 38.0h0.8v0.8h-0.8zM150.1 37.0h0.8v0.8h-0.8zM165.9 32.1h0.8v0.8h-0.8zM159.5 39.1h0.8v0.8h-0.8zM134.0 33.7h0.8v0.8h-0.8zM167.6 37.9h0.8v0.8h-0.8zM165.5 40.6h0.8v0.8h-0.8zM157.1 38.9h0.8v0.8h-0.8zM149.3 38.8h0.8v0.8h-0.8zM150.9 40.2h0.8v0.8h-0.8zM152.5 38.3h0.8v0.8h-0.8zM157.4 35.0h0.8v0.8h-0.8zM143.6 35.7h0.8v0.8h-0.8zM152.7 37.3h0.8v0.8h-0.8zM138.9 38.7h0.8v0.8h-0.8zM149.4 38.2h0.8v0.8h-0.8zM171.4 36.0h0.8v0.8h-0.8zM150.0 37.8h0.8v0.8h-0.8zM161.6 37.5h0.8v0.8h-0.8zM160.6 33.1h0.8v0.8h-0.8zM141.3 38.6h0.8v0.8h-0.8zM154.1 39.0h0.8v0.8h-0.8zM163.4 38.2h0.8v0.8h-0.8zM149.7 40.2h0.8v0.8h-0.8zM148.6 34.7h0.8v0.8h-0.8zM153.4 39.1h0.8v0.8h-0.8zM145.4 38.6h0.8v0.8h-0.8zM148.5 35.2h0.8v0.8h-0.8zM148.7 39.0h0.8v0.8h-0.8z" fill="#a8a8d0" opacity="0.5"/>
<path d="M171.9 39.9h0.8v0.8h-0.8zM147.7 37.2h0.8v0.8h-0.8zM149.9 41.7h0.8v0.8h-0.8zM158.8 46.2h0.8v0.8h-0.8zM152.8 47.3h0.8v0.8h-0.8zM163.1 42.7h0.8v0.8h-0.8zM180.0 42.0h0.8v0.8h-0.8zM185.6 40.3h0.8v0.8h-0.8zM164.7 32.6h0.8v0.8h-0.8zM150.5 41.6h0.8v0.8h-0.8zM160.2 36.0h0.8v0.8h-0.8zM151.5 41.7h0.8v0.8h-0.8zM165.4 46.2h0.8v0.8h-0.8zM150.8 37.5h0.8v0.8h-0.8zM162.4 40.9h0.8v0.8h-0.8zM176.2 38.3h0.8v0.8h-0.8zM176.1 41.6h0.8v0.8h-0.8zM160.9 38.7h0.8v0.8h-0.8zM159.3 37.9h0.8v0.8h-0.8zM173.3 43.0h0.8v0.8h-0.8zM161.0 37.2h0.8v0.8h-0.8zM164.1 39.0h0.8v0.8h-0.8zM163.3 35.4h0.8v0.8h-0.8zM174.8 46.2h0.8v0.8h-0.8zM162.1 37.4h0.8v0.8h-0.8zM158.1 41.2h0.8v0.8h-0.8zM152.8 39.1h0.8v0.8h-0.8zM149.8 49.6h0.8v0.8h-0.8zM153.4 40.2h0.8v0.8h-0.8zM143.3 48.0h0.8v0.8h-0.8zM164.3 32.3h0.8v0.8h-0.8zM163.5 40.1h0.8v0.8h-0.8zM171.8 37.6h0.8v0.8h-0.8zM172.9 40.0h0.8v0.8h-0.8zM142.3 44.9h0.8v0.8h-0.8zM172.3 42.0h0.8v0.8h-0.8zM158.1 35.9h0.8v0.8h-0.8zM174.5 36.2h0.8v0.8h-0.8zM154.1 43.5h0.8v0.8h-0.8zM167.7 43.1h0.8v0.8h-0.8zM183.2 35.6h0.8v0.8h-0.8zM130.5 38.9h0.8v0.8h-0.8zM178.1 42.7h0.8v0.8h-0.8zM169.5 38.4h0.8v0.8h-0.8zM174.3 39.9h0.8v0.8h-0.8zM152.6 42.2h0.8v0.8h-0.8zM187.0 45.9h0.8v0.8h-0.8zM183.3 39.9h0.8v0.8h-0.8zM148.1 38.0h0.8v0.8h-0.8zM183.9 38.5h0.8v0.8h-0.8zM176.4 37.5h0.8v0.8h-0.8zM163.1 41.2h0.8v0.8h-0.8zM152.4 46.6h0.8v0.8h-0.8zM170.5 39.2h0.8v0.8h-0.8zM186.1 40.4h0.8v0.8h-0.8zM176.0 42.4h0.8v0.8h-0.8zM153.5 44.0h0.8v0.8h-0.8zM144.7 44.2h0.8v0.8h-0.8zM163.6 32.0h0.8v0.8h-0.8zM177.2 46.2h0.8v0.8h-0.8zM179.1 45.7h0.8v0.8h-0.8zM175.4 38.0h0.8v0.8h-0.8zM192.7 37.2h0.8v0.8h-0.8zM162.8 47.0h0.8v0.8h-0.8zM176.4 41.5h0.8v0.8h-0.8zM176.1 50.9h0.8v0.8h-0.8zM160.8 37.9h0.8v0.8h-0.8zM174.3 35.0h0.8v0.8h-0.8zM155.8 38.6h0.8v0.8h-0.8zM148.9 48.1h0.8v0.8h-0.8zM136.3 45.4h0.8v0.8h-0.8zM152.3 35.3h0.8v0.8h-0.8zM172.8 39.8h0.8v0.8h-0.8zM180.2 48.7h0.8v0.8h-0.8zM185.7 34.7h0.8v0.8h-0.8zM134.5 34.8h0.8v0.8h-0.8zM148.3 37.9h0.8v0.8h-0.8zM149.9 42.6h0.8v0.8h-0.8z" fill="#c4c4e0" opacity="0.45"/><path d="M172.5 41.4h0.8v0.8h-0.8zM151.5 46.9h0.8v0.8h-0.8zM170.1 42.3h0.8v0.8h-0.8zM181.5 37.5h0.8v0.8h-0.8zM173.7 36.4h0.8v0.8h-0.8zM161.6 44.6h0.8v0.8h-0.8zM166.5 39.3h0.8v0.8h-0.8zM155.8 38.2h0.8v0.8h-0.8zM155.4 38.6h0.8v0.8h-0.8zM165.7 41.4h0.8v0.8h-0.8zM169.2 42.6h0.8v0.8h-0.8zM163.4 34.0h0.8v0.8h-0.8zM161.8 35.3h0.8v0.8h-0.8zM173.6 29.2h0.8v0.8h-0.8zM154.2 37.0h0.8v0.8h-0.8zM167.1 44.6h0.8v0.8h-0.8zM167.5 39.1h0.8v0.8h-0.8zM174.2 41.8h0.8v0.8h-0.8zM175.2 46.0h0.8v0.8h-0.8zM156.0 38.7h0.8v0.8h-0.8zM142.0 38.4h0.8v0.8h-0.8zM155.4 41.7h0.8v0.8h-0.8zM165.0 41.5h0.8v0.8h-0.8zM158.0 47.2h0.8v0.8h-0.8zM166.2 35.5h0.8v0.8h-0.8zM185.7 42.3h0.8v0.8h-0.8zM172.4 39.1h0.8v0.8h-0.8zM180.0 40.5h0.8v0.8h-0.8zM186.3 44.1h0.8v0.8h-0.8zM193.6 42.3h0.8v0.8h-0.8zM143.3 37.9h0.8v0.8h-0.8zM175.2 45.0h0.8v0.8h-0.8zM145.7 48.9h0.8v0.8h-0.8zM164.4 44.5h0.8v0.8h-0.8zM166.7 36.9h0.8v0.8h-0.8zM154.2 32.7h0.8v0.8h-0.8zM178.5 40.4h0.8v0.8h-0.8zM180.9 43.3h0.8v0.8h-0.8zM161.0 44.8h0.8v0.8h-0.8zM150.9 48.5h0.8v0.8h-0.8zM166.6 34.8h0.8v0.8h-0.8zM156.1 36.0h0.8v0.8h-0.8zM158.7 41.6h0.8v0.8h-0.8zM146.4 50.1h0.8v0.8h-0.8zM176.9 50.4h0.8v0.8h-0.8zM129.1 30.8h0.8v0.8h-0.8zM173.5 35.4h0.8v0.8h-0.8zM167.7 38.5h0.8v0.8h-0.8zM163.8 42.8h0.8v0.8h-0.8zM158.7 38.3h0.8v0.8h-0.8zM169.4 48.1h0.8v0.8h-0.8zM166.2 44.6h0.8v0.8h-0.8zM169.1 36.5h0.8v0.8h-0.8zM187.8 28.3h0.8v0.8h-0.8zM170.9 41.8h0.8v0.8h-0.8zM169.6 37.7h0.8v0.8h-0.8zM164.7 38.5h0.8v0.8h-0.8zM162.9 39.4h0.8v0.8h-0.8zM184.3 36.0h0.8v0.8h-0.8zM137.4 38.4h0.8v0.8h-0.8zM183.1 39.7h0.8v0.8h-0.8zM166.0 42.0h0.8v0.8h-0.8zM137.4 42.0h0.8v0.8h-0.8zM172.6 42.8h0.8v0.8h-0.8zM160.6 43.0h0.8v0.8h-0.8zM165.0 48.5h0.8v0.8h-0.8zM138.0 45.9h0.8v0.8h-0.8zM178.0 48.0h0.8v0.8h-0.8zM152.8 45.8h0.8v0.8h-0.8zM150.1 35.7h0.8v0.8h-0.8zM166.9 33.9h0.8v0.8h-0.8zM170.3 39.3h0.8v0.8h-0.8zM172.1 44.4h0.8v0.8h-0.8zM166.8 45.9h0.8v0.8h-0.8zM156.4 42.9h0.8v0.8h-0.8zM153.8 45.0h0.8v0.8h-0.8zM144.6 32.8h0.8v0.8h-0.8z" fill="#b8b8d4" opacity="0.45"/>
<path d="M187.5 77.1h0.8v0.8h-0.8zM134.1 42.4h0.8v0.8h-0.8zM156.6 80.1h0.8v0.8h-0.8zM188.2 69.9h0.8v0.8h-0.8zM146.9 65.0h0.8v0.8h-0.8zM173.3 61.1h0.8v0.8h-0.8zM177.5 77.4h0.8v0.8h-0.8zM160.1 36.8h0.8v0.8h-0.8zM167.9 57.1h0.8v0.8h-0.8zM151.3 76.4h0.8v0.8h-0.8zM136.5 77.9h0.8v0.8h-0.8zM159.9 76.5h0.8v0.8h-0.8zM167.9 68.4h0.8v0.8h-0.8zM151.3 49.6h0.8v0.8h-0.8zM163.6 72.6h0.8v0.8h-0.8zM191.1 50.8h0.8v0.8h-0.8zM119.8 77.6h0.8v0.8h-0.8zM137.3 26.2h0.8v0.8h-0.8zM120.3 59.8h0.8v0.8h-0.8zM176.6 59.5h0.8v0.8h-0.8zM119.4 67.5h0.8v0.8h-0.8zM133.5 42.8h0.8v0.8h-0.8zM175.5 55.0h0.8v0.8h-0.8zM143.7 56.3h0.8v0.8h-0.8zM146.5 83.2h0.8v0.8h-0.8zM168.2 65.1h0.8v0.8h-0.8zM155.1 84.7h0.8v0.8h-0.8zM162.1 53.1h0.8v0.8h-0.8zM131.3 58.4h0.8v0.8h-0.8zM157.3 22.8h0.8v0.8h-0.8zM167.7 68.4h0.8v0.8h-0.8zM146.6 76.9h0.8v0.8h-0.8zM152.3 78.7h0.8v0.8h-0.8zM141.2 76.2h0.8v0.8h-0.8zM145.8 83.7h0.8v0.8h-0.8zM172.2 67.9h0.8v0.8h-0.8zM186.0 42.6h0.8v0.8h-0.8zM186.1 56.0h0.8v0.8h-0.8zM156.0 61.1h0.8v0.8h-0.8zM121.9 58.0h0.8v0.8h-0.8zM171.9 51.0h0.8v0.8h-0.8zM176.1 57.2h0.8v0.8h-0.8zM125.1 60.5h0.8v0.8h-0.8zM146.4 50.7h0.8v0.8h-0.8zM161.1 70.8h0.8v0.8h-0.8zM166.0 43.3h0.8v0.8h-0.8zM121.2 65.1h0.8v0.8h-0.8zM191.8 67.7h0.8v0.8h-0.8zM180.7 86.3h0.8v0.8h-0.8zM123.1 71.3h0.8v0.8h-0.8zM153.6 78.9h0.8v0.8h-0.8zM163.0 79.3h0.8v0.8h-0.8zM135.1 69.5h0.8v0.8h-0.8zM180.4 22.1h0.8v0.8h-0.8zM185.6 37.9h0.8v0.8h-0.8zM193.8 43.3h0.8v0.8h-0.8zM165.7 49.7h0.8v0.8h-0.8zM162.1 46.3h0.8v0.8h-0.8zM188.7 48.8h0.8v0.8h-0.8zM172.0 70.3h0.8v0.8h-0.8zM148.5 76.8h0.8v0.8h-0.8zM153.5 61.5h0.8v0.8h-0.8zM183.1 72.1h0.8v0.8h-0.8zM162.5 66.5h0.8v0.8h-0.8zM186.8 76.5h0.8v0.8h-0.8zM130.0 87.9h0.8v0.8h-0.8zM179.7 64.2h0.8v0.8h-0.8zM157.7 65.4h0.8v0.8h-0.8zM182.8 69.8h0.8v0.8h-0.8zM161.1 74.3h0.8v0.8h-0.8zM152.2 45.3h0.8v0.8h-0.8zM179.5 23.7h0.8v0.8h-0.8zM186.4 83.0h0.8v0.8h-0.8zM134.0 53.5h0.8v0.8h-0.8z" fill="#c0c0dc" opacity="0.45"/>
<ellipse cx="150" cy="38" rx="7" ry="2.5" fill="#8080a8" opacity="0.35" filter="url(#b12)"/>
<line x1="160.3" y1="21" x2="160.3" y2="89" stroke="#777" stroke-width="0.9"/>
<line x1="118.8" y1="50" x2="195.5" y2="50" stroke="#777" stroke-width="0.9"/>
<rect x="119.5" y="133.5" width="75.69999999999999" height="67.80000000000001" fill="none" stroke="#999" stroke-width="1"/>
<path d="M117.7 199.3H119.5M121.5 201.3V203.1M118.6 194.5H119.5M126.9 201.3V202.2M118.6 191.7H119.5M130.1 201.3V202.2M118.6 189.7H119.5M132.3 201.3V202.2M118.6 188.2H119.5M134.0 201.3V202.2M118.6 186.9H119.5M135.4 201.3V202.2M118.6 185.8H119.5M136.6 201.3V202.2M118.6 184.9H119.5M137.7 201.3V202.2M118.6 184.1H119.5M138.6 201.3V202.2M117.7 183.4H119.5M139.4 201.3V203.1M118.6 178.5H119.5M144.8 201.3V202.2M118.6 175.7H119.5M148.0 201.3V202.2M118.6 173.7H119.5M150.2 201.3V202.2M118.6 172.2H119.5M152.0 201.3V202.2M118.6 170.9H119.5M153.4 201.3V202.2M118.6 169.9H119.5M154.6 201.3V202.2M118.6 168.9H119.5M155.6 201.3V202.2M118.6 168.1H119.5M156.5 201.3V202.2M117.7 167.4H119.5M157.3 201.3V203.1M118.6 162.6H119.5M162.7 201.3V202.2M118.6 159.8H119.5M165.9 201.3V202.2M118.6 157.8H119.5M168.1 201.3V202.2M118.6 156.3H119.5M169.9 201.3V202.2M118.6 155.0H119.5M171.3 201.3V202.2M118.6 153.9H119.5M172.5 201.3V202.2M118.6 153.0H119.5M173.5 201.3V202.2M118.6 152.2H119.5M174.5 201.3V202.2M117.7 151.4H119.5M175.3 201.3V203.1M118.6 146.6H119.5M180.7 201.3V202.2M118.6 143.8H119.5M183.8 201.3V202.2M118.6 141.8H119.5M186.1 201.3V202.2M118.6 140.3H119.5M187.8 201.3V202.2M118.6 139.0H119.5M189.2 201.3V202.2M118.6 138.0H119.5M190.4 201.3V202.2M118.6 137.0H119.5M191.5 201.3V202.2M118.6 136.2H119.5M192.4 201.3V202.2" stroke="#666" stroke-width="0.5" fill="none"/>
<path d="M145.3 165.5h0.8v0.8h-0.8zM170.3 160.7h0.8v0.8h-0.8zM151.6 157.8h0.8v0.8h-0.8zM166.9 149.3h0.8v0.8h-0.8zM152.5 150.5h0.8v0.8h-0.8zM154.6 148.6h0.8v0.8h-0.8zM145.5 147.0h0.8v0.8h-0.8zM149.4 159.6h0.8v0.8h-0.8zM147.5 141.1h0.8v0.8h-0.8zM144.8 152.3h0.8v0.8h-0.8zM169.6 157.6h0.8v0.8h-0.8zM151.1 151.0h0.8v0.8h-0.8zM162.7 156.2h0.8v0.8h-0.8zM156.6 153.9h0.8v0.8h-0.8zM167.7 150.9h0.8v0.8h-0.8zM168.6 153.0h0.8v0.8h-0.8zM170.0 154.9h0.8v0.8h-0.8zM153.9 143.9h0.8v0.8h-0.8zM137.2 156.5h0.8v0.8h-0.8zM153.9 152.6h0.8v0.8h-0.8zM160.5 155.9h0.8v0.8h-0.8zM139.5 157.4h0.8v0.8h-0.8zM138.7 145.9h0.8v0.8h-0.8zM148.3 153.9h0.8v0.8h-0.8zM152.7 159.7h0.8v0.8h-0.8zM149.0 155.1h0.8v0.8h-0.8zM160.4 151.3h0.8v0.8h-0.8zM154.6 155.8h0.8v0.8h-0.8zM157.4 150.8h0.8v0.8h-0.8zM165.1 147.3h0.8v0.8h-0.8zM164.4 153.0h0.8v0.8h-0.8zM139.7 157.0h0.8v0.8h-0.8zM144.3 162.0h0.8v0.8h-0.8zM140.0 147.9h0.8v0.8h-0.8zM164.0 155.1h0.8v0.8h-0.8zM151.2 155.8h0.8v0.8h-0.8zM152.9 151.7h0.8v0.8h-0.8zM155.8 140.6h0.8v0.8h-0.8zM155.1 149.9h0.8v0.8h-0.8zM157.2 151.3h0.8v0.8h-0.8zM164.9 151.5h0.8v0.8h-0.8zM143.4 156.2h0.8v0.8h-0.8zM146.3 154.6h0.8v0.8h-0.8zM166.3 155.4h0.8v0.8h-0.8zM161.8 152.4h0.8v0.8h-0.8zM135.8 157.2h0.8v0.8h-0.8zM175.0 151.8h0.8v0.8h-0.8zM146.8 155.0h0.8v0.8h-0.8zM153.1 148.0h0.8v0.8h-0.8zM146.8 154.9h0.8v0.8h-0.8zM152.8 152.1h0.8v0.8h-0.8zM152.7 153.0h0.8v0.8h-0.8zM179.7 149.2h0.8v0.8h-0.8zM151.4 158.9h0.8v0.8h-0.8zM135.8 151.8h0.8v0.8h-0.8zM153.1 147.8h0.8v0.8h-0.8zM157.8 154.5h0.8v0.8h-0.8zM154.9 145.1h0.8v0.8h-0.8zM149.5 161.1h0.8v0.8h-0.8zM155.2 145.3h0.8v0.8h-0.8zM160.7 150.3h0.8v0.8h-0.8zM145.2 153.0h0.8v0.8h-0.8zM144.1 143.9h0.8v0.8h-0.8zM165.4 146.4h0.8v0.8h-0.8zM149.7 151.7h0.8v0.8h-0.8zM148.1 156.1h0.8v0.8h-0.8zM159.4 158.9h0.8v0.8h-0.8zM152.5 151.8h0.8v0.8h-0.8zM159.1 162.2h0.8v0.8h-0.8zM151.3 150.9h0.8v0.8h-0.8zM141.9 146.4h0.8v0.8h-0.8zM148.8 152.5h0.8v0.8h-0.8zM152.4 149.6h0.8v0.8h-0.8zM163.2 139.1h0.8v0.8h-0.8zM150.2 149.0h0.8v0.8h-0.8zM167.6 160.0h0.8v0.8h-0.8zM148.2 150.9h0.8v0.8h-0.8zM138.9 143.4h0.8v0.8h-0.8zM164.8 147.3h0.8v0.8h-0.8zM156.1 154.5h0.8v0.8h-0.8zM162.6 152.3h0.8v0.8h-0.8zM152.1 157.7h0.8v0.8h-0.8zM147.5 147.5h0.8v0.8h-0.8zM152.7 150.9h0.8v0.8h-0.8zM145.3 146.9h0.8v0.8h-0.8zM156.8 137.4h0.8v0.8h-0.8zM159.5 159.0h0.8v0.8h-0.8zM147.9 161.5h0.8v0.8h-0.8zM166.9 152.3h0.8v0.8h-0.8zM151.3 149.1h0.8v0.8h-0.8zM154.7 153.7h0.8v0.8h-0.8zM147.9 157.0h0.8v0.8h-0.8zM158.1 159.7h0.8v0.8h-0.8zM153.4 160.8h0.8v0.8h-0.8zM159.9 154.6h0.8v0.8h-0.8zM160.1 153.1h0.8v0.8h-0.8zM147.3 161.1h0.8v0.8h-0.8zM173.4 152.9h0.8v0.8h-0.8zM161.6 145.9h0.8v0.8h-0.8zM141.7 148.6h0.8v0.8h-0.8zM150.4 149.9h0.8v0.8h-0.8zM159.8 160.8h0.8v0.8h-0.8zM151.7 151.3h0.8v0.8h-0.8zM154.3 148.9h0.8v0.8h-0.8zM153.7 155.4h0.8v0.8h-0.8zM149.0 143.0h0.8v0.8h-0.8zM153.1 157.4h0.8v0.8h-0.8zM155.7 154.5h0.8v0.8h-0.8zM148.0 158.2h0.8v0.8h-0.8zM141.6 160.4h0.8v0.8h-0.8zM160.0 153.7h0.8v0.8h-0.8zM149.2 149.5h0.8v0.8h-0.8zM133.4 151.4h0.8v0.8h-0.8zM160.1 151.8h0.8v0.8h-0.8zM146.9 146.1h0.8v0.8h-0.8zM158.2 156.4h0.8v0.8h-0.8zM144.6 142.7h0.8v0.8h-0.8zM141.1 149.4h0.8v0.8h-0.8zM160.4 149.0h0.8v0.8h-0.8zM143.1 145.5h0.8v0.8h-0.8zM140.7 155.6h0.8v0.8h-0.8zM142.6 136.7h0.8v0.8h-0.8z" fill="#8a8ab8" opacity="0.45"/><path d="M149.1 158.8h0.8v0.8h-0.8zM149.2 140.6h0.8v0.8h-0.8zM153.1 151.3h0.8v0.8h-0.8zM154.2 144.9h0.8v0.8h-0.8zM154.7 150.8h0.8v0.8h-0.8zM137.6 157.6h0.8v0.8h-0.8zM160.7 144.4h0.8v0.8h-0.8zM155.5 155.2h0.8v0.8h-0.8zM167.3 145.9h0.8v0.8h-0.8zM143.6 153.4h0.8v0.8h-0.8zM148.3 148.1h0.8v0.8h-0.8zM164.1 153.8h0.8v0.8h-0.8zM149.0 144.3h0.8v0.8h-0.8zM156.1 142.5h0.8v0.8h-0.8zM153.4 150.4h0.8v0.8h-0.8zM144.7 142.2h0.8v0.8h-0.8zM151.2 156.1h0.8v0.8h-0.8zM157.9 155.1h0.8v0.8h-0.8zM158.1 150.9h0.8v0.8h-0.8zM150.9 152.4h0.8v0.8h-0.8zM148.1 151.4h0.8v0.8h-0.8zM129.7 155.1h0.8v0.8h-0.8zM150.2 153.2h0.8v0.8h-0.8zM155.7 152.2h0.8v0.8h-0.8zM153.3 148.6h0.8v0.8h-0.8zM158.2 150.0h0.8v0.8h-0.8zM147.9 157.5h0.8v0.8h-0.8zM154.8 154.0h0.8v0.8h-0.8zM157.2 141.9h0.8v0.8h-0.8zM140.5 151.0h0.8v0.8h-0.8zM169.3 148.2h0.8v0.8h-0.8zM160.6 150.9h0.8v0.8h-0.8zM159.8 137.6h0.8v0.8h-0.8zM166.8 154.6h0.8v0.8h-0.8zM161.0 154.6h0.8v0.8h-0.8zM171.1 156.4h0.8v0.8h-0.8zM145.0 148.5h0.8v0.8h-0.8zM143.4 152.2h0.8v0.8h-0.8zM155.5 150.4h0.8v0.8h-0.8zM146.5 154.6h0.8v0.8h-0.8zM165.9 156.2h0.8v0.8h-0.8zM166.9 151.3h0.8v0.8h-0.8zM158.4 157.1h0.8v0.8h-0.8zM154.8 151.7h0.8v0.8h-0.8zM162.8 152.5h0.8v0.8h-0.8zM164.3 155.3h0.8v0.8h-0.8zM154.5 149.9h0.8v0.8h-0.8zM164.7 153.4h0.8v0.8h-0.8zM153.0 140.4h0.8v0.8h-0.8zM148.1 155.6h0.8v0.8h-0.8zM146.7 161.4h0.8v0.8h-0.8zM135.2 161.2h0.8v0.8h-0.8zM154.2 163.6h0.8v0.8h-0.8zM161.3 151.0h0.8v0.8h-0.8zM160.7 158.9h0.8v0.8h-0.8zM170.8 160.3h0.8v0.8h-0.8zM162.4 158.2h0.8v0.8h-0.8zM152.4 149.4h0.8v0.8h-0.8zM152.7 156.4h0.8v0.8h-0.8zM154.9 158.0h0.8v0.8h-0.8zM139.0 158.8h0.8v0.8h-0.8zM148.3 153.2h0.8v0.8h-0.8zM146.9 147.5h0.8v0.8h-0.8zM164.7 154.6h0.8v0.8h-0.8zM142.8 154.3h0.8v0.8h-0.8zM157.2 152.0h0.8v0.8h-0.8zM171.5 153.2h0.8v0.8h-0.8zM145.4 153.4h0.8v0.8h-0.8zM134.6 152.5h0.8v0.8h-0.8zM167.0 155.8h0.8v0.8h-0.8zM152.7 148.2h0.8v0.8h-0.8zM155.6 158.3h0.8v0.8h-0.8zM156.9 152.7h0.8v0.8h-0.8zM151.9 153.9h0.8v0.8h-0.8zM148.7 152.1h0.8v0.8h-0.8zM144.8 152.2h0.8v0.8h-0.8zM150.1 155.9h0.8v0.8h-0.8zM144.3 147.8h0.8v0.8h-0.8zM167.5 153.0h0.8v0.8h-0.8zM157.3 162.2h0.8v0.8h-0.8zM158.1 153.6h0.8v0.8h-0.8zM145.7 152.8h0.8v0.8h-0.8zM150.5 157.7h0.8v0.8h-0.8zM159.4 154.5h0.8v0.8h-0.8zM150.8 151.8h0.8v0.8h-0.8zM160.9 147.2h0.8v0.8h-0.8zM149.7 151.3h0.8v0.8h-0.8zM158.3 145.3h0.8v0.8h-0.8zM146.6 160.0h0.8v0.8h-0.8zM167.6 153.8h0.8v0.8h-0.8zM142.3 153.4h0.8v0.8h-0.8zM143.6 150.1h0.8v0.8h-0.8zM162.7 151.8h0.8v0.8h-0.8zM178.2 150.7h0.8v0.8h-0.8zM159.4 152.9h0.8v0.8h-0.8zM139.9 147.7h0.8v0.8h-0.8zM153.7 152.0h0.8v0.8h-0.8zM157.5 147.4h0.8v0.8h-0.8zM167.9 150.6h0.8v0.8h-0.8zM157.6 151.9h0.8v0.8h-0.8zM160.9 145.9h0.8v0.8h-0.8z" fill="#9a9ac4" opacity="0.45"/><path d="M150.4 151.6h0.8v0.8h-0.8zM153.5 155.6h0.8v0.8h-0.8zM133.8 151.7h0.8v0.8h-0.8zM151.4 153.6h0.8v0.8h-0.8zM142.1 153.8h0.8v0.8h-0.8zM160.8 154.3h0.8v0.8h-0.8zM144.5 155.9h0.8v0.8h-0.8zM163.7 149.6h0.8v0.8h-0.8zM145.1 156.5h0.8v0.8h-0.8zM151.0 154.2h0.8v0.8h-0.8zM148.7 152.3h0.8v0.8h-0.8zM142.5 155.9h0.8v0.8h-0.8zM164.0 151.4h0.8v0.8h-0.8zM146.1 159.3h0.8v0.8h-0.8zM157.1 156.0h0.8v0.8h-0.8zM155.0 152.9h0.8v0.8h-0.8zM170.2 152.4h0.8v0.8h-0.8zM157.8 154.4h0.8v0.8h-0.8zM157.4 163.3h0.8v0.8h-0.8zM158.0 154.9h0.8v0.8h-0.8zM143.3 156.4h0.8v0.8h-0.8zM162.5 156.8h0.8v0.8h-0.8zM151.5 158.1h0.8v0.8h-0.8zM156.6 161.0h0.8v0.8h-0.8zM166.0 161.5h0.8v0.8h-0.8zM160.3 151.0h0.8v0.8h-0.8zM152.3 152.1h0.8v0.8h-0.8zM152.8 150.5h0.8v0.8h-0.8zM168.5 153.9h0.8v0.8h-0.8zM159.7 156.4h0.8v0.8h-0.8zM153.0 149.1h0.8v0.8h-0.8zM155.9 163.1h0.8v0.8h-0.8zM151.3 161.7h0.8v0.8h-0.8zM158.1 158.0h0.8v0.8h-0.8zM153.7 152.3h0.8v0.8h-0.8zM151.3 156.6h0.8v0.8h-0.8zM156.3 169.4h0.8v0.8h-0.8zM160.3 147.3h0.8v0.8h-0.8zM137.2 154.4h0.8v0.8h-0.8zM166.6 155.2h0.8v0.8h-0.8zM167.7 151.7h0.8v0.8h-0.8zM145.7 154.8h0.8v0.8h-0.8zM134.9 145.5h0.8v0.8h-0.8zM142.6 149.1h0.8v0.8h-0.8zM150.1 149.9h0.8v0.8h-0.8zM158.3 152.0h0.8v0.8h-0.8zM157.8 148.1h0.8v0.8h-0.8zM165.2 162.2h0.8v0.8h-0.8zM155.1 140.5h0.8v0.8h-0.8zM147.3 155.7h0.8v0.8h-0.8zM138.4 156.2h0.8v0.8h-0.8zM151.0 146.1h0.8v0.8h-0.8zM159.1 160.4h0.8v0.8h-0.8zM148.1 146.4h0.8v0.8h-0.8zM154.9 160.4h0.8v0.8h-0.8zM158.4 145.8h0.8v0.8h-0.8zM167.4 160.7h0.8v0.8h-0.8zM162.2 147.5h0.8v0.8h-0.8zM153.2 153.3h0.8v0.8h-0.8zM146.8 141.0h0.8v0.8h-0.8zM156.8 157.9h0.8v0.8h-0.8zM147.5 153.7h0.8v0.8h-0.8zM145.7 152.6h0.8v0.8h-0.8zM167.0 151.0h0.8v0.8h-0.8zM162.4 159.2h0.8v0.8h-0.8zM155.7 143.3h0.8v0.8h-0.8zM153.0 147.1h0.8v0.8h-0.8zM151.9 149.5h0.8v0.8h-0.8zM149.5 152.1h0.8v0.8h-0.8zM142.4 150.5h0.8v0.8h-0.8zM157.1 144.9h0.8v0.8h-0.8zM141.4 156.8h0.8v0.8h-0.8zM154.5 159.7h0.8v0.8h-0.8zM144.3 162.6h0.8v0.8h-0.8zM142.3 154.6h0.8v0.8h-0.8zM165.6 144.1h0.8v0.8h-0.8zM138.4 144.4h0.8v0.8h-0.8zM160.6 150.5h0.8v0.8h-0.8zM153.7 163.0h0.8v0.8h-0.8zM149.9 143.9h0.8v0.8h-0.8zM148.1 155.1h0.8v0.8h-0.8zM153.7 156.9h0.8v0.8h-0.8zM176.0 152.5h0.8v0.8h-0.8zM163.0 150.4h0.8v0.8h-0.8zM128.4 144.5h0.8v0.8h-0.8zM151.7 156.2h0.8v0.8h-0.8zM152.8 152.4h0.8v0.8h-0.8zM166.5 158.0h0.8v0.8h-0.8zM155.9 149.8h0.8v0.8h-0.8zM150.4 148.7h0.8v0.8h-0.8zM150.4 148.6h0.8v0.8h-0.8zM157.7 151.0h0.8v0.8h-0.8zM157.5 148.5h0.8v0.8h-0.8zM149.6 162.2h0.8v0.8h-0.8zM149.2 148.6h0.8v0.8h-0.8zM166.0 153.4h0.8v0.8h-0.8zM153.3 171.3h0.8v0.8h-0.8zM156.1 150.0h0.8v0.8h-0.8zM137.9 158.1h0.8v0.8h-0.8zM168.4 147.4h0.8v0.8h-0.8zM153.9 151.8h0.8v0.8h-0.8zM148.3 154.4h0.8v0.8h-0.8z" fill="#b0b0d4" opacity="0.45"/><path d="M144.5 151.4h0.8v0.8h-0.8zM161.4 158.5h0.8v0.8h-0.8zM152.0 151.5h0.8v0.8h-0.8zM138.0 153.3h0.8v0.8h-0.8zM159.6 146.1h0.8v0.8h-0.8zM150.1 149.0h0.8v0.8h-0.8zM154.8 154.5h0.8v0.8h-0.8zM157.2 157.8h0.8v0.8h-0.8zM147.6 158.4h0.8v0.8h-0.8zM154.6 154.3h0.8v0.8h-0.8zM146.0 159.3h0.8v0.8h-0.8zM148.7 147.1h0.8v0.8h-0.8zM155.0 151.5h0.8v0.8h-0.8zM152.0 146.0h0.8v0.8h-0.8zM149.6 148.7h0.8v0.8h-0.8zM152.4 157.7h0.8v0.8h-0.8zM148.8 150.5h0.8v0.8h-0.8zM155.4 148.9h0.8v0.8h-0.8zM157.4 148.3h0.8v0.8h-0.8zM148.8 153.1h0.8v0.8h-0.8zM165.9 158.2h0.8v0.8h-0.8zM165.7 152.1h0.8v0.8h-0.8zM159.4 154.6h0.8v0.8h-0.8zM130.7 158.5h0.8v0.8h-0.8zM162.5 142.2h0.8v0.8h-0.8zM148.0 152.6h0.8v0.8h-0.8zM153.8 154.9h0.8v0.8h-0.8zM156.6 149.3h0.8v0.8h-0.8zM161.4 164.7h0.8v0.8h-0.8zM166.4 143.1h0.8v0.8h-0.8zM165.2 149.9h0.8v0.8h-0.8zM149.5 152.8h0.8v0.8h-0.8zM161.1 149.8h0.8v0.8h-0.8zM172.6 144.3h0.8v0.8h-0.8zM166.5 139.2h0.8v0.8h-0.8zM153.9 154.0h0.8v0.8h-0.8zM166.2 147.2h0.8v0.8h-0.8zM145.6 149.1h0.8v0.8h-0.8zM150.3 153.0h0.8v0.8h-0.8zM150.4 155.3h0.8v0.8h-0.8zM151.4 147.7h0.8v0.8h-0.8zM159.2 153.0h0.8v0.8h-0.8zM155.5 146.1h0.8v0.8h-0.8zM156.1 153.8h0.8v0.8h-0.8zM161.7 155.8h0.8v0.8h-0.8zM156.8 154.6h0.8v0.8h-0.8zM151.6 148.4h0.8v0.8h-0.8zM162.8 154.8h0.8v0.8h-0.8zM150.1 157.2h0.8v0.8h-0.8zM150.0 153.2h0.8v0.8h-0.8zM153.9 162.0h0.8v0.8h-0.8zM155.3 144.4h0.8v0.8h-0.8zM148.6 148.6h0.8v0.8h-0.8zM166.7 151.9h0.8v0.8h-0.8zM147.5 153.7h0.8v0.8h-0.8zM167.0 152.6h0.8v0.8h-0.8zM145.6 145.7h0.8v0.8h-0.8zM160.7 150.9h0.8v0.8h-0.8zM161.8 146.0h0.8v0.8h-0.8zM172.7 155.4h0.8v0.8h-0.8zM153.0 156.2h0.8v0.8h-0.8zM155.6 159.3h0.8v0.8h-0.8zM156.7 149.9h0.8v0.8h-0.8zM164.7 158.8h0.8v0.8h-0.8zM168.9 155.4h0.8v0.8h-0.8zM162.8 155.4h0.8v0.8h-0.8zM147.4 161.1h0.8v0.8h-0.8zM177.1 151.4h0.8v0.8h-0.8zM149.7 157.8h0.8v0.8h-0.8zM160.1 147.3h0.8v0.8h-0.8zM164.5 147.5h0.8v0.8h-0.8zM154.9 149.1h0.8v0.8h-0.8zM164.9 152.5h0.8v0.8h-0.8zM151.8 162.0h0.8v0.8h-0.8zM150.6 150.5h0.8v0.8h-0.8zM147.6 156.3h0.8v0.8h-0.8zM142.3 149.8h0.8v0.8h-0.8zM151.0 154.7h0.8v0.8h-0.8zM161.5 157.5h0.8v0.8h-0.8zM144.3 157.1h0.8v0.8h-0.8zM133.7 153.8h0.8v0.8h-0.8zM159.7 146.2h0.8v0.8h-0.8zM161.3 157.3h0.8v0.8h-0.8zM154.3 155.3h0.8v0.8h-0.8zM157.8 152.7h0.8v0.8h-0.8zM161.8 151.6h0.8v0.8h-0.8zM154.2 159.4h0.8v0.8h-0.8zM144.8 152.7h0.8v0.8h-0.8zM147.7 147.2h0.8v0.8h-0.8zM175.7 159.0h0.8v0.8h-0.8zM151.5 155.7h0.8v0.8h-0.8zM165.5 148.1h0.8v0.8h-0.8zM164.3 149.6h0.8v0.8h-0.8zM151.4 155.0h0.8v0.8h-0.8zM144.4 155.0h0.8v0.8h-0.8z" fill="#a8a8d0" opacity="0.45"/>
<path d="M138.7 155.8h0.8v0.8h-0.8zM160.4 161.5h0.8v0.8h-0.8zM166.4 151.5h0.8v0.8h-0.8zM175.9 152.3h0.8v0.8h-0.8zM164.1 154.0h0.8v0.8h-0.8zM189.0 175.9h0.8v0.8h-0.8zM183.3 146.9h0.8v0.8h-0.8zM166.7 144.7h0.8v0.8h-0.8zM157.0 151.8h0.8v0.8h-0.8zM182.1 155.7h0.8v0.8h-0.8zM166.4 158.2h0.8v0.8h-0.8zM154.5 159.6h0.8v0.8h-0.8zM160.2 162.1h0.8v0.8h-0.8zM170.9 150.1h0.8v0.8h-0.8zM149.9 150.3h0.8v0.8h-0.8zM157.0 142.0h0.8v0.8h-0.8zM169.7 158.9h0.8v0.8h-0.8zM160.3 161.8h0.8v0.8h-0.8zM155.7 158.1h0.8v0.8h-0.8zM180.0 156.3h0.8v0.8h-0.8zM170.6 147.1h0.8v0.8h-0.8zM188.2 163.5h0.8v0.8h-0.8zM171.2 156.2h0.8v0.8h-0.8zM165.8 158.9h0.8v0.8h-0.8zM167.2 166.1h0.8v0.8h-0.8zM175.1 149.9h0.8v0.8h-0.8zM167.3 173.5h0.8v0.8h-0.8zM151.3 142.5h0.8v0.8h-0.8zM170.8 152.5h0.8v0.8h-0.8zM154.8 160.7h0.8v0.8h-0.8zM145.1 146.2h0.8v0.8h-0.8zM168.5 157.0h0.8v0.8h-0.8zM148.6 160.2h0.8v0.8h-0.8zM172.6 172.9h0.8v0.8h-0.8zM179.6 155.9h0.8v0.8h-0.8zM168.4 153.2h0.8v0.8h-0.8zM155.6 147.6h0.8v0.8h-0.8zM182.5 161.0h0.8v0.8h-0.8zM173.9 155.5h0.8v0.8h-0.8zM191.4 158.4h0.8v0.8h-0.8zM171.7 164.0h0.8v0.8h-0.8zM164.9 141.1h0.8v0.8h-0.8zM159.8 165.5h0.8v0.8h-0.8zM157.9 152.6h0.8v0.8h-0.8zM172.5 155.2h0.8v0.8h-0.8zM171.2 170.0h0.8v0.8h-0.8zM164.6 139.5h0.8v0.8h-0.8zM160.1 136.8h0.8v0.8h-0.8zM177.7 152.1h0.8v0.8h-0.8zM153.2 156.4h0.8v0.8h-0.8zM165.5 148.6h0.8v0.8h-0.8zM173.4 169.6h0.8v0.8h-0.8zM162.3 175.2h0.8v0.8h-0.8zM167.8 148.8h0.8v0.8h-0.8zM169.5 155.2h0.8v0.8h-0.8zM158.4 135.3h0.8v0.8h-0.8zM181.5 158.3h0.8v0.8h-0.8zM161.0 150.6h0.8v0.8h-0.8zM176.3 144.2h0.8v0.8h-0.8zM169.7 154.9h0.8v0.8h-0.8zM166.8 137.3h0.8v0.8h-0.8zM151.3 165.8h0.8v0.8h-0.8zM170.5 158.8h0.8v0.8h-0.8zM162.7 159.1h0.8v0.8h-0.8zM158.8 154.0h0.8v0.8h-0.8zM181.9 146.0h0.8v0.8h-0.8zM135.5 151.8h0.8v0.8h-0.8zM160.4 143.9h0.8v0.8h-0.8zM161.7 143.4h0.8v0.8h-0.8zM169.1 163.6h0.8v0.8h-0.8zM157.0 155.1h0.8v0.8h-0.8zM171.5 159.3h0.8v0.8h-0.8zM173.1 162.6h0.8v0.8h-0.8zM167.1 161.0h0.8v0.8h-0.8zM165.4 165.8h0.8v0.8h-0.8zM162.5 147.4h0.8v0.8h-0.8zM174.7 145.5h0.8v0.8h-0.8zM153.7 161.5h0.8v0.8h-0.8zM149.0 158.5h0.8v0.8h-0.8zM168.7 155.8h0.8v0.8h-0.8zM175.7 161.5h0.8v0.8h-0.8zM170.4 160.3h0.8v0.8h-0.8zM154.4 166.3h0.8v0.8h-0.8zM151.8 162.4h0.8v0.8h-0.8zM161.6 149.5h0.8v0.8h-0.8zM156.4 156.4h0.8v0.8h-0.8zM177.0 154.1h0.8v0.8h-0.8zM160.5 182.1h0.8v0.8h-0.8zM149.5 162.6h0.8v0.8h-0.8zM179.3 155.7h0.8v0.8h-0.8zM162.0 158.2h0.8v0.8h-0.8zM165.5 153.8h0.8v0.8h-0.8zM158.8 153.3h0.8v0.8h-0.8zM148.2 143.1h0.8v0.8h-0.8zM169.0 151.0h0.8v0.8h-0.8zM167.9 143.7h0.8v0.8h-0.8zM142.8 160.1h0.8v0.8h-0.8zM189.5 157.2h0.8v0.8h-0.8zM159.3 156.5h0.8v0.8h-0.8zM192.0 153.4h0.8v0.8h-0.8zM178.1 157.6h0.8v0.8h-0.8zM158.3 156.4h0.8v0.8h-0.8zM155.8 160.3h0.8v0.8h-0.8zM186.5 150.1h0.8v0.8h-0.8zM161.9 158.0h0.8v0.8h-0.8zM173.8 153.5h0.8v0.8h-0.8zM149.7 158.6h0.8v0.8h-0.8zM147.9 143.2h0.8v0.8h-0.8zM154.2 147.0h0.8v0.8h-0.8zM144.9 169.0h0.8v0.8h-0.8zM157.8 158.6h0.8v0.8h-0.8zM141.8 139.2h0.8v0.8h-0.8zM161.0 154.6h0.8v0.8h-0.8zM159.6 148.0h0.8v0.8h-0.8zM152.4 143.3h0.8v0.8h-0.8zM162.0 158.0h0.8v0.8h-0.8zM154.7 159.5h0.8v0.8h-0.8zM163.1 152.2h0.8v0.8h-0.8zM181.1 160.1h0.8v0.8h-0.8zM155.5 151.1h0.8v0.8h-0.8zM163.6 146.6h0.8v0.8h-0.8zM146.9 164.2h0.8v0.8h-0.8zM156.7 158.4h0.8v0.8h-0.8zM167.0 160.1h0.8v0.8h-0.8zM156.2 151.1h0.8v0.8h-0.8zM174.7 161.8h0.8v0.8h-0.8zM135.3 151.4h0.8v0.8h-0.8zM180.9 144.7h0.8v0.8h-0.8zM164.3 151.0h0.8v0.8h-0.8zM174.5 156.8h0.8v0.8h-0.8zM151.3 160.7h0.8v0.8h-0.8zM163.1 155.5h0.8v0.8h-0.8zM168.6 155.1h0.8v0.8h-0.8zM154.5 159.3h0.8v0.8h-0.8zM145.7 160.8h0.8v0.8h-0.8zM175.4 155.0h0.8v0.8h-0.8zM145.0 145.5h0.8v0.8h-0.8zM155.8 159.7h0.8v0.8h-0.8zM173.4 153.4h0.8v0.8h-0.8zM154.1 156.2h0.8v0.8h-0.8zM183.4 161.3h0.8v0.8h-0.8zM165.7 152.0h0.8v0.8h-0.8zM183.5 155.1h0.8v0.8h-0.8zM159.0 150.4h0.8v0.8h-0.8zM169.8 157.7h0.8v0.8h-0.8z" fill="#c0c0dc" opacity="0.45"/>
<path d="M183.6 170.0h0.8v0.8h-0.8zM154.1 160.7h0.8v0.8h-0.8zM128.9 178.7h0.8v0.8h-0.8zM148.4 168.1h0.8v0.8h-0.8zM154.3 177.3h0.8v0.8h-0.8zM146.1 175.6h0.8v0.8h-0.8zM180.2 157.2h0.8v0.8h-0.8zM176.9 179.2h0.8v0.8h-0.8zM172.5 181.5h0.8v0.8h-0.8zM180.1 184.0h0.8v0.8h-0.8zM157.0 163.5h0.8v0.8h-0.8zM156.6 175.7h0.8v0.8h-0.8zM188.8 163.7h0.8v0.8h-0.8zM176.2 175.9h0.8v0.8h-0.8zM123.0 172.8h0.8v0.8h-0.8zM171.6 150.3h0.8v0.8h-0.8zM173.4 182.1h0.8v0.8h-0.8zM128.9 161.2h0.8v0.8h-0.8zM163.8 169.6h0.8v0.8h-0.8zM162.3 180.2h0.8v0.8h-0.8zM157.6 180.6h0.8v0.8h-0.8zM162.5 172.0h0.8v0.8h-0.8zM184.8 161.7h0.8v0.8h-0.8zM152.0 169.4h0.8v0.8h-0.8zM155.2 167.8h0.8v0.8h-0.8zM156.5 170.7h0.8v0.8h-0.8zM173.7 163.3h0.8v0.8h-0.8zM136.1 176.6h0.8v0.8h-0.8zM175.5 167.1h0.8v0.8h-0.8zM184.0 162.4h0.8v0.8h-0.8zM166.0 174.1h0.8v0.8h-0.8zM159.5 160.3h0.8v0.8h-0.8zM144.1 170.9h0.8v0.8h-0.8zM130.9 172.4h0.8v0.8h-0.8zM150.1 188.7h0.8v0.8h-0.8zM149.1 158.9h0.8v0.8h-0.8zM151.8 178.0h0.8v0.8h-0.8zM183.8 166.1h0.8v0.8h-0.8zM153.6 178.5h0.8v0.8h-0.8zM145.9 175.9h0.8v0.8h-0.8zM158.2 161.9h0.8v0.8h-0.8zM168.8 169.5h0.8v0.8h-0.8zM138.4 172.9h0.8v0.8h-0.8zM147.4 176.9h0.8v0.8h-0.8zM192.6 177.3h0.8v0.8h-0.8zM170.3 165.0h0.8v0.8h-0.8zM160.7 162.4h0.8v0.8h-0.8zM160.4 172.8h0.8v0.8h-0.8zM159.6 153.9h0.8v0.8h-0.8zM167.3 164.7h0.8v0.8h-0.8zM189.8 170.0h0.8v0.8h-0.8zM129.6 176.5h0.8v0.8h-0.8zM162.7 167.4h0.8v0.8h-0.8zM150.4 175.9h0.8v0.8h-0.8zM150.3 161.7h0.8v0.8h-0.8zM151.4 170.4h0.8v0.8h-0.8zM146.0 176.9h0.8v0.8h-0.8zM173.4 175.5h0.8v0.8h-0.8zM194.2 171.5h0.8v0.8h-0.8zM137.4 163.6h0.8v0.8h-0.8zM169.1 159.5h0.8v0.8h-0.8zM184.5 174.6h0.8v0.8h-0.8zM175.5 162.5h0.8v0.8h-0.8zM159.3 161.1h0.8v0.8h-0.8zM144.4 170.1h0.8v0.8h-0.8zM137.0 167.1h0.8v0.8h-0.8zM152.9 170.2h0.8v0.8h-0.8z" fill="#b8b8d4" opacity="0.45"/><path d="M151.0 163.3h0.8v0.8h-0.8zM173.8 163.8h0.8v0.8h-0.8zM172.1 192.2h0.8v0.8h-0.8zM160.3 181.4h0.8v0.8h-0.8zM147.3 183.9h0.8v0.8h-0.8zM153.1 170.9h0.8v0.8h-0.8zM178.1 182.5h0.8v0.8h-0.8zM148.0 166.2h0.8v0.8h-0.8zM193.2 177.5h0.8v0.8h-0.8zM142.9 174.9h0.8v0.8h-0.8zM165.9 170.0h0.8v0.8h-0.8zM177.4 178.5h0.8v0.8h-0.8zM125.3 174.4h0.8v0.8h-0.8zM156.4 167.3h0.8v0.8h-0.8zM182.2 177.2h0.8v0.8h-0.8zM184.0 178.4h0.8v0.8h-0.8zM148.0 173.8h0.8v0.8h-0.8zM163.9 168.9h0.8v0.8h-0.8zM182.6 169.2h0.8v0.8h-0.8zM181.5 170.6h0.8v0.8h-0.8zM148.1 172.3h0.8v0.8h-0.8zM150.8 163.0h0.8v0.8h-0.8zM163.2 172.7h0.8v0.8h-0.8zM174.3 159.6h0.8v0.8h-0.8zM142.0 167.4h0.8v0.8h-0.8zM153.2 170.6h0.8v0.8h-0.8zM159.9 160.4h0.8v0.8h-0.8zM178.3 183.7h0.8v0.8h-0.8zM168.5 171.8h0.8v0.8h-0.8zM164.3 181.7h0.8v0.8h-0.8zM183.1 177.7h0.8v0.8h-0.8zM192.1 176.4h0.8v0.8h-0.8zM172.0 181.1h0.8v0.8h-0.8zM172.0 183.7h0.8v0.8h-0.8zM148.1 153.0h0.8v0.8h-0.8zM150.5 187.1h0.8v0.8h-0.8zM122.5 163.5h0.8v0.8h-0.8zM194.6 165.4h0.8v0.8h-0.8zM153.6 166.4h0.8v0.8h-0.8zM149.5 173.5h0.8v0.8h-0.8zM151.1 169.3h0.8v0.8h-0.8zM174.7 175.1h0.8v0.8h-0.8zM168.8 189.1h0.8v0.8h-0.8zM148.5 166.5h0.8v0.8h-0.8zM186.1 168.1h0.8v0.8h-0.8zM132.0 165.2h0.8v0.8h-0.8zM165.4 157.8h0.8v0.8h-0.8zM159.0 175.3h0.8v0.8h-0.8zM173.2 160.8h0.8v0.8h-0.8zM153.8 166.4h0.8v0.8h-0.8zM154.9 161.7h0.8v0.8h-0.8zM174.9 170.9h0.8v0.8h-0.8zM166.7 161.3h0.8v0.8h-0.8zM175.7 164.2h0.8v0.8h-0.8zM162.4 170.2h0.8v0.8h-0.8zM184.5 185.4h0.8v0.8h-0.8zM137.1 165.2h0.8v0.8h-0.8zM172.7 173.1h0.8v0.8h-0.8zM148.7 156.5h0.8v0.8h-0.8zM193.3 174.8h0.8v0.8h-0.8zM141.2 153.4h0.8v0.8h-0.8zM150.6 157.8h0.8v0.8h-0.8zM181.9 172.3h0.8v0.8h-0.8zM156.5 168.7h0.8v0.8h-0.8zM169.2 184.3h0.8v0.8h-0.8zM190.0 175.1h0.8v0.8h-0.8zM169.7 167.0h0.8v0.8h-0.8zM140.9 180.0h0.8v0.8h-0.8zM128.0 167.2h0.8v0.8h-0.8zM133.5 181.6h0.8v0.8h-0.8zM154.4 163.7h0.8v0.8h-0.8z" fill="#c4c4e0" opacity="0.45"/>
<ellipse cx="152" cy="151.5" rx="8" ry="5" fill="#a0a0c8" opacity="0.3" filter="url(#b18)"/>
<line x1="160.6" y1="133.5" x2="160.6" y2="201.3" stroke="#777" stroke-width="0.9"/>
<line x1="119.5" y1="162" x2="195.2" y2="162" stroke="#777" stroke-width="0.9"/>
<rect x="120.8" y="240.6" width="75.2" height="69.70000000000002" fill="none" stroke="#999" stroke-width="1"/>
<path d="M119.0 308.3H120.8M122.8 310.3V312.1M119.9 303.4H120.8M128.2 310.3V311.2M119.9 300.5H120.8M131.3 310.3V311.2M119.9 298.4H120.8M133.5 310.3V311.2M119.9 296.8H120.8M135.2 310.3V311.2M119.9 295.5H120.8M136.7 310.3V311.2M119.9 294.4H120.8M137.8 310.3V311.2M119.9 293.5H120.8M138.9 310.3V311.2M119.9 292.6H120.8M139.8 310.3V311.2M119.0 291.9H120.8M140.6 310.3V312.1M119.9 286.9H120.8M146.0 310.3V311.2M119.9 284.0H120.8M149.1 310.3V311.2M119.9 282.0H120.8M151.3 310.3V311.2M119.9 280.4H120.8M153.0 310.3V311.2M119.9 279.1H120.8M154.5 310.3V311.2M119.9 278.0H120.8M155.6 310.3V311.2M119.9 277.0H120.8M156.7 310.3V311.2M119.9 276.2H120.8M157.6 310.3V311.2M119.0 275.4H120.8M158.4 310.3V312.1M119.9 270.5H120.8M163.8 310.3V311.2M119.9 267.6H120.8M166.9 310.3V311.2M119.9 265.6H120.8M169.1 310.3V311.2M119.9 264.0H120.8M170.8 310.3V311.2M119.9 262.7H120.8M172.3 310.3V311.2M119.9 261.6H120.8M173.4 310.3V311.2M119.9 260.6H120.8M174.5 310.3V311.2M119.9 259.8H120.8M175.4 310.3V311.2M119.0 259.0H120.8M176.2 310.3V312.1M119.9 254.1H120.8M181.6 310.3V311.2M119.9 251.2H120.8M184.7 310.3V311.2M119.9 249.1H120.8M186.9 310.3V311.2M119.9 247.5H120.8M188.6 310.3V311.2M119.9 246.2H120.8M190.1 310.3V311.2M119.9 245.1H120.8M191.2 310.3V311.2M119.9 244.2H120.8M192.3 310.3V311.2M119.9 243.4H120.8M193.2 310.3V311.2" stroke="#666" stroke-width="0.5" fill="none"/>
<path d="M121.5,252.5 C122.50,251.08 126.92,251.08 130,250.5 C133.08,249.92 136.33,249.33 140,249 C143.67,248.67 147.83,248.50 152,248.5 C156.17,248.50 161.17,248.67 165,249 C168.83,249.33 172.17,249.75 175,250.5 C177.83,251.25 181.17,252.33 182,253.5 C182.83,254.67 181.83,256.33 180,257.5 C178.17,258.67 174.33,259.67 171,260.5 C167.67,261.33 163.83,262.08 160,262.5 C156.17,262.92 152.17,263.17 148,263 C143.83,262.83 139.00,262.17 135,261.5 C131.00,260.83 126.25,260.50 124,259 C121.75,257.50 120.50,253.92 121.5,252.5Z" fill="#7898d0" opacity="0.5" filter="url(#b8)"/>
<path d="M161.3 256.7h0.8v0.8h-0.8zM126.3 256.4h0.8v0.8h-0.8zM137.8 253.6h0.8v0.8h-0.8zM150.6 259.8h0.8v0.8h-0.8zM142.3 253.3h0.8v0.8h-0.8zM165.1 257.6h0.8v0.8h-0.8zM174.8 256.6h0.8v0.8h-0.8zM145.7 257.0h0.8v0.8h-0.8zM159.9 253.2h0.8v0.8h-0.8zM130.4 253.7h0.8v0.8h-0.8zM156.7 261.4h0.8v0.8h-0.8zM177.5 252.2h0.8v0.8h-0.8zM158.3 257.7h0.8v0.8h-0.8zM160.1 249.9h0.8v0.8h-0.8zM165.6 249.7h0.8v0.8h-0.8zM164.8 250.2h0.8v0.8h-0.8zM156.5 259.5h0.8v0.8h-0.8zM174.5 256.0h0.8v0.8h-0.8zM165.3 254.0h0.8v0.8h-0.8zM177.3 255.7h0.8v0.8h-0.8zM145.6 251.1h0.8v0.8h-0.8zM139.4 252.2h0.8v0.8h-0.8zM138.8 256.7h0.8v0.8h-0.8zM164.2 254.1h0.8v0.8h-0.8zM149.5 253.0h0.8v0.8h-0.8zM167.5 258.6h0.8v0.8h-0.8zM129.5 258.2h0.8v0.8h-0.8zM130.0 251.3h0.8v0.8h-0.8zM164.9 256.8h0.8v0.8h-0.8zM151.3 249.1h0.8v0.8h-0.8zM150.3 260.5h0.8v0.8h-0.8zM129.4 260.5h0.8v0.8h-0.8zM166.0 251.1h0.8v0.8h-0.8zM125.8 256.3h0.8v0.8h-0.8zM143.3 253.0h0.8v0.8h-0.8zM136.1 253.9h0.8v0.8h-0.8zM160.5 261.2h0.8v0.8h-0.8zM173.5 251.5h0.8v0.8h-0.8zM132.7 257.5h0.8v0.8h-0.8zM156.9 250.7h0.8v0.8h-0.8zM167.4 259.5h0.8v0.8h-0.8zM161.5 259.2h0.8v0.8h-0.8zM126.0 257.9h0.8v0.8h-0.8zM154.9 256.1h0.8v0.8h-0.8zM152.7 258.6h0.8v0.8h-0.8zM172.0 258.5h0.8v0.8h-0.8zM141.0 254.8h0.8v0.8h-0.8zM176.4 258.7h0.8v0.8h-0.8zM134.7 249.9h0.8v0.8h-0.8zM166.6 252.8h0.8v0.8h-0.8zM146.5 253.3h0.8v0.8h-0.8zM134.7 258.2h0.8v0.8h-0.8zM163.4 251.7h0.8v0.8h-0.8zM162.4 258.9h0.8v0.8h-0.8zM151.6 252.7h0.8v0.8h-0.8zM173.3 256.7h0.8v0.8h-0.8zM127.8 258.9h0.8v0.8h-0.8zM143.8 251.5h0.8v0.8h-0.8zM127.3 252.4h0.8v0.8h-0.8zM156.5 253.4h0.8v0.8h-0.8zM152.5 249.5h0.8v0.8h-0.8zM158.7 255.4h0.8v0.8h-0.8zM133.8 253.7h0.8v0.8h-0.8zM176.3 252.9h0.8v0.8h-0.8zM146.1 262.9h0.8v0.8h-0.8zM152.1 256.4h0.8v0.8h-0.8zM146.6 262.0h0.8v0.8h-0.8zM134.3 250.7h0.8v0.8h-0.8zM123.5 252.3h0.8v0.8h-0.8zM170.9 252.5h0.8v0.8h-0.8zM162.8 259.5h0.8v0.8h-0.8zM143.4 249.6h0.8v0.8h-0.8zM140.2 250.4h0.8v0.8h-0.8zM151.9 250.1h0.8v0.8h-0.8zM153.0 255.3h0.8v0.8h-0.8zM129.4 252.4h0.8v0.8h-0.8zM135.3 255.5h0.8v0.8h-0.8zM159.9 261.1h0.8v0.8h-0.8zM168.5 255.5h0.8v0.8h-0.8zM142.7 253.7h0.8v0.8h-0.8zM139.4 260.4h0.8v0.8h-0.8zM145.1 254.7h0.8v0.8h-0.8zM145.7 253.5h0.8v0.8h-0.8zM138.4 251.4h0.8v0.8h-0.8zM133.4 254.4h0.8v0.8h-0.8zM135.0 253.5h0.8v0.8h-0.8zM179.3 252.9h0.8v0.8h-0.8zM170.1 253.5h0.8v0.8h-0.8zM153.9 250.7h0.8v0.8h-0.8zM127.4 254.5h0.8v0.8h-0.8zM161.3 256.9h0.8v0.8h-0.8zM151.6 256.5h0.8v0.8h-0.8zM157.8 250.3h0.8v0.8h-0.8zM142.5 262.0h0.8v0.8h-0.8zM174.5 256.0h0.8v0.8h-0.8zM152.6 260.8h0.8v0.8h-0.8zM136.0 249.8h0.8v0.8h-0.8zM174.7 252.8h0.8v0.8h-0.8zM149.4 257.9h0.8v0.8h-0.8zM156.3 253.6h0.8v0.8h-0.8zM135.6 249.4h0.8v0.8h-0.8zM138.2 255.3h0.8v0.8h-0.8zM163.8 249.4h0.8v0.8h-0.8zM159.8 257.0h0.8v0.8h-0.8zM124.7 252.8h0.8v0.8h-0.8zM135.5 258.7h0.8v0.8h-0.8zM145.9 260.5h0.8v0.8h-0.8zM160.6 256.6h0.8v0.8h-0.8zM163.5 253.9h0.8v0.8h-0.8zM153.8 253.0h0.8v0.8h-0.8zM142.5 257.0h0.8v0.8h-0.8zM155.2 260.6h0.8v0.8h-0.8zM136.0 260.7h0.8v0.8h-0.8zM167.8 252.1h0.8v0.8h-0.8zM176.0 256.6h0.8v0.8h-0.8zM153.3 250.3h0.8v0.8h-0.8zM143.4 253.4h0.8v0.8h-0.8zM134.9 251.9h0.8v0.8h-0.8zM136.5 253.7h0.8v0.8h-0.8zM132.0 249.5h0.8v0.8h-0.8zM160.2 259.1h0.8v0.8h-0.8zM174.2 254.4h0.8v0.8h-0.8zM169.9 259.7h0.8v0.8h-0.8zM163.2 255.0h0.8v0.8h-0.8zM161.0 252.5h0.8v0.8h-0.8zM158.4 250.8h0.8v0.8h-0.8zM160.7 260.9h0.8v0.8h-0.8zM157.3 254.1h0.8v0.8h-0.8zM155.8 255.0h0.8v0.8h-0.8z" fill="#4868b8" opacity="0.8"/><path d="M166.9 258.6h0.8v0.8h-0.8zM174.1 253.0h0.8v0.8h-0.8zM160.9 259.3h0.8v0.8h-0.8zM167.6 260.5h0.8v0.8h-0.8zM123.9 256.2h0.8v0.8h-0.8zM138.7 258.2h0.8v0.8h-0.8zM150.6 252.2h0.8v0.8h-0.8zM125.0 253.2h0.8v0.8h-0.8zM127.2 258.8h0.8v0.8h-0.8zM157.1 258.2h0.8v0.8h-0.8zM145.4 257.5h0.8v0.8h-0.8zM136.0 261.1h0.8v0.8h-0.8zM159.5 253.6h0.8v0.8h-0.8zM133.0 252.0h0.8v0.8h-0.8zM124.3 253.0h0.8v0.8h-0.8zM160.3 261.0h0.8v0.8h-0.8zM125.3 256.1h0.8v0.8h-0.8zM152.1 251.9h0.8v0.8h-0.8zM126.6 257.2h0.8v0.8h-0.8zM155.7 262.8h0.8v0.8h-0.8zM164.0 250.6h0.8v0.8h-0.8zM149.3 252.0h0.8v0.8h-0.8zM174.9 256.5h0.8v0.8h-0.8zM122.4 255.9h0.8v0.8h-0.8zM146.1 257.4h0.8v0.8h-0.8zM173.0 255.2h0.8v0.8h-0.8zM138.1 260.3h0.8v0.8h-0.8zM168.8 255.7h0.8v0.8h-0.8zM157.5 258.6h0.8v0.8h-0.8zM160.8 250.1h0.8v0.8h-0.8zM142.7 249.5h0.8v0.8h-0.8zM126.8 251.5h0.8v0.8h-0.8zM126.6 255.0h0.8v0.8h-0.8zM168.0 257.6h0.8v0.8h-0.8zM152.4 256.3h0.8v0.8h-0.8zM161.8 255.3h0.8v0.8h-0.8zM145.8 251.7h0.8v0.8h-0.8zM125.7 255.8h0.8v0.8h-0.8zM173.6 258.9h0.8v0.8h-0.8zM165.6 252.0h0.8v0.8h-0.8zM169.0 255.2h0.8v0.8h-0.8zM130.0 259.7h0.8v0.8h-0.8zM141.2 257.6h0.8v0.8h-0.8zM157.4 262.2h0.8v0.8h-0.8zM162.9 257.7h0.8v0.8h-0.8zM132.1 249.5h0.8v0.8h-0.8zM157.1 252.4h0.8v0.8h-0.8zM168.7 254.9h0.8v0.8h-0.8zM162.8 251.3h0.8v0.8h-0.8zM169.2 258.3h0.8v0.8h-0.8zM158.9 257.1h0.8v0.8h-0.8zM170.8 257.5h0.8v0.8h-0.8zM146.7 253.3h0.8v0.8h-0.8zM138.6 250.6h0.8v0.8h-0.8zM144.3 252.7h0.8v0.8h-0.8zM140.7 249.3h0.8v0.8h-0.8zM168.7 256.6h0.8v0.8h-0.8zM144.0 261.5h0.8v0.8h-0.8zM164.8 258.3h0.8v0.8h-0.8zM129.4 258.2h0.8v0.8h-0.8zM160.9 256.1h0.8v0.8h-0.8zM167.5 254.0h0.8v0.8h-0.8zM154.4 256.0h0.8v0.8h-0.8zM140.4 258.5h0.8v0.8h-0.8zM145.8 255.2h0.8v0.8h-0.8zM156.8 248.6h0.8v0.8h-0.8zM159.2 259.0h0.8v0.8h-0.8zM142.6 254.2h0.8v0.8h-0.8zM134.6 260.5h0.8v0.8h-0.8zM159.0 260.9h0.8v0.8h-0.8zM145.0 252.8h0.8v0.8h-0.8zM160.5 255.0h0.8v0.8h-0.8zM149.0 258.4h0.8v0.8h-0.8zM164.3 252.4h0.8v0.8h-0.8zM150.3 255.7h0.8v0.8h-0.8zM166.7 252.3h0.8v0.8h-0.8zM126.7 252.0h0.8v0.8h-0.8zM180.3 254.0h0.8v0.8h-0.8zM144.7 259.5h0.8v0.8h-0.8zM175.7 253.9h0.8v0.8h-0.8zM180.4 255.5h0.8v0.8h-0.8zM128.8 254.6h0.8v0.8h-0.8zM124.9 253.3h0.8v0.8h-0.8zM156.5 252.4h0.8v0.8h-0.8zM138.2 257.2h0.8v0.8h-0.8zM167.4 256.6h0.8v0.8h-0.8zM156.5 257.6h0.8v0.8h-0.8zM140.6 251.5h0.8v0.8h-0.8zM142.5 254.3h0.8v0.8h-0.8zM145.5 258.6h0.8v0.8h-0.8zM162.5 255.1h0.8v0.8h-0.8zM131.3 252.7h0.8v0.8h-0.8zM122.7 257.3h0.8v0.8h-0.8zM145.6 256.4h0.8v0.8h-0.8zM152.3 258.2h0.8v0.8h-0.8zM150.4 260.7h0.8v0.8h-0.8zM134.6 255.9h0.8v0.8h-0.8zM152.6 251.1h0.8v0.8h-0.8zM145.9 255.6h0.8v0.8h-0.8zM150.4 259.3h0.8v0.8h-0.8zM145.5 256.0h0.8v0.8h-0.8zM161.6 255.5h0.8v0.8h-0.8zM139.3 261.9h0.8v0.8h-0.8zM125.9 258.8h0.8v0.8h-0.8zM133.8 257.4h0.8v0.8h-0.8zM161.8 255.4h0.8v0.8h-0.8zM155.1 256.8h0.8v0.8h-0.8zM170.7 253.7h0.8v0.8h-0.8zM137.9 252.4h0.8v0.8h-0.8zM163.3 258.8h0.8v0.8h-0.8zM136.2 260.3h0.8v0.8h-0.8zM173.1 251.8h0.8v0.8h-0.8zM163.4 258.0h0.8v0.8h-0.8zM130.2 258.1h0.8v0.8h-0.8zM152.7 258.0h0.8v0.8h-0.8zM172.6 255.2h0.8v0.8h-0.8zM162.0 252.2h0.8v0.8h-0.8zM165.8 256.0h0.8v0.8h-0.8zM137.1 250.4h0.8v0.8h-0.8zM160.0 261.0h0.8v0.8h-0.8zM174.7 254.6h0.8v0.8h-0.8zM130.9 255.9h0.8v0.8h-0.8zM143.0 256.8h0.8v0.8h-0.8zM163.3 257.2h0.8v0.8h-0.8zM175.2 255.4h0.8v0.8h-0.8zM130.0 253.0h0.8v0.8h-0.8zM145.9 254.2h0.8v0.8h-0.8zM143.2 260.7h0.8v0.8h-0.8zM159.4 251.8h0.8v0.8h-0.8zM131.1 258.2h0.8v0.8h-0.8zM142.0 255.0h0.8v0.8h-0.8zM137.5 259.9h0.8v0.8h-0.8zM137.9 254.6h0.8v0.8h-0.8zM137.2 251.4h0.8v0.8h-0.8zM164.6 256.4h0.8v0.8h-0.8zM161.8 250.3h0.8v0.8h-0.8zM160.8 253.3h0.8v0.8h-0.8zM131.0 260.1h0.8v0.8h-0.8zM167.5 253.2h0.8v0.8h-0.8zM150.4 253.8h0.8v0.8h-0.8z" fill="#88a8d8" opacity="0.8"/><path d="M130.6 254.4h0.8v0.8h-0.8zM168.9 257.3h0.8v0.8h-0.8zM167.8 249.0h0.8v0.8h-0.8zM151.8 250.6h0.8v0.8h-0.8zM156.6 254.8h0.8v0.8h-0.8zM157.5 258.6h0.8v0.8h-0.8zM175.5 256.6h0.8v0.8h-0.8zM129.0 253.9h0.8v0.8h-0.8zM159.1 260.7h0.8v0.8h-0.8zM149.6 250.8h0.8v0.8h-0.8zM141.7 261.4h0.8v0.8h-0.8zM157.1 254.9h0.8v0.8h-0.8zM130.5 253.8h0.8v0.8h-0.8zM167.4 258.7h0.8v0.8h-0.8zM147.9 255.8h0.8v0.8h-0.8zM145.8 255.4h0.8v0.8h-0.8zM126.4 253.8h0.8v0.8h-0.8zM163.2 257.6h0.8v0.8h-0.8zM152.7 253.4h0.8v0.8h-0.8zM174.1 256.1h0.8v0.8h-0.8zM157.1 252.5h0.8v0.8h-0.8zM146.3 251.4h0.8v0.8h-0.8zM167.0 258.7h0.8v0.8h-0.8zM132.5 254.4h0.8v0.8h-0.8zM147.8 251.7h0.8v0.8h-0.8zM166.3 254.3h0.8v0.8h-0.8zM148.0 251.1h0.8v0.8h-0.8zM164.4 255.3h0.8v0.8h-0.8zM152.2 262.6h0.8v0.8h-0.8zM164.5 256.2h0.8v0.8h-0.8zM140.1 251.0h0.8v0.8h-0.8zM158.6 258.4h0.8v0.8h-0.8zM153.2 260.4h0.8v0.8h-0.8zM142.7 253.8h0.8v0.8h-0.8zM159.9 258.4h0.8v0.8h-0.8zM181.1 254.2h0.8v0.8h-0.8zM159.8 255.0h0.8v0.8h-0.8zM177.5 254.3h0.8v0.8h-0.8zM168.6 250.2h0.8v0.8h-0.8zM141.7 261.5h0.8v0.8h-0.8zM154.2 253.3h0.8v0.8h-0.8zM135.5 251.8h0.8v0.8h-0.8zM160.3 255.8h0.8v0.8h-0.8zM170.9 257.5h0.8v0.8h-0.8zM146.7 256.0h0.8v0.8h-0.8zM154.8 261.1h0.8v0.8h-0.8zM151.1 263.2h0.8v0.8h-0.8zM153.9 254.4h0.8v0.8h-0.8zM164.1 257.2h0.8v0.8h-0.8zM132.2 256.4h0.8v0.8h-0.8zM151.0 257.0h0.8v0.8h-0.8zM165.2 256.7h0.8v0.8h-0.8zM179.8 256.4h0.8v0.8h-0.8zM154.3 262.7h0.8v0.8h-0.8zM139.9 251.8h0.8v0.8h-0.8zM149.9 256.3h0.8v0.8h-0.8zM132.5 252.9h0.8v0.8h-0.8zM144.1 252.6h0.8v0.8h-0.8zM144.7 250.5h0.8v0.8h-0.8zM139.6 256.7h0.8v0.8h-0.8zM145.6 253.8h0.8v0.8h-0.8zM163.9 257.8h0.8v0.8h-0.8zM140.4 256.2h0.8v0.8h-0.8zM137.2 251.4h0.8v0.8h-0.8zM129.2 260.1h0.8v0.8h-0.8zM155.7 252.8h0.8v0.8h-0.8zM138.2 250.8h0.8v0.8h-0.8zM156.6 259.4h0.8v0.8h-0.8zM145.1 249.7h0.8v0.8h-0.8zM172.0 255.3h0.8v0.8h-0.8zM162.0 255.7h0.8v0.8h-0.8zM133.2 255.2h0.8v0.8h-0.8zM151.0 257.0h0.8v0.8h-0.8zM155.7 253.0h0.8v0.8h-0.8zM138.4 257.5h0.8v0.8h-0.8zM128.6 259.4h0.8v0.8h-0.8zM148.0 262.2h0.8v0.8h-0.8zM164.3 252.7h0.8v0.8h-0.8zM174.6 255.9h0.8v0.8h-0.8zM141.1 257.6h0.8v0.8h-0.8zM165.0 261.9h0.8v0.8h-0.8zM138.5 252.2h0.8v0.8h-0.8zM160.7 256.4h0.8v0.8h-0.8zM153.1 261.6h0.8v0.8h-0.8zM166.5 251.1h0.8v0.8h-0.8zM163.0 250.7h0.8v0.8h-0.8zM149.7 259.0h0.8v0.8h-0.8zM148.7 261.9h0.8v0.8h-0.8zM168.1 256.8h0.8v0.8h-0.8zM135.7 261.1h0.8v0.8h-0.8zM129.3 256.3h0.8v0.8h-0.8zM173.6 255.9h0.8v0.8h-0.8zM166.7 254.0h0.8v0.8h-0.8zM136.6 252.9h0.8v0.8h-0.8zM134.0 253.0h0.8v0.8h-0.8zM163.2 249.3h0.8v0.8h-0.8zM138.9 253.4h0.8v0.8h-0.8zM131.7 253.8h0.8v0.8h-0.8zM145.8 253.2h0.8v0.8h-0.8zM155.6 258.7h0.8v0.8h-0.8zM148.0 251.6h0.8v0.8h-0.8zM156.8 258.0h0.8v0.8h-0.8zM128.4 255.8h0.8v0.8h-0.8zM173.5 250.8h0.8v0.8h-0.8zM171.8 257.6h0.8v0.8h-0.8zM157.8 261.2h0.8v0.8h-0.8zM153.9 252.4h0.8v0.8h-0.8zM132.0 252.7h0.8v0.8h-0.8zM139.4 254.7h0.8v0.8h-0.8zM165.4 255.2h0.8v0.8h-0.8zM171.3 255.9h0.8v0.8h-0.8zM168.1 253.1h0.8v0.8h-0.8zM159.1 254.3h0.8v0.8h-0.8zM145.0 251.6h0.8v0.8h-0.8zM162.0 254.4h0.8v0.8h-0.8zM145.0 255.6h0.8v0.8h-0.8zM136.8 258.5h0.8v0.8h-0.8zM139.5 250.5h0.8v0.8h-0.8zM135.6 261.2h0.8v0.8h-0.8zM141.3 258.4h0.8v0.8h-0.8zM143.4 249.5h0.8v0.8h-0.8zM176.4 252.9h0.8v0.8h-0.8zM158.1 258.5h0.8v0.8h-0.8zM176.9 252.5h0.8v0.8h-0.8zM135.7 257.8h0.8v0.8h-0.8zM165.3 248.8h0.8v0.8h-0.8zM134.3 257.9h0.8v0.8h-0.8zM153.4 254.7h0.8v0.8h-0.8zM149.6 253.1h0.8v0.8h-0.8zM129.0 255.5h0.8v0.8h-0.8zM140.8 252.0h0.8v0.8h-0.8zM171.3 259.2h0.8v0.8h-0.8zM128.3 255.7h0.8v0.8h-0.8zM149.7 257.8h0.8v0.8h-0.8zM151.1 259.5h0.8v0.8h-0.8zM163.4 253.5h0.8v0.8h-0.8zM142.1 254.4h0.8v0.8h-0.8zM154.1 258.8h0.8v0.8h-0.8zM159.4 251.9h0.8v0.8h-0.8zM150.4 257.0h0.8v0.8h-0.8zM138.4 261.1h0.8v0.8h-0.8zM158.0 252.3h0.8v0.8h-0.8zM152.8 250.9h0.8v0.8h-0.8zM168.6 254.5h0.8v0.8h-0.8zM125.5 256.3h0.8v0.8h-0.8zM146.7 259.4h0.8v0.8h-0.8zM163.5 257.0h0.8v0.8h-0.8zM136.0 254.2h0.8v0.8h-0.8zM173.8 252.1h0.8v0.8h-0.8zM172.3 253.2h0.8v0.8h-0.8zM147.2 263.3h0.8v0.8h-0.8zM165.2 261.2h0.8v0.8h-0.8zM176.9 251.2h0.8v0.8h-0.8zM148.7 255.7h0.8v0.8h-0.8zM159.2 257.2h0.8v0.8h-0.8zM167.9 255.5h0.8v0.8h-0.8zM150.6 252.9h0.8v0.8h-0.8zM141.6 257.2h0.8v0.8h-0.8zM141.9 257.9h0.8v0.8h-0.8zM160.0 252.0h0.8v0.8h-0.8zM132.8 257.7h0.8v0.8h-0.8zM172.7 251.4h0.8v0.8h-0.8zM152.6 261.7h0.8v0.8h-0.8zM142.2 257.4h0.8v0.8h-0.8zM155.6 256.9h0.8v0.8h-0.8zM149.8 258.4h0.8v0.8h-0.8zM147.1 254.8h0.8v0.8h-0.8zM177.7 255.7h0.8v0.8h-0.8zM138.9 250.4h0.8v0.8h-0.8zM142.6 253.5h0.8v0.8h-0.8zM146.0 250.9h0.8v0.8h-0.8zM159.2 257.0h0.8v0.8h-0.8zM153.9 257.4h0.8v0.8h-0.8zM167.0 259.7h0.8v0.8h-0.8z" fill="#7898d0" opacity="0.8"/><path d="M149.0 261.9h0.8v0.8h-0.8zM138.8 259.3h0.8v0.8h-0.8zM168.4 261.0h0.8v0.8h-0.8zM160.1 256.3h0.8v0.8h-0.8zM157.7 262.0h0.8v0.8h-0.8zM160.5 250.5h0.8v0.8h-0.8zM169.4 255.7h0.8v0.8h-0.8zM137.6 258.0h0.8v0.8h-0.8zM154.8 255.0h0.8v0.8h-0.8zM160.4 252.3h0.8v0.8h-0.8zM172.1 257.2h0.8v0.8h-0.8zM128.1 260.0h0.8v0.8h-0.8zM150.5 249.3h0.8v0.8h-0.8zM159.1 252.6h0.8v0.8h-0.8zM174.6 252.1h0.8v0.8h-0.8zM157.7 261.0h0.8v0.8h-0.8zM164.8 254.5h0.8v0.8h-0.8zM138.1 254.7h0.8v0.8h-0.8zM149.6 261.7h0.8v0.8h-0.8zM151.2 253.0h0.8v0.8h-0.8zM163.2 255.2h0.8v0.8h-0.8zM127.4 257.9h0.8v0.8h-0.8zM134.9 256.6h0.8v0.8h-0.8zM131.6 258.1h0.8v0.8h-0.8zM141.5 256.2h0.8v0.8h-0.8zM177.8 257.1h0.8v0.8h-0.8zM164.2 261.9h0.8v0.8h-0.8zM156.1 250.6h0.8v0.8h-0.8zM162.8 252.7h0.8v0.8h-0.8zM129.3 252.7h0.8v0.8h-0.8zM168.0 249.5h0.8v0.8h-0.8zM157.0 254.7h0.8v0.8h-0.8zM143.4 253.3h0.8v0.8h-0.8zM157.8 260.9h0.8v0.8h-0.8zM153.4 249.6h0.8v0.8h-0.8zM173.6 251.1h0.8v0.8h-0.8zM139.6 258.3h0.8v0.8h-0.8zM144.9 252.4h0.8v0.8h-0.8zM156.9 259.6h0.8v0.8h-0.8zM143.2 257.1h0.8v0.8h-0.8zM132.8 255.5h0.8v0.8h-0.8zM163.7 261.0h0.8v0.8h-0.8zM128.2 252.5h0.8v0.8h-0.8zM141.1 250.6h0.8v0.8h-0.8zM144.5 257.6h0.8v0.8h-0.8zM127.9 250.1h0.8v0.8h-0.8zM157.9 249.9h0.8v0.8h-0.8zM137.2 258.8h0.8v0.8h-0.8zM135.2 255.4h0.8v0.8h-0.8zM137.3 255.0h0.8v0.8h-0.8zM170.7 249.8h0.8v0.8h-0.8zM161.4 254.1h0.8v0.8h-0.8zM129.4 257.3h0.8v0.8h-0.8zM140.6 261.6h0.8v0.8h-0.8zM144.4 255.5h0.8v0.8h-0.8zM148.6 262.7h0.8v0.8h-0.8zM169.2 249.7h0.8v0.8h-0.8zM160.6 259.9h0.8v0.8h-0.8zM176.5 251.2h0.8v0.8h-0.8zM166.8 257.8h0.8v0.8h-0.8zM140.2 258.8h0.8v0.8h-0.8zM168.0 252.5h0.8v0.8h-0.8zM142.8 261.3h0.8v0.8h-0.8zM175.3 258.3h0.8v0.8h-0.8zM141.8 254.0h0.8v0.8h-0.8zM135.6 256.1h0.8v0.8h-0.8zM150.9 255.9h0.8v0.8h-0.8zM125.1 258.6h0.8v0.8h-0.8zM154.0 251.5h0.8v0.8h-0.8zM154.1 255.9h0.8v0.8h-0.8zM160.1 261.6h0.8v0.8h-0.8zM154.1 261.2h0.8v0.8h-0.8zM161.5 256.0h0.8v0.8h-0.8zM178.1 253.2h0.8v0.8h-0.8zM125.7 252.9h0.8v0.8h-0.8zM153.7 261.5h0.8v0.8h-0.8zM162.0 259.4h0.8v0.8h-0.8zM164.5 251.5h0.8v0.8h-0.8zM173.4 251.8h0.8v0.8h-0.8zM173.8 252.6h0.8v0.8h-0.8zM143.1 260.8h0.8v0.8h-0.8zM125.6 251.1h0.8v0.8h-0.8zM148.3 260.4h0.8v0.8h-0.8zM139.9 260.9h0.8v0.8h-0.8zM166.7 255.4h0.8v0.8h-0.8zM166.1 256.0h0.8v0.8h-0.8zM127.4 253.7h0.8v0.8h-0.8zM157.4 257.3h0.8v0.8h-0.8zM153.0 261.4h0.8v0.8h-0.8zM147.1 252.0h0.8v0.8h-0.8zM132.4 256.4h0.8v0.8h-0.8zM172.6 259.2h0.8v0.8h-0.8zM157.8 255.5h0.8v0.8h-0.8zM135.6 259.2h0.8v0.8h-0.8zM154.6 261.5h0.8v0.8h-0.8zM132.1 260.3h0.8v0.8h-0.8zM160.6 258.8h0.8v0.8h-0.8zM138.0 250.6h0.8v0.8h-0.8zM134.3 254.2h0.8v0.8h-0.8zM139.9 256.5h0.8v0.8h-0.8zM131.8 257.6h0.8v0.8h-0.8zM126.0 257.2h0.8v0.8h-0.8zM162.8 255.2h0.8v0.8h-0.8zM171.1 258.9h0.8v0.8h-0.8zM163.5 256.6h0.8v0.8h-0.8zM156.7 249.4h0.8v0.8h-0.8zM130.9 256.9h0.8v0.8h-0.8zM121.2 253.3h0.8v0.8h-0.8zM135.1 255.3h0.8v0.8h-0.8zM125.7 255.3h0.8v0.8h-0.8zM130.5 257.3h0.8v0.8h-0.8zM143.5 254.0h0.8v0.8h-0.8zM124.9 255.5h0.8v0.8h-0.8zM160.8 257.8h0.8v0.8h-0.8zM173.9 251.5h0.8v0.8h-0.8zM139.7 260.0h0.8v0.8h-0.8zM139.0 261.9h0.8v0.8h-0.8zM132.9 255.6h0.8v0.8h-0.8zM153.6 255.2h0.8v0.8h-0.8zM153.7 260.6h0.8v0.8h-0.8zM169.2 255.3h0.8v0.8h-0.8zM147.4 252.9h0.8v0.8h-0.8zM156.9 249.3h0.8v0.8h-0.8zM140.3 255.2h0.8v0.8h-0.8zM151.7 256.5h0.8v0.8h-0.8zM160.1 253.4h0.8v0.8h-0.8zM158.5 251.3h0.8v0.8h-0.8zM167.9 255.7h0.8v0.8h-0.8zM135.4 249.9h0.8v0.8h-0.8zM138.5 249.6h0.8v0.8h-0.8zM133.2 252.3h0.8v0.8h-0.8zM123.6 256.0h0.8v0.8h-0.8zM177.5 256.8h0.8v0.8h-0.8zM159.2 251.8h0.8v0.8h-0.8zM179.2 257.7h0.8v0.8h-0.8zM143.5 252.2h0.8v0.8h-0.8zM124.8 252.3h0.8v0.8h-0.8zM132.1 256.0h0.8v0.8h-0.8zM177.2 256.9h0.8v0.8h-0.8zM139.1 262.1h0.8v0.8h-0.8zM151.1 249.7h0.8v0.8h-0.8zM169.8 250.9h0.8v0.8h-0.8zM143.8 262.5h0.8v0.8h-0.8zM148.1 255.5h0.8v0.8h-0.8zM123.6 256.3h0.8v0.8h-0.8zM133.4 251.3h0.8v0.8h-0.8zM131.8 260.1h0.8v0.8h-0.8zM139.9 260.7h0.8v0.8h-0.8zM159.4 257.8h0.8v0.8h-0.8zM165.5 260.8h0.8v0.8h-0.8zM139.3 254.3h0.8v0.8h-0.8zM146.2 260.0h0.8v0.8h-0.8zM169.3 248.8h0.8v0.8h-0.8z" fill="#5880c0" opacity="0.8"/><path d="M174.4 256.3h0.8v0.8h-0.8zM166.6 251.1h0.8v0.8h-0.8zM163.0 256.3h0.8v0.8h-0.8zM172.5 258.2h0.8v0.8h-0.8zM135.8 262.8h0.8v0.8h-0.8zM138.9 258.1h0.8v0.8h-0.8zM153.2 251.5h0.8v0.8h-0.8zM158.6 255.3h0.8v0.8h-0.8zM166.1 258.4h0.8v0.8h-0.8zM128.1 251.8h0.8v0.8h-0.8zM147.0 262.2h0.8v0.8h-0.8zM136.1 256.7h0.8v0.8h-0.8zM158.5 252.5h0.8v0.8h-0.8zM154.8 250.4h0.8v0.8h-0.8zM172.3 251.3h0.8v0.8h-0.8zM143.1 253.6h0.8v0.8h-0.8zM139.6 254.8h0.8v0.8h-0.8zM162.3 253.8h0.8v0.8h-0.8zM164.3 257.9h0.8v0.8h-0.8zM144.2 259.7h0.8v0.8h-0.8zM141.7 257.4h0.8v0.8h-0.8zM149.7 255.6h0.8v0.8h-0.8zM178.1 251.7h0.8v0.8h-0.8zM139.8 256.8h0.8v0.8h-0.8zM134.7 260.1h0.8v0.8h-0.8zM143.9 253.2h0.8v0.8h-0.8zM141.1 260.5h0.8v0.8h-0.8zM181.9 253.3h0.8v0.8h-0.8zM143.3 255.8h0.8v0.8h-0.8zM138.3 251.5h0.8v0.8h-0.8zM131.6 251.7h0.8v0.8h-0.8zM166.4 255.3h0.8v0.8h-0.8zM144.1 258.2h0.8v0.8h-0.8zM129.3 256.8h0.8v0.8h-0.8zM135.0 257.3h0.8v0.8h-0.8zM160.6 259.7h0.8v0.8h-0.8zM141.8 251.8h0.8v0.8h-0.8zM135.7 254.1h0.8v0.8h-0.8zM130.9 260.0h0.8v0.8h-0.8zM132.0 254.9h0.8v0.8h-0.8zM165.9 253.6h0.8v0.8h-0.8zM156.1 259.6h0.8v0.8h-0.8zM172.6 252.0h0.8v0.8h-0.8zM179.5 254.4h0.8v0.8h-0.8zM171.4 254.4h0.8v0.8h-0.8zM130.3 260.5h0.8v0.8h-0.8zM152.2 250.9h0.8v0.8h-0.8zM157.3 251.0h0.8v0.8h-0.8zM143.4 254.8h0.8v0.8h-0.8zM146.3 255.5h0.8v0.8h-0.8zM159.1 248.7h0.8v0.8h-0.8zM149.7 258.6h0.8v0.8h-0.8zM179.3 256.2h0.8v0.8h-0.8zM136.1 256.8h0.8v0.8h-0.8zM149.7 256.4h0.8v0.8h-0.8zM164.7 256.2h0.8v0.8h-0.8zM154.5 260.8h0.8v0.8h-0.8zM171.3 250.4h0.8v0.8h-0.8zM149.8 255.0h0.8v0.8h-0.8zM139.8 250.0h0.8v0.8h-0.8zM161.0 261.2h0.8v0.8h-0.8zM130.5 260.1h0.8v0.8h-0.8zM134.7 256.0h0.8v0.8h-0.8zM136.4 254.9h0.8v0.8h-0.8zM160.4 253.6h0.8v0.8h-0.8zM153.2 251.5h0.8v0.8h-0.8zM138.9 255.9h0.8v0.8h-0.8zM134.8 259.8h0.8v0.8h-0.8zM133.7 260.8h0.8v0.8h-0.8zM163.7 257.2h0.8v0.8h-0.8zM130.5 254.2h0.8v0.8h-0.8zM131.9 258.9h0.8v0.8h-0.8zM135.6 259.1h0.8v0.8h-0.8zM131.8 256.6h0.8v0.8h-0.8zM147.7 258.5h0.8v0.8h-0.8zM140.2 259.6h0.8v0.8h-0.8zM132.6 257.2h0.8v0.8h-0.8zM136.6 255.3h0.8v0.8h-0.8zM165.7 255.1h0.8v0.8h-0.8zM149.8 253.6h0.8v0.8h-0.8zM155.0 249.7h0.8v0.8h-0.8zM140.2 250.2h0.8v0.8h-0.8zM144.8 256.7h0.8v0.8h-0.8zM160.7 249.8h0.8v0.8h-0.8zM151.1 256.0h0.8v0.8h-0.8zM178.0 254.9h0.8v0.8h-0.8zM168.1 254.1h0.8v0.8h-0.8zM156.1 258.1h0.8v0.8h-0.8zM122.5 254.2h0.8v0.8h-0.8zM147.1 259.8h0.8v0.8h-0.8zM168.5 250.0h0.8v0.8h-0.8zM170.1 253.3h0.8v0.8h-0.8zM129.2 259.7h0.8v0.8h-0.8zM165.4 258.5h0.8v0.8h-0.8zM178.5 252.8h0.8v0.8h-0.8zM167.1 252.0h0.8v0.8h-0.8zM165.1 258.4h0.8v0.8h-0.8zM177.6 257.4h0.8v0.8h-0.8zM123.5 250.1h0.8v0.8h-0.8zM166.1 254.3h0.8v0.8h-0.8zM169.1 255.4h0.8v0.8h-0.8zM135.8 260.9h0.8v0.8h-0.8zM177.0 258.7h0.8v0.8h-0.8zM153.5 253.8h0.8v0.8h-0.8zM141.8 251.3h0.8v0.8h-0.8zM133.7 250.2h0.8v0.8h-0.8zM153.4 259.3h0.8v0.8h-0.8zM136.3 258.9h0.8v0.8h-0.8zM144.8 253.3h0.8v0.8h-0.8zM168.4 259.1h0.8v0.8h-0.8zM156.6 258.2h0.8v0.8h-0.8zM170.0 254.3h0.8v0.8h-0.8zM154.0 251.3h0.8v0.8h-0.8zM158.5 255.0h0.8v0.8h-0.8zM166.0 248.8h0.8v0.8h-0.8zM148.6 251.6h0.8v0.8h-0.8zM127.6 253.8h0.8v0.8h-0.8zM157.7 253.3h0.8v0.8h-0.8zM170.6 259.3h0.8v0.8h-0.8zM156.1 258.9h0.8v0.8h-0.8zM136.3 261.8h0.8v0.8h-0.8zM140.4 250.0h0.8v0.8h-0.8zM166.5 253.4h0.8v0.8h-0.8zM135.8 252.8h0.8v0.8h-0.8zM146.6 251.1h0.8v0.8h-0.8zM154.4 263.0h0.8v0.8h-0.8zM124.3 254.8h0.8v0.8h-0.8zM176.9 254.7h0.8v0.8h-0.8zM124.6 253.9h0.8v0.8h-0.8zM164.3 259.3h0.8v0.8h-0.8zM155.0 256.8h0.8v0.8h-0.8zM171.0 251.8h0.8v0.8h-0.8zM168.0 257.0h0.8v0.8h-0.8zM164.4 253.6h0.8v0.8h-0.8zM159.1 251.1h0.8v0.8h-0.8zM148.9 250.7h0.8v0.8h-0.8zM177.9 251.9h0.8v0.8h-0.8zM167.4 251.9h0.8v0.8h-0.8zM139.9 251.3h0.8v0.8h-0.8zM179.9 253.1h0.8v0.8h-0.8zM172.6 255.1h0.8v0.8h-0.8zM165.8 252.4h0.8v0.8h-0.8zM137.3 254.0h0.8v0.8h-0.8zM138.2 250.8h0.8v0.8h-0.8zM132.3 257.7h0.8v0.8h-0.8zM129.9 252.2h0.8v0.8h-0.8zM140.5 260.2h0.8v0.8h-0.8zM123.9 252.3h0.8v0.8h-0.8zM174.2 257.4h0.8v0.8h-0.8zM132.5 255.6h0.8v0.8h-0.8zM147.7 258.1h0.8v0.8h-0.8zM130.1 258.5h0.8v0.8h-0.8zM153.2 251.8h0.8v0.8h-0.8zM152.0 250.5h0.8v0.8h-0.8zM127.6 253.7h0.8v0.8h-0.8zM158.0 251.4h0.8v0.8h-0.8zM150.9 251.9h0.8v0.8h-0.8zM158.8 254.0h0.8v0.8h-0.8zM159.7 259.6h0.8v0.8h-0.8zM158.1 256.0h0.8v0.8h-0.8zM153.3 260.6h0.8v0.8h-0.8zM130.2 258.6h0.8v0.8h-0.8zM168.1 258.3h0.8v0.8h-0.8zM145.1 254.1h0.8v0.8h-0.8zM128.9 256.8h0.8v0.8h-0.8zM154.3 260.5h0.8v0.8h-0.8z" fill="#6890c8" opacity="0.8"/><path d="M168.6 252.0h0.8v0.8h-0.8zM166.5 259.0h0.8v0.8h-0.8zM148.3 255.5h0.8v0.8h-0.8zM165.7 261.6h0.8v0.8h-0.8zM144.7 257.1h0.8v0.8h-0.8zM162.9 254.4h0.8v0.8h-0.8zM153.5 259.9h0.8v0.8h-0.8zM173.9 253.6h0.8v0.8h-0.8zM144.5 249.8h0.8v0.8h-0.8zM172.7 255.2h0.8v0.8h-0.8zM168.9 257.6h0.8v0.8h-0.8zM172.1 256.4h0.8v0.8h-0.8zM156.8 259.2h0.8v0.8h-0.8zM124.3 257.6h0.8v0.8h-0.8zM128.7 259.9h0.8v0.8h-0.8zM133.1 259.8h0.8v0.8h-0.8zM136.3 253.9h0.8v0.8h-0.8zM141.4 259.1h0.8v0.8h-0.8zM142.6 249.8h0.8v0.8h-0.8zM152.7 258.2h0.8v0.8h-0.8zM173.3 251.0h0.8v0.8h-0.8zM137.3 261.4h0.8v0.8h-0.8zM131.0 257.4h0.8v0.8h-0.8zM153.5 258.7h0.8v0.8h-0.8zM156.2 254.3h0.8v0.8h-0.8zM148.5 256.1h0.8v0.8h-0.8zM145.5 261.8h0.8v0.8h-0.8zM141.4 249.6h0.8v0.8h-0.8zM125.0 255.5h0.8v0.8h-0.8zM157.1 251.8h0.8v0.8h-0.8zM140.5 252.8h0.8v0.8h-0.8zM173.8 253.8h0.8v0.8h-0.8zM164.5 260.0h0.8v0.8h-0.8zM148.0 261.6h0.8v0.8h-0.8zM148.2 258.8h0.8v0.8h-0.8zM176.7 252.0h0.8v0.8h-0.8zM154.8 263.0h0.8v0.8h-0.8zM138.8 253.1h0.8v0.8h-0.8zM160.1 253.2h0.8v0.8h-0.8zM127.3 257.2h0.8v0.8h-0.8zM173.6 255.1h0.8v0.8h-0.8zM152.6 255.6h0.8v0.8h-0.8zM158.7 261.2h0.8v0.8h-0.8zM157.2 252.9h0.8v0.8h-0.8zM151.5 255.2h0.8v0.8h-0.8zM125.0 258.9h0.8v0.8h-0.8zM158.6 259.5h0.8v0.8h-0.8zM146.2 262.0h0.8v0.8h-0.8zM144.5 261.1h0.8v0.8h-0.8zM176.3 251.9h0.8v0.8h-0.8zM136.0 257.1h0.8v0.8h-0.8zM158.1 256.5h0.8v0.8h-0.8zM144.3 257.3h0.8v0.8h-0.8zM154.3 256.3h0.8v0.8h-0.8zM139.7 259.5h0.8v0.8h-0.8zM133.9 260.6h0.8v0.8h-0.8zM149.1 253.6h0.8v0.8h-0.8zM172.4 251.1h0.8v0.8h-0.8zM140.0 261.3h0.8v0.8h-0.8zM171.2 251.6h0.8v0.8h-0.8zM152.8 252.1h0.8v0.8h-0.8zM157.2 252.1h0.8v0.8h-0.8zM135.8 251.9h0.8v0.8h-0.8zM161.8 260.4h0.8v0.8h-0.8zM137.2 249.7h0.8v0.8h-0.8zM133.8 249.5h0.8v0.8h-0.8zM177.7 257.2h0.8v0.8h-0.8zM147.4 255.0h0.8v0.8h-0.8zM125.1 258.4h0.8v0.8h-0.8zM127.2 255.0h0.8v0.8h-0.8zM168.4 250.9h0.8v0.8h-0.8zM146.0 252.5h0.8v0.8h-0.8zM136.0 260.8h0.8v0.8h-0.8zM135.4 256.5h0.8v0.8h-0.8zM138.1 253.1h0.8v0.8h-0.8zM161.2 263.1h0.8v0.8h-0.8zM153.2 250.3h0.8v0.8h-0.8zM173.4 250.7h0.8v0.8h-0.8zM136.1 251.3h0.8v0.8h-0.8zM151.4 261.7h0.8v0.8h-0.8zM135.8 254.1h0.8v0.8h-0.8zM155.4 248.9h0.8v0.8h-0.8zM172.0 252.4h0.8v0.8h-0.8zM165.3 259.8h0.8v0.8h-0.8zM167.5 260.1h0.8v0.8h-0.8zM147.8 250.1h0.8v0.8h-0.8zM132.8 261.7h0.8v0.8h-0.8zM169.1 253.4h0.8v0.8h-0.8zM161.8 251.6h0.8v0.8h-0.8zM174.2 250.9h0.8v0.8h-0.8zM137.4 258.3h0.8v0.8h-0.8zM149.5 261.0h0.8v0.8h-0.8zM154.4 253.7h0.8v0.8h-0.8zM161.8 251.8h0.8v0.8h-0.8zM147.1 251.8h0.8v0.8h-0.8zM172.1 258.7h0.8v0.8h-0.8zM129.2 257.1h0.8v0.8h-0.8zM159.4 260.6h0.8v0.8h-0.8zM143.8 254.8h0.8v0.8h-0.8zM140.5 248.8h0.8v0.8h-0.8zM141.0 256.6h0.8v0.8h-0.8zM149.6 249.3h0.8v0.8h-0.8zM137.4 251.0h0.8v0.8h-0.8zM174.7 257.1h0.8v0.8h-0.8zM168.0 260.0h0.8v0.8h-0.8zM131.5 258.2h0.8v0.8h-0.8zM151.8 254.9h0.8v0.8h-0.8zM125.3 258.6h0.8v0.8h-0.8zM151.4 260.0h0.8v0.8h-0.8zM138.9 250.7h0.8v0.8h-0.8zM158.7 252.3h0.8v0.8h-0.8zM146.2 256.8h0.8v0.8h-0.8zM127.0 255.8h0.8v0.8h-0.8zM129.5 258.8h0.8v0.8h-0.8zM176.3 256.0h0.8v0.8h-0.8zM144.0 254.7h0.8v0.8h-0.8zM166.2 256.9h0.8v0.8h-0.8zM154.9 253.8h0.8v0.8h-0.8zM178.0 253.5h0.8v0.8h-0.8zM159.4 255.3h0.8v0.8h-0.8zM149.5 258.0h0.8v0.8h-0.8zM131.3 253.5h0.8v0.8h-0.8zM155.7 251.4h0.8v0.8h-0.8zM135.4 258.7h0.8v0.8h-0.8zM149.8 255.8h0.8v0.8h-0.8zM145.8 257.2h0.8v0.8h-0.8zM150.7 259.5h0.8v0.8h-0.8zM176.2 258.5h0.8v0.8h-0.8zM143.8 248.0h0.8v0.8h-0.8zM151.8 261.8h0.8v0.8h-0.8zM147.1 259.4h0.8v0.8h-0.8zM145.8 261.9h0.8v0.8h-0.8zM147.4 260.6h0.8v0.8h-0.8zM142.5 263.0h0.8v0.8h-0.8zM161.3 251.0h0.8v0.8h-0.8zM152.2 261.0h0.8v0.8h-0.8zM160.0 257.8h0.8v0.8h-0.8zM131.1 253.7h0.8v0.8h-0.8z" fill="#98b0d8" opacity="0.8"/>
<ellipse cx="155" cy="254" rx="10" ry="4" fill="#50b078" opacity="0.85" filter="url(#b12)"/>
<ellipse cx="156.5" cy="253.8" rx="5.5" ry="2.4" fill="#d0d838" opacity="0.95" filter="url(#b8)"/>
<path d="M168.7 302.9h0.8v0.8h-0.8zM133.0 304.2h0.8v0.8h-0.8zM138.1 278.1h0.8v0.8h-0.8zM163.9 283.0h0.8v0.8h-0.8zM161.1 260.2h0.8v0.8h-0.8zM166.1 299.2h0.8v0.8h-0.8zM129.7 246.5h0.8v0.8h-0.8zM163.7 275.6h0.8v0.8h-0.8zM168.4 301.9h0.8v0.8h-0.8zM154.8 279.6h0.8v0.8h-0.8zM181.4 271.3h0.8v0.8h-0.8zM143.6 293.2h0.8v0.8h-0.8zM155.0 294.6h0.8v0.8h-0.8zM125.5 273.2h0.8v0.8h-0.8zM142.4 281.6h0.8v0.8h-0.8zM137.5 283.9h0.8v0.8h-0.8zM143.9 290.1h0.8v0.8h-0.8zM176.2 283.1h0.8v0.8h-0.8zM130.6 287.4h0.8v0.8h-0.8zM149.6 285.0h0.8v0.8h-0.8zM164.6 297.6h0.8v0.8h-0.8zM160.7 292.6h0.8v0.8h-0.8zM148.2 287.1h0.8v0.8h-0.8zM153.8 289.3h0.8v0.8h-0.8zM184.3 263.8h0.8v0.8h-0.8zM177.4 273.0h0.8v0.8h-0.8zM156.1 275.4h0.8v0.8h-0.8zM147.1 271.8h0.8v0.8h-0.8zM156.7 275.3h0.8v0.8h-0.8zM133.3 293.9h0.8v0.8h-0.8zM142.2 260.0h0.8v0.8h-0.8zM160.3 260.8h0.8v0.8h-0.8zM177.1 276.8h0.8v0.8h-0.8zM141.0 300.5h0.8v0.8h-0.8zM157.0 278.2h0.8v0.8h-0.8zM165.3 300.5h0.8v0.8h-0.8zM163.8 289.0h0.8v0.8h-0.8zM130.4 270.5h0.8v0.8h-0.8zM190.1 281.3h0.8v0.8h-0.8zM161.5 279.7h0.8v0.8h-0.8zM170.8 273.6h0.8v0.8h-0.8zM134.2 264.5h0.8v0.8h-0.8zM158.5 274.4h0.8v0.8h-0.8zM159.4 291.2h0.8v0.8h-0.8zM162.5 290.8h0.8v0.8h-0.8zM165.8 292.1h0.8v0.8h-0.8zM178.3 288.2h0.8v0.8h-0.8zM187.8 293.0h0.8v0.8h-0.8zM154.9 271.1h0.8v0.8h-0.8zM159.5 308.9h0.8v0.8h-0.8zM165.3 301.8h0.8v0.8h-0.8zM165.8 277.1h0.8v0.8h-0.8zM128.1 279.3h0.8v0.8h-0.8zM185.5 285.0h0.8v0.8h-0.8z" fill="#b0b0d0" opacity="0.5"/>
<line x1="163.5" y1="240.6" x2="163.5" y2="310.3" stroke="#777" stroke-width="0.9"/>
<line x1="120.8" y1="269.2" x2="196" y2="269.2" stroke="#777" stroke-width="0.9"/>
<text x="11.5" y="17" font-size="11.5" text-anchor="start" font-weight="bold" stroke="#000" stroke-width="0.08" fill="#000">A</text>
<text x="104.6" y="15.8" font-size="10" text-anchor="middle" stroke="#111" stroke-width="0.22" fill="#111">Wild Type</text>
<text x="109.6" y="127" font-size="10" text-anchor="middle" stroke="#111" stroke-width="0.22" fill="#111">Heterozygous</text>
<text x="109.5" y="233.8" font-size="10" text-anchor="middle" stroke="#111" stroke-width="0.22" fill="#111">Homozygous</text>
<text x="20.5" y="49.7" font-size="7.6" text-anchor="middle" stroke="#111" stroke-width="0.22" fill="#111" transform="rotate(-90 20.5 49.7)">c-KIT</text>
<text x="66" y="95.5" font-size="7.6" text-anchor="middle" stroke="#111" stroke-width="0.22" fill="#111">Sca-1</text>
<text x="73" y="59.5" font-size="7.8" text-anchor="middle" stroke="#111" stroke-width="0.22" fill="#111">LSK</text>
<text x="73" y="68.7" font-size="7.6" text-anchor="middle" stroke="#111" stroke-width="0.22" fill="#111">6.85%</text>
<text x="116" y="49.5" font-size="7.6" text-anchor="middle" stroke="#111" stroke-width="0.22" fill="#111" transform="rotate(-90 116 49.5)">CD48</text>
<text x="158.8" y="96.3" font-size="7.6" text-anchor="middle" stroke="#111" stroke-width="0.22" fill="#111">CD150</text>
<text x="121.3" y="40.5" font-size="6.8" text-anchor="start" stroke="#111" stroke-width="0.22" fill="#111">MPP</text>
<text x="121.3" y="48.8" font-size="6.8" text-anchor="start" stroke="#111" stroke-width="0.22" fill="#111">71.4%</text>
<text x="121.3" y="79.5" font-size="6.8" text-anchor="start" stroke="#111" stroke-width="0.22" fill="#111">ST-HSC</text>
<text x="121.3" y="87.5" font-size="6.8" text-anchor="start" stroke="#111" stroke-width="0.22" fill="#111">7.5%</text>
<text x="171" y="80.1" font-size="6.8" text-anchor="start" stroke="#111" stroke-width="0.22" fill="#111">LT-HSC</text>
<text x="171" y="88.1" font-size="6.8" text-anchor="start" stroke="#111" stroke-width="0.22" fill="#111">3.73%</text>
<line x1="85.5" y1="80.5" x2="109.5" y2="80.5" stroke="#111" stroke-width="0.9"/>
<path d="M109.0,78.5 L112.5,80.5 L109.0,82.5 Z" fill="#111"/>
<text x="20.5" y="161.8" font-size="7.6" text-anchor="middle" stroke="#111" stroke-width="0.22" fill="#111" transform="rotate(-90 20.5 161.8)">c-KIT</text>
<text x="66" y="208.5" font-size="7.6" text-anchor="middle" stroke="#111" stroke-width="0.22" fill="#111">Sca-1</text>
<text x="72.8" y="172.7" font-size="7.8" text-anchor="middle" stroke="#111" stroke-width="0.22" fill="#111">LSK</text>
<text x="72.8" y="181.89999999999998" font-size="7.6" text-anchor="middle" stroke="#111" stroke-width="0.22" fill="#111">7.82%</text>
<text x="116" y="161.5" font-size="7.6" text-anchor="middle" stroke="#111" stroke-width="0.22" fill="#111" transform="rotate(-90 116 161.5)">CD48</text>
<text x="157.7" y="209" font-size="7.6" text-anchor="middle" stroke="#111" stroke-width="0.22" fill="#111">CD150</text>
<text x="123" y="152.3" font-size="6.8" text-anchor="start" stroke="#111" stroke-width="0.22" fill="#111">MPP</text>
<text x="123" y="160.60000000000002" font-size="6.8" text-anchor="start" stroke="#111" stroke-width="0.22" fill="#111">68.4%</text>
<text x="123" y="191.5" font-size="6.8" text-anchor="start" stroke="#111" stroke-width="0.22" fill="#111">ST-HSC</text>
<text x="123" y="199.5" font-size="6.8" text-anchor="start" stroke="#111" stroke-width="0.22" fill="#111">3.5%</text>
<text x="170.2" y="191.5" font-size="6.8" text-anchor="start" stroke="#111" stroke-width="0.22" fill="#111">LT-HSC</text>
<text x="170.2" y="199.5" font-size="6.8" text-anchor="start" stroke="#111" stroke-width="0.22" fill="#111">3.94%</text>
<line x1="85.5" y1="195.5" x2="110" y2="195.5" stroke="#111" stroke-width="0.9"/>
<path d="M109.5,193.5 L113,195.5 L109.5,197.5 Z" fill="#111"/>
<text x="20.5" y="271.2" font-size="7.6" text-anchor="middle" stroke="#111" stroke-width="0.22" fill="#111" transform="rotate(-90 20.5 271.2)">c-KIT</text>
<text x="65.9" y="318.5" font-size="7.6" text-anchor="middle" stroke="#111" stroke-width="0.22" fill="#111">Sca-1</text>
<text x="73.6" y="280" font-size="7.8" text-anchor="middle" stroke="#111" stroke-width="0.22" fill="#111">LSK</text>
<text x="73.6" y="289.2" font-size="7.6" text-anchor="middle" stroke="#111" stroke-width="0.22" fill="#111">17.4%</text>
<text x="116.3" y="272.5" font-size="7.6" text-anchor="middle" stroke="#111" stroke-width="0.22" fill="#111" transform="rotate(-90 116.3 272.5)">CD48</text>
<text x="157.7" y="317.8" font-size="7.6" text-anchor="middle" stroke="#111" stroke-width="0.22" fill="#111">CD150</text>
<text x="123" y="260.3" font-size="6.8" text-anchor="start" stroke="#111" stroke-width="0.22" fill="#111">MPP</text>
<text x="123" y="268.6" font-size="6.8" text-anchor="start" stroke="#111" stroke-width="0.22" fill="#111">75.8%</text>
<text x="123" y="300.4" font-size="6.8" text-anchor="start" stroke="#111" stroke-width="0.22" fill="#111">ST-HSC</text>
<text x="123" y="308.4" font-size="6.8" text-anchor="start" stroke="#111" stroke-width="0.22" fill="#111">0.08%</text>
<text x="170.8" y="300.0" font-size="6.8" text-anchor="start" stroke="#111" stroke-width="0.22" fill="#111">LT-HSC</text>
<text x="170.8" y="308.0" font-size="6.8" text-anchor="start" stroke="#111" stroke-width="0.22" fill="#111">0.224%</text>
<line x1="84.8" y1="305.4" x2="108.5" y2="305.4" stroke="#111" stroke-width="0.9"/>
<path d="M108.0,303.4 L111.5,305.4 L108.0,307.4 Z" fill="#111"/>
<text x="216.4" y="17.2" font-size="12.3" text-anchor="start" font-weight="bold" stroke="#000" stroke-width="0.08" fill="#000">B</text>
<text x="312.6" y="24.4" font-size="8.95" text-anchor="middle" font-weight="bold" stroke="#000" stroke-width="0.08" fill="#000">Lin -ve Sca-1<tspan font-size="6" dy="-3">+</tspan><tspan dy="3"> C-Kit</tspan><tspan font-size="6" dy="-3">+</tspan></text>
<text x="312" y="34.6" font-size="8.8" text-anchor="middle" font-weight="bold" stroke="#000" stroke-width="0.08" fill="#000">(LSK)</text>
<line x1="269" y1="33.3" x2="269" y2="114.5" stroke="#333" stroke-width="1.45"/>
<line x1="268.3" y1="113.8" x2="356" y2="113.8" stroke="#333" stroke-width="1.45"/>
<line x1="265.8" y1="36.5" x2="269" y2="36.5" stroke="#333" stroke-width="1"/>
<text x="262.5" y="39.4" font-size="8.3" text-anchor="end" stroke="#111" stroke-width="0.22" fill="#111">80000</text>
<line x1="265.8" y1="55.8" x2="269" y2="55.8" stroke="#333" stroke-width="1"/>
<text x="262.5" y="58.699999999999996" font-size="8.3" text-anchor="end" stroke="#111" stroke-width="0.22" fill="#111">60000</text>
<line x1="265.8" y1="75.1" x2="269" y2="75.1" stroke="#333" stroke-width="1"/>
<text x="262.5" y="78.0" font-size="8.3" text-anchor="end" stroke="#111" stroke-width="0.22" fill="#111">40000</text>
<line x1="265.8" y1="94.3" x2="269" y2="94.3" stroke="#333" stroke-width="1"/>
<text x="262.5" y="97.2" font-size="8.3" text-anchor="end" stroke="#111" stroke-width="0.22" fill="#111">20000</text>
<line x1="265.8" y1="113.8" x2="269" y2="113.8" stroke="#333" stroke-width="1"/>
<text x="262.5" y="116.7" font-size="8.3" text-anchor="end" stroke="#111" stroke-width="0.22" fill="#111">0</text>
<text x="221.5" y="75.3" font-size="8.8" text-anchor="middle" stroke="#111" stroke-width="0.22" fill="#111" transform="rotate(-90 221.5 75.3)">Absolute numbers</text>
<text x="234" y="75.3" font-size="8.8" text-anchor="middle" stroke="#111" stroke-width="0.22" fill="#111" transform="rotate(-90 234 75.3)">(per femur)</text>
<line x1="283.6" y1="113.8" x2="283.6" y2="116.39999999999999" stroke="#333" stroke-width="1"/>
<text x="283.8" y="127.0" font-size="8.8" text-anchor="middle" stroke="#111" stroke-width="0.22" fill="#111">WT</text>
<line x1="312.4" y1="113.8" x2="312.4" y2="116.39999999999999" stroke="#333" stroke-width="1"/>
<text x="309.8" y="127.0" font-size="8.8" text-anchor="middle" stroke="#111" stroke-width="0.22" fill="#111">Het</text>
<line x1="341" y1="113.8" x2="341" y2="116.39999999999999" stroke="#333" stroke-width="1"/>
<text x="338.6" y="127.0" font-size="8.8" text-anchor="middle" stroke="#111" stroke-width="0.22" fill="#111">Hom</text>
<path d="M276.3,106.63000000000001 L278.255,110.08 L274.345,110.08 Z" fill="#1f3470"/>
<path d="M280.5,108.13000000000001 L282.455,111.58 L278.545,111.58 Z" fill="#1f3470"/>
<path d="M285,106.43 L286.955,109.88 L283.045,109.88 Z" fill="#1f3470"/>
<path d="M287.5,108.53 L289.455,111.97999999999999 L285.545,111.97999999999999 Z" fill="#1f3470"/>
<path d="M290.5,106.63000000000001 L292.455,110.08 L288.545,110.08 Z" fill="#1f3470"/>
<path d="M283,109.13000000000001 L284.955,112.58 L281.045,112.58 Z" fill="#1f3470"/>
<line x1="274.5" y1="109.3" x2="293.5" y2="109.3" stroke="#2e4a8c" stroke-width="1.3"/>
<line x1="279.0" y1="107.5" x2="289.0" y2="107.5" stroke="#2e4a8c" stroke-width="1.3"/>
<line x1="279.0" y1="111" x2="289.0" y2="111" stroke="#2e4a8c" stroke-width="1.3"/>
<line x1="284" y1="111" x2="284" y2="107.5" stroke="#2e4a8c" stroke-width="1.3"/>
<rect x="307.15000000000003" y="108.75" width="2.9" height="2.9" fill="#6cb83c" stroke="none" stroke-width="1"/>
<rect x="309.95" y="108.85" width="2.9" height="2.9" fill="#6cb83c" stroke="none" stroke-width="1"/>
<rect x="312.75" y="108.75" width="2.9" height="2.9" fill="#6cb83c" stroke="none" stroke-width="1"/>
<rect x="315.15000000000003" y="108.85" width="2.9" height="2.9" fill="#6cb83c" stroke="none" stroke-width="1"/>
<line x1="302.0" y1="110.4" x2="322.0" y2="110.4" stroke="#8cb858" stroke-width="1.2"/>
<line x1="307.0" y1="109.6" x2="317.0" y2="109.6" stroke="#8cb858" stroke-width="1.2"/>
<line x1="307.0" y1="111.2" x2="317.0" y2="111.2" stroke="#8cb858" stroke-width="1.2"/>
<line x1="312" y1="111.2" x2="312" y2="109.6" stroke="#8cb858" stroke-width="1.2"/>
<path d="M341.5,42.8 L344.05,47.3 L338.95,47.3 Z" fill="#a80f38"/>
<path d="M341.5,55.3 L344.05,59.8 L338.95,59.8 Z" fill="#a80f38"/>
<path d="M341.5,70.3 L344.05,74.8 L338.95,74.8 Z" fill="#a80f38"/>
<path d="M341.5,78.8 L344.05,83.3 L338.95,83.3 Z" fill="#a80f38"/>
<path d="M341.5,92.6 L344.05,97.1 L338.95,97.1 Z" fill="#a80f38"/>
<line x1="331.0" y1="70.4" x2="352.0" y2="70.4" stroke="#b01a42" stroke-width="1.2"/>
<line x1="335.75" y1="79.2" x2="347.25" y2="79.2" stroke="#b01a42" stroke-width="1.2"/>
<line x1="335.75" y1="61.3" x2="347.25" y2="61.3" stroke="#b01a42" stroke-width="1.2"/>
<line x1="341.5" y1="61.3" x2="341.5" y2="79.2" stroke="#b01a42" stroke-width="1.2"/>
<text x="468.7" y="23.4" font-size="8.95" text-anchor="middle" font-weight="bold" stroke="#000" stroke-width="0.08" fill="#000">Lin-ve CD48<tspan font-size="6" dy="-3">−</tspan><tspan dy="3"> CD150</tspan><tspan font-size="6" dy="-3">+</tspan></text>
<text x="468.2" y="33.1" font-size="8.8" text-anchor="middle" font-weight="bold" stroke="#000" stroke-width="0.08" fill="#000">(LT-HSCs)</text>
<line x1="426" y1="33.9" x2="426" y2="114.3" stroke="#333" stroke-width="1.45"/>
<line x1="425.3" y1="113.6" x2="511.5" y2="113.6" stroke="#333" stroke-width="1.45"/>
<line x1="422.8" y1="37.1" x2="426" y2="37.1" stroke="#333" stroke-width="1"/>
<text x="419.8" y="40.0" font-size="8.3" text-anchor="end" stroke="#111" stroke-width="0.22" fill="#111">300</text>
<line x1="422.8" y1="62.6" x2="426" y2="62.6" stroke="#333" stroke-width="1"/>
<text x="419.8" y="65.5" font-size="8.3" text-anchor="end" stroke="#111" stroke-width="0.22" fill="#111">200</text>
<line x1="422.8" y1="88.1" x2="426" y2="88.1" stroke="#333" stroke-width="1"/>
<text x="419.8" y="91.0" font-size="8.3" text-anchor="end" stroke="#111" stroke-width="0.22" fill="#111">100</text>
<line x1="422.8" y1="113.6" x2="426" y2="113.6" stroke="#333" stroke-width="1"/>
<text x="419.8" y="116.5" font-size="8.3" text-anchor="end" stroke="#111" stroke-width="0.22" fill="#111">0</text>
<text x="387.5" y="75.3" font-size="8.8" text-anchor="middle" stroke="#111" stroke-width="0.22" fill="#111" transform="rotate(-90 387.5 75.3)">Absolute numbers</text>
<text x="399.3" y="75.3" font-size="8.8" text-anchor="middle" stroke="#111" stroke-width="0.22" fill="#111" transform="rotate(-90 399.3 75.3)">(per femur)</text>
<line x1="440.2" y1="113.6" x2="440.2" y2="116.19999999999999" stroke="#333" stroke-width="1"/>
<text x="440.2" y="126.8" font-size="8.8" text-anchor="middle" stroke="#111" stroke-width="0.22" fill="#111">WT</text>
<line x1="468.8" y1="113.6" x2="468.8" y2="116.19999999999999" stroke="#333" stroke-width="1"/>
<text x="468.8" y="126.8" font-size="8.8" text-anchor="middle" stroke="#111" stroke-width="0.22" fill="#111">Het</text>
<line x1="497" y1="113.6" x2="497" y2="116.19999999999999" stroke="#333" stroke-width="1"/>
<text x="497" y="126.8" font-size="8.8" text-anchor="middle" stroke="#111" stroke-width="0.22" fill="#111">Hom</text>
<circle cx="440.10" cy="47.60" r="1.6" fill="#1f3470"/>
<circle cx="440.10" cy="60.00" r="1.6" fill="#1f3470"/>
<circle cx="436.60" cy="71.00" r="1.6" fill="#1f3470"/>
<circle cx="440.10" cy="75.40" r="1.6" fill="#1f3470"/>
<circle cx="440.10" cy="90.30" r="1.6" fill="#1f3470"/>
<circle cx="443.80" cy="88.40" r="1.6" fill="#1f3470"/>
<line x1="430.65" y1="72.2" x2="450.15" y2="72.2" stroke="#2e4a8c" stroke-width="1.1"/>
<line x1="435.4" y1="79.1" x2="445.4" y2="79.1" stroke="#2e4a8c" stroke-width="1.1"/>
<line x1="435.4" y1="65.4" x2="445.4" y2="65.4" stroke="#2e4a8c" stroke-width="1.1"/>
<line x1="440.4" y1="65.4" x2="440.4" y2="79.1" stroke="#2e4a8c" stroke-width="1.1"/>
<rect x="467.05" y="57.65" width="2.9" height="2.9" fill="#7aab3c" stroke="none" stroke-width="1"/>
<rect x="467.05" y="86.35" width="2.9" height="2.9" fill="#7aab3c" stroke="none" stroke-width="1"/>
<circle cx="468.50" cy="80.10" r="1.5" fill="#7aab3c"/>
<line x1="458.75" y1="75.8" x2="478.25" y2="75.8" stroke="#8cb858" stroke-width="1.1"/>
<line x1="463.5" y1="84.4" x2="473.5" y2="84.4" stroke="#8cb858" stroke-width="1.1"/>
<line x1="463.5" y1="67.1" x2="473.5" y2="67.1" stroke="#8cb858" stroke-width="1.1"/>
<line x1="468.5" y1="67.1" x2="468.5" y2="84.4" stroke="#8cb858" stroke-width="1.1"/>
<circle cx="487.00" cy="112.62" r="1.25" fill="#a80f38"/>
<circle cx="490.00" cy="113.45" r="1.25" fill="#a80f38"/>
<circle cx="493.00" cy="113.24" r="1.25" fill="#a80f38"/>
<circle cx="496.00" cy="112.74" r="1.25" fill="#a80f38"/>
<circle cx="499.00" cy="112.53" r="1.25" fill="#a80f38"/>
<circle cx="502.00" cy="113.44" r="1.25" fill="#a80f38"/>
<circle cx="505.00" cy="113.07" r="1.25" fill="#a80f38"/>
<line x1="486" y1="113.2" x2="507" y2="113.2" stroke="#a80f38" stroke-width="1.4"/>
<text x="316.5" y="148.2" font-size="8.95" text-anchor="middle" font-weight="bold" stroke="#000" stroke-width="0.08" fill="#000">Lin-ve CD48<tspan font-size="6" dy="-3">−</tspan><tspan dy="3"> CD150</tspan><tspan font-size="6" dy="-3">−</tspan></text>
<text x="317.2" y="158.3" font-size="8.8" text-anchor="middle" font-weight="bold" stroke="#000" stroke-width="0.08" fill="#000">(ST-HSCs)</text>
<line x1="269.2" y1="157.9" x2="269.2" y2="239.5" stroke="#333" stroke-width="1.45"/>
<line x1="268.5" y1="238.8" x2="353.8" y2="238.8" stroke="#333" stroke-width="1.45"/>
<line x1="266.0" y1="161.1" x2="269.2" y2="161.1" stroke="#333" stroke-width="1"/>
<text x="262.8" y="164.0" font-size="8.3" text-anchor="end" stroke="#111" stroke-width="0.22" fill="#111">300</text>
<line x1="266.0" y1="187" x2="269.2" y2="187" stroke="#333" stroke-width="1"/>
<text x="262.8" y="189.9" font-size="8.3" text-anchor="end" stroke="#111" stroke-width="0.22" fill="#111">200</text>
<line x1="266.0" y1="212.9" x2="269.2" y2="212.9" stroke="#333" stroke-width="1"/>
<text x="262.8" y="215.8" font-size="8.3" text-anchor="end" stroke="#111" stroke-width="0.22" fill="#111">100</text>
<line x1="266.0" y1="238.8" x2="269.2" y2="238.8" stroke="#333" stroke-width="1"/>
<text x="262.8" y="241.70000000000002" font-size="8.3" text-anchor="end" stroke="#111" stroke-width="0.22" fill="#111">0</text>
<text x="231.7" y="200.2" font-size="8.8" text-anchor="middle" stroke="#111" stroke-width="0.22" fill="#111" transform="rotate(-90 231.7 200.2)">Absolute numbers</text>
<text x="242.6" y="200.2" font-size="8.8" text-anchor="middle" stroke="#111" stroke-width="0.22" fill="#111" transform="rotate(-90 242.6 200.2)">(per femur)</text>
<line x1="283.3" y1="238.8" x2="283.3" y2="241.4" stroke="#333" stroke-width="1"/>
<text x="283.3" y="252.0" font-size="8.8" text-anchor="middle" stroke="#111" stroke-width="0.22" fill="#111">WT</text>
<line x1="311" y1="238.8" x2="311" y2="241.4" stroke="#333" stroke-width="1"/>
<text x="310.1" y="252.0" font-size="8.8" text-anchor="middle" stroke="#111" stroke-width="0.22" fill="#111">Het</text>
<line x1="339" y1="238.8" x2="339" y2="241.4" stroke="#333" stroke-width="1"/>
<text x="338.4" y="252.0" font-size="8.8" text-anchor="middle" stroke="#111" stroke-width="0.22" fill="#111">Hom</text>
<circle cx="283.40" cy="172.90" r="1.6" fill="#1f3470"/>
<circle cx="283.40" cy="190.90" r="1.6" fill="#1f3470"/>
<circle cx="283.40" cy="198.70" r="1.6" fill="#1f3470"/>
<circle cx="283.40" cy="207.50" r="1.6" fill="#1f3470"/>
<circle cx="283.40" cy="219.30" r="1.6" fill="#1f3470"/>
<circle cx="286.30" cy="216.30" r="1.6" fill="#1f3470"/>
<line x1="273.2" y1="200.8" x2="293.2" y2="200.8" stroke="#2e4a8c" stroke-width="1.1"/>
<line x1="278.45" y1="208" x2="287.95" y2="208" stroke="#2e4a8c" stroke-width="1.1"/>
<line x1="278.45" y1="193.4" x2="287.95" y2="193.4" stroke="#2e4a8c" stroke-width="1.1"/>
<line x1="283.2" y1="193.4" x2="283.2" y2="208" stroke="#2e4a8c" stroke-width="1.1"/>
<rect x="309.3" y="202.29999999999998" width="2.8" height="2.8" fill="#7aab3c" stroke="none" stroke-width="1"/>
<circle cx="310.70" cy="215.60" r="1.5" fill="#7aab3c"/>
<rect x="311.2" y="213.89999999999998" width="2.6" height="2.6" fill="#7aab3c" stroke="none" stroke-width="1"/>
<line x1="300.8" y1="212.8" x2="320.8" y2="212.8" stroke="#8cb858" stroke-width="1.1"/>
<line x1="306.05" y1="216.4" x2="315.55" y2="216.4" stroke="#8cb858" stroke-width="1.1"/>
<line x1="306.05" y1="208.6" x2="315.55" y2="208.6" stroke="#8cb858" stroke-width="1.1"/>
<line x1="310.8" y1="208.6" x2="310.8" y2="216.4" stroke="#8cb858" stroke-width="1.1"/>
<path d="M332,236.76 L333.36,239.16 L330.64,239.16 Z" fill="#a80f38"/>
<path d="M335,236.76 L336.36,239.16 L333.64,239.16 Z" fill="#a80f38"/>
<path d="M338,236.76 L339.36,239.16 L336.64,239.16 Z" fill="#a80f38"/>
<path d="M341,236.76 L342.36,239.16 L339.64,239.16 Z" fill="#a80f38"/>
<path d="M344,236.76 L345.36,239.16 L342.64,239.16 Z" fill="#a80f38"/>
<path d="M347,236.76 L348.36,239.16 L345.64,239.16 Z" fill="#a80f38"/>
<line x1="331.5" y1="238.3" x2="347" y2="238.3" stroke="#a80f38" stroke-width="1.2"/>
<text x="467.6" y="148.2" font-size="8.95" text-anchor="middle" font-weight="bold" stroke="#000" stroke-width="0.08" fill="#000">Lin-ve CD48<tspan font-size="6" dy="-3">+</tspan><tspan dy="3"> CD150</tspan><tspan font-size="6" dy="-3">+</tspan></text>
<text x="466.7" y="158.6" font-size="8.8" text-anchor="middle" font-weight="bold" stroke="#000" stroke-width="0.08" fill="#000">(MPPs)</text>
<line x1="426.1" y1="158.60000000000002" x2="426.1" y2="239.1" stroke="#333" stroke-width="1.45"/>
<line x1="425.40000000000003" y1="238.4" x2="508.5" y2="238.4" stroke="#333" stroke-width="1.45"/>
<line x1="422.90000000000003" y1="161.8" x2="426.1" y2="161.8" stroke="#333" stroke-width="1"/>
<text x="419.1" y="164.70000000000002" font-size="8.3" text-anchor="end" stroke="#111" stroke-width="0.22" fill="#111">80000</text>
<line x1="422.90000000000003" y1="181" x2="426.1" y2="181" stroke="#333" stroke-width="1"/>
<text x="419.1" y="183.9" font-size="8.3" text-anchor="end" stroke="#111" stroke-width="0.22" fill="#111">60000</text>
<line x1="422.90000000000003" y1="200.2" x2="426.1" y2="200.2" stroke="#333" stroke-width="1"/>
<text x="419.1" y="203.1" font-size="8.3" text-anchor="end" stroke="#111" stroke-width="0.22" fill="#111">40000</text>
<line x1="422.90000000000003" y1="219.4" x2="426.1" y2="219.4" stroke="#333" stroke-width="1"/>
<text x="419.1" y="222.3" font-size="8.3" text-anchor="end" stroke="#111" stroke-width="0.22" fill="#111">20000</text>
<line x1="422.90000000000003" y1="238.5" x2="426.1" y2="238.5" stroke="#333" stroke-width="1"/>
<text x="419.1" y="241.4" font-size="8.3" text-anchor="end" stroke="#111" stroke-width="0.22" fill="#111">0</text>
<text x="378.8" y="200.5" font-size="8.8" text-anchor="middle" stroke="#111" stroke-width="0.22" fill="#111" transform="rotate(-90 378.8 200.5)">Absolute numbers</text>
<text x="391" y="200.5" font-size="8.8" text-anchor="middle" stroke="#111" stroke-width="0.22" fill="#111" transform="rotate(-90 391 200.5)">(per femur)</text>
<line x1="439" y1="238.4" x2="439" y2="241.0" stroke="#333" stroke-width="1"/>
<text x="439" y="251.6" font-size="8.8" text-anchor="middle" stroke="#111" stroke-width="0.22" fill="#111">WT</text>
<line x1="468" y1="238.4" x2="468" y2="241.0" stroke="#333" stroke-width="1"/>
<text x="468" y="251.6" font-size="8.8" text-anchor="middle" stroke="#111" stroke-width="0.22" fill="#111">Het</text>
<line x1="495.5" y1="238.4" x2="495.5" y2="241.0" stroke="#333" stroke-width="1"/>
<text x="495.5" y="251.6" font-size="8.8" text-anchor="middle" stroke="#111" stroke-width="0.22" fill="#111">Hom</text>
<path d="M433,231.93 L434.955,235.38 L431.045,235.38 Z" fill="#1f3470"/>
<path d="M436,233.43 L437.955,236.88 L434.045,236.88 Z" fill="#1f3470"/>
<path d="M439,231.73000000000002 L440.955,235.18 L437.045,235.18 Z" fill="#1f3470"/>
<path d="M442,233.53 L443.955,236.98 L440.045,236.98 Z" fill="#1f3470"/>
<path d="M445,231.93 L446.955,235.38 L443.045,235.38 Z" fill="#1f3470"/>
<path d="M437.5,234.53 L439.455,237.98 L435.545,237.98 Z" fill="#1f3470"/>
<line x1="431.7" y1="234.8" x2="448.8" y2="234.8" stroke="#2e4a8c" stroke-width="1.3"/>
<rect x="460.7" y="234.6" width="2.6" height="2.6" fill="#7aab3c" stroke="none" stroke-width="1"/>
<rect x="463.7" y="234.6" width="2.6" height="2.6" fill="#7aab3c" stroke="none" stroke-width="1"/>
<rect x="466.7" y="234.6" width="2.6" height="2.6" fill="#7aab3c" stroke="none" stroke-width="1"/>
<rect x="469.7" y="234.6" width="2.6" height="2.6" fill="#7aab3c" stroke="none" stroke-width="1"/>
<line x1="458" y1="235.9" x2="476.5" y2="235.9" stroke="#8cb858" stroke-width="1.2"/>
<path d="M495,179.60000000000002 L497.55,184.10000000000002 L492.45,184.10000000000002 Z" fill="#a80f38"/>
<path d="M498.9,199.5 L501.45,204.0 L496.34999999999997,204.0 Z" fill="#a80f38"/>
<path d="M495,210.8 L497.55,215.3 L492.45,215.3 Z" fill="#a80f38"/>
<path d="M495,224.0 L497.55,228.5 L492.45,228.5 Z" fill="#a80f38"/>
<circle cx="495.00" cy="207.00" r="1.4" fill="#a80f38"/>
<line x1="485.0" y1="206.4" x2="505.0" y2="206.4" stroke="#b01a42" stroke-width="1.2"/>
<line x1="490.0" y1="213.9" x2="500.0" y2="213.9" stroke="#b01a42" stroke-width="1.2"/>
<line x1="490.0" y1="199" x2="500.0" y2="199" stroke="#b01a42" stroke-width="1.2"/>
<line x1="495" y1="199" x2="495" y2="213.9" stroke="#b01a42" stroke-width="1.2"/>
<text x="216.3" y="297.6" font-size="12.3" text-anchor="start" font-weight="bold" stroke="#000" stroke-width="0.08" fill="#000">C</text>
<text x="302.7" y="296.6" font-size="8.8" text-anchor="start" font-weight="bold" stroke="#000" stroke-width="0.08" fill="#000"><tspan font-style="italic">Cebpa</tspan> (LSK)</text>
<line x1="269.2" y1="297.2" x2="269.2" y2="371.3" stroke="#333" stroke-width="1.45"/>
<line x1="268.5" y1="370.6" x2="387.6" y2="370.6" stroke="#333" stroke-width="1.45"/>
<line x1="266.0" y1="300.4" x2="269.2" y2="300.4" stroke="#333" stroke-width="1"/>
<text x="263.5" y="303.29999999999995" font-size="8.3" text-anchor="end" stroke="#111" stroke-width="0.22" fill="#111">4</text>
<line x1="266.0" y1="317.9" x2="269.2" y2="317.9" stroke="#333" stroke-width="1"/>
<text x="263.5" y="320.79999999999995" font-size="8.3" text-anchor="end" stroke="#111" stroke-width="0.22" fill="#111">3</text>
<line x1="266.0" y1="335.5" x2="269.2" y2="335.5" stroke="#333" stroke-width="1"/>
<text x="263.5" y="338.4" font-size="8.3" text-anchor="end" stroke="#111" stroke-width="0.22" fill="#111">2</text>
<line x1="266.0" y1="353" x2="269.2" y2="353" stroke="#333" stroke-width="1"/>
<text x="263.5" y="355.9" font-size="8.3" text-anchor="end" stroke="#111" stroke-width="0.22" fill="#111">1</text>
<line x1="266.0" y1="370.6" x2="269.2" y2="370.6" stroke="#333" stroke-width="1"/>
<text x="263.5" y="373.5" font-size="8.3" text-anchor="end" stroke="#111" stroke-width="0.22" fill="#111">0</text>
<text x="251.5" y="335.5" font-size="8.4" text-anchor="middle" stroke="#111" stroke-width="0.22" fill="#111" transform="rotate(-90 251.5 335.5)">FPKM</text>
<line x1="298.8" y1="370.6" x2="298.8" y2="373.20000000000005" stroke="#333" stroke-width="1"/>
<text x="298.8" y="381.8" font-size="8.8" text-anchor="middle" stroke="#111" stroke-width="0.22" fill="#111">WT</text>
<line x1="358" y1="370.6" x2="358" y2="373.20000000000005" stroke="#333" stroke-width="1"/>
<text x="356.5" y="381.8" font-size="8.8" text-anchor="middle" stroke="#111" stroke-width="0.22" fill="#111">Hom</text>
<circle cx="298.80" cy="307.70" r="1.6" fill="#1f3470"/>
<circle cx="298.80" cy="316.50" r="1.6" fill="#1f3470"/>
<circle cx="298.80" cy="349.70" r="1.6" fill="#1f3470"/>
<line x1="278.8" y1="324.6" x2="318.8" y2="324.6" stroke="#2e4a8c" stroke-width="1.1"/>
<line x1="288.3" y1="337.7" x2="309.3" y2="337.7" stroke="#2e4a8c" stroke-width="1.1"/>
<line x1="288.3" y1="311.6" x2="309.3" y2="311.6" stroke="#2e4a8c" stroke-width="1.1"/>
<line x1="298.8" y1="311.6" x2="298.8" y2="337.7" stroke="#2e4a8c" stroke-width="1.1"/>
<path d="M337.8,370.3 L368,370.3" stroke="#8a1030" stroke-width="1.5"/>
<path d="M347.3,369.1 L368,369.1" stroke="#a80f38" stroke-width="1.9"/>
<path d="M350,369.5 L352.7,366.9 L355.4,369.5 Z" fill="#a80f38"/>
<text x="7.6" y="408.8" font-size="12.3" text-anchor="start" font-weight="bold" stroke="#000" stroke-width="0.08" fill="#000">D</text>
<text x="141.5" y="415" font-size="8.8" text-anchor="middle" font-weight="bold" stroke="#000" stroke-width="0.08" fill="#000">Clonogenic assay (IL-6, SCF, GM-CSF)</text>
<line x1="38.8" y1="422" x2="38.8" y2="544.4" stroke="#333" stroke-width="1.1"/>
<line x1="38.8" y1="544.4" x2="242.6" y2="544.4" stroke="#333" stroke-width="1.1"/>
<line x1="36.3" y1="544.4" x2="38.8" y2="544.4" stroke="#333" stroke-width="0.9"/>
<text x="33" y="547.3" font-size="8" text-anchor="end" stroke="#111" stroke-width="0.22" fill="#111">0</text>
<line x1="36.3" y1="529.68" x2="38.8" y2="529.68" stroke="#333" stroke-width="0.9"/>
<text x="33" y="532.5799999999999" font-size="8" text-anchor="end" stroke="#111" stroke-width="0.22" fill="#111">10</text>
<line x1="36.3" y1="514.96" x2="38.8" y2="514.96" stroke="#333" stroke-width="0.9"/>
<text x="33" y="517.86" font-size="8" text-anchor="end" stroke="#111" stroke-width="0.22" fill="#111">20</text>
<line x1="36.3" y1="500.24" x2="38.8" y2="500.24" stroke="#333" stroke-width="0.9"/>
<text x="33" y="503.14" font-size="8" text-anchor="end" stroke="#111" stroke-width="0.22" fill="#111">30</text>
<line x1="36.3" y1="485.52" x2="38.8" y2="485.52" stroke="#333" stroke-width="0.9"/>
<text x="33" y="488.41999999999996" font-size="8" text-anchor="end" stroke="#111" stroke-width="0.22" fill="#111">40</text>
<line x1="36.3" y1="470.79999999999995" x2="38.8" y2="470.79999999999995" stroke="#333" stroke-width="0.9"/>
<text x="33" y="473.69999999999993" font-size="8" text-anchor="end" stroke="#111" stroke-width="0.22" fill="#111">50</text>
<line x1="36.3" y1="456.08" x2="38.8" y2="456.08" stroke="#333" stroke-width="0.9"/>
<text x="33" y="458.97999999999996" font-size="8" text-anchor="end" stroke="#111" stroke-width="0.22" fill="#111">60</text>
<line x1="36.3" y1="441.36" x2="38.8" y2="441.36" stroke="#333" stroke-width="0.9"/>
<text x="33" y="444.26" font-size="8" text-anchor="end" stroke="#111" stroke-width="0.22" fill="#111">70</text>
<line x1="36.3" y1="426.64" x2="38.8" y2="426.64" stroke="#333" stroke-width="0.9"/>
<text x="33" y="429.53999999999996" font-size="8" text-anchor="end" stroke="#111" stroke-width="0.22" fill="#111">80</text>
<text x="14.2" y="484" font-size="8.6" text-anchor="middle" stroke="#111" stroke-width="0.22" fill="#111" transform="rotate(-90 14.2 484)">Colonies (per 1000 plated cells)</text>
<rect x="48.1" y="431.7" width="13.3" height="6.3" fill="#5b9bd5" stroke="none" stroke-width="1"/>
<text x="64.3" y="437.4" font-size="6.7" text-anchor="start" stroke="#111" stroke-width="0.22" fill="#111">WT</text>
<rect x="48.1" y="441.15" width="13.3" height="6.3" fill="#b8d0ec" stroke="none" stroke-width="1"/>
<text x="64.3" y="446.84999999999997" font-size="6.7" text-anchor="start" stroke="#111" stroke-width="0.22" fill="#111">WT</text>
<rect x="48.1" y="450.59999999999997" width="13.3" height="6.3" fill="#5aa640" stroke="none" stroke-width="1"/>
<text x="64.3" y="456.29999999999995" font-size="6.7" text-anchor="start" stroke="#111" stroke-width="0.22" fill="#111">Heterozygous</text>
<rect x="48.1" y="460.05" width="13.3" height="6.3" fill="#a8123a" stroke="none" stroke-width="1"/>
<text x="64.3" y="465.75" font-size="6.7" text-anchor="start" stroke="#111" stroke-width="0.22" fill="#111">Homozygous</text>
<rect x="41.8" y="535.7152" width="7.100000000000001" height="8.684799999999996" fill="#5b9bd5" stroke="none" stroke-width="1"/>
<line x1="45.349999999999994" y1="535.7152" x2="45.349999999999994" y2="528.6496" stroke="#222" stroke-width="1"/>
<line x1="43.74999999999999" y1="528.6496" x2="46.949999999999996" y2="528.6496" stroke="#222" stroke-width="1"/>
<rect x="48.9" y="537.4816" width="7.399999999999999" height="6.91840000000002" fill="#b8d0ec" stroke="none" stroke-width="1"/>
<line x1="52.599999999999994" y1="537.4816" x2="52.599999999999994" y2="533.8016" stroke="#222" stroke-width="1"/>
<line x1="50.99999999999999" y1="533.8016" x2="54.199999999999996" y2="533.8016" stroke="#222" stroke-width="1"/>
<rect x="56.3" y="535.7152" width="7.700000000000003" height="8.684799999999996" fill="#5aa640" stroke="none" stroke-width="1"/>
<line x1="60.15" y1="535.7152" x2="60.15" y2="529.3856" stroke="#222" stroke-width="1"/>
<line x1="58.55" y1="529.3856" x2="61.75" y2="529.3856" stroke="#222" stroke-width="1"/>
<rect x="64" y="538.512" width="7.599999999999994" height="5.888000000000034" fill="#a8123a" stroke="none" stroke-width="1"/>
<line x1="67.8" y1="538.512" x2="67.8" y2="534.096" stroke="#222" stroke-width="1"/>
<line x1="66.2" y1="534.096" x2="69.39999999999999" y2="534.096" stroke="#222" stroke-width="1"/>
<line x1="57" y1="544.4" x2="57" y2="546.4" stroke="#333" stroke-width="0.9"/>
<line x1="98.6" y1="544.4" x2="98.6" y2="546.4" stroke="#333" stroke-width="0.9"/>
<line x1="140.2" y1="544.4" x2="140.2" y2="546.4" stroke="#333" stroke-width="0.9"/>
<line x1="181.8" y1="544.4" x2="181.8" y2="546.4" stroke="#333" stroke-width="0.9"/>
<line x1="223.4" y1="544.4" x2="223.4" y2="546.4" stroke="#333" stroke-width="0.9"/>
<rect x="104.89999999999999" y="542.928" width="7.700000000000003" height="1.47199999999998" fill="#a8123a" stroke="none" stroke-width="1"/>
<line x1="108.75" y1="542.928" x2="108.75" y2="536.5984" stroke="#222" stroke-width="1"/>
<line x1="107.15" y1="536.5984" x2="110.35" y2="536.5984" stroke="#222" stroke-width="1"/>
<rect x="146.5" y="527.3248" width="7.699999999999989" height="17.075199999999995" fill="#a8123a" stroke="none" stroke-width="1"/>
<line x1="150.35" y1="527.3248" x2="150.35" y2="513.7823999999999" stroke="#222" stroke-width="1"/>
<line x1="148.75" y1="513.7823999999999" x2="151.95" y2="513.7823999999999" stroke="#222" stroke-width="1"/>
<rect x="188.10000000000002" y="500.976" width="7.699999999999989" height="43.42399999999998" fill="#a8123a" stroke="none" stroke-width="1"/>
<line x1="191.95000000000002" y1="500.976" x2="191.95000000000002" y2="489.6416" stroke="#222" stroke-width="1"/>
<line x1="190.35000000000002" y1="489.6416" x2="193.55" y2="489.6416" stroke="#222" stroke-width="1"/>
<rect x="229.70000000000002" y="450.928" width="7.699999999999989" height="93.47199999999998" fill="#a8123a" stroke="none" stroke-width="1"/>
<line x1="233.55" y1="450.928" x2="233.55" y2="439.888" stroke="#222" stroke-width="1"/>
<line x1="231.95000000000002" y1="439.888" x2="235.15" y2="439.888" stroke="#222" stroke-width="1"/>
<text x="57.1" y="555" font-size="7" text-anchor="middle" stroke="#111" stroke-width="0.22" fill="#111">7 days</text>
<text x="99.39999999999999" y="555" font-size="6.9" text-anchor="middle" stroke="#111" stroke-width="0.22" fill="#111">1<tspan font-size="5" dy="-1.2">°</tspan><tspan dy="1.2">replating</tspan></text>
<text x="141.0" y="555" font-size="6.9" text-anchor="middle" stroke="#111" stroke-width="0.22" fill="#111">2<tspan font-size="5" dy="-1.2">°</tspan><tspan dy="1.2">replating</tspan></text>
<text x="182.60000000000002" y="555" font-size="6.9" text-anchor="middle" stroke="#111" stroke-width="0.22" fill="#111">3<tspan font-size="5" dy="-1.2">°</tspan><tspan dy="1.2">replating</tspan></text>
<text x="224.20000000000002" y="555" font-size="6.9" text-anchor="middle" stroke="#111" stroke-width="0.22" fill="#111">4<tspan font-size="5" dy="-1.2">°</tspan><tspan dy="1.2">replating</tspan></text>
<rect x="274.4" y="416" width="52.200000000000045" height="57.30000000000001" fill="none" stroke="#888" stroke-width="1"/>
<line x1="273.09999999999997" y1="470.3" x2="274.4" y2="470.3" stroke="#555" stroke-width="0.6"/>
<line x1="277.4" y1="473.3" x2="277.4" y2="474.6" stroke="#555" stroke-width="0.6"/>
<line x1="273.09999999999997" y1="457.475" x2="274.4" y2="457.475" stroke="#555" stroke-width="0.6"/>
<line x1="288.95" y1="473.3" x2="288.95" y2="474.6" stroke="#555" stroke-width="0.6"/>
<line x1="273.09999999999997" y1="444.65" x2="274.4" y2="444.65" stroke="#555" stroke-width="0.6"/>
<line x1="300.5" y1="473.3" x2="300.5" y2="474.6" stroke="#555" stroke-width="0.6"/>
<line x1="273.09999999999997" y1="431.825" x2="274.4" y2="431.825" stroke="#555" stroke-width="0.6"/>
<line x1="312.05" y1="473.3" x2="312.05" y2="474.6" stroke="#555" stroke-width="0.6"/>
<line x1="273.09999999999997" y1="419.0" x2="274.4" y2="419.0" stroke="#555" stroke-width="0.6"/>
<line x1="323.6" y1="473.3" x2="323.6" y2="474.6" stroke="#555" stroke-width="0.6"/>
<path d="M296.8 421.8h0.7v0.7h-0.7zM299.7 432.0h0.7v0.7h-0.7zM298.2 429.4h0.7v0.7h-0.7zM295.3 420.0h0.7v0.7h-0.7zM294.9 420.8h0.7v0.7h-0.7zM296.5 424.3h0.7v0.7h-0.7zM301.1 423.7h0.7v0.7h-0.7zM292.1 429.9h0.7v0.7h-0.7zM298.0 422.5h0.7v0.7h-0.7zM297.4 426.2h0.7v0.7h-0.7zM296.7 431.5h0.7v0.7h-0.7zM294.1 432.3h0.7v0.7h-0.7zM296.3 431.3h0.7v0.7h-0.7zM295.9 438.7h0.7v0.7h-0.7zM295.9 426.1h0.7v0.7h-0.7zM294.7 441.0h0.7v0.7h-0.7zM299.4 425.0h0.7v0.7h-0.7zM299.0 422.4h0.7v0.7h-0.7zM299.1 424.6h0.7v0.7h-0.7zM295.7 438.1h0.7v0.7h-0.7zM293.2 434.4h0.7v0.7h-0.7zM296.9 422.0h0.7v0.7h-0.7zM298.4 427.4h0.7v0.7h-0.7zM295.2 433.7h0.7v0.7h-0.7zM302.1 425.7h0.7v0.7h-0.7zM295.8 419.5h0.7v0.7h-0.7zM295.8 428.9h0.7v0.7h-0.7zM298.2 422.6h0.7v0.7h-0.7zM296.9 419.3h0.7v0.7h-0.7zM297.6 428.4h0.7v0.7h-0.7zM296.7 436.2h0.7v0.7h-0.7zM297.9 424.8h0.7v0.7h-0.7zM297.4 422.6h0.7v0.7h-0.7zM296.7 429.5h0.7v0.7h-0.7zM296.4 428.0h0.7v0.7h-0.7zM301.5 431.0h0.7v0.7h-0.7zM297.7 422.1h0.7v0.7h-0.7zM297.9 423.5h0.7v0.7h-0.7zM294.1 428.5h0.7v0.7h-0.7zM293.5 423.7h0.7v0.7h-0.7zM302.6 433.2h0.7v0.7h-0.7zM298.3 426.7h0.7v0.7h-0.7zM296.3 420.1h0.7v0.7h-0.7zM298.2 425.0h0.7v0.7h-0.7zM297.5 433.2h0.7v0.7h-0.7zM297.2 427.9h0.7v0.7h-0.7zM298.6 420.9h0.7v0.7h-0.7zM299.8 419.8h0.7v0.7h-0.7zM292.9 425.3h0.7v0.7h-0.7zM296.5 433.9h0.7v0.7h-0.7zM299.9 425.3h0.7v0.7h-0.7zM297.6 432.0h0.7v0.7h-0.7zM298.5 435.8h0.7v0.7h-0.7zM296.2 428.7h0.7v0.7h-0.7zM297.4 433.3h0.7v0.7h-0.7zM297.2 428.9h0.7v0.7h-0.7zM295.6 429.5h0.7v0.7h-0.7zM296.4 433.7h0.7v0.7h-0.7zM300.4 435.0h0.7v0.7h-0.7zM291.2 430.3h0.7v0.7h-0.7z" fill="#9a9ad8" opacity="0.6"/><path d="M295.9 423.0h0.7v0.7h-0.7zM297.4 418.7h0.7v0.7h-0.7zM296.1 429.3h0.7v0.7h-0.7zM297.8 434.6h0.7v0.7h-0.7zM299.4 432.2h0.7v0.7h-0.7zM295.1 425.2h0.7v0.7h-0.7zM298.9 426.1h0.7v0.7h-0.7zM295.0 423.3h0.7v0.7h-0.7zM299.2 425.3h0.7v0.7h-0.7zM295.4 426.9h0.7v0.7h-0.7zM300.2 421.6h0.7v0.7h-0.7zM295.5 430.8h0.7v0.7h-0.7zM296.9 435.7h0.7v0.7h-0.7zM298.1 430.8h0.7v0.7h-0.7zM300.6 423.8h0.7v0.7h-0.7zM294.9 423.3h0.7v0.7h-0.7zM301.8 434.2h0.7v0.7h-0.7zM297.5 424.9h0.7v0.7h-0.7zM295.4 422.1h0.7v0.7h-0.7zM297.6 431.7h0.7v0.7h-0.7zM298.0 430.5h0.7v0.7h-0.7zM290.0 426.0h0.7v0.7h-0.7zM301.0 422.2h0.7v0.7h-0.7zM292.4 427.8h0.7v0.7h-0.7zM294.4 432.6h0.7v0.7h-0.7zM300.5 426.5h0.7v0.7h-0.7zM296.2 434.6h0.7v0.7h-0.7zM296.3 420.2h0.7v0.7h-0.7zM292.7 422.9h0.7v0.7h-0.7zM296.5 426.6h0.7v0.7h-0.7zM297.3 423.0h0.7v0.7h-0.7zM295.6 431.3h0.7v0.7h-0.7zM299.2 431.1h0.7v0.7h-0.7zM296.5 437.4h0.7v0.7h-0.7zM296.0 428.5h0.7v0.7h-0.7zM294.9 421.3h0.7v0.7h-0.7zM295.0 428.3h0.7v0.7h-0.7zM298.8 423.9h0.7v0.7h-0.7zM297.1 431.0h0.7v0.7h-0.7zM295.2 420.2h0.7v0.7h-0.7zM301.1 419.6h0.7v0.7h-0.7zM301.0 435.8h0.7v0.7h-0.7zM299.2 434.0h0.7v0.7h-0.7zM295.4 435.3h0.7v0.7h-0.7zM299.0 430.7h0.7v0.7h-0.7zM296.9 432.1h0.7v0.7h-0.7zM297.4 427.6h0.7v0.7h-0.7zM295.4 429.4h0.7v0.7h-0.7zM294.3 428.3h0.7v0.7h-0.7zM296.8 420.5h0.7v0.7h-0.7zM296.6 427.6h0.7v0.7h-0.7zM294.3 425.4h0.7v0.7h-0.7zM296.1 438.1h0.7v0.7h-0.7z" fill="#6060c0" opacity="0.6"/><path d="M296.1 421.8h0.7v0.7h-0.7zM295.4 420.7h0.7v0.7h-0.7zM294.2 423.3h0.7v0.7h-0.7zM294.0 430.1h0.7v0.7h-0.7zM296.2 427.0h0.7v0.7h-0.7zM301.3 425.2h0.7v0.7h-0.7zM302.3 418.2h0.7v0.7h-0.7zM294.8 419.4h0.7v0.7h-0.7zM297.9 430.5h0.7v0.7h-0.7zM295.9 428.1h0.7v0.7h-0.7zM296.0 425.5h0.7v0.7h-0.7zM295.7 425.3h0.7v0.7h-0.7zM298.7 424.9h0.7v0.7h-0.7zM298.6 431.4h0.7v0.7h-0.7zM291.4 429.7h0.7v0.7h-0.7zM296.8 437.1h0.7v0.7h-0.7zM296.0 423.5h0.7v0.7h-0.7zM297.6 427.5h0.7v0.7h-0.7zM297.7 426.0h0.7v0.7h-0.7zM295.6 423.3h0.7v0.7h-0.7zM296.9 435.2h0.7v0.7h-0.7zM299.5 423.1h0.7v0.7h-0.7zM296.3 428.3h0.7v0.7h-0.7zM296.8 424.9h0.7v0.7h-0.7zM297.5 426.1h0.7v0.7h-0.7zM299.7 431.7h0.7v0.7h-0.7zM293.9 426.8h0.7v0.7h-0.7zM294.2 429.8h0.7v0.7h-0.7zM296.1 435.5h0.7v0.7h-0.7zM296.5 429.4h0.7v0.7h-0.7zM297.1 421.4h0.7v0.7h-0.7zM298.6 436.1h0.7v0.7h-0.7zM298.3 435.3h0.7v0.7h-0.7zM298.6 434.0h0.7v0.7h-0.7zM296.5 430.6h0.7v0.7h-0.7zM295.1 429.0h0.7v0.7h-0.7zM294.9 425.2h0.7v0.7h-0.7zM298.0 430.2h0.7v0.7h-0.7zM297.9 427.4h0.7v0.7h-0.7zM299.2 418.6h0.7v0.7h-0.7zM295.1 419.8h0.7v0.7h-0.7zM293.4 427.8h0.7v0.7h-0.7zM298.9 428.6h0.7v0.7h-0.7zM297.1 424.1h0.7v0.7h-0.7zM300.9 424.4h0.7v0.7h-0.7z" fill="#8080c8" opacity="0.6"/>
<path d="M295.7 435.0h0.7v0.7h-0.7zM301.1 437.8h0.7v0.7h-0.7zM292.9 438.9h0.7v0.7h-0.7zM294.9 436.8h0.7v0.7h-0.7zM293.7 435.9h0.7v0.7h-0.7zM296.2 438.2h0.7v0.7h-0.7zM294.6 438.1h0.7v0.7h-0.7zM294.1 440.7h0.7v0.7h-0.7zM293.7 440.1h0.7v0.7h-0.7zM296.0 437.1h0.7v0.7h-0.7zM297.1 437.2h0.7v0.7h-0.7zM297.9 432.7h0.7v0.7h-0.7zM288.8 435.2h0.7v0.7h-0.7zM288.4 437.4h0.7v0.7h-0.7zM297.1 444.1h0.7v0.7h-0.7zM296.4 436.5h0.7v0.7h-0.7zM296.7 431.7h0.7v0.7h-0.7zM286.3 432.5h0.7v0.7h-0.7zM288.5 439.3h0.7v0.7h-0.7zM297.4 435.6h0.7v0.7h-0.7zM297.1 439.4h0.7v0.7h-0.7zM297.7 438.0h0.7v0.7h-0.7zM300.8 439.7h0.7v0.7h-0.7zM298.0 433.5h0.7v0.7h-0.7zM297.1 431.9h0.7v0.7h-0.7zM292.7 436.3h0.7v0.7h-0.7zM296.3 437.2h0.7v0.7h-0.7zM289.5 437.9h0.7v0.7h-0.7zM294.5 438.4h0.7v0.7h-0.7zM295.3 434.7h0.7v0.7h-0.7zM296.0 435.5h0.7v0.7h-0.7zM291.9 437.5h0.7v0.7h-0.7zM287.9 435.4h0.7v0.7h-0.7zM288.2 438.1h0.7v0.7h-0.7zM293.6 436.4h0.7v0.7h-0.7zM302.4 437.9h0.7v0.7h-0.7zM297.1 439.2h0.7v0.7h-0.7zM293.4 435.4h0.7v0.7h-0.7zM294.1 438.2h0.7v0.7h-0.7zM302.7 436.2h0.7v0.7h-0.7zM287.4 435.6h0.7v0.7h-0.7zM298.4 438.5h0.7v0.7h-0.7zM296.4 434.9h0.7v0.7h-0.7zM290.2 439.1h0.7v0.7h-0.7zM295.9 436.4h0.7v0.7h-0.7zM294.8 437.8h0.7v0.7h-0.7zM304.2 432.2h0.7v0.7h-0.7zM297.9 437.4h0.7v0.7h-0.7zM294.6 434.3h0.7v0.7h-0.7zM292.9 434.0h0.7v0.7h-0.7zM288.7 435.7h0.7v0.7h-0.7zM293.1 434.6h0.7v0.7h-0.7zM295.0 438.8h0.7v0.7h-0.7zM295.8 435.7h0.7v0.7h-0.7z" fill="#9090d0" opacity="0.5"/><path d="M296.3 436.3h0.7v0.7h-0.7zM291.3 436.4h0.7v0.7h-0.7zM301.0 439.9h0.7v0.7h-0.7zM290.2 438.0h0.7v0.7h-0.7zM291.5 435.1h0.7v0.7h-0.7zM290.4 440.1h0.7v0.7h-0.7zM297.7 433.9h0.7v0.7h-0.7zM294.9 439.1h0.7v0.7h-0.7zM298.1 433.5h0.7v0.7h-0.7zM296.2 435.9h0.7v0.7h-0.7zM287.2 430.4h0.7v0.7h-0.7zM292.4 437.2h0.7v0.7h-0.7zM288.4 437.1h0.7v0.7h-0.7zM295.2 435.4h0.7v0.7h-0.7zM294.6 436.1h0.7v0.7h-0.7zM292.5 437.8h0.7v0.7h-0.7zM292.5 437.3h0.7v0.7h-0.7zM294.9 442.3h0.7v0.7h-0.7zM291.1 438.7h0.7v0.7h-0.7zM290.7 434.3h0.7v0.7h-0.7zM293.0 435.4h0.7v0.7h-0.7zM296.2 438.7h0.7v0.7h-0.7zM291.9 435.0h0.7v0.7h-0.7zM294.2 437.3h0.7v0.7h-0.7zM299.4 434.8h0.7v0.7h-0.7zM295.8 438.3h0.7v0.7h-0.7zM292.2 441.0h0.7v0.7h-0.7zM295.0 437.9h0.7v0.7h-0.7zM291.3 434.7h0.7v0.7h-0.7zM288.7 436.1h0.7v0.7h-0.7zM298.0 437.2h0.7v0.7h-0.7zM290.9 437.1h0.7v0.7h-0.7zM300.5 436.7h0.7v0.7h-0.7zM289.9 436.7h0.7v0.7h-0.7zM302.3 438.4h0.7v0.7h-0.7zM292.7 435.2h0.7v0.7h-0.7zM293.0 440.9h0.7v0.7h-0.7zM286.9 436.3h0.7v0.7h-0.7zM296.5 433.1h0.7v0.7h-0.7zM288.9 436.7h0.7v0.7h-0.7zM299.1 430.3h0.7v0.7h-0.7zM291.9 435.4h0.7v0.7h-0.7zM290.9 437.1h0.7v0.7h-0.7zM297.6 437.1h0.7v0.7h-0.7zM286.7 434.0h0.7v0.7h-0.7zM293.4 435.4h0.7v0.7h-0.7zM288.9 438.6h0.7v0.7h-0.7zM287.8 427.7h0.7v0.7h-0.7zM294.3 434.3h0.7v0.7h-0.7zM290.4 439.0h0.7v0.7h-0.7zM294.4 435.5h0.7v0.7h-0.7zM291.7 436.9h0.7v0.7h-0.7zM289.5 437.8h0.7v0.7h-0.7zM296.6 437.3h0.7v0.7h-0.7zM291.3 437.2h0.7v0.7h-0.7zM300.2 443.3h0.7v0.7h-0.7zM285.4 433.3h0.7v0.7h-0.7zM297.6 436.0h0.7v0.7h-0.7zM291.1 437.4h0.7v0.7h-0.7zM295.5 433.0h0.7v0.7h-0.7zM296.2 436.3h0.7v0.7h-0.7zM296.4 435.3h0.7v0.7h-0.7zM298.5 440.9h0.7v0.7h-0.7zM301.8 444.2h0.7v0.7h-0.7zM295.0 440.9h0.7v0.7h-0.7zM293.6 433.6h0.7v0.7h-0.7z" fill="#a0a0d8" opacity="0.5"/>
<path d="M315.2 428.4h0.7v0.7h-0.7zM316.3 424.7h0.7v0.7h-0.7zM320.4 426.6h0.7v0.7h-0.7zM317.8 422.7h0.7v0.7h-0.7zM319.8 429.3h0.7v0.7h-0.7zM316.2 426.2h0.7v0.7h-0.7zM315.0 421.7h0.7v0.7h-0.7zM316.9 425.0h0.7v0.7h-0.7zM320.6 426.1h0.7v0.7h-0.7zM320.8 419.7h0.7v0.7h-0.7zM311.5 423.3h0.7v0.7h-0.7zM313.7 429.4h0.7v0.7h-0.7zM316.6 424.8h0.7v0.7h-0.7zM315.3 425.8h0.7v0.7h-0.7zM314.0 428.0h0.7v0.7h-0.7zM319.6 423.9h0.7v0.7h-0.7zM313.6 428.1h0.7v0.7h-0.7zM310.0 423.7h0.7v0.7h-0.7zM316.6 426.1h0.7v0.7h-0.7zM314.2 425.8h0.7v0.7h-0.7zM325.8 432.3h0.7v0.7h-0.7zM322.3 425.0h0.7v0.7h-0.7zM315.9 427.8h0.7v0.7h-0.7zM315.4 423.5h0.7v0.7h-0.7zM317.9 427.2h0.7v0.7h-0.7zM316.0 427.1h0.7v0.7h-0.7zM309.8 421.1h0.7v0.7h-0.7zM305.0 425.7h0.7v0.7h-0.7zM316.8 423.0h0.7v0.7h-0.7z" fill="#a8a8d8" opacity="0.5"/><path d="M314.5 424.4h0.7v0.7h-0.7zM318.2 423.7h0.7v0.7h-0.7zM323.6 429.1h0.7v0.7h-0.7zM313.3 424.8h0.7v0.7h-0.7zM316.6 425.3h0.7v0.7h-0.7zM314.9 424.4h0.7v0.7h-0.7zM320.8 424.2h0.7v0.7h-0.7zM322.0 429.1h0.7v0.7h-0.7zM316.4 427.6h0.7v0.7h-0.7zM318.8 429.3h0.7v0.7h-0.7zM311.3 425.2h0.7v0.7h-0.7zM314.5 427.4h0.7v0.7h-0.7zM317.4 429.9h0.7v0.7h-0.7zM309.9 425.8h0.7v0.7h-0.7zM318.2 428.7h0.7v0.7h-0.7zM316.6 426.7h0.7v0.7h-0.7zM317.2 426.8h0.7v0.7h-0.7zM313.7 426.5h0.7v0.7h-0.7zM320.8 428.9h0.7v0.7h-0.7zM319.1 427.5h0.7v0.7h-0.7zM317.8 426.1h0.7v0.7h-0.7zM315.5 425.0h0.7v0.7h-0.7zM317.0 432.1h0.7v0.7h-0.7zM319.5 427.9h0.7v0.7h-0.7zM312.8 427.1h0.7v0.7h-0.7zM312.2 429.0h0.7v0.7h-0.7zM308.4 425.5h0.7v0.7h-0.7zM315.5 425.6h0.7v0.7h-0.7zM312.3 426.4h0.7v0.7h-0.7zM320.9 427.8h0.7v0.7h-0.7zM310.9 423.8h0.7v0.7h-0.7z" fill="#b8b8e0" opacity="0.5"/>
<path d="M289.8,440.5 L296.5,431.5 L300,440.8 Z" fill="#70a840" filter="url(#b8)"/>
<path d="M291.5,440 L296.3,433.5 L298.5,440 Z" fill="#68a23a"/>
<path d="M296.2,423 L297,423 L297.2,438 L296,438 Z" fill="#5060c0" opacity="0.6" filter="url(#b4)"/>
<rect x="275" y="421.4" width="48.5" height="20.9" fill="none" stroke="#a0a0a0" stroke-width="0.8"/>
<line x1="296.6" y1="421.4" x2="296.6" y2="442.3" stroke="#a0a0a0" stroke-width="0.8"/>
<text x="277" y="438" font-size="7" text-anchor="start" stroke="#222" stroke-width="0.22" fill="#222">LK</text>
<text x="309.4" y="438" font-size="7" text-anchor="start" stroke="#222" stroke-width="0.22" fill="#222">LSK</text>
<text x="275" y="449.6" font-size="6.5" text-anchor="start" stroke="#222" stroke-width="0.22" fill="#222">77.3%</text>
<text x="306.7" y="449.6" font-size="6.5" text-anchor="start" stroke="#222" stroke-width="0.22" fill="#222">22.2%</text>
<text x="273" y="443.2" font-size="6.8" text-anchor="middle" stroke="#111" stroke-width="0.22" fill="#111" transform="rotate(-90 273 443.2)">C-Kit</text>
<text x="302.7" y="479.2" font-size="6.8" text-anchor="middle" stroke="#111" stroke-width="0.22" fill="#111">Sca-1</text>
<line x1="288" y1="440.5" x2="288" y2="490" stroke="#333" stroke-width="0.9"/>
<path d="M285.3,490.8 L290.8,490.8 L288,495 Z" fill="#111"/>
<line x1="321.5" y1="429.8" x2="334" y2="429.8" stroke="#333" stroke-width="0.9"/>
<path d="M333.6,426.6 L338,429.8 L333.6,433 Z" fill="#111"/>
<rect x="341.5" y="416.9" width="50.80000000000001" height="56.10000000000002" fill="none" stroke="#888" stroke-width="1"/>
<line x1="340.2" y1="470.0" x2="341.5" y2="470.0" stroke="#555" stroke-width="0.6"/>
<line x1="344.5" y1="473" x2="344.5" y2="474.3" stroke="#555" stroke-width="0.6"/>
<line x1="340.2" y1="457.475" x2="341.5" y2="457.475" stroke="#555" stroke-width="0.6"/>
<line x1="355.7" y1="473" x2="355.7" y2="474.3" stroke="#555" stroke-width="0.6"/>
<line x1="340.2" y1="444.95" x2="341.5" y2="444.95" stroke="#555" stroke-width="0.6"/>
<line x1="366.9" y1="473" x2="366.9" y2="474.3" stroke="#555" stroke-width="0.6"/>
<line x1="340.2" y1="432.42499999999995" x2="341.5" y2="432.42499999999995" stroke="#555" stroke-width="0.6"/>
<line x1="378.1" y1="473" x2="378.1" y2="474.3" stroke="#555" stroke-width="0.6"/>
<line x1="340.2" y1="419.9" x2="341.5" y2="419.9" stroke="#555" stroke-width="0.6"/>
<line x1="389.3" y1="473" x2="389.3" y2="474.3" stroke="#555" stroke-width="0.6"/>
<path d="M361.0 422.3h0.7v0.7h-0.7zM358.5 422.1h0.7v0.7h-0.7zM363.9 424.8h0.7v0.7h-0.7zM361.3 424.9h0.7v0.7h-0.7zM351.9 418.5h0.7v0.7h-0.7zM361.5 421.0h0.7v0.7h-0.7zM361.0 424.2h0.7v0.7h-0.7zM359.7 423.4h0.7v0.7h-0.7zM358.6 419.5h0.7v0.7h-0.7zM354.7 425.3h0.7v0.7h-0.7zM367.1 419.6h0.7v0.7h-0.7zM358.4 422.0h0.7v0.7h-0.7zM356.2 417.7h0.7v0.7h-0.7zM358.3 422.2h0.7v0.7h-0.7zM365.1 431.6h0.7v0.7h-0.7zM355.2 422.8h0.7v0.7h-0.7zM362.3 423.0h0.7v0.7h-0.7zM350.9 425.0h0.7v0.7h-0.7zM363.7 424.7h0.7v0.7h-0.7zM358.4 429.8h0.7v0.7h-0.7zM355.2 425.1h0.7v0.7h-0.7zM355.5 419.6h0.7v0.7h-0.7zM358.3 420.3h0.7v0.7h-0.7zM361.7 424.9h0.7v0.7h-0.7zM355.1 419.4h0.7v0.7h-0.7zM360.7 419.5h0.7v0.7h-0.7zM365.4 424.2h0.7v0.7h-0.7zM358.0 423.4h0.7v0.7h-0.7zM364.4 426.5h0.7v0.7h-0.7zM360.7 419.8h0.7v0.7h-0.7zM361.8 423.0h0.7v0.7h-0.7zM361.0 423.9h0.7v0.7h-0.7zM363.4 423.8h0.7v0.7h-0.7zM367.2 423.2h0.7v0.7h-0.7zM354.6 423.4h0.7v0.7h-0.7zM357.8 424.8h0.7v0.7h-0.7zM363.1 420.5h0.7v0.7h-0.7zM361.3 432.9h0.7v0.7h-0.7zM365.3 423.4h0.7v0.7h-0.7zM365.1 425.0h0.7v0.7h-0.7zM352.4 431.2h0.7v0.7h-0.7zM362.3 426.1h0.7v0.7h-0.7zM357.1 419.1h0.7v0.7h-0.7zM360.5 422.4h0.7v0.7h-0.7zM363.2 425.5h0.7v0.7h-0.7zM364.8 420.7h0.7v0.7h-0.7zM366.2 424.7h0.7v0.7h-0.7zM362.3 419.2h0.7v0.7h-0.7zM357.0 426.7h0.7v0.7h-0.7zM357.9 423.5h0.7v0.7h-0.7zM360.7 420.4h0.7v0.7h-0.7zM362.1 419.4h0.7v0.7h-0.7zM354.9 426.9h0.7v0.7h-0.7zM361.2 427.3h0.7v0.7h-0.7zM363.1 428.0h0.7v0.7h-0.7zM365.9 427.3h0.7v0.7h-0.7zM363.0 420.2h0.7v0.7h-0.7zM368.4 424.4h0.7v0.7h-0.7zM363.5 428.2h0.7v0.7h-0.7zM364.3 427.3h0.7v0.7h-0.7zM362.9 424.7h0.7v0.7h-0.7zM364.3 426.7h0.7v0.7h-0.7zM362.2 423.8h0.7v0.7h-0.7zM358.3 423.2h0.7v0.7h-0.7zM362.0 424.5h0.7v0.7h-0.7zM355.0 424.4h0.7v0.7h-0.7z" fill="#8a8ac8" opacity="0.55"/><path d="M362.9 426.5h0.7v0.7h-0.7zM357.0 421.9h0.7v0.7h-0.7zM362.4 423.9h0.7v0.7h-0.7zM354.6 427.4h0.7v0.7h-0.7zM353.6 427.7h0.7v0.7h-0.7zM349.0 426.2h0.7v0.7h-0.7zM361.0 419.2h0.7v0.7h-0.7zM356.1 420.1h0.7v0.7h-0.7zM360.4 420.8h0.7v0.7h-0.7zM358.7 420.3h0.7v0.7h-0.7zM358.6 426.8h0.7v0.7h-0.7zM360.4 428.2h0.7v0.7h-0.7zM363.6 422.5h0.7v0.7h-0.7zM356.0 422.7h0.7v0.7h-0.7zM358.6 423.1h0.7v0.7h-0.7zM358.0 426.5h0.7v0.7h-0.7zM363.6 423.6h0.7v0.7h-0.7zM362.9 425.5h0.7v0.7h-0.7zM364.0 425.8h0.7v0.7h-0.7zM361.5 422.5h0.7v0.7h-0.7zM355.4 424.5h0.7v0.7h-0.7zM352.7 422.3h0.7v0.7h-0.7zM365.1 423.7h0.7v0.7h-0.7zM359.4 421.5h0.7v0.7h-0.7zM357.6 421.9h0.7v0.7h-0.7zM359.4 424.5h0.7v0.7h-0.7zM362.0 430.9h0.7v0.7h-0.7zM352.5 423.0h0.7v0.7h-0.7zM354.7 428.6h0.7v0.7h-0.7zM361.7 425.4h0.7v0.7h-0.7zM361.9 426.9h0.7v0.7h-0.7zM361.1 423.9h0.7v0.7h-0.7zM361.7 424.5h0.7v0.7h-0.7zM363.0 425.5h0.7v0.7h-0.7zM358.2 418.6h0.7v0.7h-0.7zM362.3 420.1h0.7v0.7h-0.7zM354.2 422.2h0.7v0.7h-0.7zM354.8 429.8h0.7v0.7h-0.7zM351.8 422.1h0.7v0.7h-0.7zM358.3 426.1h0.7v0.7h-0.7zM363.0 421.0h0.7v0.7h-0.7zM361.9 419.5h0.7v0.7h-0.7zM366.0 421.6h0.7v0.7h-0.7zM361.4 423.9h0.7v0.7h-0.7z" fill="#a0a0d8" opacity="0.55"/><path d="M356.9 424.6h0.7v0.7h-0.7zM363.9 428.1h0.7v0.7h-0.7zM362.8 430.0h0.7v0.7h-0.7zM354.4 419.4h0.7v0.7h-0.7zM360.6 424.5h0.7v0.7h-0.7zM363.9 420.1h0.7v0.7h-0.7zM355.2 427.7h0.7v0.7h-0.7zM359.0 424.3h0.7v0.7h-0.7zM360.9 421.9h0.7v0.7h-0.7zM354.8 418.7h0.7v0.7h-0.7zM361.3 423.3h0.7v0.7h-0.7zM359.9 424.7h0.7v0.7h-0.7zM360.4 419.7h0.7v0.7h-0.7zM358.0 425.4h0.7v0.7h-0.7zM354.6 421.7h0.7v0.7h-0.7zM361.9 422.4h0.7v0.7h-0.7zM358.2 426.1h0.7v0.7h-0.7zM358.3 419.2h0.7v0.7h-0.7zM364.3 425.1h0.7v0.7h-0.7zM360.7 422.5h0.7v0.7h-0.7zM361.0 426.1h0.7v0.7h-0.7zM357.1 421.4h0.7v0.7h-0.7zM360.6 426.2h0.7v0.7h-0.7zM359.5 423.8h0.7v0.7h-0.7zM360.5 426.5h0.7v0.7h-0.7zM363.9 424.2h0.7v0.7h-0.7zM355.7 425.3h0.7v0.7h-0.7zM369.2 418.6h0.7v0.7h-0.7zM359.5 424.3h0.7v0.7h-0.7zM359.3 417.6h0.7v0.7h-0.7zM360.9 428.0h0.7v0.7h-0.7zM351.2 421.0h0.7v0.7h-0.7zM356.8 423.0h0.7v0.7h-0.7zM358.4 424.6h0.7v0.7h-0.7zM360.2 423.8h0.7v0.7h-0.7zM360.4 430.2h0.7v0.7h-0.7zM358.6 422.3h0.7v0.7h-0.7zM371.5 425.0h0.7v0.7h-0.7zM357.6 422.4h0.7v0.7h-0.7zM359.2 418.0h0.7v0.7h-0.7zM348.7 420.6h0.7v0.7h-0.7zM364.2 422.4h0.7v0.7h-0.7zM360.3 426.7h0.7v0.7h-0.7zM361.3 429.8h0.7v0.7h-0.7zM359.7 424.0h0.7v0.7h-0.7zM356.3 422.6h0.7v0.7h-0.7zM363.9 426.3h0.7v0.7h-0.7zM350.1 430.4h0.7v0.7h-0.7zM357.0 420.8h0.7v0.7h-0.7zM356.6 423.3h0.7v0.7h-0.7zM360.0 422.0h0.7v0.7h-0.7zM359.9 422.4h0.7v0.7h-0.7zM364.0 428.4h0.7v0.7h-0.7zM364.4 432.9h0.7v0.7h-0.7zM364.9 425.1h0.7v0.7h-0.7zM358.0 428.1h0.7v0.7h-0.7zM359.6 425.3h0.7v0.7h-0.7zM365.6 421.6h0.7v0.7h-0.7zM358.9 421.8h0.7v0.7h-0.7zM359.6 422.4h0.7v0.7h-0.7zM362.3 425.7h0.7v0.7h-0.7zM360.0 424.2h0.7v0.7h-0.7zM360.3 422.9h0.7v0.7h-0.7zM359.6 427.5h0.7v0.7h-0.7z" fill="#7878b8" opacity="0.55"/>
<ellipse cx="360" cy="423.5" rx="5" ry="4" fill="#a0a0d0" opacity="0.4" filter="url(#b12)"/>
<line x1="365.4" y1="416.9" x2="365.4" y2="473" stroke="#777" stroke-width="0.8"/>
<line x1="341.5" y1="436.2" x2="392.3" y2="436.2" stroke="#777" stroke-width="0.8"/>
<text x="342.3" y="427.5" font-size="7" text-anchor="start" stroke="#222" stroke-width="0.22" fill="#222">MPP</text>
<text x="342.3" y="436.2" font-size="7" text-anchor="start" stroke="#222" stroke-width="0.22" fill="#222">95.6%</text>
<text x="340" y="443.8" font-size="7" text-anchor="middle" stroke="#111" stroke-width="0.22" fill="#111" transform="rotate(-90 340 443.8)">CD48</text>
<text x="370" y="480.2" font-size="7.3" text-anchor="middle" stroke="#111" stroke-width="0.22" fill="#111">CD150</text>
<rect x="273.5" y="489.2" width="52.69999999999999" height="56.19999999999999" fill="none" stroke="#888" stroke-width="1"/>
<line x1="272.2" y1="542.4" x2="273.5" y2="542.4" stroke="#555" stroke-width="0.6"/>
<line x1="276.5" y1="545.4" x2="276.5" y2="546.6999999999999" stroke="#555" stroke-width="0.6"/>
<line x1="272.2" y1="529.85" x2="273.5" y2="529.85" stroke="#555" stroke-width="0.6"/>
<line x1="288.175" y1="545.4" x2="288.175" y2="546.6999999999999" stroke="#555" stroke-width="0.6"/>
<line x1="272.2" y1="517.3" x2="273.5" y2="517.3" stroke="#555" stroke-width="0.6"/>
<line x1="299.85" y1="545.4" x2="299.85" y2="546.6999999999999" stroke="#555" stroke-width="0.6"/>
<line x1="272.2" y1="504.75" x2="273.5" y2="504.75" stroke="#555" stroke-width="0.6"/>
<line x1="311.525" y1="545.4" x2="311.525" y2="546.6999999999999" stroke="#555" stroke-width="0.6"/>
<line x1="272.2" y1="492.2" x2="273.5" y2="492.2" stroke="#555" stroke-width="0.6"/>
<line x1="323.2" y1="545.4" x2="323.2" y2="546.6999999999999" stroke="#555" stroke-width="0.6"/>
<path d="M293.9 508.0h0.7v0.7h-0.7zM293.9 515.7h0.7v0.7h-0.7zM299.8 508.8h0.7v0.7h-0.7zM300.9 511.7h0.7v0.7h-0.7zM280.1 512.5h0.7v0.7h-0.7zM288.3 508.6h0.7v0.7h-0.7zM293.7 507.9h0.7v0.7h-0.7zM281.0 507.9h0.7v0.7h-0.7zM275.4 515.1h0.7v0.7h-0.7zM301.0 513.9h0.7v0.7h-0.7zM287.3 515.1h0.7v0.7h-0.7zM296.0 512.1h0.7v0.7h-0.7zM293.6 511.3h0.7v0.7h-0.7zM294.8 514.5h0.7v0.7h-0.7zM291.0 514.1h0.7v0.7h-0.7zM294.4 513.6h0.7v0.7h-0.7zM301.4 504.0h0.7v0.7h-0.7zM275.4 509.8h0.7v0.7h-0.7zM282.3 510.5h0.7v0.7h-0.7zM278.2 512.1h0.7v0.7h-0.7zM291.6 511.3h0.7v0.7h-0.7zM285.3 516.4h0.7v0.7h-0.7zM294.8 507.1h0.7v0.7h-0.7zM282.8 513.7h0.7v0.7h-0.7zM287.9 509.8h0.7v0.7h-0.7zM292.5 513.3h0.7v0.7h-0.7zM297.8 511.6h0.7v0.7h-0.7zM290.2 512.2h0.7v0.7h-0.7zM299.8 516.3h0.7v0.7h-0.7zM278.4 512.9h0.7v0.7h-0.7zM294.5 507.8h0.7v0.7h-0.7zM299.2 507.0h0.7v0.7h-0.7zM285.6 507.7h0.7v0.7h-0.7zM292.0 509.9h0.7v0.7h-0.7zM284.9 512.0h0.7v0.7h-0.7zM284.3 509.2h0.7v0.7h-0.7zM282.9 514.2h0.7v0.7h-0.7zM284.4 511.1h0.7v0.7h-0.7zM288.3 512.6h0.7v0.7h-0.7zM308.4 512.2h0.7v0.7h-0.7zM291.1 509.9h0.7v0.7h-0.7zM294.7 518.6h0.7v0.7h-0.7zM281.3 519.3h0.7v0.7h-0.7zM286.5 517.1h0.7v0.7h-0.7zM285.5 507.7h0.7v0.7h-0.7zM282.5 511.3h0.7v0.7h-0.7zM291.4 513.8h0.7v0.7h-0.7zM284.4 510.6h0.7v0.7h-0.7zM285.2 507.2h0.7v0.7h-0.7zM290.9 508.9h0.7v0.7h-0.7zM288.5 516.1h0.7v0.7h-0.7zM282.3 519.0h0.7v0.7h-0.7zM285.6 509.7h0.7v0.7h-0.7zM276.3 510.5h0.7v0.7h-0.7zM290.6 510.0h0.7v0.7h-0.7zM288.3 516.4h0.7v0.7h-0.7zM287.5 514.2h0.7v0.7h-0.7zM287.9 511.5h0.7v0.7h-0.7zM298.2 513.8h0.7v0.7h-0.7zM304.8 512.9h0.7v0.7h-0.7zM293.3 518.8h0.7v0.7h-0.7zM285.0 514.0h0.7v0.7h-0.7zM277.5 512.6h0.7v0.7h-0.7z" fill="#9090c8" opacity="0.5"/><path d="M288.2 512.2h0.7v0.7h-0.7zM283.2 510.4h0.7v0.7h-0.7zM280.0 513.4h0.7v0.7h-0.7zM287.8 513.8h0.7v0.7h-0.7zM280.4 512.1h0.7v0.7h-0.7zM294.6 509.7h0.7v0.7h-0.7zM291.7 513.4h0.7v0.7h-0.7zM298.3 510.1h0.7v0.7h-0.7zM275.8 509.2h0.7v0.7h-0.7zM289.4 507.7h0.7v0.7h-0.7zM293.8 515.5h0.7v0.7h-0.7zM287.0 507.8h0.7v0.7h-0.7zM278.0 511.3h0.7v0.7h-0.7zM302.6 510.0h0.7v0.7h-0.7zM289.9 513.8h0.7v0.7h-0.7zM281.8 510.2h0.7v0.7h-0.7zM291.3 510.3h0.7v0.7h-0.7zM296.1 510.6h0.7v0.7h-0.7zM295.7 513.2h0.7v0.7h-0.7zM285.8 510.2h0.7v0.7h-0.7zM286.6 519.1h0.7v0.7h-0.7zM291.7 511.7h0.7v0.7h-0.7zM288.9 511.0h0.7v0.7h-0.7zM283.2 518.5h0.7v0.7h-0.7zM290.8 517.7h0.7v0.7h-0.7zM294.5 512.5h0.7v0.7h-0.7zM299.5 504.7h0.7v0.7h-0.7zM294.4 511.1h0.7v0.7h-0.7zM300.6 508.3h0.7v0.7h-0.7zM292.2 508.8h0.7v0.7h-0.7zM285.0 515.3h0.7v0.7h-0.7zM290.5 513.0h0.7v0.7h-0.7zM292.5 516.2h0.7v0.7h-0.7zM292.5 513.9h0.7v0.7h-0.7zM286.6 514.3h0.7v0.7h-0.7zM282.5 505.9h0.7v0.7h-0.7zM303.1 515.6h0.7v0.7h-0.7zM292.5 507.3h0.7v0.7h-0.7zM294.8 504.4h0.7v0.7h-0.7zM296.9 512.6h0.7v0.7h-0.7zM291.9 512.7h0.7v0.7h-0.7zM287.8 514.9h0.7v0.7h-0.7zM288.5 509.3h0.7v0.7h-0.7zM284.6 504.9h0.7v0.7h-0.7zM290.6 509.8h0.7v0.7h-0.7zM278.0 518.4h0.7v0.7h-0.7zM294.1 508.2h0.7v0.7h-0.7zM276.4 515.9h0.7v0.7h-0.7zM280.8 510.3h0.7v0.7h-0.7zM294.8 506.2h0.7v0.7h-0.7zM287.5 507.6h0.7v0.7h-0.7zM299.5 510.8h0.7v0.7h-0.7zM276.4 512.2h0.7v0.7h-0.7zM286.0 504.7h0.7v0.7h-0.7zM296.9 507.9h0.7v0.7h-0.7zM283.0 509.5h0.7v0.7h-0.7zM291.2 514.3h0.7v0.7h-0.7zM279.9 516.3h0.7v0.7h-0.7zM283.1 513.8h0.7v0.7h-0.7zM298.0 510.8h0.7v0.7h-0.7zM295.3 509.5h0.7v0.7h-0.7zM292.9 511.4h0.7v0.7h-0.7zM288.6 510.0h0.7v0.7h-0.7zM281.9 512.4h0.7v0.7h-0.7zM295.1 513.3h0.7v0.7h-0.7zM293.4 513.8h0.7v0.7h-0.7zM291.1 515.5h0.7v0.7h-0.7zM291.3 503.6h0.7v0.7h-0.7zM284.1 506.2h0.7v0.7h-0.7zM278.0 512.2h0.7v0.7h-0.7zM293.3 515.0h0.7v0.7h-0.7zM284.6 510.2h0.7v0.7h-0.7zM289.1 513.4h0.7v0.7h-0.7zM279.6 511.3h0.7v0.7h-0.7zM275.6 514.8h0.7v0.7h-0.7zM290.6 509.0h0.7v0.7h-0.7z" fill="#b0b0d0" opacity="0.5"/><path d="M289.9 506.6h0.7v0.7h-0.7zM283.4 504.6h0.7v0.7h-0.7zM297.8 515.0h0.7v0.7h-0.7zM293.2 516.1h0.7v0.7h-0.7zM277.8 512.3h0.7v0.7h-0.7zM283.7 507.3h0.7v0.7h-0.7zM289.4 512.0h0.7v0.7h-0.7zM287.5 511.0h0.7v0.7h-0.7zM289.8 513.6h0.7v0.7h-0.7zM287.5 516.5h0.7v0.7h-0.7zM294.0 510.0h0.7v0.7h-0.7zM291.4 514.4h0.7v0.7h-0.7zM298.7 513.5h0.7v0.7h-0.7zM299.1 505.5h0.7v0.7h-0.7zM293.1 509.5h0.7v0.7h-0.7zM291.7 509.5h0.7v0.7h-0.7zM287.7 513.1h0.7v0.7h-0.7zM288.4 510.9h0.7v0.7h-0.7zM290.0 515.2h0.7v0.7h-0.7zM301.6 519.2h0.7v0.7h-0.7zM293.6 514.3h0.7v0.7h-0.7zM290.9 518.0h0.7v0.7h-0.7zM289.8 512.7h0.7v0.7h-0.7zM289.6 511.5h0.7v0.7h-0.7zM274.1 517.6h0.7v0.7h-0.7zM279.6 512.4h0.7v0.7h-0.7zM286.5 507.3h0.7v0.7h-0.7zM291.9 512.0h0.7v0.7h-0.7zM287.1 515.5h0.7v0.7h-0.7zM280.3 509.6h0.7v0.7h-0.7zM289.9 514.4h0.7v0.7h-0.7zM287.9 512.9h0.7v0.7h-0.7zM287.4 506.2h0.7v0.7h-0.7zM287.1 511.0h0.7v0.7h-0.7zM288.7 513.8h0.7v0.7h-0.7zM290.6 515.0h0.7v0.7h-0.7zM284.7 515.0h0.7v0.7h-0.7zM291.4 509.8h0.7v0.7h-0.7zM288.5 513.0h0.7v0.7h-0.7zM289.1 507.6h0.7v0.7h-0.7zM275.7 510.1h0.7v0.7h-0.7zM290.5 509.2h0.7v0.7h-0.7zM284.7 508.2h0.7v0.7h-0.7zM280.8 511.0h0.7v0.7h-0.7zM283.5 511.7h0.7v0.7h-0.7zM288.5 512.0h0.7v0.7h-0.7zM289.5 512.5h0.7v0.7h-0.7zM292.2 507.2h0.7v0.7h-0.7zM293.1 510.1h0.7v0.7h-0.7zM293.7 520.8h0.7v0.7h-0.7zM279.3 508.8h0.7v0.7h-0.7zM289.9 509.2h0.7v0.7h-0.7zM280.8 520.7h0.7v0.7h-0.7zM289.1 509.8h0.7v0.7h-0.7zM300.1 515.3h0.7v0.7h-0.7zM285.5 506.4h0.7v0.7h-0.7zM295.5 509.7h0.7v0.7h-0.7zM296.6 506.6h0.7v0.7h-0.7zM296.8 510.7h0.7v0.7h-0.7zM294.1 509.6h0.7v0.7h-0.7zM294.3 508.0h0.7v0.7h-0.7zM293.6 518.8h0.7v0.7h-0.7zM285.3 512.0h0.7v0.7h-0.7zM296.3 515.7h0.7v0.7h-0.7zM297.1 515.6h0.7v0.7h-0.7zM296.3 515.5h0.7v0.7h-0.7zM284.0 512.8h0.7v0.7h-0.7zM291.4 511.3h0.7v0.7h-0.7zM287.5 508.4h0.7v0.7h-0.7z" fill="#a8a8d8" opacity="0.5"/><path d="M291.6 513.5h0.7v0.7h-0.7zM288.0 512.3h0.7v0.7h-0.7zM296.3 509.2h0.7v0.7h-0.7zM285.0 510.5h0.7v0.7h-0.7zM292.9 508.4h0.7v0.7h-0.7zM276.0 512.5h0.7v0.7h-0.7zM284.6 516.3h0.7v0.7h-0.7zM294.4 515.2h0.7v0.7h-0.7zM287.2 513.5h0.7v0.7h-0.7zM301.5 508.7h0.7v0.7h-0.7zM287.4 509.0h0.7v0.7h-0.7zM287.7 517.7h0.7v0.7h-0.7zM288.6 504.9h0.7v0.7h-0.7zM290.8 507.8h0.7v0.7h-0.7zM288.6 518.0h0.7v0.7h-0.7zM283.2 511.1h0.7v0.7h-0.7zM285.2 508.2h0.7v0.7h-0.7zM295.6 509.9h0.7v0.7h-0.7zM290.7 510.5h0.7v0.7h-0.7zM278.2 513.2h0.7v0.7h-0.7zM283.6 514.2h0.7v0.7h-0.7zM290.8 516.5h0.7v0.7h-0.7zM303.1 514.3h0.7v0.7h-0.7zM286.1 509.4h0.7v0.7h-0.7zM287.0 511.2h0.7v0.7h-0.7zM291.0 503.8h0.7v0.7h-0.7zM288.2 512.9h0.7v0.7h-0.7zM281.6 512.8h0.7v0.7h-0.7zM290.4 510.2h0.7v0.7h-0.7zM288.6 505.7h0.7v0.7h-0.7zM287.6 498.7h0.7v0.7h-0.7zM275.4 515.5h0.7v0.7h-0.7zM290.8 509.5h0.7v0.7h-0.7zM288.4 512.9h0.7v0.7h-0.7zM277.0 507.2h0.7v0.7h-0.7zM285.5 510.1h0.7v0.7h-0.7zM287.9 510.1h0.7v0.7h-0.7zM287.4 511.0h0.7v0.7h-0.7zM289.6 509.0h0.7v0.7h-0.7zM277.1 510.2h0.7v0.7h-0.7zM291.9 515.7h0.7v0.7h-0.7zM291.2 506.4h0.7v0.7h-0.7zM293.3 513.3h0.7v0.7h-0.7zM282.7 516.7h0.7v0.7h-0.7zM286.1 510.8h0.7v0.7h-0.7zM287.4 507.3h0.7v0.7h-0.7zM299.7 511.6h0.7v0.7h-0.7zM297.5 507.3h0.7v0.7h-0.7zM296.4 509.9h0.7v0.7h-0.7zM293.7 503.6h0.7v0.7h-0.7zM298.0 514.4h0.7v0.7h-0.7zM286.1 519.0h0.7v0.7h-0.7zM302.6 514.7h0.7v0.7h-0.7zM292.9 514.9h0.7v0.7h-0.7zM288.1 510.2h0.7v0.7h-0.7zM283.4 516.3h0.7v0.7h-0.7zM288.6 514.9h0.7v0.7h-0.7zM293.4 513.8h0.7v0.7h-0.7zM299.5 510.9h0.7v0.7h-0.7zM290.4 511.8h0.7v0.7h-0.7zM288.1 514.1h0.7v0.7h-0.7zM286.9 514.8h0.7v0.7h-0.7zM282.6 514.1h0.7v0.7h-0.7zM284.8 512.9h0.7v0.7h-0.7zM287.2 515.9h0.7v0.7h-0.7zM288.6 510.3h0.7v0.7h-0.7zM289.5 511.3h0.7v0.7h-0.7zM290.2 516.7h0.7v0.7h-0.7zM287.3 517.0h0.7v0.7h-0.7zM292.4 510.2h0.7v0.7h-0.7zM305.0 506.7h0.7v0.7h-0.7zM283.0 510.6h0.7v0.7h-0.7zM289.0 511.1h0.7v0.7h-0.7zM294.9 511.5h0.7v0.7h-0.7zM290.0 517.9h0.7v0.7h-0.7zM290.8 511.1h0.7v0.7h-0.7zM287.6 506.1h0.7v0.7h-0.7zM287.8 506.1h0.7v0.7h-0.7zM293.6 508.3h0.7v0.7h-0.7zM288.0 510.2h0.7v0.7h-0.7zM281.9 512.4h0.7v0.7h-0.7zM295.2 505.3h0.7v0.7h-0.7zM295.5 508.9h0.7v0.7h-0.7zM288.6 510.6h0.7v0.7h-0.7zM279.1 513.8h0.7v0.7h-0.7zM281.5 513.6h0.7v0.7h-0.7z" fill="#8080b8" opacity="0.5"/>
<ellipse cx="295" cy="511" rx="5.5" ry="3.5" fill="#707088" opacity="0.6" filter="url(#b12)"/>
<ellipse cx="291" cy="512" rx="8" ry="4" fill="#a0a0c8" opacity="0.4" filter="url(#b15)"/>
<rect x="288.5" y="506" width="18.5" height="11.7" fill="none" stroke="#777" stroke-width="0.8"/>
<rect x="300.3" y="521.8" width="8.7" height="10.5" fill="none" stroke="#888" stroke-width="0.8"/>
<rect x="278.8" y="523.4" width="11.7" height="20.4" fill="none" stroke="#888" stroke-width="0.8"/>
<text x="301.5" y="498" font-size="7" text-anchor="middle" stroke="#222" stroke-width="0.22" fill="#222">GMP</text>
<text x="300.8" y="506.4" font-size="7" text-anchor="middle" stroke="#222" stroke-width="0.22" fill="#222">89%</text>
<text x="310" y="527" font-size="7" text-anchor="start" stroke="#222" stroke-width="0.22" fill="#222">CMP</text>
<text x="279.2" y="540.8" font-size="7" text-anchor="start" stroke="#222" stroke-width="0.22" fill="#222">MEP</text>
<text x="271" y="515.1" font-size="7" text-anchor="middle" stroke="#111" stroke-width="0.22" fill="#111" transform="rotate(-90 271 515.1)">CD16/32</text>
<text x="300.3" y="552.6" font-size="7" text-anchor="middle" stroke="#111" stroke-width="0.22" fill="#111">CD34</text>
<text x="479.1" y="409" font-size="8.8" text-anchor="middle" stroke="#111" stroke-width="0.22" fill="#111">Morphology</text>
<text x="419.7" y="448.5" font-size="8.8" text-anchor="middle" stroke="#111" stroke-width="0.22" fill="#111">Wild Type</text>
<text x="413.7" y="523.2" font-size="8.8" text-anchor="middle" stroke="#111" stroke-width="0.22" fill="#111">Homozygous</text>
<rect x="447" y="412" width="66" height="58.5" fill="#efe2ec" stroke="none" stroke-width="1"/>
<g clip-path="url(#cwt)">
<ellipse cx="462" cy="420" rx="12" ry="6" fill="#f4eaf2" opacity="0.8" filter="url(#b15)"/>
<g filter="url(#b4)"><circle cx="483.1" cy="419.6" r="9.66" fill="#d8bcdc" stroke="#f4e8f4" stroke-width="0.6"/><ellipse cx="482.6" cy="419.3" rx="3.30" ry="2.67" fill="#9c78b8" opacity="0.7"/><ellipse cx="481.8" cy="418.8" rx="2.15" ry="2.02" fill="#9c78b8" opacity="0.9"/><ellipse cx="484.7" cy="420.8" rx="2.29" ry="2.61" fill="#9c78b8" opacity="0.9"/></g>
<g filter="url(#b4)"><circle cx="508.5" cy="416.5" r="5.670000000000001" fill="#b898c8" stroke="#f4e8f4" stroke-width="0.6"/><ellipse cx="508.2" cy="416.1" rx="3.34" ry="2.72" fill="#9472b2" opacity="0.7"/><ellipse cx="510.1" cy="416.8" rx="1.80" ry="1.59" fill="#9472b2" opacity="0.9"/><ellipse cx="507.6" cy="415.9" rx="1.50" ry="1.71" fill="#9472b2" opacity="0.9"/></g>
<g filter="url(#b4)"><circle cx="508.5" cy="425.8" r="5.670000000000001" fill="#b898c8" stroke="#f4e8f4" stroke-width="0.6"/><ellipse cx="508.8" cy="425.3" rx="3.34" ry="3.54" fill="#9472b2" opacity="0.7"/><ellipse cx="507.2" cy="426.2" rx="1.78" ry="1.70" fill="#9472b2" opacity="0.9"/><ellipse cx="507.2" cy="425.3" rx="1.51" ry="1.80" fill="#9472b2" opacity="0.9"/></g>
<g filter="url(#b4)"><circle cx="455.4" cy="431.2" r="6.09" fill="#ba9aca" stroke="#f4e8f4" stroke-width="0.6"/><ellipse cx="455.3" cy="430.7" rx="3.59" ry="3.68" fill="#9674b4" opacity="0.7"/><ellipse cx="455.9" cy="432.2" rx="1.25" ry="1.66" fill="#9674b4" opacity="0.9"/><ellipse cx="455.9" cy="429.4" rx="1.77" ry="1.88" fill="#9674b4" opacity="0.9"/></g>
<g filter="url(#b4)"><circle cx="452.3" cy="439.6" r="6.300000000000001" fill="#ba9aca" stroke="#f4e8f4" stroke-width="0.6"/><ellipse cx="451.9" cy="439.6" rx="3.71" ry="3.17" fill="#9674b4" opacity="0.7"/><ellipse cx="451.6" cy="438.0" rx="1.51" ry="1.65" fill="#9674b4" opacity="0.9"/><ellipse cx="450.0" cy="439.0" rx="1.97" ry="1.82" fill="#9674b4" opacity="0.9"/></g>
<g filter="url(#b4)"><circle cx="448.5" cy="449.6" r="4.2" fill="#c4a4d2" stroke="#f4e8f4" stroke-width="0.6"/><ellipse cx="448.4" cy="449.3" rx="1.99" ry="1.67" fill="#a482c0" opacity="0.7"/><ellipse cx="448.9" cy="450.3" rx="0.93" ry="1.04" fill="#a482c0" opacity="0.9"/><ellipse cx="449.1" cy="448.1" rx="1.14" ry="1.08" fill="#a482c0" opacity="0.9"/></g>
<g filter="url(#b4)"><circle cx="471.5" cy="430.4" r="5.25" fill="#b898c8" stroke="#f4e8f4" stroke-width="0.6"/><ellipse cx="471.1" cy="430.1" rx="3.09" ry="2.90" fill="#9472b2" opacity="0.7"/><ellipse cx="471.8" cy="431.1" rx="1.28" ry="1.45" fill="#9472b2" opacity="0.9"/><ellipse cx="471.2" cy="431.7" rx="1.54" ry="1.43" fill="#9472b2" opacity="0.9"/></g>
<g filter="url(#b4)"><circle cx="479.2" cy="431.2" r="5.25" fill="#b898c8" stroke="#f4e8f4" stroke-width="0.6"/><ellipse cx="479.1" cy="430.7" rx="3.09" ry="3.27" fill="#9472b2" opacity="0.7"/><ellipse cx="480.7" cy="431.4" rx="1.12" ry="1.59" fill="#9472b2" opacity="0.9"/><ellipse cx="479.8" cy="432.2" rx="1.29" ry="1.40" fill="#9472b2" opacity="0.9"/></g>
<g filter="url(#b4)"><circle cx="474.6" cy="439.6" r="5.670000000000001" fill="#b898c8" stroke="#f4e8f4" stroke-width="0.6"/><ellipse cx="475.0" cy="439.4" rx="3.34" ry="2.76" fill="#9472b2" opacity="0.7"/><ellipse cx="473.9" cy="438.7" rx="1.42" ry="1.62" fill="#9472b2" opacity="0.9"/><ellipse cx="475.1" cy="441.6" rx="1.31" ry="1.27" fill="#9472b2" opacity="0.9"/></g>
<g filter="url(#b4)"><circle cx="480.0" cy="440.4" r="4.83" fill="#b898c8" stroke="#f4e8f4" stroke-width="0.6"/><ellipse cx="480.1" cy="439.9" rx="2.84" ry="2.58" fill="#9472b2" opacity="0.7"/><ellipse cx="481.1" cy="438.9" rx="1.32" ry="1.37" fill="#9472b2" opacity="0.9"/><ellipse cx="480.9" cy="440.8" rx="1.06" ry="1.40" fill="#9472b2" opacity="0.9"/></g>
<g filter="url(#b4)"><circle cx="490.8" cy="437.3" r="6.09" fill="#b898c8" stroke="#f4e8f4" stroke-width="0.6"/><ellipse cx="490.2" cy="436.8" rx="3.59" ry="3.19" fill="#9472b2" opacity="0.7"/><ellipse cx="490.4" cy="438.5" rx="1.61" ry="1.38" fill="#9472b2" opacity="0.9"/><ellipse cx="491.9" cy="438.7" rx="1.84" ry="1.33" fill="#9472b2" opacity="0.9"/></g>
<g filter="url(#b4)"><circle cx="495.4" cy="445.8" r="5.670000000000001" fill="#b898c8" stroke="#f4e8f4" stroke-width="0.6"/><ellipse cx="495.8" cy="446.3" rx="3.34" ry="2.84" fill="#9472b2" opacity="0.7"/><ellipse cx="493.9" cy="445.3" rx="1.58" ry="1.71" fill="#9472b2" opacity="0.9"/><ellipse cx="496.4" cy="445.7" rx="1.62" ry="1.65" fill="#9472b2" opacity="0.9"/></g>
<g filter="url(#b4)"><circle cx="463.0" cy="455.8" r="6.09" fill="#b898c8" stroke="#f4e8f4" stroke-width="0.6"/><ellipse cx="462.4" cy="455.9" rx="3.59" ry="3.02" fill="#9472b2" opacity="0.7"/><ellipse cx="462.9" cy="457.0" rx="1.76" ry="1.35" fill="#9472b2" opacity="0.9"/><ellipse cx="465.0" cy="457.2" rx="1.44" ry="1.53" fill="#9472b2" opacity="0.9"/></g>
<g filter="url(#b4)"><circle cx="470.8" cy="452.7" r="5.25" fill="#b898c8" stroke="#f4e8f4" stroke-width="0.6"/><ellipse cx="470.8" cy="452.3" rx="3.09" ry="3.27" fill="#9472b2" opacity="0.7"/><ellipse cx="469.8" cy="452.5" rx="1.30" ry="1.24" fill="#9472b2" opacity="0.9"/><ellipse cx="469.7" cy="452.0" rx="1.61" ry="1.39" fill="#9472b2" opacity="0.9"/></g>
<g filter="url(#b4)"><circle cx="476.2" cy="459.6" r="5.25" fill="#b898c8" stroke="#f4e8f4" stroke-width="0.6"/><ellipse cx="475.6" cy="459.6" rx="3.09" ry="2.55" fill="#9472b2" opacity="0.7"/><ellipse cx="476.4" cy="461.7" rx="1.09" ry="1.33" fill="#9472b2" opacity="0.9"/><ellipse cx="477.2" cy="460.2" rx="1.29" ry="1.07" fill="#9472b2" opacity="0.9"/></g>
<g filter="url(#b4)"><circle cx="467.7" cy="465.0" r="6.09" fill="#b898c8" stroke="#f4e8f4" stroke-width="0.6"/><ellipse cx="467.2" cy="464.4" rx="3.59" ry="3.80" fill="#9472b2" opacity="0.7"/><ellipse cx="466.5" cy="465.3" rx="1.24" ry="1.27" fill="#9472b2" opacity="0.9"/><ellipse cx="466.7" cy="463.3" rx="1.38" ry="1.79" fill="#9472b2" opacity="0.9"/></g>
<g filter="url(#b4)"><circle cx="500.8" cy="458.0" r="6.09" fill="#b696c6" stroke="#f4e8f4" stroke-width="0.6"/><ellipse cx="500.6" cy="458.2" rx="3.59" ry="3.79" fill="#9270b0" opacity="0.7"/><ellipse cx="500.1" cy="456.9" rx="1.80" ry="1.42" fill="#9270b0" opacity="0.9"/><ellipse cx="501.9" cy="456.1" rx="1.70" ry="1.60" fill="#9270b0" opacity="0.9"/></g>
<g filter="url(#b4)"><circle cx="493.8" cy="465.0" r="6.300000000000001" fill="#b696c6" stroke="#f4e8f4" stroke-width="0.6"/><ellipse cx="493.3" cy="464.6" rx="3.71" ry="3.76" fill="#9270b0" opacity="0.7"/><ellipse cx="494.8" cy="464.3" rx="1.80" ry="1.44" fill="#9270b0" opacity="0.9"/><ellipse cx="494.6" cy="466.9" rx="1.40" ry="1.75" fill="#9270b0" opacity="0.9"/></g>
</g>
<path d="M493.0,426.5 L499.4,427.4 L496.9,431.7 Z" fill="#111"/>
<line x1="504" y1="433" x2="498.2" y2="429.6" stroke="#222" stroke-width="0.8"/>
<path d="M480.8,448.0 L486.7,450.7 L483.0,454.1 Z" fill="#111"/>
<line x1="489.5" y1="457.5" x2="484.9" y2="452.4" stroke="#222" stroke-width="0.8"/>
<text x="506.4" y="436.3" font-size="5.6" text-anchor="middle" font-weight="bold" stroke="#111" stroke-width="0.08" fill="#111">M</text>
<text x="490.3" y="461.2" font-size="5.6" text-anchor="middle" font-weight="bold" stroke="#111" stroke-width="0.08" fill="#111">G</text>
<line x1="504.2" y1="469.2" x2="510.5" y2="469.2" stroke="#444" stroke-width="0.6"/>
<rect x="447" y="474.6" width="65.5" height="64" fill="#efe2ec" stroke="none" stroke-width="1"/>
<g clip-path="url(#cho)">
<g filter="url(#b4)"><circle cx="451.0" cy="486.8" r="3.4" fill="#c8a8d0" stroke="#f0e4f0" stroke-width="0.6"/><ellipse cx="451.0" cy="486.7" rx="1.70" ry="1.45" fill="#b090c0" opacity="0.7"/></g>
<g filter="url(#b4)"><circle cx="478.0" cy="476.7" r="5.13" fill="#8e76b8" stroke="#e8dcee" stroke-width="0.6"/><ellipse cx="477.6" cy="476.9" rx="3.59" ry="2.94" fill="#7860a6" opacity="0.7"/><ellipse cx="478.8" cy="475.0" rx="1.42" ry="1.57" fill="#7860a6" opacity="0.9"/></g>
<g filter="url(#b4)"><circle cx="486.0" cy="478.0" r="5.13" fill="#8e76b8" stroke="#e8dcee" stroke-width="0.6"/><ellipse cx="486.1" cy="478.0" rx="3.59" ry="3.18" fill="#7860a6" opacity="0.7"/><ellipse cx="486.6" cy="478.8" rx="1.30" ry="1.61" fill="#7860a6" opacity="0.9"/></g>
<g filter="url(#b4)"><circle cx="461.8" cy="481.4" r="5.4719999999999995" fill="#8e76b8" stroke="#e8dcee" stroke-width="0.6"/><ellipse cx="461.4" cy="481.2" rx="3.83" ry="3.33" fill="#7860a6" opacity="0.7"/><ellipse cx="463.8" cy="481.0" rx="1.54" ry="1.10" fill="#7860a6" opacity="0.9"/></g>
<g filter="url(#b4)"><circle cx="468.6" cy="481.4" r="5.4719999999999995" fill="#8e76b8" stroke="#e8dcee" stroke-width="0.6"/><ellipse cx="468.4" cy="481.4" rx="3.83" ry="3.84" fill="#7860a6" opacity="0.7"/><ellipse cx="469.1" cy="480.0" rx="1.44" ry="1.15" fill="#7860a6" opacity="0.9"/></g>
<g filter="url(#b4)"><circle cx="475.3" cy="481.4" r="5.4719999999999995" fill="#8e76b8" stroke="#e8dcee" stroke-width="0.6"/><ellipse cx="475.0" cy="481.1" rx="3.83" ry="3.64" fill="#7860a6" opacity="0.7"/><ellipse cx="476.5" cy="481.4" rx="1.57" ry="1.68" fill="#7860a6" opacity="0.9"/></g>
<g filter="url(#b4)"><circle cx="482.0" cy="482.8" r="6.156" fill="#8e76b8" stroke="#e8dcee" stroke-width="0.6"/><ellipse cx="482.3" cy="482.6" rx="4.31" ry="4.72" fill="#7860a6" opacity="0.7"/><ellipse cx="480.9" cy="483.0" rx="1.59" ry="1.54" fill="#7860a6" opacity="0.9"/></g>
<g filter="url(#b4)"><circle cx="481.3" cy="490.8" r="6.156" fill="#8e76b8" stroke="#e8dcee" stroke-width="0.6"/><ellipse cx="481.5" cy="491.3" rx="4.31" ry="3.78" fill="#7860a6" opacity="0.7"/><ellipse cx="481.2" cy="489.5" rx="1.77" ry="1.79" fill="#7860a6" opacity="0.9"/></g>
<g filter="url(#b4)"><circle cx="487.5" cy="489.0" r="5.243999999999999" fill="#8e76b8" stroke="#e8dcee" stroke-width="0.6"/><ellipse cx="487.0" cy="489.3" rx="3.67" ry="3.31" fill="#7860a6" opacity="0.7"/><ellipse cx="486.8" cy="489.8" rx="1.15" ry="1.44" fill="#7860a6" opacity="0.9"/></g>
<g filter="url(#b4)"><circle cx="497.5" cy="493.5" r="6.84" fill="#8e76b8" stroke="#e8dcee" stroke-width="0.6"/><ellipse cx="497.9" cy="493.9" rx="4.79" ry="4.56" fill="#7860a6" opacity="0.7"/><ellipse cx="496.8" cy="490.9" rx="1.79" ry="2.08" fill="#7860a6" opacity="0.9"/></g>
<g filter="url(#b4)"><circle cx="478.0" cy="498.9" r="6.156" fill="#8e76b8" stroke="#e8dcee" stroke-width="0.6"/><ellipse cx="478.4" cy="499.0" rx="4.31" ry="4.32" fill="#7860a6" opacity="0.7"/><ellipse cx="476.0" cy="498.4" rx="1.66" ry="1.41" fill="#7860a6" opacity="0.9"/></g>
<g filter="url(#b4)"><circle cx="491.4" cy="498.9" r="6.156" fill="#8e76b8" stroke="#e8dcee" stroke-width="0.6"/><ellipse cx="490.9" cy="498.7" rx="4.31" ry="4.14" fill="#7860a6" opacity="0.7"/><ellipse cx="490.1" cy="497.3" rx="1.59" ry="1.46" fill="#7860a6" opacity="0.9"/></g>
<g filter="url(#b4)"><circle cx="467.9" cy="506.3" r="6.156" fill="#8e76b8" stroke="#e8dcee" stroke-width="0.6"/><ellipse cx="468.2" cy="506.8" rx="4.31" ry="3.68" fill="#7860a6" opacity="0.7"/><ellipse cx="468.8" cy="506.1" rx="1.46" ry="1.94" fill="#7860a6" opacity="0.9"/></g>
<g filter="url(#b4)"><circle cx="476.0" cy="509.7" r="6.156" fill="#8e76b8" stroke="#e8dcee" stroke-width="0.6"/><ellipse cx="476.0" cy="510.3" rx="4.31" ry="4.06" fill="#7860a6" opacity="0.7"/><ellipse cx="474.7" cy="510.8" rx="1.88" ry="1.68" fill="#7860a6" opacity="0.9"/></g>
<g filter="url(#b4)"><circle cx="487.4" cy="507.7" r="6.3839999999999995" fill="#8e76b8" stroke="#e8dcee" stroke-width="0.6"/><ellipse cx="487.5" cy="507.5" rx="4.47" ry="4.43" fill="#7860a6" opacity="0.7"/><ellipse cx="488.8" cy="506.4" rx="1.67" ry="1.83" fill="#7860a6" opacity="0.9"/></g>
<g filter="url(#b4)"><circle cx="504.9" cy="507.7" r="6.3839999999999995" fill="#8e76b8" stroke="#e8dcee" stroke-width="0.6"/><ellipse cx="504.7" cy="507.8" rx="4.47" ry="4.23" fill="#7860a6" opacity="0.7"/><ellipse cx="503.7" cy="506.7" rx="1.47" ry="1.50" fill="#7860a6" opacity="0.9"/></g>
<g filter="url(#b4)"><circle cx="510.5" cy="502.0" r="4.56" fill="#8e76b8" stroke="#e8dcee" stroke-width="0.6"/><ellipse cx="510.9" cy="501.7" rx="3.19" ry="3.30" fill="#7860a6" opacity="0.7"/><ellipse cx="509.1" cy="501.6" rx="0.92" ry="1.34" fill="#7860a6" opacity="0.9"/></g>
<g filter="url(#b4)"><circle cx="460.5" cy="511.0" r="4.332" fill="#8e76b8" stroke="#e8dcee" stroke-width="0.6"/><ellipse cx="460.3" cy="511.4" rx="3.03" ry="2.47" fill="#7860a6" opacity="0.7"/><ellipse cx="459.8" cy="509.6" rx="1.38" ry="1.34" fill="#7860a6" opacity="0.9"/></g>
<g filter="url(#b4)"><circle cx="465.9" cy="515.7" r="4.56" fill="#8e76b8" stroke="#e8dcee" stroke-width="0.6"/><ellipse cx="466.5" cy="516.0" rx="3.19" ry="2.75" fill="#7860a6" opacity="0.7"/><ellipse cx="467.0" cy="515.3" rx="1.38" ry="1.01" fill="#7860a6" opacity="0.9"/></g>
<g filter="url(#b4)"><circle cx="480.7" cy="515.1" r="4.332" fill="#8e76b8" stroke="#e8dcee" stroke-width="0.6"/><ellipse cx="480.9" cy="514.9" rx="3.03" ry="2.48" fill="#7860a6" opacity="0.7"/><ellipse cx="481.9" cy="516.3" rx="1.21" ry="1.23" fill="#7860a6" opacity="0.9"/></g>
<g filter="url(#b4)"><circle cx="496.8" cy="513.7" r="5.243999999999999" fill="#8e76b8" stroke="#e8dcee" stroke-width="0.6"/><ellipse cx="497.1" cy="513.1" rx="3.67" ry="2.94" fill="#7860a6" opacity="0.7"/><ellipse cx="498.6" cy="512.7" rx="1.52" ry="1.30" fill="#7860a6" opacity="0.9"/></g>
<g filter="url(#b4)"><circle cx="459.1" cy="523.1" r="6.156" fill="#8e76b8" stroke="#e8dcee" stroke-width="0.6"/><ellipse cx="458.7" cy="523.6" rx="4.31" ry="3.77" fill="#7860a6" opacity="0.7"/><ellipse cx="459.3" cy="524.7" rx="1.92" ry="1.47" fill="#7860a6" opacity="0.9"/></g>
<g filter="url(#b4)"><circle cx="475.3" cy="523.8" r="6.156" fill="#8e76b8" stroke="#e8dcee" stroke-width="0.6"/><ellipse cx="475.2" cy="523.6" rx="4.31" ry="4.59" fill="#7860a6" opacity="0.7"/><ellipse cx="476.8" cy="522.9" rx="1.69" ry="1.65" fill="#7860a6" opacity="0.9"/></g>
<g filter="url(#b4)"><circle cx="484.0" cy="522.5" r="5.4719999999999995" fill="#8e76b8" stroke="#e8dcee" stroke-width="0.6"/><ellipse cx="483.7" cy="522.4" rx="3.83" ry="3.29" fill="#7860a6" opacity="0.7"/><ellipse cx="483.2" cy="523.2" rx="1.24" ry="1.72" fill="#7860a6" opacity="0.9"/></g>
<g filter="url(#b4)"><circle cx="492.1" cy="522.5" r="5.243999999999999" fill="#8e76b8" stroke="#e8dcee" stroke-width="0.6"/><ellipse cx="492.6" cy="522.7" rx="3.67" ry="3.28" fill="#7860a6" opacity="0.7"/><ellipse cx="493.3" cy="522.2" rx="1.67" ry="1.56" fill="#7860a6" opacity="0.9"/></g>
<g filter="url(#b4)"><circle cx="485.4" cy="531.2" r="5.813999999999999" fill="#8e76b8" stroke="#e8dcee" stroke-width="0.6"/><ellipse cx="485.6" cy="531.8" rx="4.07" ry="3.29" fill="#7860a6" opacity="0.7"/><ellipse cx="483.7" cy="531.2" rx="1.36" ry="1.75" fill="#7860a6" opacity="0.9"/></g>
<g filter="url(#b4)"><circle cx="491.4" cy="537.0" r="4.787999999999999" fill="#8e76b8" stroke="#e8dcee" stroke-width="0.6"/><ellipse cx="491.4" cy="537.3" rx="3.35" ry="2.90" fill="#7860a6" opacity="0.7"/><ellipse cx="492.3" cy="535.5" rx="1.35" ry="1.15" fill="#7860a6" opacity="0.9"/></g>
</g>
<path d="M500.9,518.4 L506.5,521.7 L502.5,524.7 Z" fill="#111"/>
<line x1="508" y1="528" x2="504.5" y2="523.2" stroke="#222" stroke-width="0.8"/>
<text x="509.4" y="532.4" font-size="5.2" text-anchor="middle" font-weight="bold" stroke="#111" stroke-width="0.08" fill="#111">G</text>
<line x1="503" y1="537" x2="509.5" y2="537" stroke="#444" stroke-width="0.6"/>
<rect x="0.5" y="0.5" width="519" height="562" fill="none" stroke="#000" stroke-width="1.1"/>
</svg></body></html>
